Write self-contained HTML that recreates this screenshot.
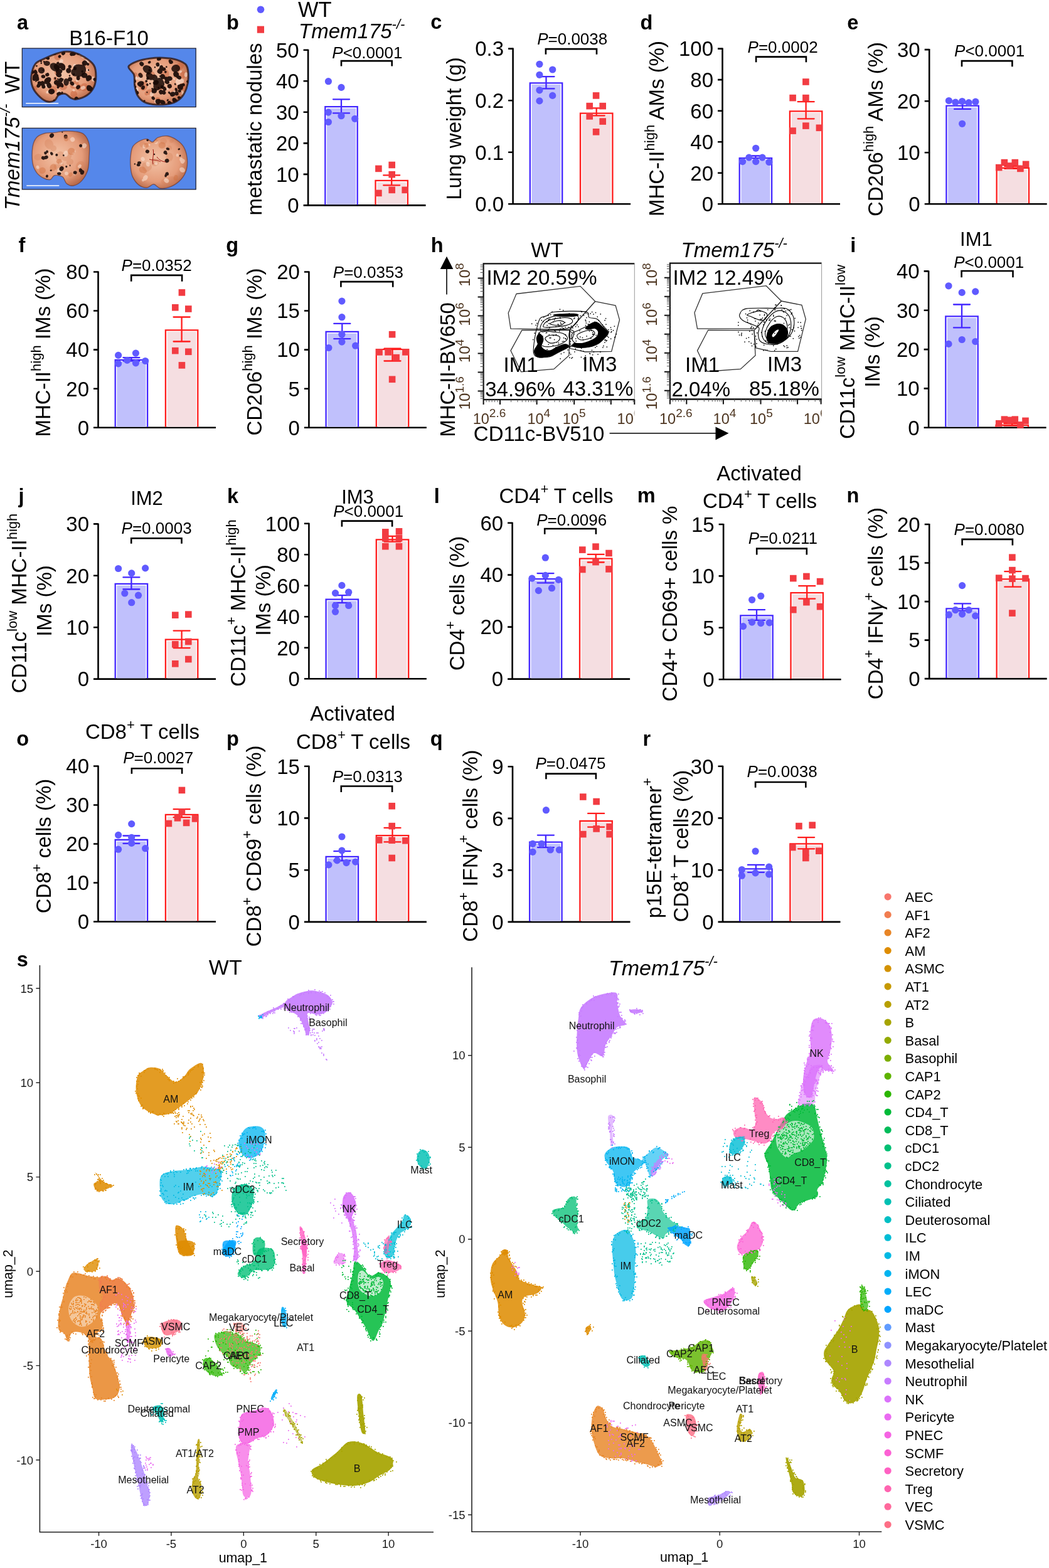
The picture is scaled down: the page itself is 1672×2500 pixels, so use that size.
<!DOCTYPE html><html><head><meta charset="utf-8"><title>Figure</title><style>html,body{margin:0;padding:0;background:#fff;}svg{display:block;}</style></head><body><svg width="1672" height="2500" viewBox="0 0 1672 2500" font-family="'Liberation Sans', Arial, sans-serif">
<rect width="1672" height="2500" fill="#fff"/>
<path d="M483.6 327.4H678.6M491.1 327.4V78.8" stroke="#000" stroke-width="2.6" fill="none"/>
<text x="476.6" y="339.2" font-size="33" text-anchor="end">0</text>
<text x="476.6" y="289.7" font-size="33" text-anchor="end">10</text>
<text x="476.6" y="240.2" font-size="33" text-anchor="end">20</text>
<text x="476.6" y="190.6" font-size="33" text-anchor="end">30</text>
<text x="476.6" y="141.1" font-size="33" text-anchor="end">40</text>
<text x="476.6" y="91.6" font-size="33" text-anchor="end">50</text>
<path d="M483.6 277.9H491.1M483.6 228.4H491.1M483.6 178.8H491.1M483.6 129.3H491.1M483.6 79.8H491.1" stroke="#000" stroke-width="2.6"/>
<rect x="520.9" y="172.8" width="46.2" height="153.4" fill="#c0c0fc"/>
<path d="M518.3 326.4V170.2H569.7V326.4" stroke="#4226ff" stroke-width="2.3" fill="none"/>
<path d="M531 158.3H557M531 180.4H557M544 158.3V180.4" stroke="#4226ff" stroke-width="2.3" stroke-linecap="round"/>
<circle cx="523.4" cy="129.7" r="5.6" fill="#605aff"/>
<circle cx="544" cy="139.4" r="5.6" fill="#605aff"/>
<circle cx="523.4" cy="179.1" r="5.6" fill="#605aff"/>
<circle cx="544" cy="184.7" r="5.6" fill="#605aff"/>
<circle cx="565.7" cy="189.3" r="5.6" fill="#605aff"/>
<circle cx="523.4" cy="194.5" r="5.6" fill="#605aff"/>
<rect x="601.1" y="290.5" width="46.2" height="35.7" fill="#f5dee1"/>
<path d="M598.5 326.4V287.9H649.9V326.4" stroke="#ff1c1c" stroke-width="2.3" fill="none"/>
<path d="M611.2 279.3H637.2M611.2 295.3H637.2M624.2 279.3V295.3" stroke="#ff1c1c" stroke-width="2.3" stroke-linecap="round"/>
<rect x="598.1" y="263.6" width="10.6" height="10.6" fill="#f23c42"/>
<rect x="619.4" y="257.7" width="10.6" height="10.6" fill="#f23c42"/>
<rect x="619.4" y="272.9" width="10.6" height="10.6" fill="#f23c42"/>
<rect x="598.1" y="302.6" width="10.6" height="10.6" fill="#f23c42"/>
<rect x="619.4" y="297.6" width="10.6" height="10.6" fill="#f23c42"/>
<rect x="640.4" y="297.6" width="10.6" height="10.6" fill="#f23c42"/>
<text x="529.3" y="92.8" font-size="26"><tspan font-style="italic">P</tspan>&lt;0.0001</text>
<path d="M544 105.6V97.1H624.7V105.6" stroke="#000" stroke-width="2.6" fill="none"/>
<text transform="translate(417,206) rotate(-90)" font-size="33" text-anchor="middle">metastatic nodules</text>
<text x="360.9" y="46.6" font-size="32.5" font-weight="bold">b</text>
<path d="M810.1 325.2H1005.1M817.6 325.2V76.6" stroke="#000" stroke-width="2.6" fill="none"/>
<text x="803.1" y="337" font-size="33" text-anchor="end">0.0</text>
<text x="803.1" y="254.5" font-size="33" text-anchor="end">0.1</text>
<text x="803.1" y="172" font-size="33" text-anchor="end">0.2</text>
<text x="803.1" y="89.4" font-size="33" text-anchor="end">0.3</text>
<path d="M810.1 242.7H817.6M810.1 160.2H817.6M810.1 77.6H817.6" stroke="#000" stroke-width="2.6"/>
<rect x="847.4" y="134.9" width="46.2" height="189.2" fill="#c0c0fc"/>
<path d="M844.8 324.2V132.3H896.2V324.2" stroke="#4226ff" stroke-width="2.3" fill="none"/>
<path d="M857.5 122.1H883.5M857.5 141.4H883.5M870.5 122.1V141.4" stroke="#4226ff" stroke-width="2.3" stroke-linecap="round"/>
<circle cx="859.9" cy="102.3" r="5.6" fill="#605aff"/>
<circle cx="880.7" cy="111" r="5.6" fill="#605aff"/>
<circle cx="859.9" cy="119.3" r="5.6" fill="#605aff"/>
<circle cx="859.9" cy="143.8" r="5.6" fill="#605aff"/>
<circle cx="880.7" cy="152.4" r="5.6" fill="#605aff"/>
<circle cx="859.9" cy="160.9" r="5.6" fill="#605aff"/>
<rect x="927.6" y="183.2" width="46.2" height="140.8" fill="#f5dee1"/>
<path d="M925 324.2V180.6H976.4V324.2" stroke="#ff1c1c" stroke-width="2.3" fill="none"/>
<path d="M937.7 172.4H963.7M937.7 184.3H963.7M950.7 172.4V184.3" stroke="#ff1c1c" stroke-width="2.3" stroke-linecap="round"/>
<rect x="944.8" y="147.1" width="10.6" height="10.6" fill="#f23c42"/>
<rect x="934.4" y="163.8" width="10.6" height="10.6" fill="#f23c42"/>
<rect x="955.4" y="163.8" width="10.6" height="10.6" fill="#f23c42"/>
<rect x="934.4" y="180.1" width="10.6" height="10.6" fill="#f23c42"/>
<rect x="955.4" y="188.3" width="10.6" height="10.6" fill="#f23c42"/>
<rect x="944.8" y="205" width="10.6" height="10.6" fill="#f23c42"/>
<text x="856.2" y="70.5" font-size="26"><tspan font-style="italic">P</tspan>=0.0038</text>
<path d="M869.9 86.7V78.1H951V86.7" stroke="#000" stroke-width="2.6" fill="none"/>
<text transform="translate(735,205) rotate(-90)" font-size="33" text-anchor="middle">Lung weight (g)</text>
<text x="686.2" y="46" font-size="32.5" font-weight="bold">c</text>
<path d="M1144 325.2H1339M1151.5 325.2V76.6" stroke="#000" stroke-width="2.6" fill="none"/>
<text x="1137" y="337" font-size="33" text-anchor="end">0</text>
<text x="1137" y="287.5" font-size="33" text-anchor="end">20</text>
<text x="1137" y="238" font-size="33" text-anchor="end">40</text>
<text x="1137" y="188.5" font-size="33" text-anchor="end">60</text>
<text x="1137" y="138.9" font-size="33" text-anchor="end">80</text>
<text x="1137" y="89.4" font-size="33" text-anchor="end">100</text>
<path d="M1144 275.7H1151.5M1144 226.2H1151.5M1144 176.7H1151.5M1144 127.1H1151.5M1144 77.6H1151.5" stroke="#000" stroke-width="2.6"/>
<rect x="1181.3" y="254.8" width="46.2" height="69.3" fill="#c0c0fc"/>
<path d="M1178.7 324.2V252.2H1230.1V324.2" stroke="#4226ff" stroke-width="2.3" fill="none"/>
<path d="M1191.4 248.5H1217.4M1191.4 252.2H1217.4M1204.4 248.5V252.2" stroke="#4226ff" stroke-width="2.3" stroke-linecap="round"/>
<circle cx="1204.7" cy="236.3" r="5.6" fill="#605aff"/>
<circle cx="1193.8" cy="251.1" r="5.6" fill="#605aff"/>
<circle cx="1215.1" cy="251.1" r="5.6" fill="#605aff"/>
<circle cx="1183.6" cy="257.6" r="5.6" fill="#605aff"/>
<circle cx="1204.7" cy="257.6" r="5.6" fill="#605aff"/>
<circle cx="1225.9" cy="258.5" r="5.6" fill="#605aff"/>
<rect x="1261.5" y="180" width="46.2" height="144.1" fill="#f5dee1"/>
<path d="M1258.9 324.2V177.4H1310.3V324.2" stroke="#ff1c1c" stroke-width="2.3" fill="none"/>
<path d="M1271.6 162.2H1297.6M1271.6 189.3H1297.6M1284.6 162.2V189.3" stroke="#ff1c1c" stroke-width="2.3" stroke-linecap="round"/>
<rect x="1279.1" y="125.2" width="10.6" height="10.6" fill="#f23c42"/>
<rect x="1258.3" y="150.8" width="10.6" height="10.6" fill="#f23c42"/>
<rect x="1279.1" y="150.8" width="10.6" height="10.6" fill="#f23c42"/>
<rect x="1279.1" y="195.3" width="10.6" height="10.6" fill="#f23c42"/>
<rect x="1258.3" y="203.3" width="10.6" height="10.6" fill="#f23c42"/>
<rect x="1300.6" y="198.5" width="10.6" height="10.6" fill="#f23c42"/>
<text x="1191.6" y="84.1" font-size="26"><tspan font-style="italic">P</tspan>=0.0002</text>
<path d="M1205.1 99.3V90.6H1284.9V99.3" stroke="#000" stroke-width="2.6" fill="none"/>
<text transform="translate(1057.5,205) rotate(-90)" font-size="33" text-anchor="middle">MHC-II<tspan font-size="22" dy="-15">high</tspan><tspan dy="15">​</tspan> AMs (%)</text>
<text x="1020.6" y="46.6" font-size="32.5" font-weight="bold">d</text>
<path d="M1473.7 325.2H1668.7M1481.2 325.2V78.1" stroke="#000" stroke-width="2.6" fill="none"/>
<text x="1466.7" y="337" font-size="33" text-anchor="end">0</text>
<text x="1466.7" y="255" font-size="33" text-anchor="end">10</text>
<text x="1466.7" y="173" font-size="33" text-anchor="end">20</text>
<text x="1466.7" y="90.9" font-size="33" text-anchor="end">30</text>
<path d="M1473.7 243.2H1481.2M1473.7 161.2H1481.2M1473.7 79.1H1481.2" stroke="#000" stroke-width="2.6"/>
<rect x="1511" y="171.3" width="46.2" height="152.7" fill="#c0c0fc"/>
<path d="M1508.4 324.2V168.7H1559.8V324.2" stroke="#4226ff" stroke-width="2.3" fill="none"/>
<path d="M1521.1 164.4H1547.1M1521.1 173.9H1547.1M1534.1 164.4V173.9" stroke="#4226ff" stroke-width="2.3" stroke-linecap="round"/>
<circle cx="1512.4" cy="160.5" r="5.6" fill="#605aff"/>
<circle cx="1522.8" cy="163.1" r="5.6" fill="#605aff"/>
<circle cx="1533.6" cy="161.5" r="5.6" fill="#605aff"/>
<circle cx="1544.1" cy="163.7" r="5.6" fill="#605aff"/>
<circle cx="1554.9" cy="162.2" r="5.6" fill="#605aff"/>
<circle cx="1533.6" cy="197.3" r="5.6" fill="#605aff"/>
<rect x="1591.2" y="270.4" width="46.2" height="53.7" fill="#f5dee1"/>
<path d="M1588.6 324.2V267.8H1640V324.2" stroke="#ff1c1c" stroke-width="2.3" fill="none"/>
<path d="M1601.3 265H1627.3M1601.3 268.9H1627.3M1614.3 265V268.9" stroke="#ff1c1c" stroke-width="2.3" stroke-linecap="round"/>
<rect x="1586.9" y="261.8" width="10.6" height="10.6" fill="#f23c42"/>
<rect x="1595.6" y="253.8" width="10.6" height="10.6" fill="#f23c42"/>
<rect x="1603.8" y="259.2" width="10.6" height="10.6" fill="#f23c42"/>
<rect x="1612.5" y="253.8" width="10.6" height="10.6" fill="#f23c42"/>
<rect x="1621.1" y="263.6" width="10.6" height="10.6" fill="#f23c42"/>
<rect x="1629.8" y="256.6" width="10.6" height="10.6" fill="#f23c42"/>
<text x="1521.1" y="90" font-size="26"><tspan font-style="italic">P</tspan>&lt;0.0001</text>
<path d="M1533 106.2V97.1H1613.4V106.2" stroke="#000" stroke-width="2.6" fill="none"/>
<text transform="translate(1407,206) rotate(-90)" font-size="33" text-anchor="middle">CD206<tspan font-size="22" dy="-15">high</tspan><tspan dy="15">​</tspan> AMs (%)</text>
<text x="1350.2" y="46.6" font-size="32.5" font-weight="bold">e</text>
<path d="M149 681.7H344M156.5 681.7V432.5" stroke="#000" stroke-width="2.6" fill="none"/>
<text x="142" y="693.5" font-size="33" text-anchor="end">0</text>
<text x="142" y="631.5" font-size="33" text-anchor="end">20</text>
<text x="142" y="569.4" font-size="33" text-anchor="end">40</text>
<text x="142" y="507.3" font-size="33" text-anchor="end">60</text>
<text x="142" y="445.3" font-size="33" text-anchor="end">80</text>
<path d="M149 619.7H156.5M149 557.6H156.5M149 495.5H156.5M149 433.5H156.5" stroke="#000" stroke-width="2.6"/>
<rect x="186.3" y="576.4" width="46.2" height="104.2" fill="#c0c0fc"/>
<path d="M183.7 680.7V573.8H235.1V680.7" stroke="#4226ff" stroke-width="2.3" fill="none"/>
<path d="M196.4 570.1H222.4M196.4 575.5H222.4M209.4 570.1V575.5" stroke="#4226ff" stroke-width="2.3" stroke-linecap="round"/>
<circle cx="188.6" cy="566.4" r="5.6" fill="#605aff"/>
<circle cx="216.4" cy="563.1" r="5.6" fill="#605aff"/>
<circle cx="202.7" cy="574.4" r="5.6" fill="#605aff"/>
<circle cx="231.6" cy="575.5" r="5.6" fill="#605aff"/>
<circle cx="188.6" cy="579.8" r="5.6" fill="#605aff"/>
<circle cx="216.4" cy="578.8" r="5.6" fill="#605aff"/>
<rect x="266.5" y="528.9" width="46.2" height="151.7" fill="#f5dee1"/>
<path d="M263.9 680.7V526.3H315.3V680.7" stroke="#ff1c1c" stroke-width="2.3" fill="none"/>
<path d="M276.6 505.5H302.6M276.6 544.5H302.6M289.6 505.5V544.5" stroke="#ff1c1c" stroke-width="2.3" stroke-linecap="round"/>
<rect x="284.6" y="461.1" width="10.6" height="10.6" fill="#f23c42"/>
<rect x="274" y="485" width="10.6" height="10.6" fill="#f23c42"/>
<rect x="295" y="487.2" width="10.6" height="10.6" fill="#f23c42"/>
<rect x="274" y="553.9" width="10.6" height="10.6" fill="#f23c42"/>
<rect x="295" y="555.5" width="10.6" height="10.6" fill="#f23c42"/>
<rect x="284.6" y="577.1" width="10.6" height="10.6" fill="#f23c42"/>
<text x="193.6" y="432.4" font-size="26"><tspan font-style="italic">P</tspan>=0.0352</text>
<path d="M209.2 448.7V438.9H290.1V448.7" stroke="#000" stroke-width="2.6" fill="none"/>
<text transform="translate(80.4,562) rotate(-90)" font-size="33" text-anchor="middle">MHC-II<tspan font-size="22" dy="-15">high</tspan><tspan dy="15">​</tspan> IMs (%)</text>
<text x="29.6" y="402" font-size="32.5" font-weight="bold">f</text>
<path d="M484.9 681.7H679.9M492.4 681.7V432.5" stroke="#000" stroke-width="2.6" fill="none"/>
<text x="477.9" y="693.5" font-size="33" text-anchor="end">0</text>
<text x="477.9" y="631.5" font-size="33" text-anchor="end">5</text>
<text x="477.9" y="569.4" font-size="33" text-anchor="end">10</text>
<text x="477.9" y="507.3" font-size="33" text-anchor="end">15</text>
<text x="477.9" y="445.3" font-size="33" text-anchor="end">20</text>
<path d="M484.9 619.7H492.4M484.9 557.6H492.4M484.9 495.5H492.4M484.9 433.5H492.4" stroke="#000" stroke-width="2.6"/>
<rect x="522.2" y="531.5" width="46.2" height="149.1" fill="#c0c0fc"/>
<path d="M519.6 680.7V528.9H571V680.7" stroke="#4226ff" stroke-width="2.3" fill="none"/>
<path d="M532.3 515.9H558.3M532.3 540.2H558.3M545.3 515.9V540.2" stroke="#4226ff" stroke-width="2.3" stroke-linecap="round"/>
<circle cx="544.9" cy="480.1" r="5.6" fill="#605aff"/>
<circle cx="544.9" cy="505.7" r="5.6" fill="#605aff"/>
<circle cx="544.9" cy="533.2" r="5.6" fill="#605aff"/>
<circle cx="544.9" cy="545.1" r="5.6" fill="#605aff"/>
<circle cx="523.9" cy="554.5" r="5.6" fill="#605aff"/>
<circle cx="566.6" cy="551.2" r="5.6" fill="#605aff"/>
<rect x="602.4" y="559.7" width="46.2" height="120.9" fill="#f5dee1"/>
<path d="M599.8 680.7V557.1H651.2V680.7" stroke="#ff1c1c" stroke-width="2.3" fill="none"/>
<path d="M612.5 555.6H638.5M612.5 575.5H638.5M625.5 555.6V575.5" stroke="#ff1c1c" stroke-width="2.3" stroke-linecap="round"/>
<rect x="619.8" y="527.9" width="10.6" height="10.6" fill="#f23c42"/>
<rect x="599.2" y="556.1" width="10.6" height="10.6" fill="#f23c42"/>
<rect x="613.3" y="556.1" width="10.6" height="10.6" fill="#f23c42"/>
<rect x="641.1" y="556.1" width="10.6" height="10.6" fill="#f23c42"/>
<rect x="626.3" y="564.8" width="10.6" height="10.6" fill="#f23c42"/>
<rect x="619.8" y="599.5" width="10.6" height="10.6" fill="#f23c42"/>
<text x="530.8" y="443.2" font-size="26"><tspan font-style="italic">P</tspan>=0.0353</text>
<path d="M543.4 457.8V449.1H626.2V457.8" stroke="#000" stroke-width="2.6" fill="none"/>
<text transform="translate(417,561) rotate(-90)" font-size="33" text-anchor="middle">CD206<tspan font-size="22" dy="-15">high</tspan><tspan dy="15">​</tspan> IMs (%)</text>
<text x="360.2" y="402" font-size="32.5" font-weight="bold">g</text>
<path d="M1472.6 681.7H1667.6M1480.1 681.7V431.4" stroke="#000" stroke-width="2.6" fill="none"/>
<text x="1465.6" y="693.5" font-size="33" text-anchor="end">0</text>
<text x="1465.6" y="631.2" font-size="33" text-anchor="end">10</text>
<text x="1465.6" y="568.9" font-size="33" text-anchor="end">20</text>
<text x="1465.6" y="506.5" font-size="33" text-anchor="end">30</text>
<text x="1465.6" y="444.2" font-size="33" text-anchor="end">40</text>
<path d="M1472.6 619.4H1480.1M1472.6 557.1H1480.1M1472.6 494.7H1480.1M1472.6 432.4H1480.1" stroke="#000" stroke-width="2.6"/>
<rect x="1509.9" y="507" width="46.2" height="173.6" fill="#c0c0fc"/>
<path d="M1507.3 680.7V504.4H1558.7V680.7" stroke="#4226ff" stroke-width="2.3" fill="none"/>
<path d="M1520 485.5H1546M1520 522.4H1546M1533 485.5V522.4" stroke="#4226ff" stroke-width="2.3" stroke-linecap="round"/>
<circle cx="1512" cy="455.8" r="5.6" fill="#605aff"/>
<circle cx="1533.2" cy="466.4" r="5.6" fill="#605aff"/>
<circle cx="1554.7" cy="464.9" r="5.6" fill="#605aff"/>
<circle cx="1512" cy="548.4" r="5.6" fill="#605aff"/>
<circle cx="1533.2" cy="541.5" r="5.6" fill="#605aff"/>
<circle cx="1554.7" cy="544.5" r="5.6" fill="#605aff"/>
<rect x="1590.1" y="680.4" width="46.2" height="0.1" fill="#f5dee1"/>
<path d="M1587.5 680.7V677.8H1638.9V680.7" stroke="#ff1c1c" stroke-width="2.3" fill="none"/>
<path d="M1600.2 675.2H1626.2M1600.2 678.5H1626.2M1613.2 675.2V678.5" stroke="#ff1c1c" stroke-width="2.3" stroke-linecap="round"/>
<rect x="1586.9" y="669.9" width="10.6" height="10.6" fill="#f23c42"/>
<rect x="1595.6" y="663.4" width="10.6" height="10.6" fill="#f23c42"/>
<rect x="1605.3" y="664.5" width="10.6" height="10.6" fill="#f23c42"/>
<rect x="1612.5" y="663.4" width="10.6" height="10.6" fill="#f23c42"/>
<rect x="1621.1" y="672.1" width="10.6" height="10.6" fill="#f23c42"/>
<rect x="1629.2" y="665.6" width="10.6" height="10.6" fill="#f23c42"/>
<text x="1520.2" y="427" font-size="26"><tspan font-style="italic">P</tspan>&lt;0.0001</text>
<path d="M1532.6 442.2V432H1614.5V442.2" stroke="#000" stroke-width="2.6" fill="none"/>
<text transform="translate(1362,561) rotate(-90)" font-size="33" text-anchor="middle">CD11c<tspan font-size="22" dy="-15">low</tspan><tspan dy="15">​</tspan> MHC-II<tspan font-size="22" dy="-15">low</tspan><tspan dy="15">​</tspan></text>
<text transform="translate(1402.4,561) rotate(-90)" font-size="33" text-anchor="middle">IMs (%)</text>
<text x="1555.9" y="392.3" font-size="31" text-anchor="middle">IM1</text>
<text x="1355.2" y="402" font-size="32.5" font-weight="bold">i</text>
<path d="M149 1082.6H344M156.5 1082.6V834.4" stroke="#000" stroke-width="2.6" fill="none"/>
<text x="142" y="1094.4" font-size="33" text-anchor="end">0</text>
<text x="142" y="1012" font-size="33" text-anchor="end">10</text>
<text x="142" y="929.6" font-size="33" text-anchor="end">20</text>
<text x="142" y="847.2" font-size="33" text-anchor="end">30</text>
<path d="M149 1000.2H156.5M149 917.8H156.5M149 835.4H156.5" stroke="#000" stroke-width="2.6"/>
<rect x="186.3" y="933.4" width="46.2" height="148" fill="#c0c0fc"/>
<path d="M183.7 1081.6V930.8H235.1V1081.6" stroke="#4226ff" stroke-width="2.3" fill="none"/>
<path d="M196.4 920.4H222.4M196.4 939.5H222.4M209.4 920.4V939.5" stroke="#4226ff" stroke-width="2.3" stroke-linecap="round"/>
<circle cx="188.6" cy="906.5" r="5.6" fill="#605aff"/>
<circle cx="231.6" cy="905.9" r="5.6" fill="#605aff"/>
<circle cx="209.7" cy="913.9" r="5.6" fill="#605aff"/>
<circle cx="198.8" cy="946" r="5.6" fill="#605aff"/>
<circle cx="220.5" cy="949.2" r="5.6" fill="#605aff"/>
<circle cx="209.7" cy="960.7" r="5.6" fill="#605aff"/>
<rect x="266.5" y="1022.3" width="46.2" height="59.1" fill="#f5dee1"/>
<path d="M263.9 1081.6V1019.7H315.3V1081.6" stroke="#ff1c1c" stroke-width="2.3" fill="none"/>
<path d="M276.6 1005.6H302.6M276.6 1033.1H302.6M289.6 1005.6V1033.1" stroke="#ff1c1c" stroke-width="2.3" stroke-linecap="round"/>
<rect x="274" y="975.4" width="10.6" height="10.6" fill="#f23c42"/>
<rect x="295" y="974.3" width="10.6" height="10.6" fill="#f23c42"/>
<rect x="274" y="1022" width="10.6" height="10.6" fill="#f23c42"/>
<rect x="295" y="1017.7" width="10.6" height="10.6" fill="#f23c42"/>
<rect x="295" y="1045.8" width="10.6" height="10.6" fill="#f23c42"/>
<rect x="274" y="1053" width="10.6" height="10.6" fill="#f23c42"/>
<text x="193.6" y="850.6" font-size="26"><tspan font-style="italic">P</tspan>=0.0003</text>
<path d="M209.2 866.8V858.2H289.5V866.8" stroke="#000" stroke-width="2.6" fill="none"/>
<text transform="translate(42.1,962) rotate(-90)" font-size="33" text-anchor="middle">CD11c<tspan font-size="22" dy="-15">low</tspan><tspan dy="15">​</tspan> MHC-II<tspan font-size="22" dy="-15">high</tspan><tspan dy="15">​</tspan></text>
<text transform="translate(82.3,958) rotate(-90)" font-size="33" text-anchor="middle">IMs (%)</text>
<text x="234" y="804.6" font-size="31" text-anchor="middle">IM2</text>
<text x="29.6" y="802" font-size="32.5" font-weight="bold">j</text>
<path d="M484.9 1082.2H679.9M492.4 1082.2V833.8" stroke="#000" stroke-width="2.6" fill="none"/>
<text x="477.9" y="1094" font-size="33" text-anchor="end">0</text>
<text x="477.9" y="1044.5" font-size="33" text-anchor="end">20</text>
<text x="477.9" y="995" font-size="33" text-anchor="end">40</text>
<text x="477.9" y="945.5" font-size="33" text-anchor="end">60</text>
<text x="477.9" y="896" font-size="33" text-anchor="end">80</text>
<text x="477.9" y="846.6" font-size="33" text-anchor="end">100</text>
<path d="M484.9 1032.7H492.4M484.9 983.2H492.4M484.9 933.7H492.4M484.9 884.2H492.4M484.9 834.8H492.4" stroke="#000" stroke-width="2.6"/>
<rect x="522.2" y="958.3" width="46.2" height="122.6" fill="#c0c0fc"/>
<path d="M519.6 1081.2V955.7H571V1081.2" stroke="#4226ff" stroke-width="2.3" fill="none"/>
<path d="M532.3 949.2H558.3M532.3 961.2H558.3M545.3 949.2V961.2" stroke="#4226ff" stroke-width="2.3" stroke-linecap="round"/>
<circle cx="544.9" cy="933.4" r="5.6" fill="#605aff"/>
<circle cx="534.5" cy="945.6" r="5.6" fill="#605aff"/>
<circle cx="555.7" cy="944.2" r="5.6" fill="#605aff"/>
<circle cx="534.5" cy="965.5" r="5.6" fill="#605aff"/>
<circle cx="555.7" cy="965.5" r="5.6" fill="#605aff"/>
<circle cx="534.5" cy="975.3" r="5.6" fill="#605aff"/>
<rect x="602.4" y="862.9" width="46.2" height="218" fill="#f5dee1"/>
<path d="M599.8 1081.2V860.3H651.2V1081.2" stroke="#ff1c1c" stroke-width="2.3" fill="none"/>
<path d="M612.5 854.9H638.5M612.5 863.6H638.5M625.5 854.9V863.6" stroke="#ff1c1c" stroke-width="2.3" stroke-linecap="round"/>
<rect x="609" y="843.1" width="10.6" height="10.6" fill="#f23c42"/>
<rect x="630.7" y="842" width="10.6" height="10.6" fill="#f23c42"/>
<rect x="609" y="852.9" width="10.6" height="10.6" fill="#f23c42"/>
<rect x="630.7" y="852.9" width="10.6" height="10.6" fill="#f23c42"/>
<rect x="609" y="865.9" width="10.6" height="10.6" fill="#f23c42"/>
<rect x="630.7" y="865.9" width="10.6" height="10.6" fill="#f23c42"/>
<text x="531.2" y="824.1" font-size="26"><tspan font-style="italic">P</tspan>&lt;0.0001</text>
<path d="M544.9 839.7V830.6H625.1V839.7" stroke="#000" stroke-width="2.6" fill="none"/>
<text transform="translate(391,961.5) rotate(-90)" font-size="33" text-anchor="middle">CD11c<tspan font-size="22" dy="-15">+</tspan><tspan dy="15">​</tspan> MHC-II<tspan font-size="22" dy="-15">high</tspan><tspan dy="15">​</tspan></text>
<text transform="translate(431,957) rotate(-90)" font-size="33" text-anchor="middle">IMs (%)</text>
<text x="570" y="802.9" font-size="31" text-anchor="middle">IM3</text>
<text x="362" y="801.8" font-size="32.5" font-weight="bold">k</text>
<path d="M809.1 1082.6H1004.1M816.6 1082.6V832.7" stroke="#000" stroke-width="2.6" fill="none"/>
<text x="802.1" y="1094.4" font-size="33" text-anchor="end">0</text>
<text x="802.1" y="1011.4" font-size="33" text-anchor="end">20</text>
<text x="802.1" y="928.4" font-size="33" text-anchor="end">40</text>
<text x="802.1" y="845.5" font-size="33" text-anchor="end">60</text>
<path d="M809.1 999.6H816.6M809.1 916.6H816.6M809.1 833.7H816.6" stroke="#000" stroke-width="2.6"/>
<rect x="846.4" y="925.8" width="46.2" height="155.6" fill="#c0c0fc"/>
<path d="M843.8 1081.6V923.2H895.2V1081.6" stroke="#4226ff" stroke-width="2.3" fill="none"/>
<path d="M856.5 914.1H882.5M856.5 929.3H882.5M869.5 914.1V929.3" stroke="#4226ff" stroke-width="2.3" stroke-linecap="round"/>
<circle cx="869.3" cy="889.2" r="5.6" fill="#605aff"/>
<circle cx="869.3" cy="917.4" r="5.6" fill="#605aff"/>
<circle cx="848" cy="922.1" r="5.6" fill="#605aff"/>
<circle cx="890.3" cy="924.3" r="5.6" fill="#605aff"/>
<circle cx="858.4" cy="941.6" r="5.6" fill="#605aff"/>
<circle cx="879.5" cy="937.7" r="5.6" fill="#605aff"/>
<rect x="926.6" y="893.3" width="46.2" height="188.1" fill="#f5dee1"/>
<path d="M924 1081.6V890.7H975.4V1081.6" stroke="#ff1c1c" stroke-width="2.3" fill="none"/>
<path d="M936.7 883.8H962.7M936.7 896.5H962.7M949.7 883.8V896.5" stroke="#ff1c1c" stroke-width="2.3" stroke-linecap="round"/>
<rect x="923" y="871.3" width="10.6" height="10.6" fill="#f23c42"/>
<rect x="944.2" y="866.3" width="10.6" height="10.6" fill="#f23c42"/>
<rect x="965.2" y="876.7" width="10.6" height="10.6" fill="#f23c42"/>
<rect x="944.2" y="890.8" width="10.6" height="10.6" fill="#f23c42"/>
<rect x="923" y="902.7" width="10.6" height="10.6" fill="#f23c42"/>
<rect x="965.2" y="902.1" width="10.6" height="10.6" fill="#f23c42"/>
<text x="855.2" y="838" font-size="26"><tspan font-style="italic">P</tspan>=0.0096</text>
<path d="M868.2 851.7V843H949.9V851.7" stroke="#000" stroke-width="2.6" fill="none"/>
<text transform="translate(739.6,962) rotate(-90)" font-size="33" text-anchor="middle">CD4<tspan font-size="22" dy="-15">+</tspan><tspan dy="15">​</tspan> cells (%)</text>
<text x="886.5" y="802.4" font-size="33" text-anchor="middle">CD4<tspan font-size="22" dy="-15">+</tspan><tspan dy="15">​</tspan> T cells</text>
<text x="691.8" y="801.8" font-size="32.5" font-weight="bold">l</text>
<path d="M1145.6 1083.2H1340.6M1153.1 1083.2V835" stroke="#000" stroke-width="2.6" fill="none"/>
<text x="1138.6" y="1095" font-size="33" text-anchor="end">0</text>
<text x="1138.6" y="1012.6" font-size="33" text-anchor="end">5</text>
<text x="1138.6" y="930.2" font-size="33" text-anchor="end">10</text>
<text x="1138.6" y="847.8" font-size="33" text-anchor="end">15</text>
<path d="M1145.6 1000.8H1153.1M1145.6 918.4H1153.1M1145.6 836H1153.1" stroke="#000" stroke-width="2.6"/>
<rect x="1182.9" y="983.9" width="46.2" height="98.1" fill="#c0c0fc"/>
<path d="M1180.3 1082.2V981.3H1231.7V1082.2" stroke="#4226ff" stroke-width="2.3" fill="none"/>
<path d="M1193 972.2H1219M1193 988.9H1219M1206 972.2V988.9" stroke="#4226ff" stroke-width="2.3" stroke-linecap="round"/>
<circle cx="1212.7" cy="950.3" r="5.6" fill="#605aff"/>
<circle cx="1198.6" cy="956.3" r="5.6" fill="#605aff"/>
<circle cx="1198.6" cy="992.1" r="5.6" fill="#605aff"/>
<circle cx="1212.7" cy="993.6" r="5.6" fill="#605aff"/>
<circle cx="1226.4" cy="992.8" r="5.6" fill="#605aff"/>
<circle cx="1184.5" cy="998.6" r="5.6" fill="#605aff"/>
<rect x="1263.1" y="947.7" width="46.2" height="134.3" fill="#f5dee1"/>
<path d="M1260.5 1082.2V945.1H1311.9V1082.2" stroke="#ff1c1c" stroke-width="2.3" fill="none"/>
<path d="M1273.2 934.2H1299.2M1273.2 954.6H1299.2M1286.2 934.2V954.6" stroke="#ff1c1c" stroke-width="2.3" stroke-linecap="round"/>
<rect x="1259" y="916.8" width="10.6" height="10.6" fill="#f23c42"/>
<rect x="1280.1" y="913.7" width="10.6" height="10.6" fill="#f23c42"/>
<rect x="1301.8" y="921.8" width="10.6" height="10.6" fill="#f23c42"/>
<rect x="1280.1" y="954.9" width="10.6" height="10.6" fill="#f23c42"/>
<rect x="1259" y="966.9" width="10.6" height="10.6" fill="#f23c42"/>
<rect x="1301.8" y="961.9" width="10.6" height="10.6" fill="#f23c42"/>
<text x="1192.8" y="867.4" font-size="26"><tspan font-style="italic">P</tspan>=0.0211</text>
<path d="M1206.2 884.4V874.6H1285.8V884.4" stroke="#000" stroke-width="2.6" fill="none"/>
<text transform="translate(1078.8,962.5) rotate(-90)" font-size="33" text-anchor="middle">CD4+ CD69+ cells %</text>
<text x="1210" y="765.5" font-size="33" text-anchor="middle">Activated</text>
<text x="1211" y="810" font-size="33" text-anchor="middle">CD4<tspan font-size="22" dy="-15">+</tspan><tspan dy="15">​</tspan> T cells</text>
<text x="1015.7" y="801.3" font-size="32.5" font-weight="bold">m</text>
<path d="M1473.7 1082.1H1668.7M1481.2 1082.1V835" stroke="#000" stroke-width="2.6" fill="none"/>
<text x="1466.7" y="1093.9" font-size="33" text-anchor="end">0</text>
<text x="1466.7" y="1032.4" font-size="33" text-anchor="end">5</text>
<text x="1466.7" y="970.9" font-size="33" text-anchor="end">10</text>
<text x="1466.7" y="909.3" font-size="33" text-anchor="end">15</text>
<text x="1466.7" y="847.8" font-size="33" text-anchor="end">20</text>
<path d="M1473.7 1020.6H1481.2M1473.7 959.1H1481.2M1473.7 897.5H1481.2M1473.7 836H1481.2" stroke="#000" stroke-width="2.6"/>
<rect x="1511" y="973" width="46.2" height="107.9" fill="#c0c0fc"/>
<path d="M1508.4 1081.1V970.4H1559.8V1081.1" stroke="#4226ff" stroke-width="2.3" fill="none"/>
<path d="M1521.1 962.4H1547.1M1521.1 973.7H1547.1M1534.1 962.4V973.7" stroke="#4226ff" stroke-width="2.3" stroke-linecap="round"/>
<circle cx="1533.6" cy="933.6" r="5.6" fill="#605aff"/>
<circle cx="1522.8" cy="972.6" r="5.6" fill="#605aff"/>
<circle cx="1544.1" cy="972.6" r="5.6" fill="#605aff"/>
<circle cx="1533.6" cy="979.1" r="5.6" fill="#605aff"/>
<circle cx="1512.4" cy="980.2" r="5.6" fill="#605aff"/>
<circle cx="1554.7" cy="981.9" r="5.6" fill="#605aff"/>
<rect x="1591.2" y="926" width="46.2" height="154.9" fill="#f5dee1"/>
<path d="M1588.6 1081.1V923.4H1640V1081.1" stroke="#ff1c1c" stroke-width="2.3" fill="none"/>
<path d="M1601.3 911.2H1627.3M1601.3 935.7H1627.3M1614.3 911.2V935.7" stroke="#ff1c1c" stroke-width="2.3" stroke-linecap="round"/>
<rect x="1608.1" y="883.4" width="10.6" height="10.6" fill="#f23c42"/>
<rect x="1608.1" y="903.8" width="10.6" height="10.6" fill="#f23c42"/>
<rect x="1586.9" y="916.3" width="10.6" height="10.6" fill="#f23c42"/>
<rect x="1608.1" y="917.4" width="10.6" height="10.6" fill="#f23c42"/>
<rect x="1629.2" y="916.8" width="10.6" height="10.6" fill="#f23c42"/>
<rect x="1608.1" y="972.3" width="10.6" height="10.6" fill="#f23c42"/>
<text x="1520.6" y="853.3" font-size="26"><tspan font-style="italic">P</tspan>=0.0080</text>
<path d="M1533.6 869.6V859.9H1613.9V869.6" stroke="#000" stroke-width="2.6" fill="none"/>
<text transform="translate(1407,962) rotate(-90)" font-size="33" text-anchor="middle">CD4<tspan font-size="22" dy="-15">+</tspan><tspan dy="15">​</tspan> IFN<tspan font-style="italic">γ</tspan><tspan font-size="22" dy="-15">+</tspan><tspan dy="15">​</tspan> cells (%)</text>
<text x="1349.6" y="801.3" font-size="32.5" font-weight="bold">n</text>
<path d="M149 1469.5H344M156.5 1469.5V1220.5" stroke="#000" stroke-width="2.6" fill="none"/>
<text x="142" y="1481.3" font-size="33" text-anchor="end">0</text>
<text x="142" y="1419.3" font-size="33" text-anchor="end">10</text>
<text x="142" y="1357.3" font-size="33" text-anchor="end">20</text>
<text x="142" y="1295.3" font-size="33" text-anchor="end">30</text>
<text x="142" y="1233.3" font-size="33" text-anchor="end">40</text>
<path d="M149 1407.5H156.5M149 1345.5H156.5M149 1283.5H156.5M149 1221.5H156.5" stroke="#000" stroke-width="2.6"/>
<rect x="186.3" y="1341.6" width="46.2" height="126.7" fill="#c0c0fc"/>
<path d="M183.7 1468.5V1339H235.1V1468.5" stroke="#4226ff" stroke-width="2.3" fill="none"/>
<path d="M196.4 1332.5H222.4M196.4 1344.8H222.4M209.4 1332.5V1344.8" stroke="#4226ff" stroke-width="2.3" stroke-linecap="round"/>
<circle cx="209.7" cy="1313.6" r="5.6" fill="#605aff"/>
<circle cx="188.6" cy="1331.4" r="5.6" fill="#605aff"/>
<circle cx="209.7" cy="1335.3" r="5.6" fill="#605aff"/>
<circle cx="209.7" cy="1344.4" r="5.6" fill="#605aff"/>
<circle cx="188.6" cy="1354.2" r="5.6" fill="#605aff"/>
<circle cx="231.6" cy="1352.7" r="5.6" fill="#605aff"/>
<rect x="266.5" y="1301.5" width="46.2" height="166.8" fill="#f5dee1"/>
<path d="M263.9 1468.5V1298.9H315.3V1468.5" stroke="#ff1c1c" stroke-width="2.3" fill="none"/>
<path d="M276.6 1290.2H302.6M276.6 1303.2H302.6M289.6 1290.2V1303.2" stroke="#ff1c1c" stroke-width="2.3" stroke-linecap="round"/>
<rect x="284.6" y="1254.6" width="10.6" height="10.6" fill="#f23c42"/>
<rect x="284.6" y="1289.2" width="10.6" height="10.6" fill="#f23c42"/>
<rect x="277.7" y="1299" width="10.6" height="10.6" fill="#f23c42"/>
<rect x="305.8" y="1300.1" width="10.6" height="10.6" fill="#f23c42"/>
<rect x="263.6" y="1307.7" width="10.6" height="10.6" fill="#f23c42"/>
<rect x="291.8" y="1306.6" width="10.6" height="10.6" fill="#f23c42"/>
<text x="196.2" y="1216.5" font-size="26"><tspan font-style="italic">P</tspan>=0.0027</text>
<path d="M209.9 1233.8V1225.2H290.1V1233.8" stroke="#000" stroke-width="2.6" fill="none"/>
<text transform="translate(81,1349) rotate(-90)" font-size="33" text-anchor="middle">CD8<tspan font-size="22" dy="-15">+</tspan><tspan dy="15">​</tspan> cells (%)</text>
<text x="227" y="1178.1" font-size="33" text-anchor="middle">CD8<tspan font-size="22" dy="-15">+</tspan><tspan dy="15">​</tspan> T cells</text>
<text x="26.3" y="1189" font-size="32.5" font-weight="bold">o</text>
<path d="M484.9 1469.9H679.9M492.4 1469.9V1220.7" stroke="#000" stroke-width="2.6" fill="none"/>
<text x="477.9" y="1481.7" font-size="33" text-anchor="end">0</text>
<text x="477.9" y="1399" font-size="33" text-anchor="end">5</text>
<text x="477.9" y="1316.2" font-size="33" text-anchor="end">10</text>
<text x="477.9" y="1233.5" font-size="33" text-anchor="end">15</text>
<path d="M484.9 1387.2H492.4M484.9 1304.4H492.4M484.9 1221.7H492.4" stroke="#000" stroke-width="2.6"/>
<rect x="522.2" y="1368.5" width="46.2" height="100.3" fill="#c0c0fc"/>
<path d="M519.6 1468.9V1365.9H571V1468.9" stroke="#4226ff" stroke-width="2.3" fill="none"/>
<path d="M532.3 1357.2H558.3M532.3 1372.4H558.3M545.3 1357.2V1372.4" stroke="#4226ff" stroke-width="2.3" stroke-linecap="round"/>
<circle cx="544.9" cy="1334" r="5.6" fill="#605aff"/>
<circle cx="544.9" cy="1356.1" r="5.6" fill="#605aff"/>
<circle cx="537.3" cy="1371.9" r="5.6" fill="#605aff"/>
<circle cx="523.9" cy="1378.9" r="5.6" fill="#605aff"/>
<circle cx="552.1" cy="1375.6" r="5.6" fill="#605aff"/>
<circle cx="566.6" cy="1374.1" r="5.6" fill="#605aff"/>
<rect x="602.4" y="1334.8" width="46.2" height="133.9" fill="#f5dee1"/>
<path d="M599.8 1468.9V1332.2H651.2V1468.9" stroke="#ff1c1c" stroke-width="2.3" fill="none"/>
<path d="M612.5 1319.9H638.5M612.5 1342.4H638.5M625.5 1319.9V1342.4" stroke="#ff1c1c" stroke-width="2.3" stroke-linecap="round"/>
<rect x="619.4" y="1279.9" width="10.6" height="10.6" fill="#f23c42"/>
<rect x="619.4" y="1311.8" width="10.6" height="10.6" fill="#f23c42"/>
<rect x="598.8" y="1334.1" width="10.6" height="10.6" fill="#f23c42"/>
<rect x="619.4" y="1334.5" width="10.6" height="10.6" fill="#f23c42"/>
<rect x="641.1" y="1335" width="10.6" height="10.6" fill="#f23c42"/>
<rect x="619.4" y="1362.7" width="10.6" height="10.6" fill="#f23c42"/>
<text x="529.7" y="1247" font-size="26"><tspan font-style="italic">P</tspan>=0.0313</text>
<path d="M543.8 1262.9V1253.5H625.1V1262.9" stroke="#000" stroke-width="2.6" fill="none"/>
<text transform="translate(416,1349) rotate(-90)" font-size="33" text-anchor="middle">CD8<tspan font-size="22" dy="-15">+</tspan><tspan dy="15">​</tspan> CD69<tspan font-size="22" dy="-15">+</tspan><tspan dy="15">​</tspan> cells (%)</text>
<text x="562" y="1148.6" font-size="33" text-anchor="middle">Activated</text>
<text x="563" y="1193.5" font-size="33" text-anchor="middle">CD8<tspan font-size="22" dy="-15">+</tspan><tspan dy="15">​</tspan> T cells</text>
<text x="360.9" y="1189" font-size="32.5" font-weight="bold">p</text>
<path d="M809.5 1469.9H1004.5M817 1469.9V1221.3" stroke="#000" stroke-width="2.6" fill="none"/>
<text x="802.5" y="1481.7" font-size="33" text-anchor="end">0</text>
<text x="802.5" y="1399.2" font-size="33" text-anchor="end">3</text>
<text x="802.5" y="1316.7" font-size="33" text-anchor="end">6</text>
<text x="802.5" y="1234.1" font-size="33" text-anchor="end">9</text>
<path d="M809.5 1387.4H817M809.5 1304.9H817M809.5 1222.3H817" stroke="#000" stroke-width="2.6"/>
<rect x="846.8" y="1345.3" width="46.2" height="123.5" fill="#c0c0fc"/>
<path d="M844.2 1468.9V1342.7H895.6V1468.9" stroke="#4226ff" stroke-width="2.3" fill="none"/>
<path d="M856.9 1331.6H882.9M856.9 1351.1H882.9M869.9 1331.6V1351.1" stroke="#4226ff" stroke-width="2.3" stroke-linecap="round"/>
<circle cx="870.4" cy="1291.7" r="5.6" fill="#605aff"/>
<circle cx="849.1" cy="1345.3" r="5.6" fill="#605aff"/>
<circle cx="863.2" cy="1345.3" r="5.6" fill="#605aff"/>
<circle cx="849.1" cy="1358.3" r="5.6" fill="#605aff"/>
<circle cx="877.3" cy="1355" r="5.6" fill="#605aff"/>
<circle cx="891.4" cy="1355" r="5.6" fill="#605aff"/>
<rect x="927" y="1311.6" width="46.2" height="157.1" fill="#f5dee1"/>
<path d="M924.4 1468.9V1309H975.8V1468.9" stroke="#ff1c1c" stroke-width="2.3" fill="none"/>
<path d="M937.1 1296.9H963.1M937.1 1318.6H963.1M950.1 1296.9V1318.6" stroke="#ff1c1c" stroke-width="2.3" stroke-linecap="round"/>
<rect x="924" y="1265.2" width="10.6" height="10.6" fill="#f23c42"/>
<rect x="945.3" y="1272.7" width="10.6" height="10.6" fill="#f23c42"/>
<rect x="966.3" y="1312.9" width="10.6" height="10.6" fill="#f23c42"/>
<rect x="924" y="1324.8" width="10.6" height="10.6" fill="#f23c42"/>
<rect x="945.3" y="1316.1" width="10.6" height="10.6" fill="#f23c42"/>
<rect x="966.3" y="1324.8" width="10.6" height="10.6" fill="#f23c42"/>
<text x="853.5" y="1226" font-size="26"><tspan font-style="italic">P</tspan>=0.0475</text>
<path d="M870.4 1242.3V1233.6H949.9V1242.3" stroke="#000" stroke-width="2.6" fill="none"/>
<text transform="translate(760.6,1348.5) rotate(-90)" font-size="33" text-anchor="middle">CD8<tspan font-size="22" dy="-15">+</tspan><tspan dy="15">​</tspan> IFN<tspan font-style="italic">γ</tspan><tspan font-size="22" dy="-15">+</tspan><tspan dy="15">​</tspan> cells (%)</text>
<text x="685.7" y="1189" font-size="32.5" font-weight="bold">q</text>
<path d="M1144.5 1469.9H1339.5M1152 1469.9V1220.7" stroke="#000" stroke-width="2.6" fill="none"/>
<text x="1137.5" y="1481.7" font-size="33" text-anchor="end">0</text>
<text x="1137.5" y="1399" font-size="33" text-anchor="end">10</text>
<text x="1137.5" y="1316.2" font-size="33" text-anchor="end">20</text>
<text x="1137.5" y="1233.5" font-size="33" text-anchor="end">30</text>
<path d="M1144.5 1387.2H1152M1144.5 1304.4H1152M1144.5 1221.7H1152" stroke="#000" stroke-width="2.6"/>
<rect x="1181.8" y="1388" width="46.2" height="80.8" fill="#c0c0fc"/>
<path d="M1179.2 1468.9V1385.4H1230.6V1468.9" stroke="#4226ff" stroke-width="2.3" fill="none"/>
<path d="M1191.9 1378.9H1217.9M1191.9 1390.8H1217.9M1204.9 1378.9V1390.8" stroke="#4226ff" stroke-width="2.3" stroke-linecap="round"/>
<circle cx="1204.1" cy="1357.2" r="5.6" fill="#605aff"/>
<circle cx="1182.4" cy="1386.5" r="5.6" fill="#605aff"/>
<circle cx="1225.7" cy="1382.1" r="5.6" fill="#605aff"/>
<circle cx="1204.1" cy="1391.9" r="5.6" fill="#605aff"/>
<circle cx="1182.4" cy="1396.2" r="5.6" fill="#605aff"/>
<circle cx="1225.7" cy="1394" r="5.6" fill="#605aff"/>
<rect x="1262" y="1347.9" width="46.2" height="120.9" fill="#f5dee1"/>
<path d="M1259.4 1468.9V1345.3H1310.8V1468.9" stroke="#ff1c1c" stroke-width="2.3" fill="none"/>
<path d="M1272.1 1335.1H1298.1M1272.1 1353.3H1298.1M1285.1 1335.1V1353.3" stroke="#ff1c1c" stroke-width="2.3" stroke-linecap="round"/>
<rect x="1268.1" y="1311.8" width="10.6" height="10.6" fill="#f23c42"/>
<rect x="1289.4" y="1310.3" width="10.6" height="10.6" fill="#f23c42"/>
<rect x="1258" y="1345.8" width="10.6" height="10.6" fill="#f23c42"/>
<rect x="1279" y="1354" width="10.6" height="10.6" fill="#f23c42"/>
<rect x="1300" y="1351.4" width="10.6" height="10.6" fill="#f23c42"/>
<rect x="1279" y="1362.7" width="10.6" height="10.6" fill="#f23c42"/>
<text x="1190.6" y="1239" font-size="26"><tspan font-style="italic">P</tspan>=0.0038</text>
<path d="M1204.1 1255.7V1247H1284.3V1255.7" stroke="#000" stroke-width="2.6" fill="none"/>
<text transform="translate(1054.4,1352) rotate(-90)" font-size="33" text-anchor="middle">p15E-tetramer<tspan font-size="22" dy="-15">+</tspan><tspan dy="15">​</tspan></text>
<text transform="translate(1096.7,1349) rotate(-90)" font-size="33" text-anchor="middle">CD8<tspan font-size="22" dy="-15">+</tspan><tspan dy="15">​</tspan> T cells (%)</text>
<text x="1024.4" y="1189" font-size="32.5" font-weight="bold">r</text>
<text x="27" y="46.6" font-size="32.5" font-weight="bold">a</text>
<text x="173.5" y="71.6" font-size="33" text-anchor="middle">B16-F10</text>
<text transform="translate(31.4,123.6) rotate(-90)" font-size="33" text-anchor="middle">WT</text>
<text transform="translate(31.4,250.4) rotate(-90)" font-size="33" text-anchor="middle"><tspan font-style="italic">Tmem175</tspan><tspan font-size="22" dy="-15" font-style="italic">-/-</tspan></text>
<defs><radialGradient id="lg" cx="45%" cy="45%" r="60%"><stop offset="0" stop-color="#f3c4a8"/><stop offset="0.7" stop-color="#e59c7a"/><stop offset="1" stop-color="#b86a4a"/></radialGradient><clipPath id="ca1"><rect x="35.3" y="77" width="276.9" height="93.6"/></clipPath><clipPath id="ca2"><rect x="35.3" y="204.3" width="276.9" height="97.7"/></clipPath></defs>
<rect x="35.3" y="77" width="276.9" height="93.6" fill="#5587ea" stroke="#1a1a2a" stroke-width="1.2"/>
<rect x="35.3" y="204.3" width="276.9" height="97.7" fill="#5587ea" stroke="#1a1a2a" stroke-width="1.2"/>
<clipPath id="lc0"><path d="M49.9 121.4C50.6 115.3 52.8 106.6 56.4 101.9C60 97.2 66.5 95.8 71.6 93.2C76.6 90.7 81.7 88.5 86.7 86.7C91.8 84.9 96.8 82.9 101.9 82.4C107 81.9 111.7 82 117.1 83.5C122.5 84.9 129 87.6 134.4 91.1C139.9 94.5 146.5 99 149.6 104.1C152.7 109.1 152.9 115.6 152.9 121.4C152.9 127.2 152 133.7 149.6 138.8C147.3 143.8 143.5 148.5 138.8 151.8C134.1 155 125.8 157.6 121.4 158.3C117.1 159 115.6 157.6 112.7 156.1C109.9 154.7 107.3 150.3 104.1 149.6C100.8 148.9 96.1 150 93.2 151.8C90.3 153.6 90 158.8 86.7 160.5C83.5 162.1 78.1 163 73.7 161.5C69.4 160.1 64.3 155.6 60.7 151.8C57.1 148 53.8 143.8 52 138.8C50.2 133.7 49.1 127.6 49.9 121.4Z"/></clipPath>
<path d="M49.9 121.4C50.6 115.3 52.8 106.6 56.4 101.9C60 97.2 66.5 95.8 71.6 93.2C76.6 90.7 81.7 88.5 86.7 86.7C91.8 84.9 96.8 82.9 101.9 82.4C107 81.9 111.7 82 117.1 83.5C122.5 84.9 129 87.6 134.4 91.1C139.9 94.5 146.5 99 149.6 104.1C152.7 109.1 152.9 115.6 152.9 121.4C152.9 127.2 152 133.7 149.6 138.8C147.3 143.8 143.5 148.5 138.8 151.8C134.1 155 125.8 157.6 121.4 158.3C117.1 159 115.6 157.6 112.7 156.1C109.9 154.7 107.3 150.3 104.1 149.6C100.8 148.9 96.1 150 93.2 151.8C90.3 153.6 90 158.8 86.7 160.5C83.5 162.1 78.1 163 73.7 161.5C69.4 160.1 64.3 155.6 60.7 151.8C57.1 148 53.8 143.8 52 138.8C50.2 133.7 49.1 127.6 49.9 121.4Z" fill="url(#lg)"/>
<clipPath id="lc1"><path d="M204.9 106.2C205.8 102.6 213.4 99.7 219 97.6C224.6 95.4 231.6 94.1 238.5 93.2C245.4 92.3 253 91.8 260.2 92.2C267.4 92.5 275.7 93.4 281.9 95.4C288 97.4 294 99.4 297.1 104.1C300.1 108.8 300.3 117.4 300.3 123.6C300.3 129.7 299 135.5 297.1 140.9C295.1 146.4 292.4 152.1 288.4 156.1C284.4 160.1 279.7 163 273.2 164.8C266.7 166.6 256.6 167.3 249.3 167C242.1 166.6 234.9 165.1 229.8 162.6C224.8 160.1 221.5 156.1 219 151.8C216.5 147.4 215.6 142 214.7 136.6C213.8 131.2 215.2 124.3 213.6 119.3C211.9 114.2 204 109.9 204.9 106.2Z"/></clipPath>
<path d="M204.9 106.2C205.8 102.6 213.4 99.7 219 97.6C224.6 95.4 231.6 94.1 238.5 93.2C245.4 92.3 253 91.8 260.2 92.2C267.4 92.5 275.7 93.4 281.9 95.4C288 97.4 294 99.4 297.1 104.1C300.1 108.8 300.3 117.4 300.3 123.6C300.3 129.7 299 135.5 297.1 140.9C295.1 146.4 292.4 152.1 288.4 156.1C284.4 160.1 279.7 163 273.2 164.8C266.7 166.6 256.6 167.3 249.3 167C242.1 166.6 234.9 165.1 229.8 162.6C224.8 160.1 221.5 156.1 219 151.8C216.5 147.4 215.6 142 214.7 136.6C213.8 131.2 215.2 124.3 213.6 119.3C211.9 114.2 204 109.9 204.9 106.2Z" fill="url(#lg)"/>
<clipPath id="lc2"><path d="M52 234.2C53.1 227.3 55.3 222.6 58.5 219C61.8 215.4 66.9 213.8 71.6 212.5C76.3 211.2 81.7 211.9 86.7 211.4C91.8 210.9 96.1 209.5 101.9 209.2C107.7 209 116 209 121.4 209.9C126.8 210.8 131 211.3 134.4 214.7C137.9 218 140.8 224.1 142 229.8C143.3 235.6 142.4 242.5 142 249.3C141.7 256.2 141.8 264.5 139.9 271C137.9 277.5 133.9 284.2 130.1 288.4C126.3 292.5 121.1 295.2 117.1 296C113.1 296.7 109.1 295.1 106.2 292.7C103.4 290.4 103 284 99.7 281.9C96.5 279.7 90 279 86.7 279.7C83.5 280.4 83.1 285.5 80.2 286.2C77.3 286.9 73 285.8 69.4 284C65.8 282.2 61.4 279.3 58.5 275.4C55.7 271.4 53.1 267.1 52 260.2C51 253.3 51 241 52 234.2Z"/></clipPath>
<path d="M52 234.2C53.1 227.3 55.3 222.6 58.5 219C61.8 215.4 66.9 213.8 71.6 212.5C76.3 211.2 81.7 211.9 86.7 211.4C91.8 210.9 96.1 209.5 101.9 209.2C107.7 209 116 209 121.4 209.9C126.8 210.8 131 211.3 134.4 214.7C137.9 218 140.8 224.1 142 229.8C143.3 235.6 142.4 242.5 142 249.3C141.7 256.2 141.8 264.5 139.9 271C137.9 277.5 133.9 284.2 130.1 288.4C126.3 292.5 121.1 295.2 117.1 296C113.1 296.7 109.1 295.1 106.2 292.7C103.4 290.4 103 284 99.7 281.9C96.5 279.7 90 279 86.7 279.7C83.5 280.4 83.1 285.5 80.2 286.2C77.3 286.9 73 285.8 69.4 284C65.8 282.2 61.4 279.3 58.5 275.4C55.7 271.4 53.1 267.1 52 260.2C51 253.3 51 241 52 234.2Z" fill="url(#lg)"/>
<clipPath id="lc3"><path d="M208.2 249.3C208.7 243.9 209.2 238.1 211.4 234.2C213.6 230.2 217.4 227.6 221.2 225.5C225 223.4 230.6 221.4 234.2 221.6C237.8 221.8 240 226.9 242.8 226.6C245.7 226.2 247.5 221.1 251.5 219.4C255.5 217.8 261.6 216.2 266.7 216.8C271.8 217.5 277.5 220.4 281.9 223.3C286.2 226.2 290 229.5 292.7 234.2C295.4 238.9 297.4 245.4 298.1 251.5C298.9 257.7 298.7 265.3 297.1 271C295.4 276.8 292.4 281.9 288.4 286.2C284.4 290.5 278.6 294.7 273.2 297.1C267.8 299.4 260.6 300.8 255.9 300.3C251.2 299.8 248.6 294 245 293.8C241.4 293.6 238.1 299 234.2 299.2C230.2 299.4 225 297.8 221.2 294.9C217.4 292 213.6 286.6 211.4 281.9C209.2 277.2 208.7 272.1 208.2 266.7C207.6 261.3 207.6 254.8 208.2 249.3Z"/></clipPath>
<path d="M208.2 249.3C208.7 243.9 209.2 238.1 211.4 234.2C213.6 230.2 217.4 227.6 221.2 225.5C225 223.4 230.6 221.4 234.2 221.6C237.8 221.8 240 226.9 242.8 226.6C245.7 226.2 247.5 221.1 251.5 219.4C255.5 217.8 261.6 216.2 266.7 216.8C271.8 217.5 277.5 220.4 281.9 223.3C286.2 226.2 290 229.5 292.7 234.2C295.4 238.9 297.4 245.4 298.1 251.5C298.9 257.7 298.7 265.3 297.1 271C295.4 276.8 292.4 281.9 288.4 286.2C284.4 290.5 278.6 294.7 273.2 297.1C267.8 299.4 260.6 300.8 255.9 300.3C251.2 299.8 248.6 294 245 293.8C241.4 293.6 238.1 299 234.2 299.2C230.2 299.4 225 297.8 221.2 294.9C217.4 292 213.6 286.6 211.4 281.9C209.2 277.2 208.7 272.1 208.2 266.7C207.6 261.3 207.6 254.8 208.2 249.3Z" fill="url(#lg)"/>
<g clip-path="url(#lc0)"><g fill="#c8603a" opacity="0.5"><ellipse cx="92" cy="135.6" rx="4.2" ry="5.6" transform="rotate(137 92 135.6)"/><ellipse cx="134" cy="138.9" rx="5.6" ry="6.6" transform="rotate(22 134 138.9)"/><ellipse cx="88.4" cy="125.5" rx="3.4" ry="3.4" transform="rotate(144 88.4 125.5)"/><ellipse cx="118.5" cy="134.9" rx="7.5" ry="5.5" transform="rotate(147 118.5 134.9)"/><ellipse cx="91.1" cy="116.2" rx="4.2" ry="3.9" transform="rotate(34 91.1 116.2)"/><ellipse cx="96.1" cy="136.5" rx="3.2" ry="3.5" transform="rotate(174 96.1 136.5)"/><ellipse cx="117.7" cy="150" rx="5.3" ry="5.6" transform="rotate(140 117.7 150)"/><ellipse cx="91.8" cy="90.3" rx="5.7" ry="5.5" transform="rotate(136 91.8 90.3)"/><ellipse cx="74.8" cy="131.3" rx="5.4" ry="5.3" transform="rotate(76 74.8 131.3)"/><ellipse cx="101.2" cy="138.8" rx="4.6" ry="6.1" transform="rotate(76 101.2 138.8)"/><ellipse cx="53" cy="114.8" rx="5.3" ry="5.9" transform="rotate(18 53 114.8)"/><ellipse cx="125.8" cy="139.3" rx="4.9" ry="6" transform="rotate(125 125.8 139.3)"/><ellipse cx="56" cy="140.5" rx="3.6" ry="3.3" transform="rotate(80 56 140.5)"/><ellipse cx="84.5" cy="142" rx="6.3" ry="5" transform="rotate(17 84.5 142)"/></g><g fill="#fbe6d8" opacity="0.6"><ellipse cx="128.1" cy="86.5" rx="3.1" ry="2.7" transform="rotate(15 128.1 86.5)"/><ellipse cx="97.6" cy="97.8" rx="3.5" ry="2.9" transform="rotate(114 97.6 97.8)"/><ellipse cx="94" cy="146.5" rx="2.3" ry="3.2" transform="rotate(118 94 146.5)"/><ellipse cx="76" cy="146.9" rx="2.3" ry="2.7" transform="rotate(73 76 146.9)"/><ellipse cx="118.8" cy="136.2" rx="3.2" ry="2.5" transform="rotate(20 118.8 136.2)"/><ellipse cx="117.5" cy="144" rx="1.7" ry="2.2" transform="rotate(110 117.5 144)"/><ellipse cx="119" cy="104.3" rx="2.4" ry="2.5" transform="rotate(97 119 104.3)"/><ellipse cx="120.5" cy="116.7" rx="1.7" ry="1.9" transform="rotate(59 120.5 116.7)"/><ellipse cx="148.3" cy="123.9" rx="1.8" ry="2" transform="rotate(37 148.3 123.9)"/><ellipse cx="73.4" cy="133.4" rx="4" ry="2.9" transform="rotate(176 73.4 133.4)"/><ellipse cx="133.1" cy="89.3" rx="3.8" ry="3.1" transform="rotate(116 133.1 89.3)"/><ellipse cx="138.1" cy="99.1" rx="4.6" ry="3.7" transform="rotate(100 138.1 99.1)"/><ellipse cx="74.8" cy="136.8" rx="2.7" ry="2.7" transform="rotate(48 74.8 136.8)"/><ellipse cx="122.7" cy="128.9" rx="1.8" ry="1.9" transform="rotate(13 122.7 128.9)"/><ellipse cx="132.3" cy="140" rx="3.9" ry="2.8" transform="rotate(157 132.3 140)"/><ellipse cx="149" cy="127.3" rx="2.4" ry="3" transform="rotate(64 149 127.3)"/><ellipse cx="139.8" cy="112" rx="2.1" ry="2.7" transform="rotate(124 139.8 112)"/><ellipse cx="136.5" cy="119.8" rx="2.1" ry="2.7" transform="rotate(26 136.5 119.8)"/></g><g fill="#180a07" opacity="0.92"><ellipse cx="100.9" cy="84.9" rx="3.3" ry="2.8" transform="rotate(132 100.9 84.9)"/><ellipse cx="151.2" cy="126.9" rx="2.4" ry="3" transform="rotate(139 151.2 126.9)"/><ellipse cx="139.8" cy="102.2" rx="2.5" ry="2.2" transform="rotate(23 139.8 102.2)"/><ellipse cx="92.2" cy="100.8" rx="2" ry="2.4" transform="rotate(57 92.2 100.8)"/><ellipse cx="56.1" cy="113.5" rx="2" ry="2.3" transform="rotate(49 56.1 113.5)"/><ellipse cx="117.2" cy="85.3" rx="3.2" ry="3.7" transform="rotate(132 117.2 85.3)"/><ellipse cx="56.6" cy="122.6" rx="5.7" ry="4.6" transform="rotate(120 56.6 122.6)"/><ellipse cx="98.5" cy="155.9" rx="4.5" ry="4.5" transform="rotate(89 98.5 155.9)"/><ellipse cx="131.2" cy="113.9" rx="1.7" ry="1.9" transform="rotate(50 131.2 113.9)"/><ellipse cx="82.1" cy="145.9" rx="5.1" ry="4.5" transform="rotate(0 82.1 145.9)"/><ellipse cx="59.3" cy="125.4" rx="3" ry="3.9" transform="rotate(169 59.3 125.4)"/><ellipse cx="124.6" cy="138.9" rx="3" ry="3.6" transform="rotate(45 124.6 138.9)"/><ellipse cx="63.1" cy="134.5" rx="2" ry="1.5" transform="rotate(101 63.1 134.5)"/><ellipse cx="57.4" cy="129.3" rx="1.2" ry="1.5" transform="rotate(32 57.4 129.3)"/><ellipse cx="140.4" cy="126.6" rx="3.2" ry="2.8" transform="rotate(156 140.4 126.6)"/><ellipse cx="124.8" cy="84.1" rx="3.2" ry="3.4" transform="rotate(140 124.8 84.1)"/><ellipse cx="93.7" cy="119.2" rx="4.7" ry="3.9" transform="rotate(26 93.7 119.2)"/><ellipse cx="51.5" cy="114.3" rx="3.5" ry="2.7" transform="rotate(54 51.5 114.3)"/><ellipse cx="124.6" cy="124.4" rx="3.6" ry="2.9" transform="rotate(83 124.6 124.4)"/><ellipse cx="99" cy="148.1" rx="2.2" ry="1.6" transform="rotate(90 99 148.1)"/><ellipse cx="134.9" cy="100.5" rx="4.2" ry="4" transform="rotate(128 134.9 100.5)"/><ellipse cx="114.8" cy="133" rx="3.8" ry="2.9" transform="rotate(46 114.8 133)"/><ellipse cx="65.4" cy="97.7" rx="1.4" ry="1.7" transform="rotate(158 65.4 97.7)"/><ellipse cx="95" cy="90" rx="2.5" ry="2.3" transform="rotate(142 95 90)"/><ellipse cx="55.5" cy="125.1" rx="3.1" ry="4.2" transform="rotate(48 55.5 125.1)"/><ellipse cx="93.3" cy="157.4" rx="3.2" ry="2.9" transform="rotate(16 93.3 157.4)"/><ellipse cx="62.9" cy="132.5" rx="3.1" ry="2.9" transform="rotate(177 62.9 132.5)"/><ellipse cx="94.7" cy="150.5" rx="4.2" ry="3.9" transform="rotate(63 94.7 150.5)"/><ellipse cx="85.7" cy="83.7" rx="3.9" ry="4.4" transform="rotate(143 85.7 83.7)"/><ellipse cx="119.3" cy="109.2" rx="2.7" ry="2.7" transform="rotate(100 119.3 109.2)"/><ellipse cx="87.9" cy="125" rx="1.5" ry="2" transform="rotate(171 87.9 125)"/><ellipse cx="95.1" cy="134.9" rx="5.2" ry="3.8" transform="rotate(164 95.1 134.9)"/><ellipse cx="90.5" cy="107.6" rx="5.8" ry="4.2" transform="rotate(56 90.5 107.6)"/><ellipse cx="100.7" cy="108.1" rx="3.4" ry="4.2" transform="rotate(170 100.7 108.1)"/><ellipse cx="111.3" cy="106.3" rx="2.8" ry="2.7" transform="rotate(86 111.3 106.3)"/><ellipse cx="73.7" cy="132.9" rx="1.4" ry="1.5" transform="rotate(86 73.7 132.9)"/><ellipse cx="68.5" cy="111.7" rx="1.2" ry="1.3" transform="rotate(159 68.5 111.7)"/><ellipse cx="86.6" cy="160.5" rx="2.1" ry="1.6" transform="rotate(58 86.6 160.5)"/><ellipse cx="117.6" cy="118.6" rx="1.5" ry="2.1" transform="rotate(46 117.6 118.6)"/><ellipse cx="98.6" cy="136" rx="3.5" ry="2.6" transform="rotate(66 98.6 136)"/><ellipse cx="69.4" cy="138.1" rx="3.1" ry="3" transform="rotate(83 69.4 138.1)"/><ellipse cx="111.6" cy="126.4" rx="3.5" ry="3.5" transform="rotate(18 111.6 126.4)"/><ellipse cx="100.2" cy="126.4" rx="1.3" ry="1.5" transform="rotate(155 100.2 126.4)"/><ellipse cx="109.3" cy="112.5" rx="4.2" ry="4.1" transform="rotate(86 109.3 112.5)"/><ellipse cx="134.6" cy="120" rx="4.9" ry="4.3" transform="rotate(11 134.6 120)"/><ellipse cx="76" cy="117.5" rx="1.3" ry="1.6" transform="rotate(12 76 117.5)"/><ellipse cx="122" cy="157.8" rx="3.6" ry="3.3" transform="rotate(52 122 157.8)"/><ellipse cx="91.9" cy="149.8" rx="1.7" ry="1.8" transform="rotate(4 91.9 149.8)"/><ellipse cx="111" cy="120.7" rx="1.3" ry="1.3" transform="rotate(48 111 120.7)"/><ellipse cx="75.3" cy="119.1" rx="3.2" ry="2.7" transform="rotate(166 75.3 119.1)"/><ellipse cx="67.7" cy="133.2" rx="3.9" ry="4" transform="rotate(129 67.7 133.2)"/><ellipse cx="92.4" cy="139.2" rx="1.7" ry="2" transform="rotate(180 92.4 139.2)"/><ellipse cx="98.4" cy="105.4" rx="6.3" ry="4.6" transform="rotate(33 98.4 105.4)"/><ellipse cx="142" cy="124" rx="4.2" ry="4.2" transform="rotate(14 142 124)"/><ellipse cx="142.1" cy="140.5" rx="4.9" ry="4.2" transform="rotate(72 142.1 140.5)"/><ellipse cx="65.8" cy="100.7" rx="1.1" ry="1.4" transform="rotate(68 65.8 100.7)"/><ellipse cx="75.9" cy="128.2" rx="6.2" ry="4.5" transform="rotate(140 75.9 128.2)"/><ellipse cx="96.7" cy="128" rx="3.6" ry="4.2" transform="rotate(46 96.7 128)"/><ellipse cx="133.1" cy="121.2" rx="3" ry="2.8" transform="rotate(51 133.1 121.2)"/><ellipse cx="101.5" cy="158" rx="1.9" ry="1.5" transform="rotate(36 101.5 158)"/><ellipse cx="92.4" cy="126.1" rx="1.2" ry="1.3" transform="rotate(59 92.4 126.1)"/><ellipse cx="144.9" cy="141.8" rx="3.3" ry="4.1" transform="rotate(152 144.9 141.8)"/><ellipse cx="78.2" cy="136.3" rx="3.7" ry="4.5" transform="rotate(158 78.2 136.3)"/><ellipse cx="94.2" cy="114.1" rx="5.4" ry="4" transform="rotate(160 94.2 114.1)"/><ellipse cx="61.7" cy="136.1" rx="3.9" ry="2.9" transform="rotate(129 61.7 136.1)"/><ellipse cx="58.4" cy="105.2" rx="1.5" ry="1.3" transform="rotate(174 58.4 105.2)"/><ellipse cx="141.1" cy="111.8" rx="1.1" ry="1.5" transform="rotate(163 141.1 111.8)"/><ellipse cx="90.2" cy="131.4" rx="4.4" ry="4" transform="rotate(160 90.2 131.4)"/><ellipse cx="138.6" cy="124.6" rx="1.8" ry="2" transform="rotate(116 138.6 124.6)"/><ellipse cx="114.3" cy="86.3" rx="3.1" ry="2.9" transform="rotate(168 114.3 86.3)"/><ellipse cx="56.7" cy="115.1" rx="3.6" ry="2.8" transform="rotate(67 56.7 115.1)"/><ellipse cx="105.3" cy="157.4" rx="2.3" ry="2" transform="rotate(117 105.3 157.4)"/><ellipse cx="68.9" cy="122" rx="3.3" ry="2.8" transform="rotate(11 68.9 122)"/><ellipse cx="70.1" cy="98.4" rx="1.2" ry="1.5" transform="rotate(65 70.1 98.4)"/><ellipse cx="75.9" cy="92.5" rx="2.6" ry="3.3" transform="rotate(123 75.9 92.5)"/></g><g fill="#180a07" opacity="0.85"><ellipse cx="121" cy="115" rx="7.9" ry="6.7" transform="rotate(172 121 115)"/><ellipse cx="66" cy="112.2" rx="5.3" ry="5.1" transform="rotate(30 66 112.2)"/><ellipse cx="131.8" cy="110.3" rx="4" ry="5.2" transform="rotate(121 131.8 110.3)"/><ellipse cx="129" cy="112.6" rx="10" ry="7.3" transform="rotate(115 129 112.6)"/><ellipse cx="126.9" cy="110.5" rx="10.4" ry="7.7" transform="rotate(19 126.9 110.5)"/><ellipse cx="87.3" cy="107.1" rx="8.3" ry="6.1" transform="rotate(33 87.3 107.1)"/><ellipse cx="74.7" cy="100.9" rx="4" ry="5.1" transform="rotate(93 74.7 100.9)"/><ellipse cx="105.6" cy="130.8" rx="4.3" ry="5.9" transform="rotate(0 105.6 130.8)"/></g></g>
<path d="M49.9 121.4C50.6 115.3 52.8 106.6 56.4 101.9C60 97.2 66.5 95.8 71.6 93.2C76.6 90.7 81.7 88.5 86.7 86.7C91.8 84.9 96.8 82.9 101.9 82.4C107 81.9 111.7 82 117.1 83.5C122.5 84.9 129 87.6 134.4 91.1C139.9 94.5 146.5 99 149.6 104.1C152.7 109.1 152.9 115.6 152.9 121.4C152.9 127.2 152 133.7 149.6 138.8C147.3 143.8 143.5 148.5 138.8 151.8C134.1 155 125.8 157.6 121.4 158.3C117.1 159 115.6 157.6 112.7 156.1C109.9 154.7 107.3 150.3 104.1 149.6C100.8 148.9 96.1 150 93.2 151.8C90.3 153.6 90 158.8 86.7 160.5C83.5 162.1 78.1 163 73.7 161.5C69.4 160.1 64.3 155.6 60.7 151.8C57.1 148 53.8 143.8 52 138.8C50.2 133.7 49.1 127.6 49.9 121.4Z" fill="none" stroke="#2a120c" stroke-width="3" opacity="0.75"/>
<g clip-path="url(#lc1)"><g fill="#c8603a" opacity="0.5"><ellipse cx="291.7" cy="119.3" rx="5.6" ry="4.6" transform="rotate(106 291.7 119.3)"/><ellipse cx="239" cy="146.7" rx="4.5" ry="6.4" transform="rotate(86 239 146.7)"/><ellipse cx="262.8" cy="117.8" rx="8" ry="6.7" transform="rotate(74 262.8 117.8)"/><ellipse cx="253.8" cy="138.7" rx="6" ry="4.6" transform="rotate(19 253.8 138.7)"/><ellipse cx="233.9" cy="148.1" rx="3" ry="4.1" transform="rotate(26 233.9 148.1)"/><ellipse cx="291" cy="138.9" rx="4.5" ry="5.5" transform="rotate(68 291 138.9)"/><ellipse cx="229.2" cy="137.3" rx="7.6" ry="6.1" transform="rotate(109 229.2 137.3)"/><ellipse cx="286.3" cy="106.2" rx="7.4" ry="5.5" transform="rotate(141 286.3 106.2)"/><ellipse cx="215.2" cy="119.2" rx="3.9" ry="3.2" transform="rotate(115 215.2 119.2)"/><ellipse cx="240.6" cy="119.7" rx="6.7" ry="6.5" transform="rotate(140 240.6 119.7)"/><ellipse cx="277" cy="147.7" rx="4" ry="4.4" transform="rotate(167 277 147.7)"/><ellipse cx="251.5" cy="159.7" rx="4.6" ry="4.2" transform="rotate(100 251.5 159.7)"/><ellipse cx="282.1" cy="149.8" rx="3.5" ry="3.3" transform="rotate(127 282.1 149.8)"/><ellipse cx="223.3" cy="121" rx="5.3" ry="4.3" transform="rotate(109 223.3 121)"/></g><g fill="#fbe6d8" opacity="0.6"><ellipse cx="267.5" cy="141.8" rx="1.6" ry="1.7" transform="rotate(23 267.5 141.8)"/><ellipse cx="241.7" cy="149.9" rx="3" ry="3.5" transform="rotate(5 241.7 149.9)"/><ellipse cx="253.9" cy="104.6" rx="2.7" ry="2.5" transform="rotate(96 253.9 104.6)"/><ellipse cx="248.7" cy="161.7" rx="3" ry="2.7" transform="rotate(92 248.7 161.7)"/><ellipse cx="277.9" cy="148.2" rx="4" ry="3.1" transform="rotate(55 277.9 148.2)"/><ellipse cx="292" cy="148.8" rx="2.8" ry="2.5" transform="rotate(110 292 148.8)"/><ellipse cx="296.4" cy="119" rx="2.6" ry="3.7" transform="rotate(8 296.4 119)"/><ellipse cx="216.6" cy="144" rx="4.8" ry="3.5" transform="rotate(125 216.6 144)"/><ellipse cx="284" cy="129" rx="4.9" ry="3.8" transform="rotate(119 284 129)"/><ellipse cx="277.6" cy="125.7" rx="1.4" ry="1.8" transform="rotate(133 277.6 125.7)"/><ellipse cx="269.6" cy="126.8" rx="4.2" ry="3.6" transform="rotate(117 269.6 126.8)"/><ellipse cx="290.4" cy="146" rx="1.2" ry="1.5" transform="rotate(145 290.4 146)"/><ellipse cx="287.8" cy="114.3" rx="1.8" ry="2.3" transform="rotate(64 287.8 114.3)"/><ellipse cx="222.8" cy="124.6" rx="2.6" ry="3.4" transform="rotate(76 222.8 124.6)"/><ellipse cx="217.8" cy="124.6" rx="2.1" ry="2.5" transform="rotate(153 217.8 124.6)"/><ellipse cx="289.2" cy="129.2" rx="3.6" ry="4" transform="rotate(80 289.2 129.2)"/><ellipse cx="226.2" cy="100.8" rx="2.3" ry="2.7" transform="rotate(63 226.2 100.8)"/><ellipse cx="284.3" cy="133.5" rx="2.3" ry="3.1" transform="rotate(49 284.3 133.5)"/></g><g fill="#180a07" opacity="0.92"><ellipse cx="214.6" cy="129.3" rx="2.3" ry="2.6" transform="rotate(170 214.6 129.3)"/><ellipse cx="228" cy="139.6" rx="3.4" ry="2.9" transform="rotate(107 228 139.6)"/><ellipse cx="234.4" cy="147.2" rx="1.1" ry="1.2" transform="rotate(129 234.4 147.2)"/><ellipse cx="284.8" cy="140" rx="2.3" ry="1.9" transform="rotate(49 284.8 140)"/><ellipse cx="256.7" cy="146.8" rx="3.4" ry="3.8" transform="rotate(159 256.7 146.8)"/><ellipse cx="233.2" cy="129.4" rx="1.9" ry="2" transform="rotate(170 233.2 129.4)"/><ellipse cx="288.7" cy="139.2" rx="3.2" ry="4.3" transform="rotate(6 288.7 139.2)"/><ellipse cx="271.8" cy="126.7" rx="1" ry="1.4" transform="rotate(100 271.8 126.7)"/><ellipse cx="215.5" cy="139" rx="1.8" ry="2.3" transform="rotate(20 215.5 139)"/><ellipse cx="279" cy="119.9" rx="2.5" ry="1.8" transform="rotate(119 279 119.9)"/><ellipse cx="292.3" cy="135.2" rx="2.4" ry="2.5" transform="rotate(84 292.3 135.2)"/><ellipse cx="239.2" cy="133.4" rx="1.1" ry="1.5" transform="rotate(107 239.2 133.4)"/><ellipse cx="270.2" cy="125.3" rx="3.8" ry="4.5" transform="rotate(91 270.2 125.3)"/><ellipse cx="257.1" cy="108" rx="3" ry="3.9" transform="rotate(180 257.1 108)"/><ellipse cx="225.1" cy="132.9" rx="3.6" ry="4.3" transform="rotate(93 225.1 132.9)"/><ellipse cx="251.4" cy="102.9" rx="2.9" ry="3.3" transform="rotate(160 251.4 102.9)"/><ellipse cx="255" cy="121.4" rx="1" ry="1.3" transform="rotate(15 255 121.4)"/><ellipse cx="252.2" cy="161.8" rx="4" ry="4.3" transform="rotate(69 252.2 161.8)"/><ellipse cx="230.1" cy="160.9" rx="1.6" ry="1.3" transform="rotate(176 230.1 160.9)"/><ellipse cx="243.8" cy="147.2" rx="1.5" ry="1.2" transform="rotate(162 243.8 147.2)"/><ellipse cx="265.6" cy="125.8" rx="3.1" ry="4" transform="rotate(119 265.6 125.8)"/><ellipse cx="282.6" cy="122.3" rx="2.1" ry="2.1" transform="rotate(126 282.6 122.3)"/><ellipse cx="276.7" cy="148.8" rx="1.7" ry="1.2" transform="rotate(77 276.7 148.8)"/><ellipse cx="272.6" cy="99" rx="3" ry="3.3" transform="rotate(81 272.6 99)"/><ellipse cx="212.8" cy="137.2" rx="3.4" ry="3.2" transform="rotate(100 212.8 137.2)"/><ellipse cx="254.4" cy="110.1" rx="1" ry="1.4" transform="rotate(141 254.4 110.1)"/><ellipse cx="235.5" cy="124.8" rx="2.1" ry="2.7" transform="rotate(18 235.5 124.8)"/><ellipse cx="252.7" cy="140" rx="1.6" ry="1.5" transform="rotate(114 252.7 140)"/><ellipse cx="262.1" cy="141.3" rx="3.7" ry="2.8" transform="rotate(60 262.1 141.3)"/><ellipse cx="253.4" cy="94" rx="2.7" ry="3.5" transform="rotate(75 253.4 94)"/><ellipse cx="244.2" cy="156.5" rx="3" ry="2.5" transform="rotate(50 244.2 156.5)"/><ellipse cx="234.8" cy="135.1" rx="1.8" ry="2" transform="rotate(148 234.8 135.1)"/><ellipse cx="258.6" cy="138" rx="1.8" ry="2.1" transform="rotate(134 258.6 138)"/><ellipse cx="259" cy="162.9" rx="4.8" ry="3.4" transform="rotate(26 259 162.9)"/><ellipse cx="299.1" cy="130" rx="2" ry="2" transform="rotate(95 299.1 130)"/><ellipse cx="279.2" cy="134.2" rx="1.3" ry="1.6" transform="rotate(149 279.2 134.2)"/><ellipse cx="258.5" cy="138.8" rx="2.4" ry="2.9" transform="rotate(154 258.5 138.8)"/><ellipse cx="251.4" cy="162.4" rx="3.4" ry="4.4" transform="rotate(152 251.4 162.4)"/><ellipse cx="246.9" cy="107.2" rx="1.2" ry="1.3" transform="rotate(11 246.9 107.2)"/><ellipse cx="260.9" cy="147.4" rx="3.7" ry="3.2" transform="rotate(52 260.9 147.4)"/><ellipse cx="271.2" cy="97.4" rx="2.5" ry="2.6" transform="rotate(158 271.2 97.4)"/><ellipse cx="245.8" cy="144.8" rx="4.2" ry="3.9" transform="rotate(16 245.8 144.8)"/><ellipse cx="218.1" cy="147.5" rx="2.8" ry="3.5" transform="rotate(136 218.1 147.5)"/><ellipse cx="270.3" cy="137.3" rx="3.5" ry="3.6" transform="rotate(72 270.3 137.3)"/><ellipse cx="238.7" cy="107.6" rx="1.7" ry="1.4" transform="rotate(91 238.7 107.6)"/><ellipse cx="248.4" cy="131.6" rx="4.8" ry="3.8" transform="rotate(164 248.4 131.6)"/><ellipse cx="267.3" cy="159.7" rx="1.3" ry="1.9" transform="rotate(40 267.3 159.7)"/><ellipse cx="215.4" cy="144.9" rx="3.4" ry="2.6" transform="rotate(117 215.4 144.9)"/><ellipse cx="256.5" cy="115.4" rx="1.1" ry="1.4" transform="rotate(101 256.5 115.4)"/><ellipse cx="286.1" cy="144.9" rx="2.6" ry="2.5" transform="rotate(37 286.1 144.9)"/><ellipse cx="242.9" cy="141.5" rx="1.3" ry="1.8" transform="rotate(98 242.9 141.5)"/><ellipse cx="211" cy="131" rx="3.8" ry="4.5" transform="rotate(32 211 131)"/><ellipse cx="259.2" cy="122.2" rx="4" ry="4.3" transform="rotate(155 259.2 122.2)"/><ellipse cx="280.7" cy="118.4" rx="4.8" ry="4.3" transform="rotate(41 280.7 118.4)"/><ellipse cx="225.8" cy="101.9" rx="3.7" ry="3.3" transform="rotate(50 225.8 101.9)"/><ellipse cx="263.8" cy="114.7" rx="1.9" ry="1.9" transform="rotate(132 263.8 114.7)"/><ellipse cx="269.9" cy="148" rx="2.4" ry="1.7" transform="rotate(49 269.9 148)"/><ellipse cx="288.8" cy="136.3" rx="2.7" ry="3.8" transform="rotate(82 288.8 136.3)"/><ellipse cx="281.5" cy="148.8" rx="3.5" ry="3.1" transform="rotate(78 281.5 148.8)"/><ellipse cx="238.2" cy="112" rx="2" ry="2" transform="rotate(94 238.2 112)"/><ellipse cx="224" cy="137.3" rx="1.4" ry="1.3" transform="rotate(125 224 137.3)"/><ellipse cx="222.7" cy="134.5" rx="4.2" ry="3.3" transform="rotate(45 222.7 134.5)"/><ellipse cx="265.3" cy="106.7" rx="1.4" ry="1.4" transform="rotate(93 265.3 106.7)"/><ellipse cx="280.8" cy="142.8" rx="2.1" ry="2.9" transform="rotate(162 280.8 142.8)"/><ellipse cx="285.5" cy="155.6" rx="2.7" ry="2.3" transform="rotate(20 285.5 155.6)"/><ellipse cx="286.1" cy="138" rx="3.4" ry="2.5" transform="rotate(34 286.1 138)"/><ellipse cx="266.2" cy="130.6" rx="3.9" ry="3.3" transform="rotate(28 266.2 130.6)"/><ellipse cx="270.5" cy="164.3" rx="3.9" ry="2.9" transform="rotate(42 270.5 164.3)"/><ellipse cx="238.1" cy="99.3" rx="2.5" ry="2" transform="rotate(156 238.1 99.3)"/><ellipse cx="254.7" cy="113.9" rx="3.8" ry="4.2" transform="rotate(116 254.7 113.9)"/><ellipse cx="275.1" cy="150.1" rx="3.7" ry="4.3" transform="rotate(67 275.1 150.1)"/><ellipse cx="236.5" cy="116.7" rx="2.1" ry="2.5" transform="rotate(103 236.5 116.7)"/><ellipse cx="278.6" cy="160.2" rx="4.7" ry="3.5" transform="rotate(43 278.6 160.2)"/><ellipse cx="260.5" cy="110.1" rx="2.8" ry="3.8" transform="rotate(92 260.5 110.1)"/><ellipse cx="285.6" cy="123.6" rx="3.5" ry="3" transform="rotate(26 285.6 123.6)"/></g><g fill="#180a07" opacity="0.85"><ellipse cx="253.6" cy="132.9" rx="9" ry="7.4" transform="rotate(95 253.6 132.9)"/><ellipse cx="250.5" cy="137.8" rx="6" ry="6.3" transform="rotate(20 250.5 137.8)"/><ellipse cx="238.9" cy="121.8" rx="5.1" ry="7" transform="rotate(132 238.9 121.8)"/><ellipse cx="253.3" cy="134.2" rx="8.8" ry="7.9" transform="rotate(169 253.3 134.2)"/><ellipse cx="280.1" cy="109.1" rx="6" ry="7" transform="rotate(74 280.1 109.1)"/><ellipse cx="235.2" cy="110.7" rx="8" ry="6.1" transform="rotate(33 235.2 110.7)"/><ellipse cx="224" cy="120.1" rx="3.1" ry="4.2" transform="rotate(145 224 120.1)"/><ellipse cx="246.3" cy="123.9" rx="4.7" ry="5.4" transform="rotate(149 246.3 123.9)"/></g></g>
<path d="M204.9 106.2C205.8 102.6 213.4 99.7 219 97.6C224.6 95.4 231.6 94.1 238.5 93.2C245.4 92.3 253 91.8 260.2 92.2C267.4 92.5 275.7 93.4 281.9 95.4C288 97.4 294 99.4 297.1 104.1C300.1 108.8 300.3 117.4 300.3 123.6C300.3 129.7 299 135.5 297.1 140.9C295.1 146.4 292.4 152.1 288.4 156.1C284.4 160.1 279.7 163 273.2 164.8C266.7 166.6 256.6 167.3 249.3 167C242.1 166.6 234.9 165.1 229.8 162.6C224.8 160.1 221.5 156.1 219 151.8C216.5 147.4 215.6 142 214.7 136.6C213.8 131.2 215.2 124.3 213.6 119.3C211.9 114.2 204 109.9 204.9 106.2Z" fill="none" stroke="#2a120c" stroke-width="3" opacity="0.75"/>
<g clip-path="url(#lc2)"><g fill="#d4805a" opacity="0.35"><ellipse cx="90.9" cy="266.6" rx="5.7" ry="4.5" transform="rotate(40 90.9 266.6)"/><ellipse cx="124.2" cy="282.4" rx="3.2" ry="4" transform="rotate(24 124.2 282.4)"/><ellipse cx="111.4" cy="258.2" rx="5" ry="5.7" transform="rotate(67 111.4 258.2)"/><ellipse cx="106.2" cy="250" rx="8.3" ry="6.3" transform="rotate(152 106.2 250)"/><ellipse cx="78.1" cy="229.8" rx="8.2" ry="6.7" transform="rotate(63 78.1 229.8)"/><ellipse cx="96.4" cy="252.7" rx="2.3" ry="3.2" transform="rotate(47 96.4 252.7)"/><ellipse cx="96.8" cy="262.1" rx="4.3" ry="6.1" transform="rotate(141 96.8 262.1)"/><ellipse cx="85.2" cy="236.5" rx="4.9" ry="4.7" transform="rotate(164 85.2 236.5)"/><ellipse cx="60.8" cy="250.5" rx="5.1" ry="6.3" transform="rotate(79 60.8 250.5)"/><ellipse cx="128.1" cy="265" rx="8.4" ry="7" transform="rotate(122 128.1 265)"/><ellipse cx="95.2" cy="248.7" rx="7.8" ry="6.4" transform="rotate(119 95.2 248.7)"/><ellipse cx="127.2" cy="268.5" rx="5.2" ry="3.7" transform="rotate(66 127.2 268.5)"/></g><g fill="#fbe6d8" opacity="0.55"><ellipse cx="97" cy="260.2" rx="2.9" ry="2.3" transform="rotate(177 97 260.2)"/><ellipse cx="117.1" cy="244.4" rx="1.9" ry="1.6" transform="rotate(173 117.1 244.4)"/><ellipse cx="60" cy="266.6" rx="2.5" ry="2.8" transform="rotate(164 60 266.6)"/><ellipse cx="133.5" cy="234.8" rx="1.8" ry="1.7" transform="rotate(43 133.5 234.8)"/><ellipse cx="94.6" cy="272.4" rx="4.6" ry="3.4" transform="rotate(83 94.6 272.4)"/><ellipse cx="105.8" cy="276.5" rx="2.9" ry="3" transform="rotate(161 105.8 276.5)"/><ellipse cx="134.4" cy="232.3" rx="3.9" ry="3.6" transform="rotate(120 134.4 232.3)"/><ellipse cx="115.6" cy="222.3" rx="3.7" ry="3.6" transform="rotate(59 115.6 222.3)"/><ellipse cx="73.9" cy="242" rx="2.3" ry="2" transform="rotate(19 73.9 242)"/><ellipse cx="79.3" cy="245.1" rx="1.2" ry="1.6" transform="rotate(159 79.3 245.1)"/><ellipse cx="119.3" cy="241.4" rx="1.3" ry="1.9" transform="rotate(10 119.3 241.4)"/><ellipse cx="118.8" cy="277.7" rx="1.2" ry="1.6" transform="rotate(11 118.8 277.7)"/><ellipse cx="127" cy="265" rx="3.1" ry="2.4" transform="rotate(136 127 265)"/><ellipse cx="104.8" cy="245.2" rx="4.9" ry="3.7" transform="rotate(98 104.8 245.2)"/></g><g fill="#1a0d0a" opacity="0.9"><ellipse cx="111.6" cy="263.9" rx="0.9" ry="1.3" transform="rotate(162 111.6 263.9)"/><ellipse cx="128.5" cy="271" rx="2.6" ry="2.5" transform="rotate(33 128.5 271)"/><ellipse cx="127.3" cy="273.1" rx="1.4" ry="1.5" transform="rotate(108 127.3 273.1)"/><ellipse cx="94.2" cy="276.8" rx="2.4" ry="3.2" transform="rotate(94 94.2 276.8)"/><ellipse cx="128.6" cy="232.3" rx="2.5" ry="2.4" transform="rotate(73 128.6 232.3)"/><ellipse cx="90.3" cy="247" rx="2" ry="2" transform="rotate(25 90.3 247)"/><ellipse cx="74.9" cy="280.9" rx="2" ry="2.3" transform="rotate(23 74.9 280.9)"/><ellipse cx="75" cy="241.8" rx="2.2" ry="2" transform="rotate(73 75 241.8)"/><ellipse cx="99.3" cy="210.6" rx="1.1" ry="1" transform="rotate(125 99.3 210.6)"/><ellipse cx="82.5" cy="216.1" rx="3.7" ry="3.3" transform="rotate(131 82.5 216.1)"/><ellipse cx="93.2" cy="292.7" rx="1.4" ry="1.7" transform="rotate(179 93.2 292.7)"/><ellipse cx="98.1" cy="269" rx="4" ry="3.3" transform="rotate(125 98.1 269)"/><ellipse cx="104.7" cy="217.9" rx="3.3" ry="2.9" transform="rotate(91 104.7 217.9)"/><ellipse cx="131" cy="274.8" rx="3.8" ry="3.1" transform="rotate(108 131 274.8)"/><ellipse cx="101.3" cy="247.7" rx="1.3" ry="1.5" transform="rotate(139 101.3 247.7)"/><ellipse cx="68.9" cy="251.8" rx="2.7" ry="3.1" transform="rotate(117 68.9 251.8)"/><ellipse cx="119.7" cy="275.2" rx="3" ry="2.7" transform="rotate(8 119.7 275.2)"/><ellipse cx="81.4" cy="271.6" rx="1.8" ry="1.4" transform="rotate(169 81.4 271.6)"/><ellipse cx="72.4" cy="244.1" rx="2.5" ry="2.1" transform="rotate(65 72.4 244.1)"/><ellipse cx="82.3" cy="244.9" rx="2.8" ry="2.1" transform="rotate(60 82.3 244.9)"/><ellipse cx="73.3" cy="250.9" rx="3.6" ry="2.8" transform="rotate(158 73.3 250.9)"/><ellipse cx="105.8" cy="265.7" rx="1.5" ry="1.6" transform="rotate(133 105.8 265.7)"/></g><g fill="#d0703f" opacity="0.45"><ellipse cx="84.8" cy="267" rx="5.2" ry="5.9" transform="rotate(26 84.8 267)"/><ellipse cx="112.4" cy="278.4" rx="2.9" ry="3.6" transform="rotate(37 112.4 278.4)"/><ellipse cx="105.4" cy="220.9" rx="3.6" ry="4.3" transform="rotate(163 105.4 220.9)"/><ellipse cx="113.8" cy="241.4" rx="5.8" ry="5.7" transform="rotate(3 113.8 241.4)"/><ellipse cx="67.6" cy="271.9" rx="5.3" ry="5.1" transform="rotate(161 67.6 271.9)"/><ellipse cx="94.3" cy="257.4" rx="4.6" ry="3.8" transform="rotate(1 94.3 257.4)"/></g></g>
<path d="M52 234.2C53.1 227.3 55.3 222.6 58.5 219C61.8 215.4 66.9 213.8 71.6 212.5C76.3 211.2 81.7 211.9 86.7 211.4C91.8 210.9 96.1 209.5 101.9 209.2C107.7 209 116 209 121.4 209.9C126.8 210.8 131 211.3 134.4 214.7C137.9 218 140.8 224.1 142 229.8C143.3 235.6 142.4 242.5 142 249.3C141.7 256.2 141.8 264.5 139.9 271C137.9 277.5 133.9 284.2 130.1 288.4C126.3 292.5 121.1 295.2 117.1 296C113.1 296.7 109.1 295.1 106.2 292.7C103.4 290.4 103 284 99.7 281.9C96.5 279.7 90 279 86.7 279.7C83.5 280.4 83.1 285.5 80.2 286.2C77.3 286.9 73 285.8 69.4 284C65.8 282.2 61.4 279.3 58.5 275.4C55.7 271.4 53.1 267.1 52 260.2C51 253.3 51 241 52 234.2Z" fill="none" stroke="#6a3020" stroke-width="1.4" opacity="0.6"/>
<g clip-path="url(#lc3)"><g fill="#d4805a" opacity="0.35"><ellipse cx="250.6" cy="219.9" rx="5.2" ry="4.7" transform="rotate(165 250.6 219.9)"/><ellipse cx="234.5" cy="267.1" rx="7.8" ry="5.9" transform="rotate(164 234.5 267.1)"/><ellipse cx="240.5" cy="222.9" rx="6.6" ry="5.7" transform="rotate(116 240.5 222.9)"/><ellipse cx="232.6" cy="266.4" rx="7.7" ry="5.8" transform="rotate(62 232.6 266.4)"/><ellipse cx="260.5" cy="224.9" rx="4.8" ry="5.5" transform="rotate(108 260.5 224.9)"/><ellipse cx="246.9" cy="258.6" rx="6.8" ry="6.4" transform="rotate(169 246.9 258.6)"/><ellipse cx="270" cy="250.7" rx="7" ry="5.6" transform="rotate(99 270 250.7)"/><ellipse cx="273.6" cy="224.8" rx="3" ry="3.4" transform="rotate(55 273.6 224.8)"/><ellipse cx="273.7" cy="288" rx="7.2" ry="6.8" transform="rotate(25 273.7 288)"/><ellipse cx="270" cy="235.8" rx="3.9" ry="3.8" transform="rotate(4 270 235.8)"/><ellipse cx="227.3" cy="230" rx="5" ry="5.1" transform="rotate(116 227.3 230)"/><ellipse cx="262" cy="290.1" rx="5.6" ry="4.6" transform="rotate(31 262 290.1)"/></g><g fill="#fbe6d8" opacity="0.55"><ellipse cx="248.5" cy="226.9" rx="2.7" ry="3.1" transform="rotate(97 248.5 226.9)"/><ellipse cx="248.9" cy="260.7" rx="2.5" ry="2.5" transform="rotate(178 248.9 260.7)"/><ellipse cx="237.8" cy="230.9" rx="1.6" ry="1.8" transform="rotate(102 237.8 230.9)"/><ellipse cx="282.7" cy="247.3" rx="2.6" ry="2" transform="rotate(100 282.7 247.3)"/><ellipse cx="235.7" cy="261.8" rx="2.9" ry="3.8" transform="rotate(162 235.7 261.8)"/><ellipse cx="265.3" cy="288" rx="4.2" ry="3.3" transform="rotate(37 265.3 288)"/><ellipse cx="231.8" cy="283.5" rx="4.5" ry="3.5" transform="rotate(119 231.8 283.5)"/><ellipse cx="291.3" cy="257.2" rx="3.9" ry="3.1" transform="rotate(120 291.3 257.2)"/><ellipse cx="228.2" cy="287.2" rx="2.1" ry="2.2" transform="rotate(64 228.2 287.2)"/><ellipse cx="289" cy="254.5" rx="3.4" ry="2.7" transform="rotate(71 289 254.5)"/><ellipse cx="230.7" cy="283.2" rx="2.4" ry="2.3" transform="rotate(159 230.7 283.2)"/><ellipse cx="229.8" cy="233.3" rx="3.2" ry="2.4" transform="rotate(98 229.8 233.3)"/><ellipse cx="290.5" cy="270.8" rx="4.7" ry="3.8" transform="rotate(35 290.5 270.8)"/><ellipse cx="227.6" cy="253.5" rx="3.4" ry="3" transform="rotate(53 227.6 253.5)"/></g><g fill="#1a0d0a" opacity="0.9"><ellipse cx="287" cy="248.3" rx="1.2" ry="1.6" transform="rotate(36 287 248.3)"/><ellipse cx="264.5" cy="244.3" rx="2.6" ry="2.1" transform="rotate(53 264.5 244.3)"/><ellipse cx="285.3" cy="237.8" rx="1.9" ry="1.4" transform="rotate(155 285.3 237.8)"/><ellipse cx="266.1" cy="256.3" rx="3.4" ry="3.2" transform="rotate(162 266.1 256.3)"/><ellipse cx="263.3" cy="242.9" rx="2.9" ry="2.7" transform="rotate(112 263.3 242.9)"/><ellipse cx="245.9" cy="246" rx="1.3" ry="1.3" transform="rotate(35 245.9 246)"/><ellipse cx="220.6" cy="263" rx="2.9" ry="2.2" transform="rotate(179 220.6 263)"/><ellipse cx="222" cy="259.5" rx="3" ry="2.3" transform="rotate(1 222 259.5)"/><ellipse cx="266.3" cy="277.2" rx="2.8" ry="2.7" transform="rotate(75 266.3 277.2)"/><ellipse cx="267.5" cy="237.4" rx="2.8" ry="2" transform="rotate(19 267.5 237.4)"/><ellipse cx="264.2" cy="279.8" rx="1.8" ry="2.6" transform="rotate(11 264.2 279.8)"/><ellipse cx="235.5" cy="222.8" rx="2.5" ry="1.8" transform="rotate(130 235.5 222.8)"/><ellipse cx="214.9" cy="261.5" rx="1.1" ry="1.3" transform="rotate(106 214.9 261.5)"/><ellipse cx="234.9" cy="241.5" rx="2.9" ry="3.1" transform="rotate(121 234.9 241.5)"/></g><g fill="#d0703f" opacity="0.45"><ellipse cx="258.3" cy="231.6" rx="5.2" ry="5.7" transform="rotate(87 258.3 231.6)"/><ellipse cx="227" cy="270.6" rx="5" ry="5.5" transform="rotate(126 227 270.6)"/><ellipse cx="229.9" cy="272.5" rx="4" ry="3.8" transform="rotate(52 229.9 272.5)"/><ellipse cx="233.1" cy="231.6" rx="3.7" ry="4" transform="rotate(76 233.1 231.6)"/><ellipse cx="280.2" cy="283.5" rx="4.6" ry="3.3" transform="rotate(102 280.2 283.5)"/><ellipse cx="246.6" cy="224.6" rx="3.4" ry="4.6" transform="rotate(76 246.6 224.6)"/></g></g>
<path d="M208.2 249.3C208.7 243.9 209.2 238.1 211.4 234.2C213.6 230.2 217.4 227.6 221.2 225.5C225 223.4 230.6 221.4 234.2 221.6C237.8 221.8 240 226.9 242.8 226.6C245.7 226.2 247.5 221.1 251.5 219.4C255.5 217.8 261.6 216.2 266.7 216.8C271.8 217.5 277.5 220.4 281.9 223.3C286.2 226.2 290 229.5 292.7 234.2C295.4 238.9 297.4 245.4 298.1 251.5C298.9 257.7 298.7 265.3 297.1 271C295.4 276.8 292.4 281.9 288.4 286.2C284.4 290.5 278.6 294.7 273.2 297.1C267.8 299.4 260.6 300.8 255.9 300.3C251.2 299.8 248.6 294 245 293.8C241.4 293.6 238.1 299 234.2 299.2C230.2 299.4 225 297.8 221.2 294.9C217.4 292 213.6 286.6 211.4 281.9C209.2 277.2 208.7 272.1 208.2 266.7C207.6 261.3 207.6 254.8 208.2 249.3Z" fill="none" stroke="#6a3020" stroke-width="1.4" opacity="0.6"/>
<path d="M244 238c2 8-2 16 0 24M238 254c6 2 12 0 18 4M250 250c4 6 10 8 14 8" stroke="#a01810" stroke-width="1" fill="none"/>
<path d="M41.2 164.8H93.2M42.3 296H94.3" stroke="#fff" stroke-width="1.4"/>
<circle cx="415.5" cy="15.2" r="5.8" fill="#605aff"/>
<rect x="409.8" y="41.6" width="11.2" height="11.1" fill="#f23c42"/>
<text x="475" y="26.5" font-size="34.5">WT</text>
<text x="476" y="60.7" font-size="33" font-style="italic">Tmem175<tspan font-size="22" dy="-15">-/-</tspan></text>
<text x="686.8" y="402.3" font-size="32.5" font-weight="bold">h</text>
<path d="M770.6 637.1V420.3H1011.3" stroke="#111" stroke-width="2.2" fill="none"/>
<path d="M1011.3 420.3V637.1" stroke="#999" stroke-width="1"/>
<path d="M770.6 637.1H1011.3" stroke="#111" stroke-width="2.4"/>
<path d="M761.6 443.5H770.6M761.6 473.5H770.6M761.6 503.5H770.6M761.6 533.5H770.6M761.6 563.5H770.6M761.6 593.5H770.6M761.6 623.5H770.6" stroke="#111" stroke-width="2"/>
<path d="M765.6 434.5H770.6M765.6 429.2H770.6M765.6 425.4H770.6M765.6 422.5H770.6M765.6 464.5H770.6M765.6 459.2H770.6M765.6 455.4H770.6M765.6 452.5H770.6M765.6 450.2H770.6M765.6 448.1H770.6M765.6 446.4H770.6M765.6 444.9H770.6M765.6 494.5H770.6M765.6 489.2H770.6M765.6 485.4H770.6M765.6 482.5H770.6M765.6 480.2H770.6M765.6 478.1H770.6M765.6 476.4H770.6M765.6 474.9H770.6M765.6 524.5H770.6M765.6 519.2H770.6M765.6 515.4H770.6M765.6 512.5H770.6M765.6 510.2H770.6M765.6 508.1H770.6M765.6 506.4H770.6M765.6 504.9H770.6M765.6 554.5H770.6M765.6 549.2H770.6M765.6 545.4H770.6M765.6 542.5H770.6M765.6 540.2H770.6M765.6 538.1H770.6M765.6 536.4H770.6M765.6 534.9H770.6M765.6 584.5H770.6M765.6 579.2H770.6M765.6 575.4H770.6M765.6 572.5H770.6M765.6 570.2H770.6M765.6 568.1H770.6M765.6 566.4H770.6M765.6 564.9H770.6M765.6 614.5H770.6M765.6 609.2H770.6M765.6 605.4H770.6M765.6 602.5H770.6M765.6 600.2H770.6M765.6 598.1H770.6M765.6 596.4H770.6M765.6 594.9H770.6M765.6 635.4H770.6M765.6 632.5H770.6M765.6 630.2H770.6M765.6 628.1H770.6M765.6 626.4H770.6M765.6 624.9H770.6" stroke="#555" stroke-width="1"/>
<path d="M770.6 637.1V645.1M797 637.1V645.1M855.6 637.1V645.1M915.2 637.1V645.1M973.8 637.1V645.1M1011.3 637.1V645.1" stroke="#111" stroke-width="2"/>
<path d="M814.6 637.1V641.1M825 637.1V641.1M832.3 637.1V641.1M838 637.1V641.1M842.6 637.1V641.1M846.5 637.1V641.1M849.9 637.1V641.1M852.9 637.1V641.1M873.5 637.1V641.1M884 637.1V641.1M891.5 637.1V641.1M897.3 637.1V641.1M902 637.1V641.1M906 637.1V641.1M909.4 637.1V641.1M912.5 637.1V641.1M932.8 637.1V641.1M943.2 637.1V641.1M950.5 637.1V641.1M956.2 637.1V641.1M960.8 637.1V641.1M964.7 637.1V641.1M968.1 637.1V641.1M971.1 637.1V641.1M991.5 637.1V641.1M1001.9 637.1V641.1M1009.2 637.1V641.1M775.1 637.1V641.1M779.6 637.1V641.1M784.1 637.1V641.1M788.6 637.1V641.1M793.1 637.1V641.1" stroke="#555" stroke-width="1"/>
<polygon points="823,468.5 925,456.4 948.6,480.6 908.4,525.5 814,524.2 810.2,499.1" fill="none" stroke="#333" stroke-width="1.3"/>
<polygon points="831.9,526.5 907.8,526.3 906.9,566.7 882.9,588.4 830.6,592.9 814,559.1" fill="none" stroke="#333" stroke-width="1.3"/>
<polygon points="948.6,480.6 981.1,487 987.5,509.9 974.7,560.3 932.7,561 908.4,555.6 908.4,525.5" fill="none" stroke="#333" stroke-width="1.3"/>
<path d="M851 561C850.6 558 853.4 554.4 854.8 552C856.3 549.7 858 546.3 859.9 546.9C861.9 547.6 863.6 554 866.3 555.9C869.1 557.8 872.7 559.1 876.5 558.4C880.4 557.8 885.2 553.7 889.3 552C893.3 550.3 897.8 548.2 900.8 548.2C903.7 548.2 907.8 550.3 907.1 552C906.5 553.7 900.3 556.5 896.9 558.4C893.5 560.3 890.3 561.8 886.7 563.5C883.1 565.2 880.1 567.6 875.3 568.6C870.4 569.7 861.4 571.2 857.4 569.9C853.4 568.6 851.4 563.9 851 561Z" fill="#000"/>
<path d="M932.7 524C932.9 522.4 937.3 518.1 940.3 516.3C943.3 514.5 947.1 512.4 950.5 513.1C953.9 513.9 957.5 517.9 960.7 520.8C963.9 523.7 969.2 527.3 969.6 530.4C970.1 533.4 966 536.3 963.3 539.3C960.5 542.3 957.3 545.8 953.1 548.2C948.8 550.6 942.9 552.5 937.8 553.6C932.7 554.7 926.7 555.1 922.4 554.8C918.2 554.6 913.5 553.4 912.2 552C911 550.7 912.2 547.8 914.8 546.9C917.3 546.1 923.3 547.6 927.6 546.9C931.8 546.3 936.5 544.8 940.3 543.1C944.1 541.4 948.4 539.1 950.5 536.7C952.6 534.4 953.5 531.2 953.1 529.1C952.6 527 950.3 524.6 948 524C945.6 523.4 941.6 525.5 939 525.5C936.5 525.5 932.4 525.5 932.7 524Z" fill="#000"/>
<path d="M854.8 539.3C855.1 535.9 858 531.6 859.9 531.6C861.9 531.6 865.7 536.3 866.3 539.3C867 542.3 865.1 547.4 863.8 549.5C862.5 551.6 860.2 553.7 858.7 552C857.2 550.3 854.6 542.7 854.8 539.3Z" fill="#000"/>
<path d="M884.2 501C888.4 500.2 908.4 499.5 914.8 499.7C921.2 500 922.4 501.4 922.4 502.3C922.4 503.1 920.3 504.4 914.8 504.8C909.3 505.3 894.4 505.5 889.3 504.8C884.2 504.2 879.9 501.9 884.2 501Z" fill="#000"/>
<path d="M856.1 521.4C857.6 516.1 858.7 510.4 861.2 507.4C863.8 504.4 867.6 505.3 871.4 503.6C875.3 501.9 874 498.3 884.2 497.2C894.4 496.1 923.5 495.5 932.7 496.9C941.8 498.4 935.8 504.2 939 506.1C942.2 508.1 948.2 506.5 951.8 508.7C955.4 510.8 957.7 515.5 960.7 518.9C963.7 522.3 968.8 526.1 969.6 529.1C970.5 532.1 968.6 533.5 965.8 536.7C963.1 539.9 958.4 545.3 953.1 548.2C947.7 551.1 940.9 553.3 933.9 554C926.9 554.6 916.3 552 911 552.3C905.7 552.6 905.7 554.2 902 555.9C898.4 557.5 893.5 560.1 889.3 562.2C885 564.4 881.8 567.5 876.5 568.6C871.2 569.8 861.8 570.3 857.4 569.3C853 568.2 851.2 567.2 850.4 562.2C849.5 557.2 851.3 546.1 852.3 539.3C853.3 532.5 854.6 526.7 856.1 521.4Z" fill="none" stroke="#000" stroke-width="1.1"/>
<path d="M861.2 521.4C862.1 518.2 864.6 512.9 868.9 509.9C873.1 507 879.1 504.8 886.7 503.6C894.4 502.3 908.8 501.7 914.8 502.3C920.7 502.9 922.4 504.6 922.4 507.4C922.4 510.2 918.2 516.1 914.8 518.9C911.4 521.6 908.4 522.7 902 524C895.7 525.3 882.9 525.7 876.5 526.5C870.2 527.4 866.3 529.9 863.8 529.1C861.2 528.2 860.4 524.6 861.2 521.4Z" fill="none" stroke="#000" stroke-width="1.1"/>
<path d="M866.3 521.4C864.6 519.9 867.6 514.8 871.4 512.5C875.3 510.2 883.1 508.2 889.3 507.4C895.5 506.5 904.6 506.3 908.4 507.4C912.2 508.5 913.3 511.9 912.2 513.8C911.2 515.7 907.1 517.6 902 518.9C896.9 520.2 887.6 521 881.6 521.4C875.7 521.9 868 522.9 866.3 521.4Z" fill="none" stroke="#000" stroke-width="1.1"/>
<path d="M876.5 516.3C876.1 515.1 885.5 511.6 889.3 511.2C893.1 510.8 899.1 512.5 899.5 513.8C899.9 515.1 895.7 518.5 891.8 518.9C888 519.3 877 517.6 876.5 516.3Z" fill="none" stroke="#000" stroke-width="1.1"/>
<path d="M858.7 531.6C859.9 528.9 862.5 528.2 866.3 527.8C870.2 527.4 876.5 528.4 881.6 529.1C886.7 529.7 893.1 529.9 896.9 531.6C900.8 533.3 904.6 536.7 904.6 539.3C904.6 541.8 900.8 544.8 896.9 546.9C893.1 549.1 886.7 551.2 881.6 552C876.5 552.9 870.2 553.3 866.3 552C862.5 550.8 859.9 547.8 858.7 544.4C857.4 541 857.4 534.4 858.7 531.6Z" fill="none" stroke="#000" stroke-width="1.1"/>
<path d="M868.9 539.3C869.3 537.2 875.3 534.6 879.1 534.2C882.9 533.8 890.1 535 891.8 536.7C893.5 538.4 891.8 542.7 889.3 544.4C886.7 546.1 879.9 547.8 876.5 546.9C873.1 546.1 868.5 541.4 868.9 539.3Z" fill="none" stroke="#000" stroke-width="1.1"/>
<path d="M912.2 531.6C913.9 529.1 919 528.2 922.4 526.5C925.9 524.8 929.3 522.7 932.7 521.4C936.1 520.2 939.5 518.9 942.9 518.9C946.3 518.9 950.5 519.7 953.1 521.4C955.6 523.1 958.6 526.1 958.2 529.1C957.7 532.1 954.3 536.3 950.5 539.3C946.7 542.3 940.3 545.5 935.2 546.9C930.1 548.4 923.7 549.1 919.9 548.2C916.1 547.4 913.5 544.6 912.2 541.8C911 539.1 910.5 534.2 912.2 531.6Z" fill="none" stroke="#000" stroke-width="1.1"/>
<path d="M919.9 534.2C921.2 531.8 928.8 529.1 932.7 527.8C936.5 526.5 940.3 525.9 942.9 526.5C945.4 527.2 948.4 529.5 948 531.6C947.5 533.8 944.1 537.6 940.3 539.3C936.5 541 928.4 542.7 925 541.8C921.6 541 918.6 536.5 919.9 534.2Z" fill="none" stroke="#000" stroke-width="1.1"/>
<path d="M908.4 526.5C909.7 525 914.2 527 914.8 529.1C915.4 531.2 913.5 537.8 912.2 539.3C911 540.8 907.8 540.1 907.1 538C906.5 535.9 907.1 528 908.4 526.5Z" fill="none" stroke="#000" stroke-width="1.1"/>
<path d="M881.1 534.3h1.5v1.5h-1.5zM900.7 539.6h1.5v1.5h-1.5zM884.3 506.6h1.5v1.5h-1.5zM969.7 528.2h1.5v1.5h-1.5zM940.5 499.2h1.5v1.5h-1.5zM939.9 563.2h1.5v1.5h-1.5zM923.3 551.9h1.5v1.5h-1.5zM958.1 538.5h1.5v1.5h-1.5zM974 527.9h1.5v1.5h-1.5zM952.3 564.2h1.5v1.5h-1.5zM904.4 557.2h1.5v1.5h-1.5zM911.7 569.2h1.5v1.5h-1.5zM866 505.1h1.5v1.5h-1.5zM938.6 512.6h1.5v1.5h-1.5zM921 520.2h1.5v1.5h-1.5zM897.8 538h1.5v1.5h-1.5zM932.4 566.4h1.5v1.5h-1.5zM945.2 500.3h1.5v1.5h-1.5zM979.8 536.5h1.5v1.5h-1.5zM951.5 504.6h1.5v1.5h-1.5zM969 536.9h1.5v1.5h-1.5zM859 557.2h1.5v1.5h-1.5zM906.6 499.2h1.5v1.5h-1.5zM889.4 554.4h1.5v1.5h-1.5zM952.2 515.3h1.5v1.5h-1.5zM891.7 492.6h1.5v1.5h-1.5zM875.1 522.1h1.5v1.5h-1.5zM936.2 499.7h1.5v1.5h-1.5zM892.4 571.3h1.5v1.5h-1.5zM978.6 519.4h1.5v1.5h-1.5zM914 532.1h1.5v1.5h-1.5zM941.2 538.9h1.5v1.5h-1.5zM928.7 541.1h1.5v1.5h-1.5zM909.7 550h1.5v1.5h-1.5zM881.1 512.6h1.5v1.5h-1.5zM907.4 537.5h1.5v1.5h-1.5zM848.9 540.7h1.5v1.5h-1.5zM938.7 527.3h1.5v1.5h-1.5zM946.4 517.2h1.5v1.5h-1.5zM950.5 551.6h1.5v1.5h-1.5zM883.1 526.5h1.5v1.5h-1.5zM933.6 514.3h1.5v1.5h-1.5zM899.8 513.6h1.5v1.5h-1.5zM900.5 538.9h1.5v1.5h-1.5zM890.4 519.4h1.5v1.5h-1.5zM930.1 551.4h1.5v1.5h-1.5zM891.8 505.6h1.5v1.5h-1.5zM964.8 507h1.5v1.5h-1.5zM873.6 524.6h1.5v1.5h-1.5zM893.6 515.5h1.5v1.5h-1.5zM969.2 524.9h1.5v1.5h-1.5zM895.7 543.8h1.5v1.5h-1.5zM976.8 526h1.5v1.5h-1.5zM879.2 496.5h1.5v1.5h-1.5zM924.3 502.8h1.5v1.5h-1.5zM873.1 510.6h1.5v1.5h-1.5zM965.4 543h1.5v1.5h-1.5zM965.2 516.5h1.5v1.5h-1.5zM865.1 511.8h1.5v1.5h-1.5zM963.4 509.9h1.5v1.5h-1.5zM897.2 522.9h1.5v1.5h-1.5zM908 522.3h1.5v1.5h-1.5zM910.2 570.6h1.5v1.5h-1.5zM956.2 560.4h1.5v1.5h-1.5zM944 532.1h1.5v1.5h-1.5zM888.7 516.2h1.5v1.5h-1.5zM933 511.3h1.5v1.5h-1.5zM979 537.2h1.5v1.5h-1.5zM871.3 512.5h1.5v1.5h-1.5zM944 532.6h1.5v1.5h-1.5zM907.1 569.6h1.5v1.5h-1.5zM936.5 516.2h1.5v1.5h-1.5zM883.3 562.6h1.5v1.5h-1.5zM916.5 555.6h1.5v1.5h-1.5zM898 503.3h1.5v1.5h-1.5zM925 558.6h1.5v1.5h-1.5zM871.3 556.4h1.5v1.5h-1.5zM938.9 562.7h1.5v1.5h-1.5zM853.3 509.9h1.5v1.5h-1.5zM885.7 532.8h1.5v1.5h-1.5zM908.5 527.9h1.5v1.5h-1.5zM858.7 530.5h1.5v1.5h-1.5zM892.7 513.8h1.5v1.5h-1.5zM897.9 543.5h1.5v1.5h-1.5zM932.7 517.9h1.5v1.5h-1.5zM874.2 515.1h1.5v1.5h-1.5zM864.2 535.3h1.5v1.5h-1.5zM951.9 519.7h1.5v1.5h-1.5zM901.1 539.7h1.5v1.5h-1.5zM961.7 519.7h1.5v1.5h-1.5zM964.5 541.3h1.5v1.5h-1.5zM909.8 519h1.5v1.5h-1.5zM919.3 548.5h1.5v1.5h-1.5zM908.1 547.7h1.5v1.5h-1.5zM914.1 507.6h1.5v1.5h-1.5zM925.2 547.8h1.5v1.5h-1.5zM856.5 523.7h1.5v1.5h-1.5zM908.9 564.3h1.5v1.5h-1.5zM884.7 527.2h1.5v1.5h-1.5zM864.1 558.3h1.5v1.5h-1.5zM943.9 564.9h1.5v1.5h-1.5zM963.2 545.3h1.5v1.5h-1.5zM954.5 536.1h1.5v1.5h-1.5zM861.2 538.2h1.5v1.5h-1.5zM863.9 561.1h1.5v1.5h-1.5zM945.6 560.4h1.5v1.5h-1.5zM959.5 531.4h1.5v1.5h-1.5zM855 514.7h1.5v1.5h-1.5zM929.4 559.6h1.5v1.5h-1.5zM881.7 501.8h1.5v1.5h-1.5zM882.9 540.7h1.5v1.5h-1.5zM957.4 520.9h1.5v1.5h-1.5zM900.3 521.1h1.5v1.5h-1.5zM897.7 523.1h1.5v1.5h-1.5zM858.2 530.4h1.5v1.5h-1.5zM956.5 500.1h1.5v1.5h-1.5zM948.1 553.2h1.5v1.5h-1.5zM945.6 531.9h1.5v1.5h-1.5zM917.5 543.1h1.5v1.5h-1.5zM860.1 552.5h1.5v1.5h-1.5zM981.5 531.9h1.5v1.5h-1.5zM911.5 549.9h1.5v1.5h-1.5zM873.5 509.6h1.5v1.5h-1.5zM875.4 538h1.5v1.5h-1.5zM892.5 506.5h1.5v1.5h-1.5zM889.7 548.7h1.5v1.5h-1.5zM907.1 561.9h1.5v1.5h-1.5zM932.4 509.6h1.5v1.5h-1.5zM916.9 519.9h1.5v1.5h-1.5zM871.4 517.9h1.5v1.5h-1.5zM893.6 554.8h1.5v1.5h-1.5zM916.9 539.2h1.5v1.5h-1.5zM915.2 560.2h1.5v1.5h-1.5zM967.5 535.5h1.5v1.5h-1.5zM917.1 550.1h1.5v1.5h-1.5zM972.7 521.5h1.5v1.5h-1.5zM915.1 506.2h1.5v1.5h-1.5zM880.7 549.8h1.5v1.5h-1.5zM874 508.8h1.5v1.5h-1.5zM873.6 548.6h1.5v1.5h-1.5zM883.6 563h1.5v1.5h-1.5zM892.3 523.5h1.5v1.5h-1.5zM889.1 517.6h1.5v1.5h-1.5zM931.8 546h1.5v1.5h-1.5zM846.9 515.6h1.5v1.5h-1.5zM910.5 529.1h1.5v1.5h-1.5zM877 538h1.5v1.5h-1.5zM926.5 496.4h1.5v1.5h-1.5zM886.6 545.1h1.5v1.5h-1.5zM960.2 553.3h1.5v1.5h-1.5zM889.6 546.1h1.5v1.5h-1.5zM942.7 557.7h1.5v1.5h-1.5zM885.2 553.1h1.5v1.5h-1.5zM925.2 495.8h1.5v1.5h-1.5zM919 517.2h1.5v1.5h-1.5zM952.2 546.3h1.5v1.5h-1.5zM929.7 502h1.5v1.5h-1.5zM941.5 542h1.5v1.5h-1.5zM872.4 565.2h1.5v1.5h-1.5zM942.9 496.7h1.5v1.5h-1.5zM895 550h1.5v1.5h-1.5zM934.3 535.3h1.5v1.5h-1.5zM941.7 526.6h1.5v1.5h-1.5zM892.1 501.5h1.5v1.5h-1.5zM856.1 549.6h1.5v1.5h-1.5zM957.6 534.2h1.5v1.5h-1.5zM955.4 517.8h1.5v1.5h-1.5zM885.3 519.9h1.5v1.5h-1.5zM920.6 507.8h1.5v1.5h-1.5zM959.7 517.3h1.5v1.5h-1.5zM895.2 521.7h1.5v1.5h-1.5zM926 554.6h1.5v1.5h-1.5zM898.1 561.3h1.5v1.5h-1.5zM862.5 509.9h1.5v1.5h-1.5zM961.2 550.7h1.5v1.5h-1.5zM873.3 502.6h1.5v1.5h-1.5zM907.6 552.1h1.5v1.5h-1.5zM966.6 552.6h1.5v1.5h-1.5zM933.5 498.8h1.5v1.5h-1.5zM904.9 503h1.5v1.5h-1.5zM924 536.5h1.5v1.5h-1.5zM875.8 508h1.5v1.5h-1.5zM927.7 537.8h1.5v1.5h-1.5zM947.5 512.4h1.5v1.5h-1.5zM973.2 528.9h1.5v1.5h-1.5zM934.9 550.6h1.5v1.5h-1.5zM943.9 529.6h1.5v1.5h-1.5zM923.4 526.8h1.5v1.5h-1.5zM874.5 533h1.5v1.5h-1.5zM851.4 530.4h1.5v1.5h-1.5zM941.5 525.4h1.5v1.5h-1.5zM929.7 571.3h1.5v1.5h-1.5zM963.2 541.4h1.5v1.5h-1.5zM853.4 517.8h1.5v1.5h-1.5zM925.7 568.7h1.5v1.5h-1.5zM893.7 563.4h1.5v1.5h-1.5zM948.7 497.7h1.5v1.5h-1.5zM972.9 539.4h1.5v1.5h-1.5zM955.4 516.4h1.5v1.5h-1.5zM973.4 524.7h1.5v1.5h-1.5zM957.9 529h1.5v1.5h-1.5zM869.7 530.1h1.5v1.5h-1.5zM949.4 533.7h1.5v1.5h-1.5zM908.4 543.7h1.5v1.5h-1.5zM891 527.2h1.5v1.5h-1.5zM957.9 521.6h1.5v1.5h-1.5zM872.6 566h1.5v1.5h-1.5zM952.4 518.5h1.5v1.5h-1.5zM900.8 533h1.5v1.5h-1.5zM934.2 505.7h1.5v1.5h-1.5zM914 503.2h1.5v1.5h-1.5zM876.9 501h1.5v1.5h-1.5zM905.7 500.7h1.5v1.5h-1.5zM870.8 529.5h1.5v1.5h-1.5zM912.2 522.1h1.5v1.5h-1.5zM905.6 521.1h1.5v1.5h-1.5zM916.1 500.4h1.5v1.5h-1.5zM938 516.6h1.5v1.5h-1.5zM953.6 510.3h1.5v1.5h-1.5zM962.5 527.3h1.5v1.5h-1.5zM882.9 509.4h1.5v1.5h-1.5zM966.5 541.9h1.5v1.5h-1.5zM896.9 494.1h1.5v1.5h-1.5z" fill="#000"/>
<text x="775.4" y="453.7" font-size="33">IM2 20.59%</text>
<text x="802.5" y="593" font-size="33">IM1</text>
<text x="928.3" y="592" font-size="33">IM3</text>
<text x="773.2" y="632" font-size="33">34.96%</text>
<text x="897.5" y="631" font-size="33">43.31%</text>
<text transform="translate(749.4,438) rotate(-90)" font-size="24" fill="#4d3520" text-anchor="middle">10<tspan font-size="19" dy="-10">8</tspan></text>
<text transform="translate(749.4,501) rotate(-90)" font-size="24" fill="#4d3520" text-anchor="middle">10<tspan font-size="19" dy="-10">6</tspan></text>
<text transform="translate(749.4,559.5) rotate(-90)" font-size="24" fill="#4d3520" text-anchor="middle">10<tspan font-size="19" dy="-10">4</tspan></text>
<text transform="translate(749.4,626.7) rotate(-90)" font-size="24" fill="#4d3520" text-anchor="middle">10<tspan font-size="19" dy="-10">1.6</tspan></text>
<clipPath id="cx770"><rect x="730.6" y="640" width="280.7" height="45"/></clipPath>
<g clip-path="url(#cx770)"><text x="753.7" y="675.5" font-size="23.5" fill="#4d3520">10<tspan font-size="19" dy="-11">2.6</tspan></text><text x="840.4" y="675.5" font-size="23.5" fill="#4d3520">10<tspan font-size="19" dy="-11">4</tspan></text><text x="896.8" y="675.5" font-size="23.5" fill="#4d3520">10<tspan font-size="19" dy="-11">5</tspan></text><text x="983.6" y="675.5" font-size="23.5" fill="#4d3520">10<tspan font-size="19" dy="-11">6</tspan></text></g>
<path d="M1067.9 636.5V419.6H1309.6" stroke="#111" stroke-width="2.2" fill="none"/>
<path d="M1309.6 419.6V636.5" stroke="#999" stroke-width="1"/>
<path d="M1067.9 636.5H1309.6" stroke="#111" stroke-width="2.4"/>
<path d="M1058.9 442.8H1067.9M1058.9 472.8H1067.9M1058.9 502.8H1067.9M1058.9 532.8H1067.9M1058.9 562.8H1067.9M1058.9 592.8H1067.9M1058.9 622.8H1067.9" stroke="#111" stroke-width="2"/>
<path d="M1062.9 433.8H1067.9M1062.9 428.5H1067.9M1062.9 424.7H1067.9M1062.9 421.8H1067.9M1062.9 463.8H1067.9M1062.9 458.5H1067.9M1062.9 454.7H1067.9M1062.9 451.8H1067.9M1062.9 449.5H1067.9M1062.9 447.4H1067.9M1062.9 445.7H1067.9M1062.9 444.2H1067.9M1062.9 493.8H1067.9M1062.9 488.5H1067.9M1062.9 484.7H1067.9M1062.9 481.8H1067.9M1062.9 479.5H1067.9M1062.9 477.4H1067.9M1062.9 475.7H1067.9M1062.9 474.2H1067.9M1062.9 523.8H1067.9M1062.9 518.5H1067.9M1062.9 514.7H1067.9M1062.9 511.8H1067.9M1062.9 509.5H1067.9M1062.9 507.4H1067.9M1062.9 505.7H1067.9M1062.9 504.2H1067.9M1062.9 553.8H1067.9M1062.9 548.5H1067.9M1062.9 544.7H1067.9M1062.9 541.8H1067.9M1062.9 539.5H1067.9M1062.9 537.4H1067.9M1062.9 535.7H1067.9M1062.9 534.2H1067.9M1062.9 583.8H1067.9M1062.9 578.5H1067.9M1062.9 574.7H1067.9M1062.9 571.8H1067.9M1062.9 569.5H1067.9M1062.9 567.4H1067.9M1062.9 565.7H1067.9M1062.9 564.2H1067.9M1062.9 613.8H1067.9M1062.9 608.5H1067.9M1062.9 604.7H1067.9M1062.9 601.8H1067.9M1062.9 599.5H1067.9M1062.9 597.4H1067.9M1062.9 595.7H1067.9M1062.9 594.2H1067.9M1062.9 634.7H1067.9M1062.9 631.8H1067.9M1062.9 629.5H1067.9M1062.9 627.4H1067.9M1062.9 625.7H1067.9M1062.9 624.2H1067.9" stroke="#555" stroke-width="1"/>
<path d="M1067.9 636.5V644.5M1094.3 636.5V644.5M1152.9 636.5V644.5M1212.5 636.5V644.5M1271.1 636.5V644.5M1308.6 636.5V644.5" stroke="#111" stroke-width="2"/>
<path d="M1111.9 636.5V640.5M1122.3 636.5V640.5M1129.6 636.5V640.5M1135.3 636.5V640.5M1139.9 636.5V640.5M1143.8 636.5V640.5M1147.2 636.5V640.5M1150.2 636.5V640.5M1170.8 636.5V640.5M1181.3 636.5V640.5M1188.8 636.5V640.5M1194.6 636.5V640.5M1199.3 636.5V640.5M1203.3 636.5V640.5M1206.7 636.5V640.5M1209.8 636.5V640.5M1230.1 636.5V640.5M1240.5 636.5V640.5M1247.8 636.5V640.5M1253.5 636.5V640.5M1258.1 636.5V640.5M1262 636.5V640.5M1265.4 636.5V640.5M1268.4 636.5V640.5M1288.8 636.5V640.5M1299.2 636.5V640.5M1306.5 636.5V640.5M1072.4 636.5V640.5M1076.9 636.5V640.5M1081.4 636.5V640.5M1085.9 636.5V640.5M1090.4 636.5V640.5" stroke="#555" stroke-width="1"/>
<polygon points="1119.8,467.9 1221.2,455.7 1245.4,480 1204,524.2 1111.5,524 1107,498.5" fill="none" stroke="#333" stroke-width="1.3"/>
<polygon points="1128.7,526.3 1202,526.9 1204,566.7 1180.4,588.4 1127.4,592.2 1111.5,559.1" fill="none" stroke="#333" stroke-width="1.3"/>
<polygon points="1245.4,480 1277.9,486.4 1284.3,508.7 1271.6,560.3 1228.8,560.3 1204.6,554.6 1202,526.9" fill="none" stroke="#333" stroke-width="1.3"/>
<path d="M1222.4 531.6C1223.3 528 1225 524 1227.6 521.4C1230.1 518.9 1234.4 517 1237.8 516.3C1241.2 515.7 1245 515.9 1248 517.6C1250.9 519.3 1254.5 523.1 1255.6 526.5C1256.7 529.9 1256.2 534.8 1254.3 538C1252.4 541.2 1248.2 544 1244.1 545.7C1240.1 547.4 1233.7 548.6 1230.1 548.2C1226.5 547.8 1223.7 545.9 1222.4 543.1C1221.2 540.3 1221.6 535.2 1222.4 531.6Z" fill="#000"/>
<path d="M1230.1 534.2C1230.7 532.3 1234.6 528 1236.5 526.5C1238.4 525 1241.2 524.4 1241.6 525.3C1242 526.1 1240.5 529.5 1239 531.6C1237.5 533.8 1234.1 537.6 1232.7 538C1231.2 538.4 1229.5 536.1 1230.1 534.2Z" fill="#fff" stroke="#000" stroke-width="1.1"/>
<path d="M1179.1 501C1180.6 498.5 1180.4 493.7 1189.3 492.1C1198.2 490.5 1222 491.5 1232.7 491.5C1243.3 491.5 1248 490.3 1253.1 492.1C1258.2 493.9 1261.1 498.3 1263.3 502.3C1265.4 506.3 1266 511.6 1265.8 516.3C1265.6 521 1264.3 526.1 1262 530.4C1259.7 534.6 1255.8 538.8 1251.8 541.8C1247.7 544.9 1242.9 547.8 1237.8 548.9C1232.7 549.9 1225.6 549.2 1221.2 548.2C1216.7 547.3 1213.1 545.9 1211 543.1C1208.8 540.3 1208.6 535 1208.4 531.6C1208.2 528.2 1211.2 525 1209.7 522.7C1208.2 520.4 1203.3 519.3 1199.5 517.6C1195.7 515.9 1189.9 514.2 1186.7 512.5C1183.5 510.8 1181.6 509.3 1180.4 507.4C1179.1 505.5 1177.6 503.6 1179.1 501Z" fill="none" stroke="#000" stroke-width="1.1"/>
<path d="M1191.2 501.7C1193.3 500.2 1204.5 496.1 1209.7 495.9C1214.9 495.7 1221 498 1222.4 500.4C1223.9 502.7 1220.7 508.4 1218.6 509.9C1216.5 511.5 1213.3 510.8 1209.7 509.9C1206.1 509.1 1200 506.2 1196.9 504.8C1193.9 503.5 1189.1 503.1 1191.2 501.7Z" fill="none" stroke="#000" stroke-width="1.1"/>
<path d="M1214.8 526.5C1215.9 521.6 1219 514.8 1222.4 509.9C1225.9 505.1 1231 499.5 1235.2 497.2C1239.5 494.9 1244.1 494.6 1248 495.9C1251.8 497.2 1256 500.6 1258.2 504.8C1260.3 509.1 1261.1 516.1 1260.7 521.4C1260.3 526.7 1258.6 532.5 1255.6 536.7C1252.6 541 1248 545.2 1242.9 546.9C1237.8 548.6 1229.5 548.2 1225 546.9C1220.5 545.7 1217.8 542.7 1216.1 539.3C1214.4 535.9 1213.7 531.4 1214.8 526.5Z" fill="none" stroke="#000" stroke-width="1.1"/>
<path d="M1219.9 529.1C1221 525 1224.6 517.8 1227.6 513.8C1230.5 509.7 1234.4 506.1 1237.8 504.8C1241.2 503.6 1245.2 504.2 1248 506.1C1250.7 508 1253.5 512.1 1254.3 516.3C1255.2 520.6 1255 527.2 1253.1 531.6C1251.1 536.1 1247.1 541 1242.9 543.1C1238.6 545.2 1231.2 545.2 1227.6 544.4C1223.9 543.5 1222.4 540.6 1221.2 538C1219.9 535.5 1218.8 533.1 1219.9 529.1Z" fill="none" stroke="#000" stroke-width="1.1"/>
<path d="M1235.3 543.4h1.5v1.5h-1.5zM1272.1 535.7h1.5v1.5h-1.5zM1217.6 502.3h1.5v1.5h-1.5zM1226.2 529.5h1.5v1.5h-1.5zM1251.7 495.1h1.5v1.5h-1.5zM1255.3 493.4h1.5v1.5h-1.5zM1234.7 492.4h1.5v1.5h-1.5zM1187.8 499.8h1.5v1.5h-1.5zM1225.7 538.1h1.5v1.5h-1.5zM1266.4 506.7h1.5v1.5h-1.5zM1205.2 495.6h1.5v1.5h-1.5zM1198.4 531.9h1.5v1.5h-1.5zM1202.6 507.6h1.5v1.5h-1.5zM1257.7 521.7h1.5v1.5h-1.5zM1200 521.8h1.5v1.5h-1.5zM1244.7 486.6h1.5v1.5h-1.5zM1249.8 551.9h1.5v1.5h-1.5zM1205.8 529.9h1.5v1.5h-1.5zM1186.3 544.5h1.5v1.5h-1.5zM1203.3 511.3h1.5v1.5h-1.5zM1224 546.2h1.5v1.5h-1.5zM1255.3 553.2h1.5v1.5h-1.5zM1233.9 558h1.5v1.5h-1.5zM1226.4 507.8h1.5v1.5h-1.5zM1200.1 496.6h1.5v1.5h-1.5zM1277 526.1h1.5v1.5h-1.5zM1210.4 501.6h1.5v1.5h-1.5zM1232 550.4h1.5v1.5h-1.5zM1216.1 516.9h1.5v1.5h-1.5zM1260 492.7h1.5v1.5h-1.5zM1236.1 547.2h1.5v1.5h-1.5zM1176 517.9h1.5v1.5h-1.5zM1197.6 519.5h1.5v1.5h-1.5zM1275.8 519.5h1.5v1.5h-1.5zM1219.8 542.4h1.5v1.5h-1.5zM1218.8 506h1.5v1.5h-1.5zM1210.1 494h1.5v1.5h-1.5zM1274 533.9h1.5v1.5h-1.5zM1221.1 510h1.5v1.5h-1.5zM1253.5 553.8h1.5v1.5h-1.5zM1205.3 547.1h1.5v1.5h-1.5zM1252.7 539.5h1.5v1.5h-1.5zM1240 544.9h1.5v1.5h-1.5zM1205.5 540.3h1.5v1.5h-1.5zM1196 522.2h1.5v1.5h-1.5zM1252.1 539.2h1.5v1.5h-1.5zM1238.4 530h1.5v1.5h-1.5zM1192.6 537.6h1.5v1.5h-1.5zM1216.9 549.6h1.5v1.5h-1.5zM1238.1 548h1.5v1.5h-1.5zM1203.7 535.3h1.5v1.5h-1.5zM1248.5 550.6h1.5v1.5h-1.5zM1204 551.8h1.5v1.5h-1.5zM1263.6 539h1.5v1.5h-1.5zM1223.3 525.8h1.5v1.5h-1.5zM1271.4 521.5h1.5v1.5h-1.5zM1243.1 541.6h1.5v1.5h-1.5zM1247.6 496.1h1.5v1.5h-1.5zM1253.4 530h1.5v1.5h-1.5zM1240.2 516.8h1.5v1.5h-1.5zM1235.4 546.1h1.5v1.5h-1.5zM1236.9 541.6h1.5v1.5h-1.5zM1214.4 535.8h1.5v1.5h-1.5zM1188.9 538.8h1.5v1.5h-1.5zM1236.2 485.4h1.5v1.5h-1.5zM1217.9 500.6h1.5v1.5h-1.5zM1200.2 496.9h1.5v1.5h-1.5zM1217.2 513.4h1.5v1.5h-1.5zM1234 530.8h1.5v1.5h-1.5zM1195.7 515.9h1.5v1.5h-1.5zM1234.2 489.7h1.5v1.5h-1.5zM1226.4 510h1.5v1.5h-1.5zM1257.7 516.6h1.5v1.5h-1.5zM1257.1 535.1h1.5v1.5h-1.5zM1206.2 493.7h1.5v1.5h-1.5zM1232.2 528.6h1.5v1.5h-1.5zM1233.6 511h1.5v1.5h-1.5zM1176.2 528.8h1.5v1.5h-1.5zM1234.4 493.6h1.5v1.5h-1.5zM1236 555.8h1.5v1.5h-1.5zM1206.9 517.7h1.5v1.5h-1.5zM1189.8 506.1h1.5v1.5h-1.5zM1275.4 513.4h1.5v1.5h-1.5zM1232.2 503.4h1.5v1.5h-1.5zM1276.4 523h1.5v1.5h-1.5zM1211.5 508.3h1.5v1.5h-1.5zM1276.8 522.7h1.5v1.5h-1.5zM1196.7 521.4h1.5v1.5h-1.5zM1177.8 533.4h1.5v1.5h-1.5zM1214.7 506.2h1.5v1.5h-1.5zM1253.5 550.4h1.5v1.5h-1.5zM1253.5 502.3h1.5v1.5h-1.5zM1194.5 494.7h1.5v1.5h-1.5zM1233.6 521.2h1.5v1.5h-1.5zM1237.8 532h1.5v1.5h-1.5zM1249.1 491.7h1.5v1.5h-1.5zM1251.1 506.8h1.5v1.5h-1.5zM1225 509.8h1.5v1.5h-1.5zM1197.8 525.8h1.5v1.5h-1.5zM1217.1 511.8h1.5v1.5h-1.5zM1249.3 530.9h1.5v1.5h-1.5zM1216.1 557.9h1.5v1.5h-1.5zM1265.7 527.1h1.5v1.5h-1.5zM1212.9 529.6h1.5v1.5h-1.5zM1245.1 534.3h1.5v1.5h-1.5zM1219.1 557.5h1.5v1.5h-1.5zM1208 514.4h1.5v1.5h-1.5zM1261.6 498.2h1.5v1.5h-1.5zM1197.8 550.7h1.5v1.5h-1.5zM1243.5 517.8h1.5v1.5h-1.5zM1196.6 546.6h1.5v1.5h-1.5zM1218.7 527.4h1.5v1.5h-1.5zM1220.9 509.3h1.5v1.5h-1.5zM1181.4 530.5h1.5v1.5h-1.5zM1254.7 536.9h1.5v1.5h-1.5zM1244.3 485.9h1.5v1.5h-1.5zM1260.4 500.1h1.5v1.5h-1.5zM1245.6 493h1.5v1.5h-1.5zM1181 532.5h1.5v1.5h-1.5zM1211.3 495.3h1.5v1.5h-1.5zM1235.2 485.5h1.5v1.5h-1.5zM1176.2 513.3h1.5v1.5h-1.5zM1229.8 543.4h1.5v1.5h-1.5zM1213.3 508h1.5v1.5h-1.5zM1232.7 522.5h1.5v1.5h-1.5zM1271.5 512.9h1.5v1.5h-1.5zM1181.1 534.2h1.5v1.5h-1.5zM1221.8 557.4h1.5v1.5h-1.5zM1227.5 533.4h1.5v1.5h-1.5zM1194 527.6h1.5v1.5h-1.5zM1193 544.1h1.5v1.5h-1.5zM1223.1 493h1.5v1.5h-1.5zM1190.7 512.7h1.5v1.5h-1.5zM1248.4 496.8h1.5v1.5h-1.5zM1245.7 536.2h1.5v1.5h-1.5zM1232 501.7h1.5v1.5h-1.5zM1264.4 521.7h1.5v1.5h-1.5zM1200.9 547.9h1.5v1.5h-1.5zM1273.1 538.4h1.5v1.5h-1.5zM1275.4 537h1.5v1.5h-1.5zM1258 493.5h1.5v1.5h-1.5zM1235.5 511.3h1.5v1.5h-1.5zM1190.8 509.5h1.5v1.5h-1.5zM1234.2 510.8h1.5v1.5h-1.5zM1208.1 493.2h1.5v1.5h-1.5zM1259.2 535.6h1.5v1.5h-1.5zM1256.1 517.8h1.5v1.5h-1.5zM1261.5 524.8h1.5v1.5h-1.5zM1231.8 529.4h1.5v1.5h-1.5zM1248.7 514.7h1.5v1.5h-1.5z" fill="#000"/>
<text x="1072.6" y="453.7" font-size="33">IM2 12.49%</text>
<text x="1092" y="593" font-size="33">IM1</text>
<text x="1223" y="592" font-size="33">IM3</text>
<text x="1070.5" y="632" font-size="33">2.04%</text>
<text x="1194" y="631" font-size="33">85.18%</text>
<text transform="translate(1046.6,438) rotate(-90)" font-size="24" fill="#4d3520" text-anchor="middle">10<tspan font-size="19" dy="-10">8</tspan></text>
<text transform="translate(1046.6,501) rotate(-90)" font-size="24" fill="#4d3520" text-anchor="middle">10<tspan font-size="19" dy="-10">6</tspan></text>
<text transform="translate(1046.6,559.5) rotate(-90)" font-size="24" fill="#4d3520" text-anchor="middle">10<tspan font-size="19" dy="-10">4</tspan></text>
<text transform="translate(1046.6,626.7) rotate(-90)" font-size="24" fill="#4d3520" text-anchor="middle">10<tspan font-size="19" dy="-10">1.6</tspan></text>
<clipPath id="cx1067"><rect x="1027.9" y="640" width="281.7" height="45"/></clipPath>
<g clip-path="url(#cx1067)"><text x="1051" y="675.5" font-size="23.5" fill="#4d3520">10<tspan font-size="19" dy="-11">2.6</tspan></text><text x="1136.6" y="675.5" font-size="23.5" fill="#4d3520">10<tspan font-size="19" dy="-11">4</tspan></text><text x="1195" y="675.5" font-size="23.5" fill="#4d3520">10<tspan font-size="19" dy="-11">5</tspan></text><text x="1280.8" y="675.5" font-size="23.5" fill="#4d3520">10<tspan font-size="19" dy="-11">6</tspan></text></g>
<text x="871.9" y="409.9" font-size="33" text-anchor="middle">WT</text>
<text x="1085.6" y="409.9" font-size="33" font-style="italic">Tmem175<tspan font-size="22" dy="-15">-/-</tspan></text>
<text transform="translate(724.5,589.5) rotate(-90)" font-size="33" text-anchor="middle">MHC-II-BV650</text>
<path d="M712 469.5V425" stroke="#000" stroke-width="1.6"/>
<path d="M701.7 429L712 408.8L722.3 429Z" fill="#000"/>
<text x="754.8" y="703" font-size="33">CD11c-BV510</text>
<path d="M971.6 690.7H1142" stroke="#000" stroke-width="1.6"/>
<path d="M1140.5 680.5L1161.5 690.7L1140.5 701.5Z" fill="#000"/>
<text x="26.7" y="1541.3" font-size="32.5" font-weight="bold">s</text>
<path d="M63.4 1539V2442.8H691" stroke="#222" stroke-width="1.6" fill="none"/>
<text x="53" y="1582.5" font-size="18.5" text-anchor="end" fill="#1a1a1a">15</text>
<text x="53" y="1732.9" font-size="18.5" text-anchor="end" fill="#1a1a1a">10</text>
<text x="53" y="1883.3" font-size="18.5" text-anchor="end" fill="#1a1a1a">5</text>
<text x="53" y="2033.7" font-size="18.5" text-anchor="end" fill="#1a1a1a">0</text>
<text x="53" y="2184.1" font-size="18.5" text-anchor="end" fill="#1a1a1a">-5</text>
<text x="53" y="2334.5" font-size="18.5" text-anchor="end" fill="#1a1a1a">-10</text>
<text x="157.5" y="2467.6" font-size="18.5" text-anchor="middle" fill="#1a1a1a">-10</text>
<text x="272.9" y="2467.6" font-size="18.5" text-anchor="middle" fill="#1a1a1a">-5</text>
<text x="388.3" y="2467.6" font-size="18.5" text-anchor="middle" fill="#1a1a1a">0</text>
<text x="503.7" y="2467.6" font-size="18.5" text-anchor="middle" fill="#1a1a1a">5</text>
<text x="619.1" y="2467.6" font-size="18.5" text-anchor="middle" fill="#1a1a1a">10</text>
<path d="M57.4 1575.8H63.4M57.4 1726.2H63.4M57.4 1876.6H63.4M57.4 2027H63.4M57.4 2177.4H63.4M57.4 2327.8H63.4M157.5 2442.8V2448.8M272.9 2442.8V2448.8M388.3 2442.8V2448.8M503.7 2442.8V2448.8M619.1 2442.8V2448.8" stroke="#222" stroke-width="1.4"/>
<text x="387.3" y="2490.6" font-size="21.4" text-anchor="middle">umap_1</text>
<text transform="translate(20,2031) rotate(-90)" font-size="21.4" text-anchor="middle">umap_2</text>
<text x="359.3" y="1553.7" font-size="34" text-anchor="middle">WT</text>
<path d="M752 1542.2V2442.3H1405.3" stroke="#222" stroke-width="1.6" fill="none"/>
<text x="741.5" y="1689.4" font-size="18.5" text-anchor="end" fill="#1a1a1a">10</text>
<text x="741.5" y="1835.9" font-size="18.5" text-anchor="end" fill="#1a1a1a">5</text>
<text x="741.5" y="1982.4" font-size="18.5" text-anchor="end" fill="#1a1a1a">0</text>
<text x="741.5" y="2128.9" font-size="18.5" text-anchor="end" fill="#1a1a1a">-5</text>
<text x="741.5" y="2275.4" font-size="18.5" text-anchor="end" fill="#1a1a1a">-10</text>
<text x="741.5" y="2421.9" font-size="18.5" text-anchor="end" fill="#1a1a1a">-15</text>
<text x="925" y="2467.6" font-size="18.5" text-anchor="middle" fill="#1a1a1a">-10</text>
<text x="1147.2" y="2467.6" font-size="18.5" text-anchor="middle" fill="#1a1a1a">0</text>
<text x="1369.5" y="2467.6" font-size="18.5" text-anchor="middle" fill="#1a1a1a">10</text>
<path d="M746 1682.7H752M746 1829.2H752M746 1975.7H752M746 2122.2H752M746 2268.7H752M746 2415.2H752M925 2442.3V2448.3M1147.2 2442.3V2448.3M1369.5 2442.3V2448.3" stroke="#222" stroke-width="1.4"/>
<text x="1090.6" y="2490" font-size="21.4" text-anchor="middle">umap_1</text>
<text transform="translate(709,2031) rotate(-90)" font-size="21.4" text-anchor="middle">umap_2</text>
<text x="970" y="1555" font-size="34" font-style="italic">Tmem175<tspan font-size="22" dy="-15">-/-</tspan></text>
<path d="M219.5 1715.8C221.6 1710.4 226.4 1708.9 229.6 1706.6C232.8 1704.3 234.5 1702.4 238.8 1702C243 1701.6 250.2 1702 254.8 1704.3C259.4 1706.6 262.1 1712.4 266.3 1715.8C270.5 1719.2 275.5 1725 280.1 1725C284.7 1725 290 1719.2 293.8 1715.8C297.7 1712.4 298.4 1707.8 303 1704.3C307.6 1700.9 317.8 1693.2 321.4 1695.1C325 1697 325.4 1708.5 324.6 1715.8C323.8 1723.1 320.4 1732.6 316.8 1738.8C313.2 1744.9 308.4 1747.9 303 1752.5C297.7 1757.1 290 1762.5 284.7 1766.3C279.3 1770.1 276.2 1773.6 270.9 1775.5C265.5 1777.4 258.6 1778.5 252.5 1777.8C246.4 1777 239.1 1774 234.2 1770.9C229.2 1767.8 225.6 1764.8 222.7 1759.4C219.8 1754.1 217.2 1746 216.7 1738.8C216.2 1731.5 217.3 1721.2 219.5 1715.8Z" fill="#DE8C00" fill-opacity="0.86"/>
<path d="M151.5 1869.6C152.1 1871 158.8 1878 158.4 1881.1C158 1884.1 149.6 1884.9 149.2 1888C148.8 1891 152.3 1898.3 156.1 1899.4C159.9 1900.6 168.4 1896.4 172.2 1894.9C176 1893.3 180.2 1891.9 179.1 1890.3C177.9 1888.6 169.3 1887.7 165.3 1884.8C161.3 1881.8 157.5 1875.3 155.2 1872.8C152.9 1870.3 151 1868.2 151.5 1869.6Z" fill="#DE8C00" fill-opacity="0.86"/>
<path d="M383.4 1812.2C385.4 1808 387.6 1801.1 392.6 1798.4C397.5 1795.8 408.2 1795 413.2 1796.1C418.2 1797.3 421.3 1800.4 422.4 1805.3C423.6 1810.3 421.6 1820.2 420.1 1826C418.6 1831.7 416.7 1836.3 413.2 1839.8C409.8 1843.2 404 1846.6 399.4 1846.6C394.9 1846.6 388.9 1843.6 385.7 1839.8C382.5 1835.9 380.5 1828.3 380.2 1823.7C379.8 1819.1 381.3 1816.4 383.4 1812.2Z" fill="#00B4F0" fill-opacity="0.75"/>
<path d="M257.1 1874.2C260.6 1869.6 268.6 1868.8 275.5 1867.3C282.4 1865.8 290.8 1866.2 298.4 1865C306.1 1863.9 314.5 1860.8 321.4 1860.4C328.3 1860 334.4 1861.6 339.8 1862.7C345.1 1863.9 352 1862.7 353.5 1867.3C355.1 1871.9 350.9 1883.8 348.9 1890.3C347 1896.8 346.6 1904 342.1 1906.3C337.5 1908.6 328.7 1903.3 321.4 1904C314.1 1904.8 306.1 1908.2 298.4 1910.9C290.8 1913.6 282 1919.7 275.5 1920.1C269 1920.5 262.9 1917.4 259.4 1913.2C256 1909 255.2 1901.4 254.8 1894.9C254.4 1888.4 253.7 1878.8 257.1 1874.2Z" fill="#00B9E3" fill-opacity="0.68"/>
<path d="M372.8 1894.9C376.3 1890.3 385.1 1887.6 390.3 1888C395.5 1888.4 402.1 1891.8 404 1897.2C406 1902.5 403.7 1913.6 401.7 1920.1C399.8 1926.6 396.4 1933.9 392.6 1936.2C388.7 1938.5 382.6 1937.3 378.8 1933.9C375 1930.4 370.6 1922 369.6 1915.5C368.6 1909 369.4 1899.4 372.8 1894.9Z" fill="#00C08B" fill-opacity="0.82"/>
<path d="M665.7 1839.8C667 1836.7 670 1833.3 672.6 1832.9C675.3 1832.5 679.8 1834.8 681.8 1837.5C683.9 1840.1 685.4 1844.7 685 1848.9C684.6 1853.2 682 1860.8 679.5 1862.7C677.1 1864.6 672.8 1862.3 670.3 1860.4C667.9 1858.5 665.6 1854.7 664.8 1851.2C664.1 1847.8 664.4 1842.8 665.7 1839.8Z" fill="#00C0B3" fill-opacity="0.82"/>
<path d="M477.5 1956.8C477.9 1953.8 480.4 1955.7 482.1 1959.1C483.8 1962.6 486.5 1970.7 487.6 1977.5C488.8 1984.3 489.9 1996.3 489 2000C488.1 2003.7 483.6 2003.7 482.1 2000C480.6 1996.3 480.6 1984.7 479.8 1977.5C479 1970.3 477.1 1959.9 477.5 1956.8Z" fill="#FF61C3" fill-opacity="0.82"/>
<path d="M280.1 1954.5C281.8 1951.5 288.5 1955.3 291.6 1959.1C294.6 1963 295.8 1970.7 298.4 1977.5C301.1 1984.3 309.5 1996.3 307.6 2000C305.7 2003.7 291.4 2003.7 287 2000C282.5 1996.3 282.1 1985.1 281 1977.5C279.8 1969.9 278.3 1957.6 280.1 1954.5Z" fill="#DE8C00" fill-opacity="0.86"/>
<path d="M358.1 1986.7C360.4 1983.2 364.2 1978.7 367.3 1977.5C370.4 1976.4 375.7 1977.1 376.5 1979.8C377.3 1982.5 374.2 1990.2 371.9 1993.6C369.6 1996.9 365.8 1999.2 362.7 2000C359.7 2000.8 354.3 2000.4 353.5 1998.2C352.8 1995.9 355.8 1990.1 358.1 1986.7Z" fill="#00A5FF" fill-opacity="0.82"/>
<path d="M404 1977.5C405.6 1973 410.2 1972.1 413.2 1972.9C416.3 1973.7 421.6 1977.6 422.4 1982.1C423.2 1986.6 420.9 1997 417.8 2000C414.8 2003 406.3 2003.7 404 2000C401.7 1996.3 402.5 1982 404 1977.5Z" fill="#00BF74" fill-opacity="0.78"/>
<path d="M355.8 1980C358.4 1976.6 369.8 1977.7 372.8 1980C375.9 1982.3 375.1 1989.9 374.2 1993.8C373.3 1997.6 370.1 2001.8 367.3 2003C364.5 2004.1 359.1 2004.5 357.2 2000.7C355.3 1996.8 353.2 1983.4 355.8 1980Z" fill="#00A5FF" fill-opacity="0.82"/>
<path d="M413.2 1991.5C418.2 1988 429.7 1988.8 433.9 1991.5C438.1 1994.2 438.5 2002.4 438.5 2007.5C438.5 2012.7 437.7 2019.3 433.9 2022.2C430.1 2025.1 420.5 2024.4 415.5 2025C410.5 2025.6 408.2 2023.8 404 2025.9C399.8 2028 394.5 2036.5 390.3 2037.4C386.1 2038.3 379.2 2034.5 378.8 2031.4C378.4 2028.4 383.8 2022.2 388 2019C392.2 2015.8 399.8 2016.7 404 2012.1C408.2 2007.5 408.2 1994.9 413.2 1991.5Z" fill="#00BF74" fill-opacity="0.78"/>
<path d="M283.7 1980C286.8 1976.8 303.6 1976.9 307.6 1980C311.6 1983.1 310.7 1995.2 307.6 1998.4C304.6 2001.6 293.2 2002.3 289.3 1999.3C285.3 1996.2 280.7 1983.2 283.7 1980Z" fill="#DE8C00" fill-opacity="0.86"/>
<path d="M481.2 1980C482.1 1976.2 486.5 1975.4 487.6 1980C488.8 1984.6 488.4 1999.5 488.1 2007.5C487.8 2015.6 486.8 2024.8 485.8 2028.2C484.8 2031.7 482.7 2032.4 482.1 2028.2C481.5 2024 482.2 2011 482.1 2003C481.9 1994.9 480.3 1983.8 481.2 1980Z" fill="#FF61C3" fill-opacity="0.82"/>
<path d="M257.1 2110.9C259.4 2106.9 270.5 2104.7 275.5 2104C280.5 2103.2 284.7 2104 287 2106.3C289.3 2108.6 291.2 2114.3 289.3 2117.7C287.3 2121.2 280.1 2125.2 275.5 2126.9C270.9 2128.6 264.8 2130.5 261.7 2127.8C258.6 2125.2 254.8 2114.8 257.1 2110.9Z" fill="#FD6F86" fill-opacity="0.82"/>
<path d="M229.6 2133.8C231.7 2131.5 238.8 2131.1 243.3 2131.5C247.9 2131.9 255.2 2133.4 257.1 2136.1C259 2138.8 257.9 2145.3 254.8 2147.6C251.8 2149.9 242.8 2150.3 238.8 2149.9C234.7 2149.5 232 2148 230.5 2145.3C229 2142.6 227.4 2136.1 229.6 2133.8Z" fill="#D39200" fill-opacity="0.82"/>
<path d="M264 2150.8C264.4 2148.7 269 2148.4 270.9 2149.9C272.8 2151.4 275.9 2157.8 275.5 2160C275.1 2162.1 270.5 2164.3 268.6 2162.7C266.7 2161.2 263.6 2152.9 264 2150.8Z" fill="#EA6AF1" fill-opacity="0.82"/>
<path d="M449 2084.7C450 2082.5 452.3 2083.7 453.6 2086.5C454.9 2089.4 456.7 2096.9 456.8 2101.7C457 2106.5 455.7 2113.5 454.5 2115.4C453.4 2117.4 451 2115.8 450 2113.1C448.9 2110.5 448.3 2104.1 448.1 2099.4C448 2094.6 448.1 2086.8 449 2084.7Z" fill="#00ADFA" fill-opacity="0.82"/>
<path d="M569.3 2225.6C570.1 2220.7 574.5 2220.7 576.2 2225.6C577.9 2230.6 578.4 2245.9 579.4 2255.5C580.4 2265 582.7 2278.4 582.2 2283C581.6 2287.6 578 2287.6 576.2 2283C574.5 2278.4 572.8 2265 571.6 2255.5C570.5 2245.9 568.6 2230.6 569.3 2225.6Z" fill="#A6A400" fill-opacity="0.92"/>
<path d="M498.2 2342.7C500.8 2339.7 507.7 2338.1 514.2 2333.5C520.7 2328.9 530.3 2320.9 537.2 2315.2C544.1 2309.4 548.7 2301.4 555.6 2299.1C562.4 2296.8 570.9 2298.7 578.5 2301.4C586.2 2304.1 594.6 2311.7 601.5 2315.2C608.4 2318.6 615.6 2319.8 619.8 2322.1C624 2324.4 626.3 2325.5 626.7 2328.9C627.1 2332.4 625.6 2338.9 622.1 2342.7C618.7 2346.5 611.8 2348.5 606.1 2351.9C600.3 2355.3 594.6 2360.5 587.7 2363.4C580.8 2366.2 573.2 2368.4 564.7 2368.9C556.3 2369.4 546.4 2368.1 537.2 2366.6C528 2365.1 516.1 2362.2 509.6 2359.7C503.1 2357.3 500.1 2354.7 498.2 2351.9C496.3 2349.1 495.5 2345.8 498.2 2342.7Z" fill="#A6A400" fill-opacity="0.92"/>
<path d="M210.3 2301.4C211.8 2302.2 215.6 2309.8 218.1 2315.2C220.5 2320.5 223.1 2328.2 225 2333.5C226.9 2338.9 228 2342 229.6 2347.3C231.1 2352.7 232.6 2360.3 234.2 2365.7C235.7 2371 238.4 2374.5 238.8 2379.4C239.1 2384.4 238 2391.9 236.5 2395.5C234.9 2399.1 231.6 2402.9 229.6 2401C227.5 2399.1 225.6 2389.9 224.1 2384C222.5 2378.1 221.8 2371.8 220.4 2365.7C219 2359.6 217.2 2353.4 215.8 2347.3C214.4 2341.2 213.3 2335.1 212.1 2328.9C211 2322.8 209.2 2315.2 208.9 2310.6C208.6 2306 208.8 2300.6 210.3 2301.4Z" fill="#AE87FF" fill-opacity="0.8"/>
<path d="M315 2296.8C315.9 2293.4 318.3 2292.2 318.6 2299.1C318.9 2306 317.3 2328.6 316.8 2338.1C316.3 2347.7 315.3 2351.9 315.9 2356.5C316.5 2361.1 319.8 2361.1 320.5 2365.7C321.2 2370.3 321.2 2380 320 2384C318.9 2388.1 315.8 2390.8 313.6 2390C311.4 2389.2 307.9 2384.3 306.7 2379.4C305.6 2374.6 305.8 2366.4 306.7 2361.1C307.6 2355.7 311.1 2354.2 312.2 2347.3C313.3 2340.4 312.7 2328.2 313.1 2319.8C313.6 2311.3 314 2300.2 315 2296.8Z" fill="#B79F00" fill-opacity="0.82"/>
<path d="M243.3 2244C244.5 2241.7 254.2 2239 257.1 2241.7C260 2244.4 260.8 2255.6 260.8 2260.1C260.8 2264.5 258.9 2269.1 257.1 2268.3C255.4 2267.6 252.5 2259.5 250.2 2255.5C247.9 2251.4 242.2 2246.3 243.3 2244Z" fill="#00C0B3" fill-opacity="0.82"/>
<path d="M926.5 1605.6C930.7 1599.9 939.1 1593.4 947.1 1589.5C955.2 1585.7 968.5 1583.4 974.7 1582.6C980.8 1581.9 982.3 1582.3 983.8 1584.9C985.4 1587.6 983.1 1593 983.8 1598.7C984.6 1604.5 986.1 1613.6 988.4 1619.4C990.7 1625.1 998.4 1630.1 997.6 1633.1C996.9 1636.2 987.7 1634.7 983.8 1637.7C980 1640.8 977.7 1646.9 974.7 1651.5C971.6 1656.1 967.8 1659.9 965.5 1665.3C963.2 1670.6 964 1681.4 960.9 1683.7C957.8 1686 950.9 1677.5 947.1 1679.1C943.3 1680.6 940.6 1688.6 937.9 1692.8C935.3 1697 933.3 1704.3 931 1704.3C928.8 1704.3 926.1 1697.8 924.2 1692.8C922.2 1687.9 920.3 1682.1 919.6 1674.5C918.8 1666.8 919.2 1655.3 919.6 1646.9C920 1638.5 920.7 1630.9 921.9 1624C923 1617.1 922.2 1611.3 926.5 1605.6Z" fill="#C77CFF" fill-opacity="0.9"/>
<path d="M1004.5 1610.2C1006.2 1609.3 1012.5 1608.9 1016 1609.3C1019.4 1609.7 1025.2 1611.4 1025.2 1612.5C1025.2 1613.6 1019.2 1615.3 1016 1615.7C1012.8 1616.1 1007.8 1615.7 1005.9 1614.8C1004 1613.9 1002.8 1611.1 1004.5 1610.2Z" fill="#C77CFF" fill-opacity="0.9"/>
<path d="M1296.1 1626.3C1299.1 1622.4 1305.6 1622.8 1309.8 1624C1314 1625.1 1318.6 1628.6 1321.3 1633.1C1324 1637.7 1325.5 1644.6 1325.9 1651.5C1326.3 1658.4 1324.8 1667.6 1323.6 1674.5C1322.5 1681.4 1318.3 1687.5 1319 1692.8C1319.8 1698.2 1329 1704.3 1328.2 1706.6C1327.4 1708.9 1317.9 1707.4 1314.4 1706.6C1311 1705.8 1309.8 1700.5 1307.5 1702C1305.2 1703.6 1302.6 1709.7 1300.7 1715.8C1298.7 1721.9 1297.6 1733 1296.1 1738.8C1294.5 1744.5 1293.8 1749.5 1291.5 1750.2C1289.2 1751 1284.2 1748.3 1282.3 1743.3C1280.4 1738.4 1279.6 1728 1280 1720.4C1280.4 1712.7 1282.7 1705.1 1284.6 1697.4C1286.5 1689.8 1290.3 1682.9 1291.5 1674.5C1292.6 1666.1 1290.7 1655 1291.5 1646.9C1292.2 1638.9 1293 1630.1 1296.1 1626.3Z" fill="#DB72FB" fill-opacity="0.82"/>
<path d="M800.2 1993.6C801.3 1992.3 805.4 1991.4 807.1 1992.2C808.8 1993 811.4 1996.9 810.3 1998.2C809.1 1999.5 801.9 2000.8 800.2 2000C798.5 1999.2 799 1994.9 800.2 1993.6Z" fill="#DE8C00" fill-opacity="0.86"/>
<path d="M807.1 1993.8C809.8 1994.5 809 2002.2 811.7 2007.5C814.3 2012.9 820.5 2020.6 823.1 2025.9C825.8 2031.3 825.4 2036.6 827.7 2039.7C830 2042.7 833.1 2042.7 836.9 2044.3C840.7 2045.8 846.3 2047.5 850.7 2048.9C855.1 2050.2 862.8 2050.2 863.6 2052.5C864.3 2054.8 859.7 2060.2 855.3 2062.6C850.9 2065.1 840.7 2064.9 836.9 2067.2C833.1 2069.5 832.3 2071.8 832.3 2076.4C832.3 2081 836.9 2089.4 836.9 2094.8C836.9 2100.1 835.4 2105 832.3 2108.6C829.3 2112.2 823.1 2115.6 818.6 2116.4C814 2117.1 808.6 2116 804.8 2113.1C801 2110.3 797.5 2105.5 795.6 2099.4C793.7 2093.3 794.8 2083.3 793.3 2076.4C791.8 2069.5 788.3 2064.2 786.4 2058.1C784.5 2051.9 782.2 2046.6 781.8 2039.7C781.4 2032.8 781.8 2022.9 784.1 2016.7C786.4 2010.6 791.8 2006.8 795.6 2003C799.4 1999.1 804.4 1993 807.1 1993.8Z" fill="#DE8C00" fill-opacity="0.86"/>
<path d="M933.3 2117.7C934.1 2115.4 938.9 2112.8 940.2 2113.1C941.6 2113.5 942.4 2117.7 941.6 2120C940.8 2122.3 937 2127.3 935.6 2126.9C934.3 2126.5 932.6 2120 933.3 2117.7Z" fill="#DE8C00" fill-opacity="0.86"/>
<path d="M1121.6 2074.1C1123.1 2071.1 1134.6 2069.1 1140 2067.2C1145.3 2065.3 1149.1 2064.9 1153.7 2062.6C1158.3 2060.3 1164.6 2053.5 1167.5 2053.5C1170.4 2053.5 1171.9 2058.1 1171.2 2062.6C1170.4 2067.2 1166.6 2076.4 1162.9 2081C1159.2 2085.6 1154.5 2089.4 1149.1 2090.2C1143.8 2091 1135.4 2088.3 1130.8 2085.6C1126.2 2082.9 1120.1 2077.2 1121.6 2074.1Z" fill="#F564E3" fill-opacity="0.82"/>
<path d="M1066.5 2154.5C1068 2152.6 1078.7 2153.3 1084.9 2152.2C1091 2151 1097.9 2149.9 1103.2 2147.6C1108.6 2145.3 1112.4 2139.9 1117 2138.4C1121.6 2136.9 1127.7 2135.7 1130.8 2138.4C1133.8 2141.1 1136.1 2148.7 1135.4 2154.5C1134.6 2160.2 1128.5 2167.3 1126.2 2172.8C1123.9 2178.3 1125.4 2185.5 1121.6 2187.5C1117.8 2189.6 1107.8 2188.4 1103.2 2185.2C1098.6 2182 1098.6 2171.8 1094 2168.2C1089.4 2164.6 1080.3 2166 1075.7 2163.7C1071.1 2161.4 1065 2156.4 1066.5 2154.5Z" fill="#5EB300" fill-opacity="0.82"/>
<path d="M1018.3 2163.7C1019 2161.4 1024.6 2159.8 1027.5 2161.4C1030.3 2162.9 1034.5 2169.8 1035.3 2172.8C1036 2175.9 1034.1 2179.3 1032.1 2179.7C1030 2180.1 1025.2 2177.8 1022.9 2175.1C1020.6 2172.5 1017.5 2166 1018.3 2163.7Z" fill="#00C0B3" fill-opacity="0.82"/>
<path d="M1208.8 2191.2C1210.2 2187.8 1215.4 2185.8 1217.1 2188.9C1218.8 2192 1219.5 2203.8 1218.9 2209.6C1218.3 2215.3 1215.1 2223.3 1213.4 2223.3C1211.7 2223.3 1209.6 2214.9 1208.8 2209.6C1208.1 2204.2 1207.4 2194.6 1208.8 2191.2Z" fill="#FF61C3" fill-opacity="0.82"/>
<path d="M951.7 2241.7C954.4 2240.2 958.6 2243.2 960.9 2246.3C963.2 2249.4 963.2 2255.5 965.5 2260.1C967.8 2264.7 970.1 2270.8 974.7 2273.8C979.3 2276.9 986.9 2276.9 993 2278.4C999.2 2280 1005.3 2281.3 1011.4 2283C1017.5 2284.7 1025.2 2286.1 1029.8 2288.5C1034.4 2291 1035.9 2293.3 1038.9 2297.7C1042 2302.2 1045.4 2309.2 1048.1 2315.2C1050.8 2321.1 1055.8 2329.7 1055 2333.5C1054.2 2337.4 1047.7 2338 1043.5 2338.1C1039.3 2338.3 1035.1 2335.8 1029.8 2334.5C1024.4 2333.1 1017.5 2331.4 1011.4 2329.9C1005.3 2328.3 999.2 2326 993 2325.3C986.9 2324.5 980.8 2326 974.7 2325.3C968.5 2324.5 960.9 2324.7 956.3 2320.7C951.7 2316.7 949.4 2308.4 947.1 2301.4C944.8 2294.4 942.9 2286.1 942.5 2278.4C942.1 2270.8 943.3 2261.6 944.8 2255.5C946.4 2249.4 949 2243.2 951.7 2241.7Z" fill="#E88526" fill-opacity="0.82"/>
<path d="M1094 2255.5C1096 2253.6 1102.8 2254.7 1105.5 2257.8C1108.2 2260.8 1110.1 2268.7 1110.1 2273.8C1110.1 2279 1107.4 2286.5 1105.5 2288.5C1103.6 2290.6 1100.5 2289.5 1098.6 2286.2C1096.7 2283 1094.8 2274.4 1094 2269.3C1093.3 2264.1 1092.1 2257.4 1094 2255.5Z" fill="#FD6F86" fill-opacity="0.82"/>
<path d="M1179 2255.5C1180.5 2252 1183.6 2254.7 1183.6 2257.8C1183.6 2260.8 1179 2269.6 1179 2273.8C1179 2278.1 1180.9 2282.3 1183.6 2283C1186.3 2283.8 1192.5 2278.1 1195.1 2278.4C1197.6 2278.8 1199.5 2282.3 1198.7 2285.3C1198 2288.4 1193.7 2295 1190.5 2296.8C1187.2 2298.6 1181.7 2298.9 1179 2295.9C1176.3 2292.8 1174.4 2285.2 1174.4 2278.4C1174.4 2271.7 1177.5 2258.9 1179 2255.5Z" fill="#B79F00" fill-opacity="0.82"/>
<path d="M1252.4 2324.4C1252.4 2321.3 1255.1 2325.1 1257 2328.9C1258.9 2332.8 1262 2342.7 1263.9 2347.3C1265.8 2351.9 1265.8 2354.2 1268.5 2356.5C1271.2 2358.8 1277.7 2357.3 1280 2361.1C1282.3 2364.9 1283.1 2375.2 1282.3 2379.4C1281.5 2383.7 1278.5 2386.3 1275.4 2386.3C1272.3 2386.3 1266.2 2382.9 1263.9 2379.4C1261.6 2376 1262.8 2371 1261.6 2365.7C1260.5 2360.3 1258.6 2354.2 1257 2347.3C1255.5 2340.4 1252.4 2327.4 1252.4 2324.4Z" fill="#A6A400" fill-opacity="0.92"/>
<path d="M1128.5 2388.6C1130.8 2385.8 1139.6 2386 1144.5 2384C1149.5 2382.1 1155.1 2377.9 1158.3 2377.2C1161.5 2376.4 1164.4 2377.4 1163.8 2379.4C1163.2 2381.5 1158.6 2386.9 1154.6 2389.6C1150.7 2392.2 1143.9 2393.6 1140 2395.5C1136 2397.4 1132.7 2402.2 1130.8 2401C1128.9 2399.9 1126.2 2391.5 1128.5 2388.6Z" fill="#AE87FF" fill-opacity="0.8"/>
<path d="M342.1 2127.7C343.5 2125.8 347.2 2125.8 350.5 2124.9C353.8 2124 358.5 2121.9 361.7 2122.1C365 2122.3 367.3 2125.6 370.2 2126.3C373 2127 375.8 2125.1 378.6 2126.3C381.4 2127.5 384.2 2131.2 387 2133.3C389.8 2135.4 392.1 2137.5 395.4 2138.9C398.7 2140.3 403.4 2140.3 406.6 2141.7C409.9 2143.1 413.9 2144.5 415.1 2147.3C416.2 2150.2 415.1 2155.3 413.7 2158.6C412.2 2161.8 409.2 2164.2 406.6 2167C404.1 2169.8 400.1 2172.6 398.2 2175.4C396.3 2178.2 396.8 2181.5 395.4 2183.8C394 2186.2 391.7 2189.4 389.8 2189.4C387.9 2189.4 386.5 2185.2 384.2 2183.8C381.8 2182.4 378.6 2182.4 375.8 2181C373 2179.6 369.2 2178.2 367.3 2175.4C365.5 2172.6 366.4 2167 364.5 2164.2C362.7 2161.4 359.2 2161.4 356.1 2158.6C353.1 2155.8 348.6 2151.1 346.3 2147.3C344 2143.6 342.8 2139.4 342.1 2136.1C341.4 2132.9 340.7 2129.6 342.1 2127.7Z" fill="#2BB600" fill-opacity="0.7"/>
<path d="M325.3 2167C326.9 2164.9 330.9 2164.7 333.7 2165.6C336.5 2166.5 339.3 2169.6 342.1 2172.6C344.9 2175.6 348.6 2180.6 350.5 2183.8C352.4 2187.1 354.7 2190.6 353.3 2192.2C351.9 2193.9 345.8 2194.4 342.1 2193.7C338.4 2193 333.9 2190.6 330.9 2188C327.8 2185.5 324.8 2181.7 323.9 2178.2C322.9 2174.7 323.6 2169.1 325.3 2167Z" fill="#2BB600" fill-opacity="0.75"/>
<path d="M373 2110.9C374.4 2108.5 381.4 2107.1 384.2 2108.1C387 2109 389.8 2113.7 389.8 2116.5C389.8 2119.3 386.5 2124 384.2 2124.9C381.8 2125.8 377.6 2124.4 375.8 2122.1C373.9 2119.8 371.6 2113.2 373 2110.9Z" fill="#F8766D" fill-opacity="0.45"/>
<path d="M384.2 2256.8C386.1 2253.1 388.9 2252.6 392.6 2251.2C396.3 2249.8 402 2249.5 406.6 2248.4C411.3 2247.2 416.7 2244.2 420.7 2244.2C424.6 2244.2 427.9 2245.3 430.5 2248.4C433.1 2251.4 435.2 2258.2 436.1 2262.4C437 2266.6 437.3 2269.9 436.1 2273.6C434.9 2277.4 431.7 2282 429.1 2284.9C426.5 2287.7 423.9 2289.1 420.7 2290.5C417.4 2291.9 412.7 2291.9 409.4 2293.3C406.2 2294.7 403.8 2297.5 401 2298.9C398.2 2300.3 395.4 2301.7 392.6 2301.7C389.8 2301.7 386.3 2301.2 384.2 2298.9C382.1 2296.5 380.4 2291.9 380 2287.7C379.5 2283.5 380.7 2278.8 381.4 2273.6C382.1 2268.5 382.3 2260.5 384.2 2256.8Z" fill="#F564E3" fill-opacity="0.85"/>
<path d="M377.2 2304.5C379.4 2301.9 386.3 2300.3 389.8 2300.3C393.3 2300.3 397 2301.5 398.2 2304.5C399.4 2307.5 397.3 2313.9 396.8 2318.5C396.3 2323.2 395.2 2327.9 395.4 2332.6C395.6 2337.2 397.5 2341.9 398.2 2346.6C398.9 2351.3 399.2 2355.9 399.6 2360.6C400.1 2365.3 401.3 2370.4 401 2374.7C400.8 2378.9 399.9 2383.8 398.2 2385.9C396.6 2388 393.1 2388 391.2 2387.3C389.3 2386.6 387.9 2384.9 387 2381.7C386.1 2378.4 386.1 2372.3 385.6 2367.6C385.1 2363 384.9 2358.3 384.2 2353.6C383.5 2348.9 382.3 2344.3 381.4 2339.6C380.4 2334.9 379.4 2329.5 378.6 2325.5C377.8 2321.6 376.7 2319.2 376.5 2315.7C376.2 2312.2 374.9 2307.1 377.2 2304.5Z" fill="#F564E3" fill-opacity="0.72"/>
<path d="M431.9 2228.7C432.6 2226.2 437.3 2218 438.9 2216.1C440.5 2214.2 442.4 2214.9 441.7 2217.5C441 2220.1 436.3 2229.7 434.7 2231.5C433.1 2233.4 431.2 2231.3 431.9 2228.7Z" fill="#00ADFA" fill-opacity="0.85"/>
<path d="M451.5 2247C451.8 2245.8 452.9 2244.9 455.7 2248.4C458.6 2251.9 464.6 2261.5 468.4 2268C472.1 2274.6 475.9 2282.5 478.2 2287.7C480.5 2292.8 481.9 2296.5 482.4 2298.9C482.9 2301.2 482.4 2303.6 481 2301.7C479.6 2299.8 476.8 2292.8 474 2287.7C471.2 2282.5 467.4 2276.2 464.2 2270.8C460.9 2265.4 456.4 2259.4 454.3 2255.4C452.2 2251.4 451.3 2248.1 451.5 2247Z" fill="#A6A400" fill-opacity="0.55"/>
<path d="M456.1 1595.7C458.2 1593.5 462.4 1591.5 465.3 1589.6C468.2 1587.7 469.7 1586 473.5 1584.5C477.2 1583 483.3 1581.3 487.8 1580.4C492.2 1579.6 495.9 1579 500 1579.4C504.1 1579.7 508.5 1581.3 512.2 1582.4C516 1583.6 519.7 1584.7 522.4 1586.5C525.2 1588.4 527.4 1591.3 528.6 1593.7C529.8 1596.1 530.3 1598.4 529.6 1600.8C528.9 1603.2 526 1605.9 524.5 1608C523 1610 522.4 1611.5 520.4 1613.1C518.4 1614.6 515.3 1616.5 512.2 1617.1C509.2 1617.8 505.1 1617.5 502 1617.1C499 1616.8 495.9 1615.1 493.9 1615.1C491.8 1615.1 490.1 1614.8 489.8 1617.1C489.5 1619.5 491.2 1625.3 491.8 1629.4C492.5 1633.5 493.9 1638.2 493.9 1641.6C493.9 1645 492.9 1648.4 491.8 1649.8C490.8 1651.2 488.8 1651.2 487.8 1649.8C486.7 1648.4 486.7 1644.7 485.7 1641.6C484.7 1638.6 483 1634.5 481.6 1631.4C480.3 1628.4 479.3 1625.6 477.6 1623.3C475.9 1620.9 473.8 1618.8 471.4 1617.1C469 1615.4 465.6 1614.4 463.3 1613.1C460.9 1611.7 458.8 1610.7 457.1 1609C455.4 1607.3 453.2 1605.1 453.1 1602.9C452.9 1600.6 454.1 1597.9 456.1 1595.7Z" fill="#C77CFF" fill-opacity="0.9"/>
<path d="M413.3 1621.2C412.9 1620.3 414.1 1618.7 416.3 1617.1C418.5 1615.6 422.4 1613.9 426.5 1612C430.6 1610.2 437.1 1607.6 440.8 1605.9C444.6 1604.2 446.8 1603 449 1601.8C451.2 1600.6 453 1598.5 454.1 1598.8C455.2 1599 456.5 1602 455.6 1603.4C454.8 1604.7 451.4 1605.8 449 1606.9C446.5 1608.1 444.2 1608.6 440.8 1610.2C437.4 1611.8 432.3 1614.3 428.6 1616.3C424.8 1618.4 420.9 1621.6 418.4 1622.4C415.8 1623.3 413.6 1622.1 413.3 1621.2Z" fill="#C77CFF" fill-opacity="0.85"/>
<path d="M412.2 1619.2C412.8 1618.3 415.4 1617.7 416.3 1618.2C417.3 1618.7 418.4 1621.4 417.9 1622.2C417.3 1623.1 414.2 1623.8 413.3 1623.3C412.3 1622.8 411.7 1620 412.2 1619.2Z" fill="#00B4F0" fill-opacity="0.9"/>
<path d="M547.3 1908.1C548.8 1904.6 552 1901.7 554.4 1901C556.7 1900.3 559.5 1902 561.4 1903.9C563.3 1905.7 564.5 1909.2 565.6 1912.3C566.6 1915.3 567.9 1918.8 567.7 1922.1C567.5 1925.4 565.2 1929.1 564.2 1931.9C563.1 1934.7 562.3 1936.8 561.4 1938.9C560.4 1941 559.5 1943.4 558.6 1944.5C557.6 1945.7 556.9 1946.9 555.8 1945.9C554.6 1945 552.7 1941 551.6 1938.9C550.4 1936.8 549.7 1936.1 548.8 1933.3C547.8 1930.5 546.2 1926.3 545.9 1922.1C545.7 1917.9 545.9 1911.6 547.3 1908.1Z" fill="#DB72FB" fill-opacity="0.88"/>
<path d="M555.8 1941.7C556.6 1940.3 559.7 1939.4 561.4 1941.7C563 1944.1 564.4 1951.6 565.6 1955.8C566.8 1960 567.7 1961.8 568.4 1967C569.1 1972.1 569.3 1980.6 569.8 1986.6C570.3 1992.7 571.7 1999.5 571.2 2003.5C570.7 2007.4 568.3 2010 567 2010.5C565.7 2011 564 2009.3 563.5 2006.3C563 2003.2 564.3 1996.9 564.2 1992.2C564.1 1987.6 563.4 1982.9 562.8 1978.2C562.2 1973.5 561.7 1968.9 560.7 1964.2C559.6 1959.5 557.3 1953.9 556.5 1950.2C555.7 1946.4 554.9 1943.1 555.8 1941.7Z" fill="#DB72FB" fill-opacity="0.8"/>
<path d="M558.6 2045.6C559.7 2040.4 561.8 2032.5 562.8 2027.3C563.7 2022.2 563 2017.3 564.2 2014.7C565.4 2012.1 567.5 2011 569.8 2011.9C572.1 2012.8 575.4 2017 578.2 2020.3C581 2023.6 584.3 2029.2 586.6 2031.5C589 2033.9 589.4 2034.8 592.2 2034.3C595.1 2033.9 600.2 2029.2 603.5 2028.7C606.7 2028.3 609.1 2029.9 611.9 2031.5C614.7 2033.2 618.4 2035.7 620.3 2038.6C622.2 2041.4 623.1 2044.4 623.1 2048.4C623.1 2052.3 621.2 2057.7 620.3 2062.4C619.4 2067.1 618.4 2071.8 617.5 2076.4C616.6 2081.1 616.1 2084.6 614.7 2090.5C613.3 2096.3 611 2106.4 609.1 2111.5C607.2 2116.7 605.6 2117.1 603.5 2121.3C601.4 2125.5 598.6 2134.7 596.5 2136.8C594.4 2138.9 593 2137 590.8 2134C588.7 2130.9 586.4 2123.4 583.8 2118.5C581.3 2113.6 578.7 2109.6 575.4 2104.5C572.1 2099.4 567.7 2091.9 564.2 2087.7C560.7 2083.5 556.5 2082 554.4 2079.2C552.3 2076.4 551.3 2074.3 551.6 2070.8C551.8 2067.3 554.6 2062.4 555.8 2058.2C556.9 2054 557.4 2050.7 558.6 2045.6Z" fill="#00BA38" fill-opacity="0.85"/>
<path d="M571.2 2031.5C572.4 2027.3 574.7 2024.8 578.2 2025.9C581.7 2027.1 588 2036.9 592.2 2038.6C596.5 2040.2 600.4 2035 603.5 2035.7C606.5 2036.4 609.6 2039.7 610.5 2042.8C611.4 2045.8 610.3 2050.7 609.1 2054C607.9 2057.3 606.3 2060.3 603.5 2062.4C600.7 2064.5 596.5 2066.8 592.2 2066.6C588 2066.4 581.7 2063.6 578.2 2061C574.7 2058.4 572.4 2056.1 571.2 2051.2C570 2046.3 570 2035.7 571.2 2031.5Z" fill="#fff" fill-opacity="0.7"/>
<path d="M606.3 2014.7C607.9 2012.4 613.3 2009.3 617.5 2009.1C621.7 2008.9 627.8 2011.7 631.5 2013.3C635.3 2014.9 639.5 2016.8 640 2018.9C640.4 2021 637.1 2024.3 634.3 2025.9C631.5 2027.6 626.6 2028.3 623.1 2028.7C619.6 2029.2 615.9 2029.7 613.3 2028.7C610.7 2027.8 608.9 2025.5 607.7 2023.1C606.5 2020.8 604.6 2017 606.3 2014.7Z" fill="#FF64B0" fill-opacity="0.75"/>
<path d="M611.9 1995.1C612.4 1991.3 615.6 1985.5 617.5 1981C619.4 1976.6 620.8 1972.1 623.1 1968.4C625.5 1964.7 628.5 1962.3 631.5 1958.6C634.6 1954.8 639.3 1949.5 641.4 1945.9C643.5 1942.4 642.5 1938.7 644.2 1937.5C645.8 1936.4 649.3 1937.3 651.2 1938.9C653.1 1940.6 655.2 1944.5 655.4 1947.3C655.6 1950.2 654.2 1953.4 652.6 1955.8C650.9 1958.1 648.1 1959.5 645.6 1961.4C643 1963.3 639.5 1964.2 637.1 1967C634.8 1969.8 632.9 1974.5 631.5 1978.2C630.1 1982 629.4 1985.7 628.7 1989.4C628 1993.2 628.7 1997.9 627.3 2000.7C625.9 2003.5 622.4 2005.8 620.3 2006.3C618.2 2006.7 616.1 2005.3 614.7 2003.5C613.3 2001.6 611.4 1998.8 611.9 1995.1Z" fill="#00BDD5" fill-opacity="0.75"/>
<path d="M613.3 1978.2C614.5 1974.7 617.5 1971.2 618.9 1971.2C620.3 1971.2 621.7 1974.7 621.7 1978.2C621.7 1981.7 620.1 1988.7 618.9 1992.2C617.7 1995.8 615.9 1999.3 614.7 1999.3C613.5 1999.3 612.1 1995.8 611.9 1992.2C611.7 1988.7 612.1 1981.7 613.3 1978.2Z" fill="#FF64B0" fill-opacity="0.7"/>
<path d="M531.9 2010.5C532.5 2008.4 534.5 2004.2 536.1 2002.1C537.8 2000 539.9 1998.3 541.7 1997.9C543.6 1997.4 546.2 1997.9 547.3 1999.3C548.5 2000.7 548.8 2003.5 548.8 2006.3C548.8 2009.1 549 2014.7 547.3 2016.1C545.7 2017.5 541.4 2014.9 538.9 2014.7C536.5 2014.5 533.8 2015.4 532.6 2014.7C531.4 2014 531.3 2012.6 531.9 2010.5Z" fill="#EA6AF1" fill-opacity="0.6"/>
<path d="M92.6 2109.4C92.9 2103.8 94 2094.2 95.4 2087C96.8 2079.7 99.6 2071.6 101 2065.9C102.4 2060.3 102.7 2057.3 103.9 2053.3C105 2049.3 106.4 2045.8 108.1 2042.1C109.7 2038.4 111.3 2033 113.7 2030.9C116 2028.8 118.8 2029.2 122.1 2029.5C125.4 2029.7 129.6 2031.3 133.3 2032.3C137.1 2033.2 140.3 2034.4 144.5 2035.1C148.8 2035.8 154.4 2036.5 158.6 2036.5C162.8 2036.5 166.5 2034.4 169.8 2035.1C173.1 2035.8 175.4 2040.2 178.2 2040.7C181 2041.2 183.6 2037.7 186.6 2037.9C189.7 2038.1 193.2 2039.5 196.5 2042.1C199.7 2044.7 203.7 2049.3 206.3 2053.3C208.9 2057.3 210.7 2061.7 211.9 2065.9C213.1 2070.2 213.5 2074.4 213.3 2078.6C213.1 2082.8 211.7 2087 210.5 2091.2C209.3 2095.4 207.7 2100.6 206.3 2103.8C204.9 2107.1 203.7 2111.3 202.1 2110.8C200.4 2110.4 198.1 2104.5 196.5 2101C194.8 2097.5 193.7 2093.5 192.2 2089.8C190.8 2086.1 189.9 2080.4 188 2078.6C186.2 2076.7 183.8 2077.6 181 2078.6C178.2 2079.5 174.5 2081.8 171.2 2084.2C167.9 2086.5 163.3 2089.8 161.4 2092.6C159.5 2095.4 159.5 2098.2 160 2101C160.4 2103.8 164 2106.4 164.2 2109.4C164.4 2112.5 163 2116.5 161.4 2119.3C159.7 2122.1 156.2 2123.7 154.4 2126.3C152.5 2128.9 151.6 2132.4 150.2 2134.7C148.8 2137 147.3 2140.3 145.9 2140.3C144.5 2140.3 143.8 2137 141.7 2134.7C139.6 2132.4 136.6 2128.2 133.3 2126.3C130 2124.4 125.4 2123.5 122.1 2123.5C118.8 2123.5 116 2123.7 113.7 2126.3C111.3 2128.9 109.9 2138.9 108.1 2138.9C106.2 2138.9 104.8 2129.3 102.4 2126.3C100.1 2123.2 95.7 2123.5 94 2120.7C92.4 2117.9 92.4 2115.1 92.6 2109.4Z" fill="#E88526" fill-opacity="0.85"/>
<path d="M158.6 2036.5C160.4 2033 166.5 2034.4 169.8 2035.1C173.1 2035.8 175.4 2040.2 178.2 2040.7C181 2041.2 183.6 2037.7 186.6 2037.9C189.7 2038.1 193.2 2039.5 196.5 2042.1C199.7 2044.7 203.7 2049.3 206.3 2053.3C208.9 2057.3 210.7 2061.7 211.9 2065.9C213.1 2070.2 213.5 2074.4 213.3 2078.6C213.1 2082.8 211.7 2087 210.5 2091.2C209.3 2095.4 207.7 2100.6 206.3 2103.8C204.9 2107.1 203.7 2111.3 202.1 2110.8C200.4 2110.4 198.1 2104.5 196.5 2101C194.8 2097.5 193.7 2093.5 192.2 2089.8C190.8 2086.1 189.9 2080.4 188 2078.6C186.2 2076.7 183.8 2077.6 181 2078.6C178.2 2079.5 174.5 2081.8 171.2 2084.2C167.9 2086.5 163.5 2093.5 161.4 2092.6C159.3 2091.7 158.1 2082.8 158.6 2078.6C159 2074.4 164.2 2071.1 164.2 2067.3C164.2 2063.6 159.5 2061.3 158.6 2056.1C157.6 2051 156.7 2040 158.6 2036.5Z" fill="#F17D50" fill-opacity="0.6"/>
<path d="M110.9 2078.6C112.5 2074.4 115.5 2069.5 119.3 2067.3C123 2065.2 128.6 2065 133.3 2065.9C138 2066.9 143.6 2069.9 147.3 2073C151.1 2076 154.8 2079.5 155.8 2084.2C156.7 2088.9 155.3 2096.3 153 2101C150.6 2105.7 145.9 2109.9 141.7 2112.2C137.5 2114.6 132.1 2116 127.7 2115.1C123.3 2114.1 118.1 2110.4 115.1 2106.6C112 2102.9 110.2 2097.3 109.5 2092.6C108.8 2087.9 109.2 2082.8 110.9 2078.6Z" fill="#fff" fill-opacity="0.45"/>
<path d="M141.7 2140.3C143.1 2136.6 147.3 2136.1 150.2 2134.7C153 2133.3 156.2 2131 158.6 2131.9C160.9 2132.8 162.8 2137 164.2 2140.3C165.6 2143.6 165.6 2147.8 167 2151.5C168.4 2155.3 170.7 2160 172.6 2162.8C174.5 2165.6 176.3 2165.1 178.2 2168.4C180.1 2171.6 182 2176.8 183.8 2182.4C185.7 2188 188.3 2196.9 189.4 2202C190.6 2207.2 191.3 2209.5 190.8 2213.3C190.4 2217 188.7 2221.7 186.6 2224.5C184.5 2227.3 181.5 2228.9 178.2 2230.1C174.9 2231.3 170.7 2231.3 167 2231.5C163.3 2231.7 158.6 2232.2 155.8 2231.5C153 2230.8 151.6 2230.3 150.2 2227.3C148.8 2224.3 148.5 2218.4 147.3 2213.3C146.2 2208.1 144.1 2202.5 143.1 2196.4C142.2 2190.4 142 2183.3 141.7 2176.8C141.5 2170.2 141.7 2163.2 141.7 2157.1C141.7 2151.1 140.3 2144.1 141.7 2140.3Z" fill="#E88526" fill-opacity="0.85"/>
<path d="M133.3 2022.4C133.8 2020.6 136.8 2017.3 138.9 2015.4C141 2013.6 143.4 2012.6 145.9 2011.2C148.5 2009.8 152.5 2006.3 154.4 2007C156.2 2007.7 157.4 2012.4 157.2 2015.4C156.9 2018.5 155.1 2023.2 153 2025.3C150.9 2027.4 147.3 2027.8 144.5 2028.1C141.7 2028.3 138 2027.6 136.1 2026.7C134.3 2025.7 132.9 2024.3 133.3 2022.4Z" fill="#DE8C00" fill-opacity="0.8"/>
<path d="M200.7 2108C201.5 2105.5 205.1 2105 206.3 2108C207.4 2111.1 207.9 2120.9 207.7 2126.3C207.4 2131.7 205.8 2138.2 204.9 2140.3C203.9 2142.4 202.7 2141.7 202.1 2138.9C201.5 2136.1 201.6 2128.6 201.4 2123.5C201.1 2118.3 199.8 2110.6 200.7 2108Z" fill="#EA6AF1" fill-opacity="0.7"/>
<path d="M1218.6 1840.3C1219.5 1834.2 1226.1 1827.7 1229.8 1820.7C1233.5 1813.7 1237.3 1805.2 1241 1798.2C1244.8 1791.2 1248.5 1783.3 1252.2 1778.6C1256 1773.9 1259.7 1772.7 1263.5 1770.2C1267.2 1767.6 1270.5 1765 1274.7 1763.1C1278.9 1761.3 1284.8 1758.7 1288.7 1758.9C1292.7 1759.2 1296.2 1760.3 1298.6 1764.5C1300.9 1768.8 1301.1 1777.2 1302.8 1784.2C1304.4 1791.2 1306.5 1799.6 1308.4 1806.6C1310.2 1813.7 1312.3 1819.5 1314 1826.3C1315.6 1833.1 1318 1840.3 1318.2 1847.3C1318.4 1854.3 1316.6 1862.1 1315.4 1868.4C1314.2 1874.7 1313.3 1880.5 1311.2 1885.2C1309.1 1889.9 1304.2 1892.7 1302.8 1896.4C1301.4 1900.2 1305.1 1904.9 1302.8 1907.7C1300.4 1910.5 1293.4 1911.4 1288.7 1913.3C1284.1 1915.1 1278.9 1916.1 1274.7 1918.9C1270.5 1921.7 1267.7 1930.1 1263.5 1930.1C1259.3 1930.1 1253.7 1922.6 1249.4 1918.9C1245.2 1915.1 1241.5 1911.4 1238.2 1907.7C1234.9 1903.9 1231.7 1901.8 1229.8 1896.4C1227.9 1891.1 1227.9 1881.9 1227 1875.4C1226.1 1868.8 1225.6 1863 1224.2 1857.1C1222.8 1851.3 1217.6 1846.4 1218.6 1840.3Z" fill="#00BA38" fill-opacity="0.85"/>
<path d="M1238.2 1806.6C1240.6 1801 1247.6 1795.9 1252.2 1792.6C1256.9 1789.3 1261.6 1787.5 1266.3 1787C1271 1786.5 1275.6 1787.9 1280.3 1789.8C1285 1791.7 1291.5 1794 1294.3 1798.2C1297.1 1802.4 1298.1 1810.4 1297.1 1815.1C1296.2 1819.7 1292 1823 1288.7 1826.3C1285.5 1829.6 1281.7 1832.4 1277.5 1834.7C1273.3 1837 1267.2 1838.4 1263.5 1840.3C1259.7 1842.2 1257.9 1845.9 1255.1 1845.9C1252.2 1845.9 1249.4 1843.6 1246.6 1840.3C1243.8 1837 1239.6 1831.9 1238.2 1826.3C1236.8 1820.7 1235.9 1812.2 1238.2 1806.6Z" fill="#fff" fill-opacity="0.6"/>
<path d="M1201.7 1750.5C1202.9 1748.4 1206.4 1750.5 1208.8 1751.9C1211.1 1753.3 1214.1 1755.9 1215.8 1758.9C1217.4 1762 1216.7 1766.4 1218.6 1770.2C1220.4 1773.9 1223.7 1779 1227 1781.4C1230.3 1783.7 1234.9 1784.2 1238.2 1784.2C1241.5 1784.2 1244.3 1781.4 1246.6 1781.4C1249 1781.4 1251.5 1781.8 1252.2 1784.2C1253 1786.5 1252.7 1792.6 1250.8 1795.4C1249 1798.2 1244.1 1799.2 1241 1801C1238 1802.9 1234.9 1803.8 1232.6 1806.6C1230.3 1809.4 1229.3 1815.1 1227 1817.9C1224.7 1820.7 1221.8 1823 1218.6 1823.5C1215.3 1823.9 1211.1 1821.6 1207.3 1820.7C1203.6 1819.7 1200.3 1818.8 1196.1 1817.9C1191.9 1816.9 1186.3 1816 1182.1 1815.1C1177.9 1814.1 1173 1814.1 1170.9 1812.2C1168.8 1810.4 1168.3 1806.2 1169.5 1803.8C1170.6 1801.5 1174.8 1799.2 1177.9 1798.2C1180.9 1797.3 1184.2 1797.8 1187.7 1798.2C1191.2 1798.7 1196.1 1802.4 1198.9 1801C1201.7 1799.6 1203.8 1793.5 1204.5 1789.8C1205.2 1786.1 1203.6 1782.8 1203.1 1778.6C1202.7 1774.4 1202 1769.2 1201.7 1764.5C1201.5 1759.9 1200.6 1752.6 1201.7 1750.5Z" fill="#FF64B0" fill-opacity="0.75"/>
<path d="M1163.9 1823.5C1165.3 1820.2 1167.8 1816.9 1170.9 1815.1C1173.9 1813.2 1179.3 1811.3 1182.1 1812.2C1184.9 1813.2 1187.7 1817.4 1187.7 1820.7C1187.7 1823.9 1184.2 1828.9 1182.1 1831.9C1180 1834.9 1177.7 1837.5 1175.1 1838.9C1172.5 1840.3 1168.8 1841 1166.7 1840.3C1164.6 1839.6 1162.9 1837.5 1162.4 1834.7C1162 1831.9 1162.4 1826.7 1163.9 1823.5Z" fill="#00BDD5" fill-opacity="0.8"/>
<path d="M1151.2 1879.6C1151.9 1877 1154.5 1875.9 1156.8 1875.4C1159.2 1874.9 1163.4 1875.2 1165.3 1876.8C1167.1 1878.4 1168.8 1883.1 1168.1 1885.2C1167.4 1887.3 1163.6 1888.5 1161 1889.4C1158.5 1890.4 1154.3 1892.5 1152.6 1890.8C1151 1889.2 1150.5 1882.2 1151.2 1879.6Z" fill="#00BDD5" fill-opacity="0.8"/>
<path d="M1277.5 1730.9C1279.6 1725.5 1284.5 1719.2 1287.3 1714C1290.1 1708.9 1290.4 1702.3 1294.3 1700C1298.3 1697.7 1309.3 1696.5 1311.2 1700C1313.1 1703.5 1307.4 1714 1305.6 1721C1303.7 1728.1 1301.4 1735.8 1300 1742.1C1298.6 1748.4 1300.4 1755.7 1297.1 1758.9C1293.9 1762.2 1284.5 1761.7 1280.3 1761.7C1276.1 1761.7 1272.8 1761.5 1271.9 1758.9C1271 1756.4 1273.8 1751 1274.7 1746.3C1275.6 1741.6 1275.4 1736.2 1277.5 1730.9Z" fill="#DB72FB" fill-opacity="0.55"/>
<path d="M964.1 1839.7C965.8 1836 971.2 1831.5 976 1829.5C980.8 1827.5 988.5 1827.5 993 1827.8C997.6 1828 1000.7 1828.3 1003.3 1831.2C1005.8 1834 1005.8 1842 1008.4 1844.8C1011 1847.7 1015.5 1846.8 1018.6 1848.2C1021.8 1849.7 1026.9 1851.4 1027.2 1853.3C1027.4 1855.3 1023.2 1857.6 1020.3 1860.2C1017.5 1862.7 1012.4 1865.6 1010.1 1868.7C1007.8 1871.8 1007.8 1875.5 1006.7 1878.9C1005.6 1882.3 1005.6 1886.9 1003.3 1889.2C1001 1891.4 996.2 1892.6 993 1892.6C989.9 1892.6 986.8 1890.9 984.5 1889.2C982.2 1887.5 980.5 1885.8 979.4 1882.3C978.3 1878.9 979.1 1872.7 977.7 1868.7C976.3 1864.7 972.9 1861.3 970.9 1858.5C968.9 1855.6 966.9 1854.8 965.8 1851.6C964.6 1848.5 962.3 1843.4 964.1 1839.7Z" fill="#00B4F0" fill-opacity="0.75"/>
<path d="M1023.8 1848.2C1024.6 1845.4 1030.3 1841.1 1034 1838C1037.7 1834.9 1041.9 1830 1045.9 1829.5C1049.9 1828.9 1054.7 1832.6 1057.9 1834.6C1061 1836.6 1065 1839.1 1064.7 1841.4C1064.4 1843.7 1059 1844.8 1056.2 1848.2C1053.3 1851.6 1050.5 1857.9 1047.6 1861.9C1044.8 1865.9 1041.1 1869.8 1039.1 1872.1C1037.1 1874.4 1036.8 1876.7 1035.7 1875.5C1034.6 1874.4 1033.4 1868.7 1032.3 1865.3C1031.1 1861.9 1030.3 1857.9 1028.9 1855.1C1027.4 1852.2 1022.9 1851.1 1023.8 1848.2Z" fill="#00B4F0" fill-opacity="0.6"/>
<path d="M1040.8 1860.2C1042.8 1856.5 1047.1 1849.7 1049.3 1848.2C1051.6 1846.8 1054.7 1848.8 1054.5 1851.6C1054.2 1854.5 1050.2 1861.3 1047.6 1865.3C1045.1 1869.3 1040.8 1874.7 1039.1 1875.5C1037.4 1876.4 1037.1 1873 1037.4 1870.4C1037.7 1867.8 1038.8 1863.9 1040.8 1860.2Z" fill="#C77CFF" fill-opacity="0.7"/>
<path d="M1032.3 1913C1034.3 1910.5 1040.8 1910.2 1044.2 1911.3C1047.6 1912.5 1050.5 1916.2 1052.8 1919.9C1055 1923.6 1054.7 1929 1057.9 1933.5C1061 1938.1 1067.5 1943.8 1071.5 1947.2C1075.5 1950.6 1081.5 1951.7 1081.7 1954C1082 1956.3 1076.6 1958.5 1073.2 1960.8C1069.8 1963.1 1063.8 1965.4 1061.3 1967.6C1058.7 1969.9 1060.1 1973.9 1057.9 1974.5C1055.6 1975 1051.3 1972.8 1047.6 1971C1043.9 1969.3 1039.7 1965.9 1035.7 1964.2C1031.7 1962.5 1027.2 1961.9 1023.8 1960.8C1020.3 1959.7 1016.4 1959.4 1015.2 1957.4C1014.1 1955.4 1014.7 1951.4 1016.9 1948.9C1019.2 1946.3 1026.3 1945.7 1028.9 1942C1031.4 1938.4 1031.7 1931.5 1032.3 1926.7C1032.9 1921.9 1030.3 1915.6 1032.3 1913Z" fill="#00C08B" fill-opacity="0.65"/>
<path d="M1064.7 1957.4C1066.1 1955.4 1076.9 1955.7 1081.7 1955.7C1086.6 1955.7 1090.6 1956.5 1093.7 1957.4C1096.7 1958.3 1098.9 1956.3 1100 1960.8C1101.1 1965.4 1101.3 1980.7 1100 1984.7C1098.7 1988.7 1094.5 1986.1 1092 1984.7C1089.5 1983.3 1088.3 1979 1085.2 1976.2C1082 1973.3 1076.6 1970.8 1073.2 1967.6C1069.8 1964.5 1063.3 1959.4 1064.7 1957.4Z" fill="#00A5FF" fill-opacity="0.85"/>
<path d="M986.2 1964.2C989.1 1962.5 993.6 1960.8 996.5 1960.8C999.3 1960.8 1001 1961.4 1003.3 1964.2C1005.6 1967.1 1008.4 1972.8 1010.1 1977.9C1011.8 1983 1013.2 1988.1 1013.5 1994.9C1013.8 2001.7 1012.1 2011.4 1011.8 2018.8C1011.5 2026.2 1012.1 2033 1011.8 2039.3C1011.5 2045.5 1011 2051.2 1010.1 2056.3C1009.3 2061.4 1009 2067.1 1006.7 2070C1004.4 2072.8 999.3 2073.7 996.5 2073.4C993.6 2073.1 991.6 2071.7 989.6 2068.3C987.6 2064.9 986.2 2058.9 984.5 2052.9C982.8 2047 980.5 2038.7 979.4 2032.5C978.3 2026.2 978.3 2021.1 977.7 2015.4C977.1 2009.7 976.3 2004 976 1998.3C975.7 1992.7 975.4 1985.8 976 1981.3C976.6 1976.7 977.7 1973.9 979.4 1971C981.1 1968.2 983.4 1965.9 986.2 1964.2Z" fill="#00B9E3" fill-opacity="0.72"/>
<path d="M880.5 1930.1C881.6 1928.4 885.9 1927.5 889 1926.7C892.1 1925.8 896.7 1927.3 899.2 1925C901.8 1922.7 902.4 1915.9 904.3 1913C906.3 1910.2 908.9 1908.5 911.2 1907.9C913.4 1907.4 916.7 1906.8 918 1909.6C919.3 1912.5 918.3 1921 918.8 1925C919.4 1929 921.3 1929.3 921.4 1933.5C921.5 1937.8 919.7 1946 919.7 1950.6C919.7 1955.1 922 1958.3 921.4 1960.8C920.8 1963.4 918.3 1965.9 916.3 1965.9C914.3 1965.9 911.7 1962.5 909.5 1960.8C907.2 1959.1 904.9 1957.7 902.6 1955.7C900.4 1953.7 898.4 1951.1 895.8 1948.9C893.3 1946.6 889.6 1944 887.3 1942C885 1940.1 883.3 1938.9 882.2 1936.9C881 1934.9 879.3 1931.8 880.5 1930.1Z" fill="#00BF74" fill-opacity="0.75"/>
<path d="M969.2 1780C970.2 1776.3 976.6 1776.3 977.7 1780C978.8 1783.7 976 1794.8 976 1802.2C976 1809.6 978.1 1820.7 977.7 1824.3C977.3 1828 974.4 1828 973.4 1824.3C972.4 1820.7 972.4 1809.6 971.7 1802.2C971 1794.8 968.2 1783.7 969.2 1780Z" fill="#C77CFF" fill-opacity="0.5"/>
<path d="M1174.7 1988.1C1174.9 1984.1 1178 1977.8 1180.3 1974C1182.7 1970.3 1186.4 1968.4 1188.7 1965.6C1191.1 1962.8 1192.7 1960 1194.3 1957.2C1196 1954.4 1196.7 1949.9 1198.6 1948.8C1200.4 1947.6 1202.8 1946.9 1205.6 1950.2C1208.4 1953.5 1213.8 1963 1215.4 1968.4C1217 1973.8 1216.6 1978.5 1215.4 1982.4C1214.2 1986.4 1211.4 1989.9 1208.4 1992.3C1205.3 1994.6 1200.7 1995.3 1197.1 1996.5C1193.6 1997.7 1190.4 1999.1 1187.3 1999.3C1184.3 1999.5 1181 1999.8 1178.9 1997.9C1176.8 1996 1174.5 1992 1174.7 1988.1Z" fill="#FC61D4" fill-opacity="0.75"/>
<path d="M1184.5 2002.1C1186.2 1999.2 1190.6 1997.3 1194.3 1995.8C1198.1 1994.3 1204.6 1991.9 1207 1993C1209.3 1994 1209.1 1999.2 1208.4 2002.1C1207.7 2005 1204.6 2007.7 1202.8 2010.5C1200.9 2013.3 1199 2016.5 1197.1 2018.9C1195.3 2021.3 1193.4 2024.4 1191.5 2024.8C1189.7 2025.3 1187.1 2023.7 1185.9 2021.7C1184.8 2019.8 1184.8 2016.6 1184.5 2013.3C1184.3 2010 1182.9 2005 1184.5 2002.1Z" fill="#2BB600" fill-opacity="0.8"/>
<path d="M1197.1 2035.8C1197.4 2033.9 1199.7 2034.4 1201.4 2035.8C1203 2037.2 1206.3 2041.8 1207 2044.2C1207.7 2046.5 1206.7 2049.3 1205.6 2049.8C1204.4 2050.3 1201.4 2049.3 1200 2047C1198.6 2044.7 1196.9 2037.6 1197.1 2035.8Z" fill="#A6A400" fill-opacity="0.8"/>
<path d="M1118.6 2160.6C1119.3 2158.3 1122.5 2157.6 1124.2 2159.2C1125.8 2160.9 1127.8 2166.7 1128.4 2170.5C1129 2174.2 1128.6 2179.4 1127.7 2181.7C1126.8 2184 1124.1 2185.9 1122.8 2184.5C1121.5 2183.1 1120.7 2177.2 1120 2173.3C1119.3 2169.3 1117.9 2163 1118.6 2160.6Z" fill="#F8766D" fill-opacity="0.75"/>
<path d="M1313.4 2155C1314.2 2151.2 1317 2148 1319.4 2144.2C1321.8 2140.5 1324.8 2136.7 1327.8 2132.3C1330.8 2127.9 1334.6 2122.7 1337.3 2118C1340.1 2113.2 1342.3 2108.4 1344.5 2103.6C1346.7 2098.8 1347.7 2092.9 1350.5 2089.3C1353.3 2085.7 1357.8 2083.7 1361.2 2082.1C1364.6 2080.5 1368.4 2078.9 1370.8 2079.7C1373.2 2080.5 1372.8 2085.3 1375.6 2086.9C1378.4 2088.5 1384.3 2087.3 1387.5 2089.3C1390.7 2091.3 1392.5 2094.5 1394.7 2098.8C1396.9 2103.2 1399.7 2109.8 1400.7 2115.6C1401.7 2121.3 1401.3 2127.5 1400.7 2133.5C1400.1 2139.5 1398.3 2145.4 1397.1 2151.4C1395.9 2157.4 1395.1 2163.8 1393.5 2169.3C1391.9 2174.9 1389.7 2179.5 1387.5 2184.9C1385.3 2190.2 1382.3 2196.2 1380.3 2201.6C1378.4 2207 1377.6 2212.3 1375.6 2217.1C1373.6 2221.9 1371.6 2226.9 1368.4 2230.2C1365.2 2233.6 1360 2236.8 1356.5 2237.4C1352.9 2238 1349.3 2235.8 1346.9 2233.8C1344.5 2231.8 1343.7 2228.3 1342.1 2225.5C1340.5 2222.7 1339.7 2219.9 1337.3 2217.1C1335 2214.3 1329.8 2211.7 1327.8 2208.7C1325.8 2205.8 1325.2 2202.8 1325.4 2199.2C1325.6 2195.6 1329.4 2190.8 1329 2187.2C1328.6 2183.7 1325.4 2181.1 1323 2177.7C1320.6 2174.3 1316.2 2170.7 1314.6 2166.9C1313.1 2163.2 1312.7 2158.8 1313.4 2155Z" fill="#A6A400" fill-opacity="0.92"/>
<path d="M1373.2 2047.5C1374.2 2046.9 1376.6 2052.1 1378 2055.8C1379.4 2059.6 1380.5 2065.8 1381.5 2070.2C1382.5 2074.6 1384.3 2078.9 1383.9 2082.1C1383.5 2085.3 1380.9 2088.5 1379.2 2089.3C1377.4 2090.1 1374.6 2089.5 1373.2 2086.9C1371.8 2084.3 1371 2078.3 1370.8 2073.8C1370.6 2069.2 1371.6 2063.8 1372 2059.4C1372.4 2055 1372.2 2048.1 1373.2 2047.5Z" fill="#2BB600" fill-opacity="0.7"/>
<path d="M221 1710h1.7v1.7h-1.7zM222 1711h1.7v1.7h-1.7zM219 1714h1.7v1.7h-1.7zM229 1709h1.7v1.7h-1.7zM221 1713h1.7v1.7h-1.7zM224 1715h1.7v1.7h-1.7zM235 1703h1.7v1.7h-1.7zM229 1706h1.7v1.7h-1.7zM231 1706h1.7v1.7h-1.7zM231 1706h1.7v1.7h-1.7zM246 1702h1.7v1.7h-1.7zM248 1704h1.7v1.7h-1.7zM258 1704h1.7v1.7h-1.7zM250 1705h1.7v1.7h-1.7zM246 1704h1.7v1.7h-1.7zM246 1702h1.7v1.7h-1.7zM254 1704h1.7v1.7h-1.7zM259 1706h1.7v1.7h-1.7zM266 1716h1.7v1.7h-1.7zM262 1710h1.7v1.7h-1.7zM254 1709h1.7v1.7h-1.7zM264 1714h1.7v1.7h-1.7zM259 1707h1.7v1.7h-1.7zM255 1706h1.7v1.7h-1.7zM269 1717h1.7v1.7h-1.7zM276 1723h1.7v1.7h-1.7zM269 1722h1.7v1.7h-1.7zM276 1726h1.7v1.7h-1.7zM267 1720h1.7v1.7h-1.7zM279 1725h1.7v1.7h-1.7zM269 1721h1.7v1.7h-1.7zM284 1723h1.7v1.7h-1.7zM280 1724h1.7v1.7h-1.7zM287 1721h1.7v1.7h-1.7zM291 1716h1.7v1.7h-1.7zM292 1718h1.7v1.7h-1.7zM293 1716h1.7v1.7h-1.7zM282 1719h1.7v1.7h-1.7zM299 1713h1.7v1.7h-1.7zM299 1709h1.7v1.7h-1.7zM295 1715h1.7v1.7h-1.7zM300 1711h1.7v1.7h-1.7zM299 1710h1.7v1.7h-1.7zM302 1708h1.7v1.7h-1.7zM315 1697h1.7v1.7h-1.7zM309 1701h1.7v1.7h-1.7zM303 1706h1.7v1.7h-1.7zM305 1705h1.7v1.7h-1.7zM315 1700h1.7v1.7h-1.7zM322 1696h1.7v1.7h-1.7zM315 1698h1.7v1.7h-1.7zM307 1704h1.7v1.7h-1.7zM324 1710h1.7v1.7h-1.7zM321 1709h1.7v1.7h-1.7zM323 1702h1.7v1.7h-1.7zM323 1703h1.7v1.7h-1.7zM323 1708h1.7v1.7h-1.7zM323 1716h1.7v1.7h-1.7zM325 1713h1.7v1.7h-1.7zM325 1710h1.7v1.7h-1.7zM322 1709h1.7v1.7h-1.7zM322 1731h1.7v1.7h-1.7zM319 1737h1.7v1.7h-1.7zM321 1723h1.7v1.7h-1.7zM322 1725h1.7v1.7h-1.7zM321 1733h1.7v1.7h-1.7zM321 1729h1.7v1.7h-1.7zM318 1725h1.7v1.7h-1.7zM324 1722h1.7v1.7h-1.7zM320 1732h1.7v1.7h-1.7zM317 1735h1.7v1.7h-1.7zM303 1753h1.7v1.7h-1.7zM311 1743h1.7v1.7h-1.7zM305 1750h1.7v1.7h-1.7zM308 1748h1.7v1.7h-1.7zM312 1743h1.7v1.7h-1.7zM308 1748h1.7v1.7h-1.7zM313 1741h1.7v1.7h-1.7zM312 1743h1.7v1.7h-1.7zM293 1762h1.7v1.7h-1.7zM284 1766h1.7v1.7h-1.7zM303 1753h1.7v1.7h-1.7zM289 1762h1.7v1.7h-1.7zM289 1764h1.7v1.7h-1.7zM298 1759h1.7v1.7h-1.7zM299 1756h1.7v1.7h-1.7zM289 1762h1.7v1.7h-1.7zM292 1758h1.7v1.7h-1.7zM276 1774h1.7v1.7h-1.7zM284 1768h1.7v1.7h-1.7zM275 1774h1.7v1.7h-1.7zM279 1768h1.7v1.7h-1.7zM276 1770h1.7v1.7h-1.7zM274 1773h1.7v1.7h-1.7zM272 1774h1.7v1.7h-1.7zM260 1774h1.7v1.7h-1.7zM261 1775h1.7v1.7h-1.7zM258 1777h1.7v1.7h-1.7zM260 1779h1.7v1.7h-1.7zM254 1775h1.7v1.7h-1.7zM271 1773h1.7v1.7h-1.7zM250 1777h1.7v1.7h-1.7zM268 1775h1.7v1.7h-1.7zM248 1776h1.7v1.7h-1.7zM243 1772h1.7v1.7h-1.7zM252 1777h1.7v1.7h-1.7zM239 1774h1.7v1.7h-1.7zM239 1773h1.7v1.7h-1.7zM243 1771h1.7v1.7h-1.7zM242 1772h1.7v1.7h-1.7zM236 1772h1.7v1.7h-1.7zM227 1767h1.7v1.7h-1.7zM224 1763h1.7v1.7h-1.7zM227 1766h1.7v1.7h-1.7zM225 1761h1.7v1.7h-1.7zM226 1761h1.7v1.7h-1.7zM228 1766h1.7v1.7h-1.7zM228 1765h1.7v1.7h-1.7zM215 1739h1.7v1.7h-1.7zM216 1742h1.7v1.7h-1.7zM220 1746h1.7v1.7h-1.7zM224 1750h1.7v1.7h-1.7zM220 1754h1.7v1.7h-1.7zM221 1747h1.7v1.7h-1.7zM219 1751h1.7v1.7h-1.7zM220 1746h1.7v1.7h-1.7zM219 1743h1.7v1.7h-1.7zM217 1732h1.7v1.7h-1.7zM217 1730h1.7v1.7h-1.7zM220 1723h1.7v1.7h-1.7zM218 1735h1.7v1.7h-1.7zM217 1730h1.7v1.7h-1.7zM219 1728h1.7v1.7h-1.7zM217 1723h1.7v1.7h-1.7zM217 1717h1.7v1.7h-1.7zM217 1730h1.7v1.7h-1.7zM157 1881h1.7v1.7h-1.7zM159 1886h1.7v1.7h-1.7zM158 1881h1.7v1.7h-1.7zM156 1879h1.7v1.7h-1.7zM155 1880h1.7v1.7h-1.7zM150 1872h1.7v1.7h-1.7zM159 1884h1.7v1.7h-1.7zM151 1887h1.7v1.7h-1.7zM154 1883h1.7v1.7h-1.7zM152 1886h1.7v1.7h-1.7zM159 1882h1.7v1.7h-1.7zM152 1894h1.7v1.7h-1.7zM151 1893h1.7v1.7h-1.7zM157 1899h1.7v1.7h-1.7zM151 1888h1.7v1.7h-1.7zM154 1898h1.7v1.7h-1.7zM151 1895h1.7v1.7h-1.7zM155 1896h1.7v1.7h-1.7zM157 1899h1.7v1.7h-1.7zM163 1898h1.7v1.7h-1.7zM168 1897h1.7v1.7h-1.7zM168 1893h1.7v1.7h-1.7zM164 1898h1.7v1.7h-1.7zM167 1897h1.7v1.7h-1.7zM176 1892h1.7v1.7h-1.7zM178 1890h1.7v1.7h-1.7zM180 1889h1.7v1.7h-1.7zM178 1890h1.7v1.7h-1.7zM170 1887h1.7v1.7h-1.7zM174 1888h1.7v1.7h-1.7zM169 1886h1.7v1.7h-1.7zM165 1884h1.7v1.7h-1.7zM168 1886h1.7v1.7h-1.7zM176 1888h1.7v1.7h-1.7zM159 1872h1.7v1.7h-1.7zM163 1883h1.7v1.7h-1.7zM162 1882h1.7v1.7h-1.7zM163 1883h1.7v1.7h-1.7zM164 1881h1.7v1.7h-1.7zM162 1878h1.7v1.7h-1.7zM153 1871h1.7v1.7h-1.7zM153 1871h1.7v1.7h-1.7zM156 1872h1.7v1.7h-1.7zM285 1955h1.7v1.7h-1.7zM287 1956h1.7v1.7h-1.7zM292 1958h1.7v1.7h-1.7zM285 1958h1.7v1.7h-1.7zM284 1959h1.7v1.7h-1.7zM295 1970h1.7v1.7h-1.7zM295 1967h1.7v1.7h-1.7zM293 1962h1.7v1.7h-1.7zM292 1960h1.7v1.7h-1.7zM295 1966h1.7v1.7h-1.7zM295 1960h1.7v1.7h-1.7zM292 1962h1.7v1.7h-1.7zM295 1975h1.7v1.7h-1.7zM300 1982h1.7v1.7h-1.7zM302 1982h1.7v1.7h-1.7zM305 1995h1.7v1.7h-1.7zM303 1991h1.7v1.7h-1.7zM307 1997h1.7v1.7h-1.7zM305 1994h1.7v1.7h-1.7zM295 1976h1.7v1.7h-1.7zM309 2001h1.7v1.7h-1.7zM301 1986h1.7v1.7h-1.7zM308 1998h1.7v1.7h-1.7zM283 1984h1.7v1.7h-1.7zM285 1989h1.7v1.7h-1.7zM286 1998h1.7v1.7h-1.7zM282 1988h1.7v1.7h-1.7zM286 1990h1.7v1.7h-1.7zM284 1995h1.7v1.7h-1.7zM284 1983h1.7v1.7h-1.7zM280 1984h1.7v1.7h-1.7zM286 1997h1.7v1.7h-1.7zM280 1958h1.7v1.7h-1.7zM281 1975h1.7v1.7h-1.7zM282 1966h1.7v1.7h-1.7zM281 1973h1.7v1.7h-1.7zM281 1970h1.7v1.7h-1.7zM282 1975h1.7v1.7h-1.7zM282 1977h1.7v1.7h-1.7zM281 1958h1.7v1.7h-1.7zM278 1968h1.7v1.7h-1.7zM306 1987h1.7v1.7h-1.7zM307 1985h1.7v1.7h-1.7zM310 1983h1.7v1.7h-1.7zM307 1992h1.7v1.7h-1.7zM306 1986h1.7v1.7h-1.7zM309 1990h1.7v1.7h-1.7zM305 1987h1.7v1.7h-1.7zM309 1981h1.7v1.7h-1.7zM306 1999h1.7v1.7h-1.7zM297 1998h1.7v1.7h-1.7zM293 2001h1.7v1.7h-1.7zM306 1997h1.7v1.7h-1.7zM297 2000h1.7v1.7h-1.7zM303 2000h1.7v1.7h-1.7zM296 2000h1.7v1.7h-1.7zM291 2001h1.7v1.7h-1.7zM288 1990h1.7v1.7h-1.7zM286 1987h1.7v1.7h-1.7zM284 1985h1.7v1.7h-1.7zM290 1997h1.7v1.7h-1.7zM283 1986h1.7v1.7h-1.7zM290 1988h1.7v1.7h-1.7zM286 1991h1.7v1.7h-1.7zM286 1986h1.7v1.7h-1.7zM804 1992h1.7v1.7h-1.7zM803 1992h1.7v1.7h-1.7zM798 1995h1.7v1.7h-1.7zM809 1997h1.7v1.7h-1.7zM811 1995h1.7v1.7h-1.7zM808 1993h1.7v1.7h-1.7zM807 2002h1.7v1.7h-1.7zM811 2000h1.7v1.7h-1.7zM803 2000h1.7v1.7h-1.7zM805 1999h1.7v1.7h-1.7zM802 1998h1.7v1.7h-1.7zM802 1993h1.7v1.7h-1.7zM802 1997h1.7v1.7h-1.7zM807 1998h1.7v1.7h-1.7zM811 2001h1.7v1.7h-1.7zM812 2005h1.7v1.7h-1.7zM805 1993h1.7v1.7h-1.7zM809 2006h1.7v1.7h-1.7zM812 2006h1.7v1.7h-1.7zM817 2017h1.7v1.7h-1.7zM816 2012h1.7v1.7h-1.7zM818 2014h1.7v1.7h-1.7zM822 2019h1.7v1.7h-1.7zM812 2010h1.7v1.7h-1.7zM816 2012h1.7v1.7h-1.7zM811 2008h1.7v1.7h-1.7zM810 2007h1.7v1.7h-1.7zM820 2018h1.7v1.7h-1.7zM825 2034h1.7v1.7h-1.7zM822 2028h1.7v1.7h-1.7zM825 2033h1.7v1.7h-1.7zM826 2037h1.7v1.7h-1.7zM822 2027h1.7v1.7h-1.7zM823 2036h1.7v1.7h-1.7zM837 2043h1.7v1.7h-1.7zM830 2040h1.7v1.7h-1.7zM831 2042h1.7v1.7h-1.7zM834 2040h1.7v1.7h-1.7zM843 2048h1.7v1.7h-1.7zM840 2047h1.7v1.7h-1.7zM846 2046h1.7v1.7h-1.7zM842 2044h1.7v1.7h-1.7zM852 2050h1.7v1.7h-1.7zM849 2048h1.7v1.7h-1.7zM855 2050h1.7v1.7h-1.7zM854 2051h1.7v1.7h-1.7zM865 2051h1.7v1.7h-1.7zM852 2047h1.7v1.7h-1.7zM859 2050h1.7v1.7h-1.7zM853 2050h1.7v1.7h-1.7zM859 2061h1.7v1.7h-1.7zM863 2052h1.7v1.7h-1.7zM864 2053h1.7v1.7h-1.7zM857 2058h1.7v1.7h-1.7zM862 2058h1.7v1.7h-1.7zM858 2055h1.7v1.7h-1.7zM853 2064h1.7v1.7h-1.7zM837 2066h1.7v1.7h-1.7zM849 2065h1.7v1.7h-1.7zM855 2064h1.7v1.7h-1.7zM846 2067h1.7v1.7h-1.7zM849 2064h1.7v1.7h-1.7zM839 2067h1.7v1.7h-1.7zM849 2063h1.7v1.7h-1.7zM833 2077h1.7v1.7h-1.7zM833 2069h1.7v1.7h-1.7zM837 2071h1.7v1.7h-1.7zM835 2074h1.7v1.7h-1.7zM835 2088h1.7v1.7h-1.7zM837 2087h1.7v1.7h-1.7zM837 2093h1.7v1.7h-1.7zM833 2086h1.7v1.7h-1.7zM835 2088h1.7v1.7h-1.7zM835 2079h1.7v1.7h-1.7zM836 2075h1.7v1.7h-1.7zM835 2079h1.7v1.7h-1.7zM836 2096h1.7v1.7h-1.7zM837 2100h1.7v1.7h-1.7zM835 2096h1.7v1.7h-1.7zM839 2096h1.7v1.7h-1.7zM835 2100h1.7v1.7h-1.7zM834 2104h1.7v1.7h-1.7zM822 2115h1.7v1.7h-1.7zM828 2113h1.7v1.7h-1.7zM826 2111h1.7v1.7h-1.7zM826 2112h1.7v1.7h-1.7zM823 2112h1.7v1.7h-1.7zM818 2114h1.7v1.7h-1.7zM821 2112h1.7v1.7h-1.7zM815 2117h1.7v1.7h-1.7zM814 2113h1.7v1.7h-1.7zM819 2119h1.7v1.7h-1.7zM812 2113h1.7v1.7h-1.7zM815 2112h1.7v1.7h-1.7zM816 2115h1.7v1.7h-1.7zM797 2105h1.7v1.7h-1.7zM797 2098h1.7v1.7h-1.7zM796 2099h1.7v1.7h-1.7zM797 2100h1.7v1.7h-1.7zM804 2107h1.7v1.7h-1.7zM799 2110h1.7v1.7h-1.7zM795 2101h1.7v1.7h-1.7zM797 2080h1.7v1.7h-1.7zM793 2091h1.7v1.7h-1.7zM794 2096h1.7v1.7h-1.7zM794 2081h1.7v1.7h-1.7zM794 2081h1.7v1.7h-1.7zM794 2083h1.7v1.7h-1.7zM795 2097h1.7v1.7h-1.7zM795 2093h1.7v1.7h-1.7zM794 2083h1.7v1.7h-1.7zM791 2067h1.7v1.7h-1.7zM790 2066h1.7v1.7h-1.7zM788 2058h1.7v1.7h-1.7zM787 2070h1.7v1.7h-1.7zM795 2076h1.7v1.7h-1.7zM787 2060h1.7v1.7h-1.7zM791 2066h1.7v1.7h-1.7zM790 2065h1.7v1.7h-1.7zM784 2047h1.7v1.7h-1.7zM785 2058h1.7v1.7h-1.7zM785 2052h1.7v1.7h-1.7zM786 2046h1.7v1.7h-1.7zM784 2043h1.7v1.7h-1.7zM786 2050h1.7v1.7h-1.7zM787 2045h1.7v1.7h-1.7zM785 2056h1.7v1.7h-1.7zM784 2029h1.7v1.7h-1.7zM786 2032h1.7v1.7h-1.7zM782 2039h1.7v1.7h-1.7zM782 2036h1.7v1.7h-1.7zM781 2036h1.7v1.7h-1.7zM784 2028h1.7v1.7h-1.7zM781 2029h1.7v1.7h-1.7zM783 2020h1.7v1.7h-1.7zM782 2033h1.7v1.7h-1.7zM787 2015h1.7v1.7h-1.7zM791 2006h1.7v1.7h-1.7zM788 2010h1.7v1.7h-1.7zM789 2010h1.7v1.7h-1.7zM789 2012h1.7v1.7h-1.7zM789 2014h1.7v1.7h-1.7zM785 2017h1.7v1.7h-1.7zM799 1999h1.7v1.7h-1.7zM806 1996h1.7v1.7h-1.7zM796 2000h1.7v1.7h-1.7zM805 1995h1.7v1.7h-1.7zM795 2004h1.7v1.7h-1.7zM795 2004h1.7v1.7h-1.7zM940 2115h1.7v1.7h-1.7zM935 2116h1.7v1.7h-1.7zM937 2117h1.7v1.7h-1.7zM940 2111h1.7v1.7h-1.7zM945 2115h1.7v1.7h-1.7zM941 2118h1.7v1.7h-1.7zM938 2117h1.7v1.7h-1.7zM936 2126h1.7v1.7h-1.7zM935 2127h1.7v1.7h-1.7zM943 2121h1.7v1.7h-1.7zM937 2125h1.7v1.7h-1.7zM933 2121h1.7v1.7h-1.7zM932 2122h1.7v1.7h-1.7zM934 2117h1.7v1.7h-1.7zM934 2120h1.7v1.7h-1.7zM134 2020h1.7v1.7h-1.7zM139 2019h1.7v1.7h-1.7zM138 2016h1.7v1.7h-1.7zM141 2013h1.7v1.7h-1.7zM147 2013h1.7v1.7h-1.7zM143 2012h1.7v1.7h-1.7zM150 2008h1.7v1.7h-1.7zM155 2006h1.7v1.7h-1.7zM152 2009h1.7v1.7h-1.7zM154 2006h1.7v1.7h-1.7zM157 2009h1.7v1.7h-1.7zM155 2010h1.7v1.7h-1.7zM157 2011h1.7v1.7h-1.7zM154 2016h1.7v1.7h-1.7zM153 2021h1.7v1.7h-1.7zM154 2023h1.7v1.7h-1.7zM158 2021h1.7v1.7h-1.7zM151 2025h1.7v1.7h-1.7zM151 2026h1.7v1.7h-1.7zM146 2027h1.7v1.7h-1.7zM139 2025h1.7v1.7h-1.7zM138 2027h1.7v1.7h-1.7zM141 2025h1.7v1.7h-1.7zM136 2026h1.7v1.7h-1.7zM132 2019h1.7v1.7h-1.7zM318 1871h1.7v1.7h-1.7zM329 1889h1.7v1.7h-1.7zM330 1890h1.7v1.7h-1.7zM322 1898h1.7v1.7h-1.7zM326 1872h1.7v1.7h-1.7zM345 1891h1.7v1.7h-1.7zM342 1884h1.7v1.7h-1.7zM324 1870h1.7v1.7h-1.7zM324 1863h1.7v1.7h-1.7zM326 1875h1.7v1.7h-1.7zM349 1886h1.7v1.7h-1.7zM325 1870h1.7v1.7h-1.7zM321 1895h1.7v1.7h-1.7zM339 1901h1.7v1.7h-1.7zM343 1883h1.7v1.7h-1.7zM333 1866h1.7v1.7h-1.7zM317 1887h1.7v1.7h-1.7zM331 1886h1.7v1.7h-1.7zM328 1866h1.7v1.7h-1.7zM329 1864h1.7v1.7h-1.7zM340 1884h1.7v1.7h-1.7zM334 1880h1.7v1.7h-1.7zM336 1903h1.7v1.7h-1.7zM343 1870h1.7v1.7h-1.7zM333 1886h1.7v1.7h-1.7zM331 1904h1.7v1.7h-1.7zM332 1900h1.7v1.7h-1.7zM343 1863h1.7v1.7h-1.7zM324 1885h1.7v1.7h-1.7zM343 1876h1.7v1.7h-1.7zM327 1881h1.7v1.7h-1.7zM322 1875h1.7v1.7h-1.7zM333 1878h1.7v1.7h-1.7zM320 1882h1.7v1.7h-1.7zM344 1885h1.7v1.7h-1.7zM348 1864h1.7v1.7h-1.7zM324 1883h1.7v1.7h-1.7zM350 1867h1.7v1.7h-1.7zM345 1874h1.7v1.7h-1.7zM319 1890h1.7v1.7h-1.7zM333 1874h1.7v1.7h-1.7zM332 1864h1.7v1.7h-1.7zM334 1905h1.7v1.7h-1.7zM353 1897h1.7v1.7h-1.7zM323 1873h1.7v1.7h-1.7zM325 1902h1.7v1.7h-1.7zM335 1878h1.7v1.7h-1.7zM323 1894h1.7v1.7h-1.7zM332 1892h1.7v1.7h-1.7zM348 1860h1.7v1.7h-1.7zM341 1865h1.7v1.7h-1.7zM320 1896h1.7v1.7h-1.7zM326 1875h1.7v1.7h-1.7zM323 1886h1.7v1.7h-1.7zM324 1894h1.7v1.7h-1.7zM323 1903h1.7v1.7h-1.7zM340 1888h1.7v1.7h-1.7zM318 1866h1.7v1.7h-1.7zM319 1867h1.7v1.7h-1.7zM347 1891h1.7v1.7h-1.7zM373 1845h1.7v1.7h-1.7zM366 1839h1.7v1.7h-1.7zM344 1848h1.7v1.7h-1.7zM345 1851h1.7v1.7h-1.7zM383 1827h1.7v1.7h-1.7zM384 1836h1.7v1.7h-1.7zM354 1843h1.7v1.7h-1.7zM368 1840h1.7v1.7h-1.7zM344 1856h1.7v1.7h-1.7zM367 1852h1.7v1.7h-1.7zM357 1851h1.7v1.7h-1.7zM377 1830h1.7v1.7h-1.7zM359 1846h1.7v1.7h-1.7zM353 1851h1.7v1.7h-1.7zM376 1829h1.7v1.7h-1.7zM340 1849h1.7v1.7h-1.7zM349 1861h1.7v1.7h-1.7zM353 1861h1.7v1.7h-1.7zM366 1852h1.7v1.7h-1.7zM363 1848h1.7v1.7h-1.7zM349 1859h1.7v1.7h-1.7zM369 1846h1.7v1.7h-1.7zM376 1843h1.7v1.7h-1.7zM370 1836h1.7v1.7h-1.7zM384 1830h1.7v1.7h-1.7zM349 1858h1.7v1.7h-1.7zM348 1864h1.7v1.7h-1.7zM384 1834h1.7v1.7h-1.7zM375 1831h1.7v1.7h-1.7zM366 1843h1.7v1.7h-1.7zM347 1847h1.7v1.7h-1.7zM353 1860h1.7v1.7h-1.7zM350 1845h1.7v1.7h-1.7zM351 1854h1.7v1.7h-1.7zM349 1864h1.7v1.7h-1.7zM363 1844h1.7v1.7h-1.7zM361 1840h1.7v1.7h-1.7zM370 1835h1.7v1.7h-1.7zM380 1836h1.7v1.7h-1.7zM362 1852h1.7v1.7h-1.7zM284 1778h1.7v1.7h-1.7zM283 1791h1.7v1.7h-1.7zM289 1789h1.7v1.7h-1.7zM280 1778h1.7v1.7h-1.7zM284 1791h1.7v1.7h-1.7zM284 1773h1.7v1.7h-1.7zM278 1772h1.7v1.7h-1.7zM282 1778h1.7v1.7h-1.7zM280 1787h1.7v1.7h-1.7zM291 1791h1.7v1.7h-1.7zM285 1776h1.7v1.7h-1.7zM292 1793h1.7v1.7h-1.7zM278 1779h1.7v1.7h-1.7zM283 1786h1.7v1.7h-1.7zM292 1790h1.7v1.7h-1.7zM292 1788h1.7v1.7h-1.7zM284 1777h1.7v1.7h-1.7zM281 1788h1.7v1.7h-1.7zM290 1790h1.7v1.7h-1.7zM289 1784h1.7v1.7h-1.7zM282 1775h1.7v1.7h-1.7zM285 1776h1.7v1.7h-1.7zM280 1781h1.7v1.7h-1.7zM288 1788h1.7v1.7h-1.7zM283 1780h1.7v1.7h-1.7zM303 1763h1.7v1.7h-1.7zM313 1782h1.7v1.7h-1.7zM317 1785h1.7v1.7h-1.7zM318 1783h1.7v1.7h-1.7zM306 1763h1.7v1.7h-1.7zM300 1773h1.7v1.7h-1.7zM309 1768h1.7v1.7h-1.7zM321 1780h1.7v1.7h-1.7zM316 1776h1.7v1.7h-1.7zM324 1786h1.7v1.7h-1.7zM320 1780h1.7v1.7h-1.7zM307 1770h1.7v1.7h-1.7zM303 1764h1.7v1.7h-1.7zM316 1787h1.7v1.7h-1.7zM299 1770h1.7v1.7h-1.7zM320 1777h1.7v1.7h-1.7zM305 1776h1.7v1.7h-1.7zM314 1780h1.7v1.7h-1.7zM308 1778h1.7v1.7h-1.7zM301 1770h1.7v1.7h-1.7zM323 1784h1.7v1.7h-1.7zM307 1777h1.7v1.7h-1.7zM308 1766h1.7v1.7h-1.7zM303 1775h1.7v1.7h-1.7zM305 1774h1.7v1.7h-1.7zM319 1832h1.7v1.7h-1.7zM328 1796h1.7v1.7h-1.7zM345 1848h1.7v1.7h-1.7zM303 1788h1.7v1.7h-1.7zM335 1850h1.7v1.7h-1.7zM305 1791h1.7v1.7h-1.7zM326 1792h1.7v1.7h-1.7zM322 1809h1.7v1.7h-1.7zM303 1811h1.7v1.7h-1.7zM301 1808h1.7v1.7h-1.7zM333 1819h1.7v1.7h-1.7zM296 1800h1.7v1.7h-1.7zM304 1799h1.7v1.7h-1.7zM319 1814h1.7v1.7h-1.7zM279 1774h1.7v1.7h-1.7zM300 1785h1.7v1.7h-1.7zM309 1796h1.7v1.7h-1.7zM320 1816h1.7v1.7h-1.7zM328 1846h1.7v1.7h-1.7zM328 1796h1.7v1.7h-1.7zM302 1819h1.7v1.7h-1.7zM340 1833h1.7v1.7h-1.7zM323 1836h1.7v1.7h-1.7zM324 1825h1.7v1.7h-1.7zM297 1798h1.7v1.7h-1.7zM337 1854h1.7v1.7h-1.7zM319 1838h1.7v1.7h-1.7zM335 1813h1.7v1.7h-1.7zM325 1807h1.7v1.7h-1.7zM290 1805h1.7v1.7h-1.7zM332 1841h1.7v1.7h-1.7zM289 1797h1.7v1.7h-1.7zM277 1791h1.7v1.7h-1.7zM319 1820h1.7v1.7h-1.7zM332 1819h1.7v1.7h-1.7zM303 1782h1.7v1.7h-1.7zM291 1779h1.7v1.7h-1.7zM289 1799h1.7v1.7h-1.7zM341 1835h1.7v1.7h-1.7zM334 1806h1.7v1.7h-1.7zM294 1794h1.7v1.7h-1.7zM299 1790h1.7v1.7h-1.7zM318 1792h1.7v1.7h-1.7zM332 1837h1.7v1.7h-1.7zM331 1812h1.7v1.7h-1.7zM355 1853h1.7v1.7h-1.7zM349 1856h1.7v1.7h-1.7zM349 1866h1.7v1.7h-1.7zM351 1862h1.7v1.7h-1.7zM367 1861h1.7v1.7h-1.7zM360 1863h1.7v1.7h-1.7zM356 1843h1.7v1.7h-1.7zM353 1846h1.7v1.7h-1.7zM356 1851h1.7v1.7h-1.7zM347 1862h1.7v1.7h-1.7zM364 1859h1.7v1.7h-1.7zM368 1864h1.7v1.7h-1.7zM362 1844h1.7v1.7h-1.7zM349 1863h1.7v1.7h-1.7zM353 1855h1.7v1.7h-1.7zM351 1852h1.7v1.7h-1.7zM348 1853h1.7v1.7h-1.7zM367 1855h1.7v1.7h-1.7zM343 1850h1.7v1.7h-1.7zM347 1857h1.7v1.7h-1.7zM348 1846h1.7v1.7h-1.7zM348 1852h1.7v1.7h-1.7zM356 1865h1.7v1.7h-1.7zM370 1863h1.7v1.7h-1.7zM368 1850h1.7v1.7h-1.7zM194 2223h1.7v1.7h-1.7zM185 2214h1.7v1.7h-1.7zM195 2217h1.7v1.7h-1.7zM186 2216h1.7v1.7h-1.7zM188 2227h1.7v1.7h-1.7zM995 1917h1.7v1.7h-1.7zM997 1922h1.7v1.7h-1.7zM1000 1944h1.7v1.7h-1.7zM999 1933h1.7v1.7h-1.7zM998 1925h1.7v1.7h-1.7zM1000 1946h1.7v1.7h-1.7zM1001 1939h1.7v1.7h-1.7zM996 1939h1.7v1.7h-1.7zM1002 1925h1.7v1.7h-1.7zM995 1943h1.7v1.7h-1.7zM1000 1920h1.7v1.7h-1.7zM996 1929h1.7v1.7h-1.7zM997 1939h1.7v1.7h-1.7zM995 1928h1.7v1.7h-1.7zM1001 1939h1.7v1.7h-1.7zM1000 1935h1.7v1.7h-1.7zM1002 1917h1.7v1.7h-1.7zM1002 1945h1.7v1.7h-1.7zM1001 1919h1.7v1.7h-1.7zM1000 1948h1.7v1.7h-1.7zM995 1939h1.7v1.7h-1.7zM994 1919h1.7v1.7h-1.7zM1003 1917h1.7v1.7h-1.7zM995 1931h1.7v1.7h-1.7zM996 1924h1.7v1.7h-1.7z" fill="#DE8C00"/>
<path d="M389 1807h1.7v1.7h-1.7zM393 1805h1.7v1.7h-1.7zM385 1806h1.7v1.7h-1.7zM386 1809h1.7v1.7h-1.7zM388 1807h1.7v1.7h-1.7zM387 1808h1.7v1.7h-1.7zM385 1814h1.7v1.7h-1.7zM403 1796h1.7v1.7h-1.7zM397 1798h1.7v1.7h-1.7zM395 1797h1.7v1.7h-1.7zM404 1797h1.7v1.7h-1.7zM406 1796h1.7v1.7h-1.7zM405 1797h1.7v1.7h-1.7zM407 1799h1.7v1.7h-1.7zM402 1798h1.7v1.7h-1.7zM419 1802h1.7v1.7h-1.7zM418 1803h1.7v1.7h-1.7zM416 1803h1.7v1.7h-1.7zM422 1801h1.7v1.7h-1.7zM420 1804h1.7v1.7h-1.7zM421 1822h1.7v1.7h-1.7zM421 1815h1.7v1.7h-1.7zM419 1816h1.7v1.7h-1.7zM421 1822h1.7v1.7h-1.7zM423 1824h1.7v1.7h-1.7zM423 1807h1.7v1.7h-1.7zM421 1814h1.7v1.7h-1.7zM422 1817h1.7v1.7h-1.7zM413 1835h1.7v1.7h-1.7zM416 1831h1.7v1.7h-1.7zM418 1828h1.7v1.7h-1.7zM422 1829h1.7v1.7h-1.7zM416 1833h1.7v1.7h-1.7zM417 1835h1.7v1.7h-1.7zM405 1838h1.7v1.7h-1.7zM406 1841h1.7v1.7h-1.7zM399 1847h1.7v1.7h-1.7zM412 1840h1.7v1.7h-1.7zM410 1840h1.7v1.7h-1.7zM403 1847h1.7v1.7h-1.7zM399 1848h1.7v1.7h-1.7zM397 1849h1.7v1.7h-1.7zM390 1843h1.7v1.7h-1.7zM394 1843h1.7v1.7h-1.7zM397 1844h1.7v1.7h-1.7zM390 1839h1.7v1.7h-1.7zM384 1831h1.7v1.7h-1.7zM381 1837h1.7v1.7h-1.7zM381 1827h1.7v1.7h-1.7zM383 1835h1.7v1.7h-1.7zM384 1835h1.7v1.7h-1.7zM378 1826h1.7v1.7h-1.7zM384 1833h1.7v1.7h-1.7zM383 1814h1.7v1.7h-1.7zM380 1817h1.7v1.7h-1.7zM382 1810h1.7v1.7h-1.7zM378 1822h1.7v1.7h-1.7zM383 1824h1.7v1.7h-1.7zM418 1617h1.7v1.7h-1.7zM411 1619h1.7v1.7h-1.7zM415 1620h1.7v1.7h-1.7zM415 1619h1.7v1.7h-1.7zM416 1621h1.7v1.7h-1.7zM416 1622h1.7v1.7h-1.7zM412 1623h1.7v1.7h-1.7zM414 1621h1.7v1.7h-1.7zM969 1834h1.7v1.7h-1.7zM966 1838h1.7v1.7h-1.7zM977 1832h1.7v1.7h-1.7zM969 1837h1.7v1.7h-1.7zM975 1825h1.7v1.7h-1.7zM967 1839h1.7v1.7h-1.7zM994 1828h1.7v1.7h-1.7zM988 1830h1.7v1.7h-1.7zM982 1829h1.7v1.7h-1.7zM985 1830h1.7v1.7h-1.7zM986 1828h1.7v1.7h-1.7zM990 1828h1.7v1.7h-1.7zM1001 1831h1.7v1.7h-1.7zM997 1829h1.7v1.7h-1.7zM1002 1831h1.7v1.7h-1.7zM999 1831h1.7v1.7h-1.7zM1005 1841h1.7v1.7h-1.7zM1007 1838h1.7v1.7h-1.7zM1007 1837h1.7v1.7h-1.7zM1005 1840h1.7v1.7h-1.7zM1006 1834h1.7v1.7h-1.7zM1007 1847h1.7v1.7h-1.7zM1016 1847h1.7v1.7h-1.7zM1018 1848h1.7v1.7h-1.7zM1009 1845h1.7v1.7h-1.7zM1023 1854h1.7v1.7h-1.7zM1023 1850h1.7v1.7h-1.7zM1025 1852h1.7v1.7h-1.7zM1029 1853h1.7v1.7h-1.7zM1027 1853h1.7v1.7h-1.7zM1029 1856h1.7v1.7h-1.7zM1022 1857h1.7v1.7h-1.7zM1022 1860h1.7v1.7h-1.7zM1010 1869h1.7v1.7h-1.7zM1015 1864h1.7v1.7h-1.7zM1017 1862h1.7v1.7h-1.7zM1020 1861h1.7v1.7h-1.7zM1017 1862h1.7v1.7h-1.7zM1005 1877h1.7v1.7h-1.7zM1012 1870h1.7v1.7h-1.7zM1008 1873h1.7v1.7h-1.7zM1010 1871h1.7v1.7h-1.7zM1004 1885h1.7v1.7h-1.7zM1007 1877h1.7v1.7h-1.7zM1006 1885h1.7v1.7h-1.7zM1007 1879h1.7v1.7h-1.7zM1002 1888h1.7v1.7h-1.7zM999 1889h1.7v1.7h-1.7zM1002 1890h1.7v1.7h-1.7zM1002 1889h1.7v1.7h-1.7zM989 1893h1.7v1.7h-1.7zM992 1896h1.7v1.7h-1.7zM984 1890h1.7v1.7h-1.7zM989 1893h1.7v1.7h-1.7zM983 1888h1.7v1.7h-1.7zM979 1883h1.7v1.7h-1.7zM980 1882h1.7v1.7h-1.7zM978 1874h1.7v1.7h-1.7zM979 1879h1.7v1.7h-1.7zM978 1871h1.7v1.7h-1.7zM976 1871h1.7v1.7h-1.7zM978 1872h1.7v1.7h-1.7zM971 1861h1.7v1.7h-1.7zM972 1860h1.7v1.7h-1.7zM970 1860h1.7v1.7h-1.7zM973 1863h1.7v1.7h-1.7zM974 1862h1.7v1.7h-1.7zM971 1859h1.7v1.7h-1.7zM972 1861h1.7v1.7h-1.7zM965 1856h1.7v1.7h-1.7zM964 1846h1.7v1.7h-1.7zM966 1848h1.7v1.7h-1.7zM967 1849h1.7v1.7h-1.7zM970 1845h1.7v1.7h-1.7zM964 1849h1.7v1.7h-1.7zM1026 1844h1.7v1.7h-1.7zM1024 1844h1.7v1.7h-1.7zM1027 1846h1.7v1.7h-1.7zM1027 1843h1.7v1.7h-1.7zM1030 1841h1.7v1.7h-1.7zM1040 1837h1.7v1.7h-1.7zM1034 1835h1.7v1.7h-1.7zM1041 1836h1.7v1.7h-1.7zM1038 1834h1.7v1.7h-1.7zM1034 1834h1.7v1.7h-1.7zM1049 1830h1.7v1.7h-1.7zM1051 1829h1.7v1.7h-1.7zM1046 1827h1.7v1.7h-1.7zM1050 1829h1.7v1.7h-1.7zM1048 1831h1.7v1.7h-1.7zM1059 1838h1.7v1.7h-1.7zM1060 1836h1.7v1.7h-1.7zM1063 1839h1.7v1.7h-1.7zM1057 1836h1.7v1.7h-1.7zM1063 1842h1.7v1.7h-1.7zM1061 1844h1.7v1.7h-1.7zM1060 1846h1.7v1.7h-1.7zM1062 1846h1.7v1.7h-1.7zM1047 1861h1.7v1.7h-1.7zM1051 1858h1.7v1.7h-1.7zM1052 1855h1.7v1.7h-1.7zM1055 1852h1.7v1.7h-1.7zM1045 1864h1.7v1.7h-1.7zM1054 1853h1.7v1.7h-1.7zM1046 1863h1.7v1.7h-1.7zM1049 1861h1.7v1.7h-1.7zM1041 1867h1.7v1.7h-1.7zM1044 1865h1.7v1.7h-1.7zM1043 1862h1.7v1.7h-1.7zM1039 1874h1.7v1.7h-1.7zM1037 1873h1.7v1.7h-1.7zM1035 1875h1.7v1.7h-1.7zM1033 1875h1.7v1.7h-1.7zM1032 1866h1.7v1.7h-1.7zM1035 1876h1.7v1.7h-1.7zM1030 1859h1.7v1.7h-1.7zM1032 1861h1.7v1.7h-1.7zM1030 1862h1.7v1.7h-1.7zM1032 1855h1.7v1.7h-1.7zM1027 1849h1.7v1.7h-1.7zM1027 1852h1.7v1.7h-1.7zM1028 1850h1.7v1.7h-1.7zM378 1855h1.7v1.7h-1.7zM380 1853h1.7v1.7h-1.7zM373 1850h1.7v1.7h-1.7zM370 1873h1.7v1.7h-1.7zM375 1866h1.7v1.7h-1.7zM381 1838h1.7v1.7h-1.7zM376 1859h1.7v1.7h-1.7zM376 1857h1.7v1.7h-1.7zM372 1845h1.7v1.7h-1.7zM386 1841h1.7v1.7h-1.7zM360 1867h1.7v1.7h-1.7zM378 1857h1.7v1.7h-1.7zM366 1873h1.7v1.7h-1.7zM376 1839h1.7v1.7h-1.7zM362 1857h1.7v1.7h-1.7zM378 1840h1.7v1.7h-1.7zM373 1859h1.7v1.7h-1.7zM377 1839h1.7v1.7h-1.7zM370 1869h1.7v1.7h-1.7zM371 1846h1.7v1.7h-1.7zM367 1874h1.7v1.7h-1.7zM376 1864h1.7v1.7h-1.7zM358 1859h1.7v1.7h-1.7zM380 1858h1.7v1.7h-1.7zM369 1867h1.7v1.7h-1.7zM383 1843h1.7v1.7h-1.7zM381 1860h1.7v1.7h-1.7zM368 1848h1.7v1.7h-1.7zM371 1856h1.7v1.7h-1.7zM382 1856h1.7v1.7h-1.7zM985 1876h1.7v1.7h-1.7zM997 1896h1.7v1.7h-1.7zM980 1896h1.7v1.7h-1.7zM994 1881h1.7v1.7h-1.7zM981 1889h1.7v1.7h-1.7zM991 1881h1.7v1.7h-1.7zM984 1889h1.7v1.7h-1.7zM980 1893h1.7v1.7h-1.7zM980 1895h1.7v1.7h-1.7zM1005 1872h1.7v1.7h-1.7zM999 1881h1.7v1.7h-1.7zM992 1886h1.7v1.7h-1.7zM980 1898h1.7v1.7h-1.7zM985 1899h1.7v1.7h-1.7zM982 1885h1.7v1.7h-1.7zM980 1898h1.7v1.7h-1.7zM1000 1876h1.7v1.7h-1.7zM999 1885h1.7v1.7h-1.7zM1003 1893h1.7v1.7h-1.7zM1003 1879h1.7v1.7h-1.7zM987 1880h1.7v1.7h-1.7zM991 1876h1.7v1.7h-1.7zM988 1878h1.7v1.7h-1.7zM988 1893h1.7v1.7h-1.7zM1007 1885h1.7v1.7h-1.7zM982 1895h1.7v1.7h-1.7zM995 1880h1.7v1.7h-1.7zM991 1883h1.7v1.7h-1.7zM981 1885h1.7v1.7h-1.7zM983 1884h1.7v1.7h-1.7zM982 1895h1.7v1.7h-1.7zM1000 1885h1.7v1.7h-1.7zM1002 1884h1.7v1.7h-1.7zM996 1898h1.7v1.7h-1.7zM999 1882h1.7v1.7h-1.7zM997 1893h1.7v1.7h-1.7zM1004 1874h1.7v1.7h-1.7zM991 1895h1.7v1.7h-1.7zM982 1899h1.7v1.7h-1.7zM998 1899h1.7v1.7h-1.7zM1003 1886h1.7v1.7h-1.7zM990 1898h1.7v1.7h-1.7zM991 1879h1.7v1.7h-1.7zM983 1889h1.7v1.7h-1.7zM1003 1897h1.7v1.7h-1.7zM997 1890h1.7v1.7h-1.7zM998 1895h1.7v1.7h-1.7zM998 1887h1.7v1.7h-1.7zM992 1884h1.7v1.7h-1.7zM984 1879h1.7v1.7h-1.7zM1003 1897h1.7v1.7h-1.7zM1000 1875h1.7v1.7h-1.7zM982 1897h1.7v1.7h-1.7zM1000 1874h1.7v1.7h-1.7zM1002 1898h1.7v1.7h-1.7zM994 1887h1.7v1.7h-1.7zM988 1888h1.7v1.7h-1.7zM993 1897h1.7v1.7h-1.7zM992 1896h1.7v1.7h-1.7zM998 1888h1.7v1.7h-1.7z" fill="#00B4F0"/>
<path d="M276 1869h1.7v1.7h-1.7zM260 1871h1.7v1.7h-1.7zM262 1875h1.7v1.7h-1.7zM267 1869h1.7v1.7h-1.7zM266 1871h1.7v1.7h-1.7zM264 1870h1.7v1.7h-1.7zM272 1868h1.7v1.7h-1.7zM271 1866h1.7v1.7h-1.7zM296 1863h1.7v1.7h-1.7zM296 1864h1.7v1.7h-1.7zM292 1864h1.7v1.7h-1.7zM287 1868h1.7v1.7h-1.7zM298 1866h1.7v1.7h-1.7zM279 1867h1.7v1.7h-1.7zM299 1866h1.7v1.7h-1.7zM276 1865h1.7v1.7h-1.7zM281 1868h1.7v1.7h-1.7zM312 1862h1.7v1.7h-1.7zM301 1866h1.7v1.7h-1.7zM303 1862h1.7v1.7h-1.7zM304 1865h1.7v1.7h-1.7zM302 1863h1.7v1.7h-1.7zM312 1861h1.7v1.7h-1.7zM307 1862h1.7v1.7h-1.7zM302 1862h1.7v1.7h-1.7zM310 1863h1.7v1.7h-1.7zM321 1859h1.7v1.7h-1.7zM330 1862h1.7v1.7h-1.7zM339 1862h1.7v1.7h-1.7zM320 1861h1.7v1.7h-1.7zM336 1860h1.7v1.7h-1.7zM325 1862h1.7v1.7h-1.7zM327 1860h1.7v1.7h-1.7zM334 1862h1.7v1.7h-1.7zM333 1864h1.7v1.7h-1.7zM341 1860h1.7v1.7h-1.7zM352 1867h1.7v1.7h-1.7zM351 1867h1.7v1.7h-1.7zM348 1864h1.7v1.7h-1.7zM351 1869h1.7v1.7h-1.7zM346 1864h1.7v1.7h-1.7zM350 1888h1.7v1.7h-1.7zM353 1882h1.7v1.7h-1.7zM352 1875h1.7v1.7h-1.7zM350 1875h1.7v1.7h-1.7zM352 1875h1.7v1.7h-1.7zM348 1877h1.7v1.7h-1.7zM350 1886h1.7v1.7h-1.7zM352 1875h1.7v1.7h-1.7zM351 1880h1.7v1.7h-1.7zM349 1889h1.7v1.7h-1.7zM344 1902h1.7v1.7h-1.7zM345 1900h1.7v1.7h-1.7zM346 1896h1.7v1.7h-1.7zM347 1892h1.7v1.7h-1.7zM340 1904h1.7v1.7h-1.7zM347 1895h1.7v1.7h-1.7zM350 1894h1.7v1.7h-1.7zM328 1906h1.7v1.7h-1.7zM324 1904h1.7v1.7h-1.7zM338 1907h1.7v1.7h-1.7zM337 1907h1.7v1.7h-1.7zM331 1905h1.7v1.7h-1.7zM327 1903h1.7v1.7h-1.7zM335 1906h1.7v1.7h-1.7zM332 1901h1.7v1.7h-1.7zM302 1908h1.7v1.7h-1.7zM320 1905h1.7v1.7h-1.7zM308 1909h1.7v1.7h-1.7zM310 1905h1.7v1.7h-1.7zM309 1911h1.7v1.7h-1.7zM299 1910h1.7v1.7h-1.7zM311 1909h1.7v1.7h-1.7zM296 1911h1.7v1.7h-1.7zM303 1913h1.7v1.7h-1.7zM307 1909h1.7v1.7h-1.7zM291 1912h1.7v1.7h-1.7zM292 1913h1.7v1.7h-1.7zM291 1918h1.7v1.7h-1.7zM297 1911h1.7v1.7h-1.7zM284 1916h1.7v1.7h-1.7zM281 1919h1.7v1.7h-1.7zM287 1919h1.7v1.7h-1.7zM293 1913h1.7v1.7h-1.7zM286 1915h1.7v1.7h-1.7zM286 1916h1.7v1.7h-1.7zM276 1919h1.7v1.7h-1.7zM264 1918h1.7v1.7h-1.7zM262 1916h1.7v1.7h-1.7zM264 1915h1.7v1.7h-1.7zM269 1918h1.7v1.7h-1.7zM267 1918h1.7v1.7h-1.7zM270 1918h1.7v1.7h-1.7zM259 1902h1.7v1.7h-1.7zM261 1910h1.7v1.7h-1.7zM255 1906h1.7v1.7h-1.7zM256 1898h1.7v1.7h-1.7zM260 1904h1.7v1.7h-1.7zM254 1898h1.7v1.7h-1.7zM258 1902h1.7v1.7h-1.7zM254 1905h1.7v1.7h-1.7zM258 1889h1.7v1.7h-1.7zM257 1874h1.7v1.7h-1.7zM256 1881h1.7v1.7h-1.7zM256 1895h1.7v1.7h-1.7zM256 1885h1.7v1.7h-1.7zM255 1880h1.7v1.7h-1.7zM255 1889h1.7v1.7h-1.7zM259 1891h1.7v1.7h-1.7zM999 1965h1.7v1.7h-1.7zM987 1965h1.7v1.7h-1.7zM994 1961h1.7v1.7h-1.7zM995 1962h1.7v1.7h-1.7zM999 1961h1.7v1.7h-1.7zM1002 1962h1.7v1.7h-1.7zM997 1962h1.7v1.7h-1.7zM1000 1966h1.7v1.7h-1.7zM1010 1977h1.7v1.7h-1.7zM1011 1977h1.7v1.7h-1.7zM1005 1970h1.7v1.7h-1.7zM1006 1969h1.7v1.7h-1.7zM1008 1967h1.7v1.7h-1.7zM1011 1988h1.7v1.7h-1.7zM1016 1981h1.7v1.7h-1.7zM1011 1982h1.7v1.7h-1.7zM1013 1988h1.7v1.7h-1.7zM1016 1983h1.7v1.7h-1.7zM1016 1987h1.7v1.7h-1.7zM1011 2004h1.7v1.7h-1.7zM1012 2013h1.7v1.7h-1.7zM1013 1999h1.7v1.7h-1.7zM1015 2017h1.7v1.7h-1.7zM1011 2001h1.7v1.7h-1.7zM1015 2000h1.7v1.7h-1.7zM1013 2018h1.7v1.7h-1.7zM1013 1998h1.7v1.7h-1.7zM1010 2031h1.7v1.7h-1.7zM1012 2031h1.7v1.7h-1.7zM1011 2035h1.7v1.7h-1.7zM1009 2027h1.7v1.7h-1.7zM1014 2035h1.7v1.7h-1.7zM1010 2030h1.7v1.7h-1.7zM1012 2029h1.7v1.7h-1.7zM1009 2052h1.7v1.7h-1.7zM1012 2043h1.7v1.7h-1.7zM1011 2044h1.7v1.7h-1.7zM1009 2054h1.7v1.7h-1.7zM1011 2055h1.7v1.7h-1.7zM1012 2051h1.7v1.7h-1.7zM1009 2064h1.7v1.7h-1.7zM1009 2058h1.7v1.7h-1.7zM1006 2061h1.7v1.7h-1.7zM1007 2058h1.7v1.7h-1.7zM1010 2064h1.7v1.7h-1.7zM1007 2071h1.7v1.7h-1.7zM1003 2073h1.7v1.7h-1.7zM996 2068h1.7v1.7h-1.7zM998 2072h1.7v1.7h-1.7zM994 2073h1.7v1.7h-1.7zM992 2073h1.7v1.7h-1.7zM994 2071h1.7v1.7h-1.7zM987 2062h1.7v1.7h-1.7zM987 2062h1.7v1.7h-1.7zM984 2053h1.7v1.7h-1.7zM989 2064h1.7v1.7h-1.7zM985 2055h1.7v1.7h-1.7zM985 2059h1.7v1.7h-1.7zM982 2049h1.7v1.7h-1.7zM982 2052h1.7v1.7h-1.7zM983 2034h1.7v1.7h-1.7zM981 2046h1.7v1.7h-1.7zM982 2035h1.7v1.7h-1.7zM979 2034h1.7v1.7h-1.7zM979 2034h1.7v1.7h-1.7zM987 2049h1.7v1.7h-1.7zM978 2016h1.7v1.7h-1.7zM975 2014h1.7v1.7h-1.7zM975 2024h1.7v1.7h-1.7zM979 2018h1.7v1.7h-1.7zM981 2018h1.7v1.7h-1.7zM980 2032h1.7v1.7h-1.7zM979 2009h1.7v1.7h-1.7zM979 2013h1.7v1.7h-1.7zM978 2009h1.7v1.7h-1.7zM977 2005h1.7v1.7h-1.7zM977 2009h1.7v1.7h-1.7zM979 2008h1.7v1.7h-1.7zM978 1990h1.7v1.7h-1.7zM976 1992h1.7v1.7h-1.7zM975 1995h1.7v1.7h-1.7zM976 1992h1.7v1.7h-1.7zM974 1983h1.7v1.7h-1.7zM977 1993h1.7v1.7h-1.7zM977 1975h1.7v1.7h-1.7zM974 1984h1.7v1.7h-1.7zM980 1976h1.7v1.7h-1.7zM974 1979h1.7v1.7h-1.7zM983 1966h1.7v1.7h-1.7zM978 1969h1.7v1.7h-1.7zM985 1968h1.7v1.7h-1.7zM980 1968h1.7v1.7h-1.7zM265 1898h1.7v1.7h-1.7zM337 1865h1.7v1.7h-1.7zM294 1912h1.7v1.7h-1.7zM296 1893h1.7v1.7h-1.7zM327 1888h1.7v1.7h-1.7zM262 1898h1.7v1.7h-1.7zM316 1891h1.7v1.7h-1.7zM299 1869h1.7v1.7h-1.7zM297 1870h1.7v1.7h-1.7zM341 1904h1.7v1.7h-1.7zM283 1901h1.7v1.7h-1.7zM287 1898h1.7v1.7h-1.7zM291 1903h1.7v1.7h-1.7zM318 1879h1.7v1.7h-1.7zM345 1885h1.7v1.7h-1.7zM263 1897h1.7v1.7h-1.7zM268 1913h1.7v1.7h-1.7zM284 1891h1.7v1.7h-1.7zM277 1891h1.7v1.7h-1.7zM271 1868h1.7v1.7h-1.7zM276 1905h1.7v1.7h-1.7zM325 1873h1.7v1.7h-1.7zM311 1884h1.7v1.7h-1.7zM277 1872h1.7v1.7h-1.7zM311 1866h1.7v1.7h-1.7zM284 1910h1.7v1.7h-1.7zM284 1900h1.7v1.7h-1.7zM334 1889h1.7v1.7h-1.7zM304 1892h1.7v1.7h-1.7zM337 1891h1.7v1.7h-1.7zM279 1889h1.7v1.7h-1.7zM307 1889h1.7v1.7h-1.7zM289 1909h1.7v1.7h-1.7zM314 1866h1.7v1.7h-1.7zM266 1907h1.7v1.7h-1.7zM279 1908h1.7v1.7h-1.7zM267 1875h1.7v1.7h-1.7zM346 1889h1.7v1.7h-1.7zM277 1875h1.7v1.7h-1.7zM334 1879h1.7v1.7h-1.7zM327 1931h1.7v1.7h-1.7zM332 1940h1.7v1.7h-1.7zM317 1936h1.7v1.7h-1.7zM319 1946h1.7v1.7h-1.7zM328 1943h1.7v1.7h-1.7zM319 1931h1.7v1.7h-1.7zM318 1940h1.7v1.7h-1.7zM329 1942h1.7v1.7h-1.7zM327 1937h1.7v1.7h-1.7zM318 1947h1.7v1.7h-1.7zM328 1943h1.7v1.7h-1.7zM322 1941h1.7v1.7h-1.7z" fill="#00B9E3"/>
<path d="M386 1889h1.7v1.7h-1.7zM387 1892h1.7v1.7h-1.7zM383 1891h1.7v1.7h-1.7zM388 1891h1.7v1.7h-1.7zM391 1888h1.7v1.7h-1.7zM378 1893h1.7v1.7h-1.7zM389 1887h1.7v1.7h-1.7zM379 1892h1.7v1.7h-1.7zM392 1887h1.7v1.7h-1.7zM401 1891h1.7v1.7h-1.7zM397 1894h1.7v1.7h-1.7zM404 1896h1.7v1.7h-1.7zM401 1897h1.7v1.7h-1.7zM396 1886h1.7v1.7h-1.7zM392 1889h1.7v1.7h-1.7zM403 1918h1.7v1.7h-1.7zM401 1917h1.7v1.7h-1.7zM402 1916h1.7v1.7h-1.7zM404 1912h1.7v1.7h-1.7zM404 1900h1.7v1.7h-1.7zM403 1914h1.7v1.7h-1.7zM402 1900h1.7v1.7h-1.7zM401 1903h1.7v1.7h-1.7zM403 1912h1.7v1.7h-1.7zM393 1934h1.7v1.7h-1.7zM400 1933h1.7v1.7h-1.7zM396 1927h1.7v1.7h-1.7zM400 1920h1.7v1.7h-1.7zM400 1923h1.7v1.7h-1.7zM399 1923h1.7v1.7h-1.7zM398 1924h1.7v1.7h-1.7zM394 1934h1.7v1.7h-1.7zM386 1934h1.7v1.7h-1.7zM379 1934h1.7v1.7h-1.7zM384 1934h1.7v1.7h-1.7zM384 1933h1.7v1.7h-1.7zM387 1933h1.7v1.7h-1.7zM386 1935h1.7v1.7h-1.7zM373 1921h1.7v1.7h-1.7zM374 1931h1.7v1.7h-1.7zM372 1918h1.7v1.7h-1.7zM375 1927h1.7v1.7h-1.7zM376 1925h1.7v1.7h-1.7zM369 1919h1.7v1.7h-1.7zM377 1931h1.7v1.7h-1.7zM373 1925h1.7v1.7h-1.7zM371 1909h1.7v1.7h-1.7zM371 1896h1.7v1.7h-1.7zM372 1900h1.7v1.7h-1.7zM372 1909h1.7v1.7h-1.7zM370 1902h1.7v1.7h-1.7zM374 1905h1.7v1.7h-1.7zM370 1913h1.7v1.7h-1.7zM373 1899h1.7v1.7h-1.7zM369 1915h1.7v1.7h-1.7zM1039 1913h1.7v1.7h-1.7zM1038 1917h1.7v1.7h-1.7zM1038 1913h1.7v1.7h-1.7zM1039 1913h1.7v1.7h-1.7zM1036 1914h1.7v1.7h-1.7zM1048 1918h1.7v1.7h-1.7zM1043 1912h1.7v1.7h-1.7zM1049 1917h1.7v1.7h-1.7zM1054 1919h1.7v1.7h-1.7zM1045 1914h1.7v1.7h-1.7zM1054 1926h1.7v1.7h-1.7zM1060 1934h1.7v1.7h-1.7zM1054 1918h1.7v1.7h-1.7zM1054 1923h1.7v1.7h-1.7zM1057 1929h1.7v1.7h-1.7zM1061 1934h1.7v1.7h-1.7zM1069 1940h1.7v1.7h-1.7zM1061 1937h1.7v1.7h-1.7zM1061 1940h1.7v1.7h-1.7zM1069 1940h1.7v1.7h-1.7zM1066 1941h1.7v1.7h-1.7zM1061 1938h1.7v1.7h-1.7zM1074 1948h1.7v1.7h-1.7zM1079 1950h1.7v1.7h-1.7zM1077 1950h1.7v1.7h-1.7zM1079 1951h1.7v1.7h-1.7zM1083 1955h1.7v1.7h-1.7zM1076 1957h1.7v1.7h-1.7zM1073 1962h1.7v1.7h-1.7zM1073 1959h1.7v1.7h-1.7zM1076 1958h1.7v1.7h-1.7zM1075 1962h1.7v1.7h-1.7zM1072 1961h1.7v1.7h-1.7zM1065 1967h1.7v1.7h-1.7zM1065 1965h1.7v1.7h-1.7zM1068 1964h1.7v1.7h-1.7zM1062 1970h1.7v1.7h-1.7zM1056 1973h1.7v1.7h-1.7zM1061 1970h1.7v1.7h-1.7zM1050 1972h1.7v1.7h-1.7zM1055 1973h1.7v1.7h-1.7zM1051 1974h1.7v1.7h-1.7zM1050 1974h1.7v1.7h-1.7zM1037 1965h1.7v1.7h-1.7zM1044 1972h1.7v1.7h-1.7zM1046 1969h1.7v1.7h-1.7zM1045 1971h1.7v1.7h-1.7zM1036 1966h1.7v1.7h-1.7zM1030 1963h1.7v1.7h-1.7zM1031 1960h1.7v1.7h-1.7zM1033 1967h1.7v1.7h-1.7zM1022 1960h1.7v1.7h-1.7zM1033 1964h1.7v1.7h-1.7zM1018 1960h1.7v1.7h-1.7zM1022 1959h1.7v1.7h-1.7zM1016 1956h1.7v1.7h-1.7zM1019 1961h1.7v1.7h-1.7zM1015 1955h1.7v1.7h-1.7zM1015 1953h1.7v1.7h-1.7zM1018 1953h1.7v1.7h-1.7zM1015 1945h1.7v1.7h-1.7zM1021 1946h1.7v1.7h-1.7zM1025 1946h1.7v1.7h-1.7zM1027 1945h1.7v1.7h-1.7zM1018 1945h1.7v1.7h-1.7zM1031 1935h1.7v1.7h-1.7zM1028 1934h1.7v1.7h-1.7zM1032 1941h1.7v1.7h-1.7zM1028 1940h1.7v1.7h-1.7zM1033 1934h1.7v1.7h-1.7zM1031 1937h1.7v1.7h-1.7zM1034 1926h1.7v1.7h-1.7zM1031 1925h1.7v1.7h-1.7zM1032 1925h1.7v1.7h-1.7zM1031 1910h1.7v1.7h-1.7zM1032 1923h1.7v1.7h-1.7zM301 1823h1.7v1.7h-1.7zM306 1817h1.7v1.7h-1.7zM320 1837h1.7v1.7h-1.7zM322 1845h1.7v1.7h-1.7zM313 1818h1.7v1.7h-1.7zM302 1812h1.7v1.7h-1.7zM301 1814h1.7v1.7h-1.7zM309 1834h1.7v1.7h-1.7zM319 1803h1.7v1.7h-1.7zM321 1834h1.7v1.7h-1.7zM321 1845h1.7v1.7h-1.7zM321 1830h1.7v1.7h-1.7zM302 1826h1.7v1.7h-1.7zM328 1829h1.7v1.7h-1.7zM320 1829h1.7v1.7h-1.7zM404 1829h1.7v1.7h-1.7zM352 1945h1.7v1.7h-1.7zM354 1868h1.7v1.7h-1.7zM381 1942h1.7v1.7h-1.7zM392 1821h1.7v1.7h-1.7zM366 1951h1.7v1.7h-1.7zM392 1909h1.7v1.7h-1.7zM418 1857h1.7v1.7h-1.7zM382 1934h1.7v1.7h-1.7zM402 1883h1.7v1.7h-1.7zM385 1856h1.7v1.7h-1.7zM399 1940h1.7v1.7h-1.7zM365 1825h1.7v1.7h-1.7zM367 1842h1.7v1.7h-1.7zM397 1837h1.7v1.7h-1.7zM401 1823h1.7v1.7h-1.7zM382 1848h1.7v1.7h-1.7zM354 1841h1.7v1.7h-1.7zM380 1892h1.7v1.7h-1.7zM391 1941h1.7v1.7h-1.7zM369 1923h1.7v1.7h-1.7zM433 1868h1.7v1.7h-1.7zM392 1845h1.7v1.7h-1.7zM405 1876h1.7v1.7h-1.7zM355 1865h1.7v1.7h-1.7zM413 1889h1.7v1.7h-1.7zM354 1938h1.7v1.7h-1.7zM370 1856h1.7v1.7h-1.7zM361 1851h1.7v1.7h-1.7zM405 1908h1.7v1.7h-1.7zM390 1938h1.7v1.7h-1.7zM399 1932h1.7v1.7h-1.7zM404 1861h1.7v1.7h-1.7zM426 1856h1.7v1.7h-1.7zM408 1885h1.7v1.7h-1.7zM358 1849h1.7v1.7h-1.7zM357 1856h1.7v1.7h-1.7zM384 1890h1.7v1.7h-1.7zM380 1895h1.7v1.7h-1.7zM388 1897h1.7v1.7h-1.7zM420 1865h1.7v1.7h-1.7zM391 1900h1.7v1.7h-1.7zM361 1951h1.7v1.7h-1.7zM402 1925h1.7v1.7h-1.7zM410 1897h1.7v1.7h-1.7zM406 1893h1.7v1.7h-1.7zM338 1940h1.7v1.7h-1.7zM390 1875h1.7v1.7h-1.7zM403 1878h1.7v1.7h-1.7zM420 1876h1.7v1.7h-1.7zM341 1948h1.7v1.7h-1.7zM410 1899h1.7v1.7h-1.7zM401 1932h1.7v1.7h-1.7zM372 1848h1.7v1.7h-1.7zM343 1940h1.7v1.7h-1.7zM385 1895h1.7v1.7h-1.7zM412 1894h1.7v1.7h-1.7zM419 1896h1.7v1.7h-1.7zM448 1885h1.7v1.7h-1.7zM394 1899h1.7v1.7h-1.7zM370 1948h1.7v1.7h-1.7zM352 1954h1.7v1.7h-1.7zM407 1884h1.7v1.7h-1.7zM379 1825h1.7v1.7h-1.7zM423 1859h1.7v1.7h-1.7zM379 1879h1.7v1.7h-1.7zM357 1826h1.7v1.7h-1.7zM404 1854h1.7v1.7h-1.7zM383 1827h1.7v1.7h-1.7zM451 1886h1.7v1.7h-1.7zM407 1854h1.7v1.7h-1.7zM363 1828h1.7v1.7h-1.7zM369 1892h1.7v1.7h-1.7zM414 1858h1.7v1.7h-1.7zM396 1832h1.7v1.7h-1.7zM378 1858h1.7v1.7h-1.7zM395 1936h1.7v1.7h-1.7zM380 1852h1.7v1.7h-1.7zM405 1849h1.7v1.7h-1.7zM433 1873h1.7v1.7h-1.7zM426 1886h1.7v1.7h-1.7zM352 1950h1.7v1.7h-1.7zM375 1924h1.7v1.7h-1.7zM428 1874h1.7v1.7h-1.7zM421 1898h1.7v1.7h-1.7zM366 1893h1.7v1.7h-1.7zM402 1848h1.7v1.7h-1.7zM370 1895h1.7v1.7h-1.7zM393 1906h1.7v1.7h-1.7zM350 1951h1.7v1.7h-1.7zM366 1848h1.7v1.7h-1.7zM378 1937h1.7v1.7h-1.7zM362 1844h1.7v1.7h-1.7zM377 1878h1.7v1.7h-1.7zM386 1853h1.7v1.7h-1.7zM406 1893h1.7v1.7h-1.7zM404 1829h1.7v1.7h-1.7zM377 1937h1.7v1.7h-1.7zM369 1828h1.7v1.7h-1.7zM395 1835h1.7v1.7h-1.7zM408 1894h1.7v1.7h-1.7zM373 1919h1.7v1.7h-1.7zM375 1871h1.7v1.7h-1.7zM406 1903h1.7v1.7h-1.7zM413 1841h1.7v1.7h-1.7zM347 1936h1.7v1.7h-1.7zM455 1897h1.7v1.7h-1.7zM402 1937h1.7v1.7h-1.7zM409 1897h1.7v1.7h-1.7zM370 1825h1.7v1.7h-1.7zM416 1864h1.7v1.7h-1.7zM362 1835h1.7v1.7h-1.7zM434 1875h1.7v1.7h-1.7zM407 1859h1.7v1.7h-1.7zM387 1902h1.7v1.7h-1.7zM437 1873h1.7v1.7h-1.7zM360 1870h1.7v1.7h-1.7zM420 1853h1.7v1.7h-1.7zM382 1933h1.7v1.7h-1.7zM404 1916h1.7v1.7h-1.7zM398 1918h1.7v1.7h-1.7zM411 1885h1.7v1.7h-1.7zM399 1837h1.7v1.7h-1.7zM392 1949h1.7v1.7h-1.7zM394 1917h1.7v1.7h-1.7zM375 1943h1.7v1.7h-1.7zM407 1850h1.7v1.7h-1.7zM413 1885h1.7v1.7h-1.7zM366 1882h1.7v1.7h-1.7zM380 1859h1.7v1.7h-1.7zM416 1850h1.7v1.7h-1.7zM367 1833h1.7v1.7h-1.7zM396 1905h1.7v1.7h-1.7zM449 1878h1.7v1.7h-1.7zM390 1838h1.7v1.7h-1.7zM392 1904h1.7v1.7h-1.7zM428 1884h1.7v1.7h-1.7zM443 1892h1.7v1.7h-1.7zM371 1911h1.7v1.7h-1.7zM397 1917h1.7v1.7h-1.7zM406 1847h1.7v1.7h-1.7zM439 1865h1.7v1.7h-1.7zM425 1860h1.7v1.7h-1.7zM398 1882h1.7v1.7h-1.7zM399 1936h1.7v1.7h-1.7zM382 1916h1.7v1.7h-1.7zM354 1853h1.7v1.7h-1.7zM386 1939h1.7v1.7h-1.7zM384 1869h1.7v1.7h-1.7zM432 1865h1.7v1.7h-1.7zM406 1930h1.7v1.7h-1.7zM390 1867h1.7v1.7h-1.7zM430 1901h1.7v1.7h-1.7zM421 1855h1.7v1.7h-1.7zM415 1880h1.7v1.7h-1.7zM388 1951h1.7v1.7h-1.7zM434 1898h1.7v1.7h-1.7zM377 1825h1.7v1.7h-1.7zM429 1901h1.7v1.7h-1.7zM383 1836h1.7v1.7h-1.7zM451 1878h1.7v1.7h-1.7zM421 1861h1.7v1.7h-1.7zM355 1948h1.7v1.7h-1.7zM432 1901h1.7v1.7h-1.7zM377 1903h1.7v1.7h-1.7zM338 1932h1.7v1.7h-1.7zM375 1884h1.7v1.7h-1.7zM384 1888h1.7v1.7h-1.7zM406 1825h1.7v1.7h-1.7zM374 1886h1.7v1.7h-1.7zM390 1949h1.7v1.7h-1.7zM443 1885h1.7v1.7h-1.7zM368 1931h1.7v1.7h-1.7zM374 1824h1.7v1.7h-1.7zM327 1939h1.7v1.7h-1.7zM381 1908h1.7v1.7h-1.7zM356 1846h1.7v1.7h-1.7zM393 1867h1.7v1.7h-1.7zM389 1933h1.7v1.7h-1.7zM378 1938h1.7v1.7h-1.7zM425 1882h1.7v1.7h-1.7zM364 1955h1.7v1.7h-1.7zM385 1843h1.7v1.7h-1.7zM389 1854h1.7v1.7h-1.7zM362 1878h1.7v1.7h-1.7zM389 1900h1.7v1.7h-1.7zM368 1920h1.7v1.7h-1.7zM339 1934h1.7v1.7h-1.7zM436 1886h1.7v1.7h-1.7zM382 1858h1.7v1.7h-1.7zM351 1860h1.7v1.7h-1.7zM412 1874h1.7v1.7h-1.7zM400 1918h1.7v1.7h-1.7zM379 1835h1.7v1.7h-1.7zM421 1851h1.7v1.7h-1.7zM397 1898h1.7v1.7h-1.7zM392 1947h1.7v1.7h-1.7zM425 1901h1.7v1.7h-1.7zM386 1841h1.7v1.7h-1.7zM325 1936h1.7v1.7h-1.7zM379 1902h1.7v1.7h-1.7zM390 1940h1.7v1.7h-1.7zM410 1915h1.7v1.7h-1.7zM354 1862h1.7v1.7h-1.7zM360 1853h1.7v1.7h-1.7zM404 1915h1.7v1.7h-1.7zM430 1902h1.7v1.7h-1.7zM394 1862h1.7v1.7h-1.7zM379 1920h1.7v1.7h-1.7zM379 1871h1.7v1.7h-1.7zM450 1885h1.7v1.7h-1.7zM429 1885h1.7v1.7h-1.7zM381 1901h1.7v1.7h-1.7zM405 1871h1.7v1.7h-1.7zM362 1894h1.7v1.7h-1.7zM453 1891h1.7v1.7h-1.7zM394 1923h1.7v1.7h-1.7zM374 1834h1.7v1.7h-1.7zM439 1893h1.7v1.7h-1.7zM382 1879h1.7v1.7h-1.7zM998 1904h1.7v1.7h-1.7zM999 1897h1.7v1.7h-1.7zM1009 1896h1.7v1.7h-1.7zM1006 1911h1.7v1.7h-1.7zM1013 1911h1.7v1.7h-1.7zM1016 1892h1.7v1.7h-1.7zM1028 1907h1.7v1.7h-1.7zM1000 1897h1.7v1.7h-1.7zM1000 1902h1.7v1.7h-1.7zM1008 1905h1.7v1.7h-1.7zM1030 1898h1.7v1.7h-1.7zM1013 1900h1.7v1.7h-1.7zM999 1904h1.7v1.7h-1.7zM1010 1902h1.7v1.7h-1.7zM1021 1889h1.7v1.7h-1.7zM1023 1909h1.7v1.7h-1.7zM1029 1905h1.7v1.7h-1.7zM1007 1904h1.7v1.7h-1.7zM1012 1903h1.7v1.7h-1.7zM995 1898h1.7v1.7h-1.7zM1005 1896h1.7v1.7h-1.7zM1024 1884h1.7v1.7h-1.7zM1005 1904h1.7v1.7h-1.7zM1009 1899h1.7v1.7h-1.7zM1006 1902h1.7v1.7h-1.7zM1019 1895h1.7v1.7h-1.7zM1024 1905h1.7v1.7h-1.7zM1007 1902h1.7v1.7h-1.7zM1025 1883h1.7v1.7h-1.7zM1025 1900h1.7v1.7h-1.7zM1012 1909h1.7v1.7h-1.7zM1003 1895h1.7v1.7h-1.7zM1011 1900h1.7v1.7h-1.7zM1019 1903h1.7v1.7h-1.7zM1020 1904h1.7v1.7h-1.7zM1013 1895h1.7v1.7h-1.7zM1006 1911h1.7v1.7h-1.7zM1017 1894h1.7v1.7h-1.7zM1004 1907h1.7v1.7h-1.7zM1014 1908h1.7v1.7h-1.7zM1029 1896h1.7v1.7h-1.7zM1009 1911h1.7v1.7h-1.7zM1010 1889h1.7v1.7h-1.7zM1004 1894h1.7v1.7h-1.7zM1017 1901h1.7v1.7h-1.7zM1026 1895h1.7v1.7h-1.7zM1024 1894h1.7v1.7h-1.7zM1031 1895h1.7v1.7h-1.7zM1014 1912h1.7v1.7h-1.7zM1022 1896h1.7v1.7h-1.7zM1000 1894h1.7v1.7h-1.7zM1028 1879h1.7v1.7h-1.7zM998 1892h1.7v1.7h-1.7zM1026 1883h1.7v1.7h-1.7zM1001 1905h1.7v1.7h-1.7zM996 1896h1.7v1.7h-1.7zM1001 1893h1.7v1.7h-1.7zM1006 1908h1.7v1.7h-1.7zM1005 1894h1.7v1.7h-1.7zM1027 1902h1.7v1.7h-1.7zM1023 1892h1.7v1.7h-1.7zM1008 1900h1.7v1.7h-1.7zM1022 1885h1.7v1.7h-1.7zM1013 1899h1.7v1.7h-1.7zM1027 1901h1.7v1.7h-1.7zM998 1892h1.7v1.7h-1.7zM1023 1906h1.7v1.7h-1.7zM1026 1904h1.7v1.7h-1.7zM1013 1905h1.7v1.7h-1.7zM1004 1908h1.7v1.7h-1.7zM1020 1896h1.7v1.7h-1.7zM1004 1904h1.7v1.7h-1.7zM997 1895h1.7v1.7h-1.7zM1023 1910h1.7v1.7h-1.7zM1014 1904h1.7v1.7h-1.7zM1001 1899h1.7v1.7h-1.7zM1024 1887h1.7v1.7h-1.7zM1014 1910h1.7v1.7h-1.7zM1030 1894h1.7v1.7h-1.7zM1032 1905h1.7v1.7h-1.7zM1026 1907h1.7v1.7h-1.7zM1032 1906h1.7v1.7h-1.7zM1014 1887h1.7v1.7h-1.7zM1021 1899h1.7v1.7h-1.7zM1029 1890h1.7v1.7h-1.7zM1023 1905h1.7v1.7h-1.7zM1026 1895h1.7v1.7h-1.7zM1000 1902h1.7v1.7h-1.7zM1009 1898h1.7v1.7h-1.7zM1031 1889h1.7v1.7h-1.7zM996 1917h1.7v1.7h-1.7zM997 1930h1.7v1.7h-1.7zM990 1933h1.7v1.7h-1.7zM1000 1945h1.7v1.7h-1.7zM1007 1928h1.7v1.7h-1.7zM998 1964h1.7v1.7h-1.7zM1007 1900h1.7v1.7h-1.7zM1010 1913h1.7v1.7h-1.7zM1002 1921h1.7v1.7h-1.7zM1010 1943h1.7v1.7h-1.7zM1010 1905h1.7v1.7h-1.7zM998 1963h1.7v1.7h-1.7zM1010 1918h1.7v1.7h-1.7zM1004 1902h1.7v1.7h-1.7zM1000 1903h1.7v1.7h-1.7zM1006 1937h1.7v1.7h-1.7zM1003 1957h1.7v1.7h-1.7zM1001 1918h1.7v1.7h-1.7zM1007 1915h1.7v1.7h-1.7zM995 1938h1.7v1.7h-1.7zM1001 1928h1.7v1.7h-1.7zM1007 1906h1.7v1.7h-1.7zM1005 1905h1.7v1.7h-1.7zM1002 1906h1.7v1.7h-1.7zM1010 1927h1.7v1.7h-1.7zM998 1941h1.7v1.7h-1.7zM1010 1939h1.7v1.7h-1.7zM1000 1951h1.7v1.7h-1.7zM1011 1948h1.7v1.7h-1.7zM998 1940h1.7v1.7h-1.7zM1007 1900h1.7v1.7h-1.7zM1010 1945h1.7v1.7h-1.7zM1006 1958h1.7v1.7h-1.7zM999 1904h1.7v1.7h-1.7zM1006 1932h1.7v1.7h-1.7zM1006 1912h1.7v1.7h-1.7zM1006 1928h1.7v1.7h-1.7zM991 1927h1.7v1.7h-1.7zM1004 1943h1.7v1.7h-1.7zM992 1934h1.7v1.7h-1.7zM996 1949h1.7v1.7h-1.7zM1005 1945h1.7v1.7h-1.7zM1011 1935h1.7v1.7h-1.7zM995 1932h1.7v1.7h-1.7zM1006 1945h1.7v1.7h-1.7zM996 1920h1.7v1.7h-1.7zM994 1921h1.7v1.7h-1.7zM1002 1964h1.7v1.7h-1.7zM1013 1940h1.7v1.7h-1.7zM1010 1942h1.7v1.7h-1.7zM1002 1920h1.7v1.7h-1.7zM1005 1962h1.7v1.7h-1.7zM1008 1910h1.7v1.7h-1.7zM1010 1955h1.7v1.7h-1.7zM997 1937h1.7v1.7h-1.7zM993 1925h1.7v1.7h-1.7zM998 1903h1.7v1.7h-1.7zM1005 1941h1.7v1.7h-1.7zM1002 1947h1.7v1.7h-1.7zM1002 1928h1.7v1.7h-1.7zM1010 1925h1.7v1.7h-1.7zM1008 1942h1.7v1.7h-1.7zM995 1921h1.7v1.7h-1.7zM1001 1937h1.7v1.7h-1.7zM1000 1932h1.7v1.7h-1.7zM1000 1932h1.7v1.7h-1.7zM1011 1907h1.7v1.7h-1.7zM1006 1928h1.7v1.7h-1.7zM1000 1960h1.7v1.7h-1.7zM1000 1921h1.7v1.7h-1.7zM1000 1957h1.7v1.7h-1.7zM993 1911h1.7v1.7h-1.7zM1000 1923h1.7v1.7h-1.7zM1011 1925h1.7v1.7h-1.7zM1006 1936h1.7v1.7h-1.7zM996 1928h1.7v1.7h-1.7zM1007 1951h1.7v1.7h-1.7zM1002 1923h1.7v1.7h-1.7zM992 1942h1.7v1.7h-1.7zM1008 1903h1.7v1.7h-1.7zM1008 1931h1.7v1.7h-1.7zM1001 1924h1.7v1.7h-1.7zM1006 1958h1.7v1.7h-1.7zM991 1924h1.7v1.7h-1.7zM1006 1950h1.7v1.7h-1.7zM1003 1923h1.7v1.7h-1.7zM1004 1930h1.7v1.7h-1.7zM1004 1902h1.7v1.7h-1.7zM1005 1946h1.7v1.7h-1.7zM1000 1909h1.7v1.7h-1.7zM1021 1991h1.7v1.7h-1.7zM1050 1997h1.7v1.7h-1.7zM1025 1998h1.7v1.7h-1.7zM1055 1992h1.7v1.7h-1.7zM1063 2010h1.7v1.7h-1.7zM1029 1996h1.7v1.7h-1.7zM1023 2003h1.7v1.7h-1.7zM1037 1999h1.7v1.7h-1.7zM1026 1986h1.7v1.7h-1.7zM1036 2006h1.7v1.7h-1.7zM1058 1984h1.7v1.7h-1.7zM1062 1983h1.7v1.7h-1.7zM1027 1999h1.7v1.7h-1.7zM1026 1987h1.7v1.7h-1.7zM1035 1996h1.7v1.7h-1.7zM1051 1987h1.7v1.7h-1.7zM1028 2005h1.7v1.7h-1.7zM1069 2002h1.7v1.7h-1.7zM1069 1990h1.7v1.7h-1.7zM1037 1983h1.7v1.7h-1.7zM1029 2004h1.7v1.7h-1.7zM1065 2011h1.7v1.7h-1.7zM1063 2000h1.7v1.7h-1.7zM1021 1982h1.7v1.7h-1.7zM1028 1981h1.7v1.7h-1.7zM1053 1991h1.7v1.7h-1.7zM1063 1987h1.7v1.7h-1.7zM1060 1985h1.7v1.7h-1.7zM1024 1999h1.7v1.7h-1.7zM1032 2003h1.7v1.7h-1.7zM1050 1981h1.7v1.7h-1.7zM1067 2011h1.7v1.7h-1.7zM1036 2001h1.7v1.7h-1.7zM1030 1989h1.7v1.7h-1.7zM1067 1992h1.7v1.7h-1.7zM1033 2005h1.7v1.7h-1.7zM1070 1987h1.7v1.7h-1.7zM1035 1983h1.7v1.7h-1.7zM1065 1989h1.7v1.7h-1.7zM1070 2005h1.7v1.7h-1.7zM1058 1991h1.7v1.7h-1.7zM1029 2011h1.7v1.7h-1.7zM1044 1980h1.7v1.7h-1.7zM1048 1988h1.7v1.7h-1.7zM1053 2006h1.7v1.7h-1.7zM1064 1981h1.7v1.7h-1.7zM1069 2005h1.7v1.7h-1.7zM1029 1997h1.7v1.7h-1.7zM1022 2006h1.7v1.7h-1.7zM1065 1991h1.7v1.7h-1.7zM1029 2005h1.7v1.7h-1.7zM1050 2007h1.7v1.7h-1.7zM1044 1980h1.7v1.7h-1.7zM1034 1991h1.7v1.7h-1.7zM1039 1980h1.7v1.7h-1.7zM1041 2006h1.7v1.7h-1.7zM1023 2007h1.7v1.7h-1.7zM1041 1992h1.7v1.7h-1.7zM1048 2009h1.7v1.7h-1.7zM1023 2011h1.7v1.7h-1.7zM1053 1989h1.7v1.7h-1.7zM1023 2012h1.7v1.7h-1.7zM1045 2000h1.7v1.7h-1.7zM1052 2012h1.7v1.7h-1.7zM1026 1993h1.7v1.7h-1.7zM1061 1996h1.7v1.7h-1.7zM1067 2011h1.7v1.7h-1.7zM1037 2014h1.7v1.7h-1.7zM1072 1998h1.7v1.7h-1.7zM1020 1998h1.7v1.7h-1.7zM1053 1996h1.7v1.7h-1.7zM1044 2010h1.7v1.7h-1.7zM1025 1997h1.7v1.7h-1.7zM1036 1992h1.7v1.7h-1.7zM1037 1990h1.7v1.7h-1.7zM1065 1997h1.7v1.7h-1.7zM1067 1994h1.7v1.7h-1.7zM1061 1998h1.7v1.7h-1.7zM1029 1990h1.7v1.7h-1.7zM1055 1996h1.7v1.7h-1.7zM1049 2002h1.7v1.7h-1.7zM1022 2006h1.7v1.7h-1.7zM1020 1999h1.7v1.7h-1.7zM1063 2001h1.7v1.7h-1.7zM1060 2007h1.7v1.7h-1.7zM1030 2005h1.7v1.7h-1.7zM1067 2010h1.7v1.7h-1.7zM1065 2011h1.7v1.7h-1.7zM1060 1993h1.7v1.7h-1.7zM1030 1992h1.7v1.7h-1.7zM1065 2000h1.7v1.7h-1.7zM1047 2009h1.7v1.7h-1.7zM1054 2016h1.7v1.7h-1.7zM1043 1994h1.7v1.7h-1.7zM1025 1999h1.7v1.7h-1.7zM1050 2013h1.7v1.7h-1.7zM1043 2007h1.7v1.7h-1.7zM1044 2011h1.7v1.7h-1.7zM1043 1991h1.7v1.7h-1.7zM1073 1997h1.7v1.7h-1.7z" fill="#00C08B"/>
<path d="M668 1838h1.7v1.7h-1.7zM669 1832h1.7v1.7h-1.7zM664 1839h1.7v1.7h-1.7zM666 1843h1.7v1.7h-1.7zM673 1834h1.7v1.7h-1.7zM677 1835h1.7v1.7h-1.7zM682 1835h1.7v1.7h-1.7zM675 1836h1.7v1.7h-1.7zM679 1841h1.7v1.7h-1.7zM681 1845h1.7v1.7h-1.7zM685 1845h1.7v1.7h-1.7zM685 1845h1.7v1.7h-1.7zM685 1844h1.7v1.7h-1.7zM679 1862h1.7v1.7h-1.7zM678 1862h1.7v1.7h-1.7zM683 1853h1.7v1.7h-1.7zM683 1857h1.7v1.7h-1.7zM683 1852h1.7v1.7h-1.7zM685 1855h1.7v1.7h-1.7zM672 1862h1.7v1.7h-1.7zM678 1861h1.7v1.7h-1.7zM678 1862h1.7v1.7h-1.7zM674 1864h1.7v1.7h-1.7zM666 1855h1.7v1.7h-1.7zM671 1858h1.7v1.7h-1.7zM666 1850h1.7v1.7h-1.7zM670 1862h1.7v1.7h-1.7zM671 1859h1.7v1.7h-1.7zM665 1842h1.7v1.7h-1.7zM665 1847h1.7v1.7h-1.7zM665 1849h1.7v1.7h-1.7zM663 1849h1.7v1.7h-1.7zM665 1848h1.7v1.7h-1.7zM258 2237h1.7v1.7h-1.7zM252 2243h1.7v1.7h-1.7zM254 2241h1.7v1.7h-1.7zM251 2243h1.7v1.7h-1.7zM254 2242h1.7v1.7h-1.7zM256 2237h1.7v1.7h-1.7zM260 2249h1.7v1.7h-1.7zM256 2243h1.7v1.7h-1.7zM260 2261h1.7v1.7h-1.7zM261 2255h1.7v1.7h-1.7zM260 2250h1.7v1.7h-1.7zM259 2248h1.7v1.7h-1.7zM261 2262h1.7v1.7h-1.7zM259 2246h1.7v1.7h-1.7zM257 2269h1.7v1.7h-1.7zM259 2266h1.7v1.7h-1.7zM260 2262h1.7v1.7h-1.7zM258 2264h1.7v1.7h-1.7zM255 2259h1.7v1.7h-1.7zM259 2270h1.7v1.7h-1.7zM254 2257h1.7v1.7h-1.7zM254 2265h1.7v1.7h-1.7zM256 2264h1.7v1.7h-1.7zM253 2266h1.7v1.7h-1.7zM250 2252h1.7v1.7h-1.7zM249 2254h1.7v1.7h-1.7zM245 2251h1.7v1.7h-1.7zM247 2245h1.7v1.7h-1.7zM244 2248h1.7v1.7h-1.7zM249 2254h1.7v1.7h-1.7zM1017 2164h1.7v1.7h-1.7zM1026 2162h1.7v1.7h-1.7zM1022 2162h1.7v1.7h-1.7zM1027 2161h1.7v1.7h-1.7zM1034 2170h1.7v1.7h-1.7zM1031 2171h1.7v1.7h-1.7zM1029 2165h1.7v1.7h-1.7zM1033 2172h1.7v1.7h-1.7zM1033 2169h1.7v1.7h-1.7zM1031 2169h1.7v1.7h-1.7zM1034 2175h1.7v1.7h-1.7zM1031 2173h1.7v1.7h-1.7zM1032 2175h1.7v1.7h-1.7zM1026 2179h1.7v1.7h-1.7zM1030 2175h1.7v1.7h-1.7zM1027 2177h1.7v1.7h-1.7zM1032 2180h1.7v1.7h-1.7zM1022 2173h1.7v1.7h-1.7zM1019 2169h1.7v1.7h-1.7zM1020 2166h1.7v1.7h-1.7zM1020 2165h1.7v1.7h-1.7zM1020 2168h1.7v1.7h-1.7z" fill="#00C0B3"/>
<path d="M480 1958h1.7v1.7h-1.7zM478 1960h1.7v1.7h-1.7zM482 1969h1.7v1.7h-1.7zM483 1965h1.7v1.7h-1.7zM484 1963h1.7v1.7h-1.7zM483 1970h1.7v1.7h-1.7zM487 1979h1.7v1.7h-1.7zM488 1978h1.7v1.7h-1.7zM489 1970h1.7v1.7h-1.7zM483 1963h1.7v1.7h-1.7zM488 1987h1.7v1.7h-1.7zM487 1988h1.7v1.7h-1.7zM489 1985h1.7v1.7h-1.7zM489 1990h1.7v1.7h-1.7zM489 1984h1.7v1.7h-1.7zM489 1989h1.7v1.7h-1.7zM486 1992h1.7v1.7h-1.7zM486 1979h1.7v1.7h-1.7zM487 1979h1.7v1.7h-1.7zM479 1988h1.7v1.7h-1.7zM481 1993h1.7v1.7h-1.7zM483 1991h1.7v1.7h-1.7zM481 1993h1.7v1.7h-1.7zM478 1987h1.7v1.7h-1.7zM478 1990h1.7v1.7h-1.7zM479 1981h1.7v1.7h-1.7zM480 1991h1.7v1.7h-1.7zM481 1980h1.7v1.7h-1.7zM479 1959h1.7v1.7h-1.7zM478 1968h1.7v1.7h-1.7zM478 1958h1.7v1.7h-1.7zM479 1972h1.7v1.7h-1.7zM478 1977h1.7v1.7h-1.7zM477 1973h1.7v1.7h-1.7zM477 1965h1.7v1.7h-1.7zM479 1960h1.7v1.7h-1.7zM490 2004h1.7v1.7h-1.7zM486 1995h1.7v1.7h-1.7zM490 1983h1.7v1.7h-1.7zM490 2004h1.7v1.7h-1.7zM488 1988h1.7v1.7h-1.7zM490 1999h1.7v1.7h-1.7zM491 1994h1.7v1.7h-1.7zM485 2002h1.7v1.7h-1.7zM487 2003h1.7v1.7h-1.7zM488 2001h1.7v1.7h-1.7zM486 1980h1.7v1.7h-1.7zM487 2014h1.7v1.7h-1.7zM487 2019h1.7v1.7h-1.7zM484 2013h1.7v1.7h-1.7zM490 2008h1.7v1.7h-1.7zM484 2019h1.7v1.7h-1.7zM485 2016h1.7v1.7h-1.7zM486 2024h1.7v1.7h-1.7zM484 2029h1.7v1.7h-1.7zM483 2029h1.7v1.7h-1.7zM485 2028h1.7v1.7h-1.7zM481 2015h1.7v1.7h-1.7zM485 2007h1.7v1.7h-1.7zM485 2013h1.7v1.7h-1.7zM481 2025h1.7v1.7h-1.7zM481 2006h1.7v1.7h-1.7zM482 2026h1.7v1.7h-1.7zM478 2025h1.7v1.7h-1.7zM484 2009h1.7v1.7h-1.7zM484 2016h1.7v1.7h-1.7zM481 2023h1.7v1.7h-1.7zM482 1994h1.7v1.7h-1.7zM481 1993h1.7v1.7h-1.7zM478 1990h1.7v1.7h-1.7zM482 1991h1.7v1.7h-1.7zM481 1992h1.7v1.7h-1.7zM485 1979h1.7v1.7h-1.7zM482 1983h1.7v1.7h-1.7zM480 1990h1.7v1.7h-1.7zM479 1986h1.7v1.7h-1.7zM1212 2189h1.7v1.7h-1.7zM1216 2191h1.7v1.7h-1.7zM1214 2190h1.7v1.7h-1.7zM1210 2189h1.7v1.7h-1.7zM1220 2199h1.7v1.7h-1.7zM1217 2197h1.7v1.7h-1.7zM1221 2210h1.7v1.7h-1.7zM1216 2190h1.7v1.7h-1.7zM1216 2210h1.7v1.7h-1.7zM1218 2194h1.7v1.7h-1.7zM1219 2197h1.7v1.7h-1.7zM1216 2196h1.7v1.7h-1.7zM1215 2214h1.7v1.7h-1.7zM1216 2212h1.7v1.7h-1.7zM1216 2216h1.7v1.7h-1.7zM1219 2212h1.7v1.7h-1.7zM1216 2215h1.7v1.7h-1.7zM1219 2211h1.7v1.7h-1.7zM1210 2215h1.7v1.7h-1.7zM1213 2219h1.7v1.7h-1.7zM1212 2210h1.7v1.7h-1.7zM1211 2222h1.7v1.7h-1.7zM1213 2218h1.7v1.7h-1.7zM1211 2212h1.7v1.7h-1.7zM1210 2195h1.7v1.7h-1.7zM1209 2192h1.7v1.7h-1.7zM1208 2196h1.7v1.7h-1.7zM1211 2190h1.7v1.7h-1.7zM1209 2205h1.7v1.7h-1.7zM1208 2202h1.7v1.7h-1.7zM1207 2202h1.7v1.7h-1.7zM1208 2195h1.7v1.7h-1.7z" fill="#FF61C3"/>
<path d="M364 1984h1.7v1.7h-1.7zM363 1980h1.7v1.7h-1.7zM370 1974h1.7v1.7h-1.7zM363 1980h1.7v1.7h-1.7zM361 1985h1.7v1.7h-1.7zM370 1978h1.7v1.7h-1.7zM374 1981h1.7v1.7h-1.7zM368 1981h1.7v1.7h-1.7zM365 1977h1.7v1.7h-1.7zM373 1989h1.7v1.7h-1.7zM374 1988h1.7v1.7h-1.7zM375 1996h1.7v1.7h-1.7zM374 1984h1.7v1.7h-1.7zM374 1993h1.7v1.7h-1.7zM374 1984h1.7v1.7h-1.7zM366 1996h1.7v1.7h-1.7zM365 1999h1.7v1.7h-1.7zM363 2000h1.7v1.7h-1.7zM369 1995h1.7v1.7h-1.7zM363 1998h1.7v1.7h-1.7zM362 2000h1.7v1.7h-1.7zM359 1999h1.7v1.7h-1.7zM357 2000h1.7v1.7h-1.7zM359 1999h1.7v1.7h-1.7zM356 1990h1.7v1.7h-1.7zM356 1997h1.7v1.7h-1.7zM358 1989h1.7v1.7h-1.7zM357 1991h1.7v1.7h-1.7zM358 1990h1.7v1.7h-1.7zM374 1991h1.7v1.7h-1.7zM371 1985h1.7v1.7h-1.7zM374 1988h1.7v1.7h-1.7zM375 1996h1.7v1.7h-1.7zM374 1991h1.7v1.7h-1.7zM373 1989h1.7v1.7h-1.7zM371 1999h1.7v1.7h-1.7zM370 1995h1.7v1.7h-1.7zM375 1997h1.7v1.7h-1.7zM372 1999h1.7v1.7h-1.7zM367 2001h1.7v1.7h-1.7zM368 2002h1.7v1.7h-1.7zM359 2002h1.7v1.7h-1.7zM365 2004h1.7v1.7h-1.7zM364 2000h1.7v1.7h-1.7zM353 1991h1.7v1.7h-1.7zM356 1992h1.7v1.7h-1.7zM356 1992h1.7v1.7h-1.7zM358 1993h1.7v1.7h-1.7zM358 1991h1.7v1.7h-1.7zM355 1984h1.7v1.7h-1.7zM356 2000h1.7v1.7h-1.7zM358 1991h1.7v1.7h-1.7zM1077 1955h1.7v1.7h-1.7zM1075 1954h1.7v1.7h-1.7zM1072 1955h1.7v1.7h-1.7zM1076 1953h1.7v1.7h-1.7zM1074 1954h1.7v1.7h-1.7zM1080 1954h1.7v1.7h-1.7zM1086 1955h1.7v1.7h-1.7zM1085 1959h1.7v1.7h-1.7zM1086 1956h1.7v1.7h-1.7zM1089 1957h1.7v1.7h-1.7zM1094 1958h1.7v1.7h-1.7zM1094 1958h1.7v1.7h-1.7zM1096 1955h1.7v1.7h-1.7zM1094 1958h1.7v1.7h-1.7zM1101 1967h1.7v1.7h-1.7zM1100 1981h1.7v1.7h-1.7zM1102 1969h1.7v1.7h-1.7zM1100 1974h1.7v1.7h-1.7zM1097 1981h1.7v1.7h-1.7zM1098 1980h1.7v1.7h-1.7zM1100 1979h1.7v1.7h-1.7zM1103 1966h1.7v1.7h-1.7zM1094 1981h1.7v1.7h-1.7zM1096 1986h1.7v1.7h-1.7zM1097 1984h1.7v1.7h-1.7zM1088 1981h1.7v1.7h-1.7zM1092 1980h1.7v1.7h-1.7zM1087 1977h1.7v1.7h-1.7zM1089 1976h1.7v1.7h-1.7zM1078 1976h1.7v1.7h-1.7zM1079 1975h1.7v1.7h-1.7zM1074 1970h1.7v1.7h-1.7zM1083 1973h1.7v1.7h-1.7zM1079 1970h1.7v1.7h-1.7zM1064 1957h1.7v1.7h-1.7zM1072 1965h1.7v1.7h-1.7zM1074 1969h1.7v1.7h-1.7zM1064 1962h1.7v1.7h-1.7zM1069 1965h1.7v1.7h-1.7zM376 1963h1.7v1.7h-1.7zM386 1965h1.7v1.7h-1.7zM378 1953h1.7v1.7h-1.7zM384 1970h1.7v1.7h-1.7zM385 1969h1.7v1.7h-1.7zM383 1966h1.7v1.7h-1.7zM379 1947h1.7v1.7h-1.7zM380 1978h1.7v1.7h-1.7zM377 1955h1.7v1.7h-1.7zM378 1963h1.7v1.7h-1.7zM383 1980h1.7v1.7h-1.7zM383 1958h1.7v1.7h-1.7zM387 1938h1.7v1.7h-1.7zM376 1971h1.7v1.7h-1.7zM386 1967h1.7v1.7h-1.7zM378 1972h1.7v1.7h-1.7zM378 1979h1.7v1.7h-1.7zM384 1955h1.7v1.7h-1.7zM385 1943h1.7v1.7h-1.7zM377 1936h1.7v1.7h-1.7zM380 1938h1.7v1.7h-1.7zM376 1949h1.7v1.7h-1.7zM381 1972h1.7v1.7h-1.7zM380 1982h1.7v1.7h-1.7zM376 1967h1.7v1.7h-1.7z" fill="#00A5FF"/>
<path d="M403 1980h1.7v1.7h-1.7zM404 1976h1.7v1.7h-1.7zM410 1977h1.7v1.7h-1.7zM414 1972h1.7v1.7h-1.7zM417 1977h1.7v1.7h-1.7zM420 1979h1.7v1.7h-1.7zM418 1980h1.7v1.7h-1.7zM414 1974h1.7v1.7h-1.7zM420 1978h1.7v1.7h-1.7zM419 1989h1.7v1.7h-1.7zM419 2000h1.7v1.7h-1.7zM418 1998h1.7v1.7h-1.7zM421 1995h1.7v1.7h-1.7zM422 2001h1.7v1.7h-1.7zM420 1994h1.7v1.7h-1.7zM422 1993h1.7v1.7h-1.7zM414 1996h1.7v1.7h-1.7zM406 1997h1.7v1.7h-1.7zM405 1993h1.7v1.7h-1.7zM405 1987h1.7v1.7h-1.7zM404 1993h1.7v1.7h-1.7zM404 1986h1.7v1.7h-1.7zM405 1992h1.7v1.7h-1.7zM401 1982h1.7v1.7h-1.7zM405 1983h1.7v1.7h-1.7zM405 1998h1.7v1.7h-1.7zM427 1990h1.7v1.7h-1.7zM424 1994h1.7v1.7h-1.7zM417 1992h1.7v1.7h-1.7zM431 1990h1.7v1.7h-1.7zM427 1993h1.7v1.7h-1.7zM414 1993h1.7v1.7h-1.7zM427 1990h1.7v1.7h-1.7zM432 1991h1.7v1.7h-1.7zM435 2002h1.7v1.7h-1.7zM435 2001h1.7v1.7h-1.7zM441 2000h1.7v1.7h-1.7zM436 2009h1.7v1.7h-1.7zM435 1997h1.7v1.7h-1.7zM433 1993h1.7v1.7h-1.7zM438 2007h1.7v1.7h-1.7zM437 2011h1.7v1.7h-1.7zM437 2013h1.7v1.7h-1.7zM436 2008h1.7v1.7h-1.7zM435 2021h1.7v1.7h-1.7zM435 2017h1.7v1.7h-1.7zM439 2015h1.7v1.7h-1.7zM417 2025h1.7v1.7h-1.7zM426 2023h1.7v1.7h-1.7zM432 2021h1.7v1.7h-1.7zM426 2025h1.7v1.7h-1.7zM433 2024h1.7v1.7h-1.7zM429 2022h1.7v1.7h-1.7zM427 2024h1.7v1.7h-1.7zM424 2023h1.7v1.7h-1.7zM408 2028h1.7v1.7h-1.7zM416 2025h1.7v1.7h-1.7zM408 2023h1.7v1.7h-1.7zM404 2026h1.7v1.7h-1.7zM415 2023h1.7v1.7h-1.7zM395 2036h1.7v1.7h-1.7zM405 2027h1.7v1.7h-1.7zM389 2035h1.7v1.7h-1.7zM403 2027h1.7v1.7h-1.7zM403 2031h1.7v1.7h-1.7zM397 2030h1.7v1.7h-1.7zM394 2035h1.7v1.7h-1.7zM386 2033h1.7v1.7h-1.7zM387 2034h1.7v1.7h-1.7zM384 2036h1.7v1.7h-1.7zM385 2036h1.7v1.7h-1.7zM390 2037h1.7v1.7h-1.7zM382 2024h1.7v1.7h-1.7zM382 2030h1.7v1.7h-1.7zM381 2028h1.7v1.7h-1.7zM385 2022h1.7v1.7h-1.7zM383 2026h1.7v1.7h-1.7zM386 2024h1.7v1.7h-1.7zM397 2016h1.7v1.7h-1.7zM397 2014h1.7v1.7h-1.7zM393 2015h1.7v1.7h-1.7zM390 2019h1.7v1.7h-1.7zM393 2016h1.7v1.7h-1.7zM401 2014h1.7v1.7h-1.7zM403 2017h1.7v1.7h-1.7zM411 1996h1.7v1.7h-1.7zM412 1993h1.7v1.7h-1.7zM405 2010h1.7v1.7h-1.7zM406 1998h1.7v1.7h-1.7zM414 1999h1.7v1.7h-1.7zM411 1997h1.7v1.7h-1.7zM409 1998h1.7v1.7h-1.7zM414 1991h1.7v1.7h-1.7zM409 1997h1.7v1.7h-1.7zM883 1930h1.7v1.7h-1.7zM883 1929h1.7v1.7h-1.7zM885 1928h1.7v1.7h-1.7zM889 1929h1.7v1.7h-1.7zM894 1926h1.7v1.7h-1.7zM897 1926h1.7v1.7h-1.7zM896 1925h1.7v1.7h-1.7zM890 1928h1.7v1.7h-1.7zM904 1916h1.7v1.7h-1.7zM902 1915h1.7v1.7h-1.7zM899 1922h1.7v1.7h-1.7zM899 1923h1.7v1.7h-1.7zM901 1919h1.7v1.7h-1.7zM910 1908h1.7v1.7h-1.7zM906 1914h1.7v1.7h-1.7zM911 1910h1.7v1.7h-1.7zM919 1907h1.7v1.7h-1.7zM918 1909h1.7v1.7h-1.7zM908 1909h1.7v1.7h-1.7zM920 1911h1.7v1.7h-1.7zM919 1920h1.7v1.7h-1.7zM919 1918h1.7v1.7h-1.7zM920 1911h1.7v1.7h-1.7zM919 1911h1.7v1.7h-1.7zM918 1921h1.7v1.7h-1.7zM919 1926h1.7v1.7h-1.7zM920 1930h1.7v1.7h-1.7zM921 1930h1.7v1.7h-1.7zM919 1950h1.7v1.7h-1.7zM920 1935h1.7v1.7h-1.7zM920 1934h1.7v1.7h-1.7zM919 1944h1.7v1.7h-1.7zM920 1948h1.7v1.7h-1.7zM919 1945h1.7v1.7h-1.7zM921 1959h1.7v1.7h-1.7zM921 1959h1.7v1.7h-1.7zM916 1956h1.7v1.7h-1.7zM917 1955h1.7v1.7h-1.7zM919 1965h1.7v1.7h-1.7zM919 1965h1.7v1.7h-1.7zM922 1961h1.7v1.7h-1.7zM913 1965h1.7v1.7h-1.7zM913 1963h1.7v1.7h-1.7zM915 1966h1.7v1.7h-1.7zM903 1958h1.7v1.7h-1.7zM908 1960h1.7v1.7h-1.7zM905 1960h1.7v1.7h-1.7zM898 1956h1.7v1.7h-1.7zM900 1949h1.7v1.7h-1.7zM899 1955h1.7v1.7h-1.7zM894 1949h1.7v1.7h-1.7zM895 1945h1.7v1.7h-1.7zM893 1944h1.7v1.7h-1.7zM891 1946h1.7v1.7h-1.7zM893 1944h1.7v1.7h-1.7zM886 1940h1.7v1.7h-1.7zM889 1943h1.7v1.7h-1.7zM886 1937h1.7v1.7h-1.7zM882 1931h1.7v1.7h-1.7zM879 1934h1.7v1.7h-1.7zM882 1937h1.7v1.7h-1.7zM407 2023h1.7v1.7h-1.7zM411 2017h1.7v1.7h-1.7zM396 2032h1.7v1.7h-1.7zM391 2038h1.7v1.7h-1.7zM379 2014h1.7v1.7h-1.7zM381 2027h1.7v1.7h-1.7zM379 2010h1.7v1.7h-1.7zM379 2034h1.7v1.7h-1.7zM411 2037h1.7v1.7h-1.7zM398 2017h1.7v1.7h-1.7zM408 2032h1.7v1.7h-1.7zM387 2018h1.7v1.7h-1.7zM381 2026h1.7v1.7h-1.7zM405 2017h1.7v1.7h-1.7zM387 2018h1.7v1.7h-1.7zM394 2040h1.7v1.7h-1.7zM404 2011h1.7v1.7h-1.7zM380 2024h1.7v1.7h-1.7zM387 2011h1.7v1.7h-1.7zM384 2020h1.7v1.7h-1.7zM400 2026h1.7v1.7h-1.7zM399 2024h1.7v1.7h-1.7zM402 2011h1.7v1.7h-1.7zM378 2008h1.7v1.7h-1.7zM377 2011h1.7v1.7h-1.7zM388 2039h1.7v1.7h-1.7zM389 2033h1.7v1.7h-1.7zM386 2012h1.7v1.7h-1.7zM413 2036h1.7v1.7h-1.7zM398 2023h1.7v1.7h-1.7zM408 2021h1.7v1.7h-1.7zM411 2014h1.7v1.7h-1.7zM402 2009h1.7v1.7h-1.7zM411 2022h1.7v1.7h-1.7zM409 2013h1.7v1.7h-1.7zM395 2021h1.7v1.7h-1.7zM397 2025h1.7v1.7h-1.7zM402 2033h1.7v1.7h-1.7zM403 2017h1.7v1.7h-1.7zM383 2022h1.7v1.7h-1.7z" fill="#00BF74"/>
<path d="M255 2110h1.7v1.7h-1.7zM260 2113h1.7v1.7h-1.7zM275 2104h1.7v1.7h-1.7zM272 2103h1.7v1.7h-1.7zM268 2104h1.7v1.7h-1.7zM260 2112h1.7v1.7h-1.7zM276 2103h1.7v1.7h-1.7zM263 2109h1.7v1.7h-1.7zM284 2108h1.7v1.7h-1.7zM280 2107h1.7v1.7h-1.7zM281 2108h1.7v1.7h-1.7zM278 2105h1.7v1.7h-1.7zM281 2104h1.7v1.7h-1.7zM287 2108h1.7v1.7h-1.7zM288 2116h1.7v1.7h-1.7zM288 2110h1.7v1.7h-1.7zM287 2108h1.7v1.7h-1.7zM288 2115h1.7v1.7h-1.7zM279 2126h1.7v1.7h-1.7zM285 2121h1.7v1.7h-1.7zM288 2118h1.7v1.7h-1.7zM286 2123h1.7v1.7h-1.7zM277 2127h1.7v1.7h-1.7zM284 2123h1.7v1.7h-1.7zM276 2125h1.7v1.7h-1.7zM274 2127h1.7v1.7h-1.7zM275 2127h1.7v1.7h-1.7zM276 2124h1.7v1.7h-1.7zM261 2131h1.7v1.7h-1.7zM273 2123h1.7v1.7h-1.7zM274 2129h1.7v1.7h-1.7zM257 2109h1.7v1.7h-1.7zM259 2121h1.7v1.7h-1.7zM261 2123h1.7v1.7h-1.7zM261 2125h1.7v1.7h-1.7zM261 2123h1.7v1.7h-1.7zM257 2118h1.7v1.7h-1.7zM254 2114h1.7v1.7h-1.7zM1095 2256h1.7v1.7h-1.7zM1096 2257h1.7v1.7h-1.7zM1103 2259h1.7v1.7h-1.7zM1104 2259h1.7v1.7h-1.7zM1091 2256h1.7v1.7h-1.7zM1107 2269h1.7v1.7h-1.7zM1106 2266h1.7v1.7h-1.7zM1112 2266h1.7v1.7h-1.7zM1111 2271h1.7v1.7h-1.7zM1110 2272h1.7v1.7h-1.7zM1109 2271h1.7v1.7h-1.7zM1110 2271h1.7v1.7h-1.7zM1107 2290h1.7v1.7h-1.7zM1109 2276h1.7v1.7h-1.7zM1106 2280h1.7v1.7h-1.7zM1109 2276h1.7v1.7h-1.7zM1109 2277h1.7v1.7h-1.7zM1110 2281h1.7v1.7h-1.7zM1101 2292h1.7v1.7h-1.7zM1102 2288h1.7v1.7h-1.7zM1105 2289h1.7v1.7h-1.7zM1098 2284h1.7v1.7h-1.7zM1094 2273h1.7v1.7h-1.7zM1097 2283h1.7v1.7h-1.7zM1097 2277h1.7v1.7h-1.7zM1095 2278h1.7v1.7h-1.7zM1098 2284h1.7v1.7h-1.7zM1094 2272h1.7v1.7h-1.7zM1093 2264h1.7v1.7h-1.7zM1096 2258h1.7v1.7h-1.7zM1096 2266h1.7v1.7h-1.7zM1096 2264h1.7v1.7h-1.7zM1093 2266h1.7v1.7h-1.7zM1095 2261h1.7v1.7h-1.7z" fill="#FD6F86"/>
<path d="M231 2134h1.7v1.7h-1.7zM234 2129h1.7v1.7h-1.7zM237 2134h1.7v1.7h-1.7zM237 2135h1.7v1.7h-1.7zM241 2132h1.7v1.7h-1.7zM240 2132h1.7v1.7h-1.7zM257 2136h1.7v1.7h-1.7zM253 2135h1.7v1.7h-1.7zM247 2135h1.7v1.7h-1.7zM247 2133h1.7v1.7h-1.7zM252 2135h1.7v1.7h-1.7zM250 2134h1.7v1.7h-1.7zM258 2140h1.7v1.7h-1.7zM254 2145h1.7v1.7h-1.7zM255 2145h1.7v1.7h-1.7zM254 2145h1.7v1.7h-1.7zM254 2143h1.7v1.7h-1.7zM241 2153h1.7v1.7h-1.7zM242 2149h1.7v1.7h-1.7zM248 2149h1.7v1.7h-1.7zM252 2147h1.7v1.7h-1.7zM248 2152h1.7v1.7h-1.7zM252 2150h1.7v1.7h-1.7zM247 2148h1.7v1.7h-1.7zM230 2146h1.7v1.7h-1.7zM237 2150h1.7v1.7h-1.7zM233 2146h1.7v1.7h-1.7zM236 2149h1.7v1.7h-1.7zM231 2138h1.7v1.7h-1.7zM233 2142h1.7v1.7h-1.7zM232 2140h1.7v1.7h-1.7zM232 2141h1.7v1.7h-1.7zM226 2139h1.7v1.7h-1.7z" fill="#D39200"/>
<path d="M266 2150h1.7v1.7h-1.7zM268 2150h1.7v1.7h-1.7zM266 2154h1.7v1.7h-1.7zM278 2158h1.7v1.7h-1.7zM275 2154h1.7v1.7h-1.7zM275 2157h1.7v1.7h-1.7zM274 2159h1.7v1.7h-1.7zM277 2159h1.7v1.7h-1.7zM274 2159h1.7v1.7h-1.7zM271 2162h1.7v1.7h-1.7zM275 2159h1.7v1.7h-1.7zM265 2150h1.7v1.7h-1.7zM267 2158h1.7v1.7h-1.7zM263 2150h1.7v1.7h-1.7zM268 2155h1.7v1.7h-1.7zM266 2150h1.7v1.7h-1.7zM538 2003h1.7v1.7h-1.7zM535 2003h1.7v1.7h-1.7zM534 2005h1.7v1.7h-1.7zM535 2008h1.7v1.7h-1.7zM537 2004h1.7v1.7h-1.7zM539 1997h1.7v1.7h-1.7zM537 2000h1.7v1.7h-1.7zM548 1999h1.7v1.7h-1.7zM548 2000h1.7v1.7h-1.7zM547 2001h1.7v1.7h-1.7zM547 2006h1.7v1.7h-1.7zM549 2002h1.7v1.7h-1.7zM550 2008h1.7v1.7h-1.7zM549 2012h1.7v1.7h-1.7zM549 2008h1.7v1.7h-1.7zM547 2013h1.7v1.7h-1.7zM540 2016h1.7v1.7h-1.7zM547 2013h1.7v1.7h-1.7zM545 2014h1.7v1.7h-1.7zM540 2016h1.7v1.7h-1.7zM535 2016h1.7v1.7h-1.7zM539 2014h1.7v1.7h-1.7zM532 2010h1.7v1.7h-1.7zM532 2010h1.7v1.7h-1.7zM204 2110h1.7v1.7h-1.7zM201 2107h1.7v1.7h-1.7zM204 2115h1.7v1.7h-1.7zM204 2116h1.7v1.7h-1.7zM207 2111h1.7v1.7h-1.7zM207 2123h1.7v1.7h-1.7zM207 2125h1.7v1.7h-1.7zM207 2114h1.7v1.7h-1.7zM204 2108h1.7v1.7h-1.7zM208 2137h1.7v1.7h-1.7zM203 2143h1.7v1.7h-1.7zM206 2130h1.7v1.7h-1.7zM205 2137h1.7v1.7h-1.7zM208 2139h1.7v1.7h-1.7zM204 2138h1.7v1.7h-1.7zM203 2139h1.7v1.7h-1.7zM201 2126h1.7v1.7h-1.7zM202 2135h1.7v1.7h-1.7zM203 2136h1.7v1.7h-1.7zM200 2133h1.7v1.7h-1.7zM202 2130h1.7v1.7h-1.7zM203 2132h1.7v1.7h-1.7zM199 2122h1.7v1.7h-1.7zM202 2119h1.7v1.7h-1.7zM200 2113h1.7v1.7h-1.7zM200 2108h1.7v1.7h-1.7zM203 2120h1.7v1.7h-1.7zM201 2115h1.7v1.7h-1.7zM351 1860h1.7v1.7h-1.7zM338 1866h1.7v1.7h-1.7zM339 1861h1.7v1.7h-1.7zM341 1855h1.7v1.7h-1.7zM348 1853h1.7v1.7h-1.7zM337 1869h1.7v1.7h-1.7zM344 1862h1.7v1.7h-1.7zM329 1858h1.7v1.7h-1.7zM328 1859h1.7v1.7h-1.7zM328 1871h1.7v1.7h-1.7zM344 1868h1.7v1.7h-1.7zM347 1860h1.7v1.7h-1.7zM410 1840h1.7v1.7h-1.7zM413 1823h1.7v1.7h-1.7zM396 1845h1.7v1.7h-1.7zM394 1830h1.7v1.7h-1.7zM404 1824h1.7v1.7h-1.7zM401 1830h1.7v1.7h-1.7zM400 1823h1.7v1.7h-1.7zM400 1843h1.7v1.7h-1.7zM414 1832h1.7v1.7h-1.7zM409 1830h1.7v1.7h-1.7zM392 1827h1.7v1.7h-1.7zM393 1841h1.7v1.7h-1.7zM414 1839h1.7v1.7h-1.7zM399 1820h1.7v1.7h-1.7zM389 1822h1.7v1.7h-1.7zM389 1822h1.7v1.7h-1.7zM414 1832h1.7v1.7h-1.7zM408 1836h1.7v1.7h-1.7zM405 1833h1.7v1.7h-1.7zM408 1823h1.7v1.7h-1.7zM215 2124h1.7v1.7h-1.7zM208 2116h1.7v1.7h-1.7zM184 2064h1.7v1.7h-1.7zM197 2146h1.7v1.7h-1.7zM207 2075h1.7v1.7h-1.7zM209 2071h1.7v1.7h-1.7zM209 2130h1.7v1.7h-1.7zM196 2077h1.7v1.7h-1.7zM192 2155h1.7v1.7h-1.7zM203 2145h1.7v1.7h-1.7zM198 2134h1.7v1.7h-1.7zM187 2122h1.7v1.7h-1.7zM188 2061h1.7v1.7h-1.7zM215 2129h1.7v1.7h-1.7zM202 2073h1.7v1.7h-1.7zM196 2162h1.7v1.7h-1.7zM208 2130h1.7v1.7h-1.7zM206 2139h1.7v1.7h-1.7zM207 2111h1.7v1.7h-1.7zM195 2087h1.7v1.7h-1.7zM189 2100h1.7v1.7h-1.7zM192 2111h1.7v1.7h-1.7zM196 2081h1.7v1.7h-1.7zM207 2154h1.7v1.7h-1.7zM197 2079h1.7v1.7h-1.7zM202 2138h1.7v1.7h-1.7zM190 2088h1.7v1.7h-1.7zM203 2079h1.7v1.7h-1.7zM193 2150h1.7v1.7h-1.7zM216 2086h1.7v1.7h-1.7zM205 2111h1.7v1.7h-1.7zM202 2107h1.7v1.7h-1.7zM215 2150h1.7v1.7h-1.7zM193 2161h1.7v1.7h-1.7zM203 2136h1.7v1.7h-1.7zM193 2151h1.7v1.7h-1.7zM193 2063h1.7v1.7h-1.7zM198 2148h1.7v1.7h-1.7zM209 2083h1.7v1.7h-1.7zM200 2127h1.7v1.7h-1.7zM185 2080h1.7v1.7h-1.7zM208 2115h1.7v1.7h-1.7zM188 2113h1.7v1.7h-1.7zM210 2139h1.7v1.7h-1.7zM216 2107h1.7v1.7h-1.7zM201 2105h1.7v1.7h-1.7zM203 2110h1.7v1.7h-1.7zM207 2171h1.7v1.7h-1.7zM185 2110h1.7v1.7h-1.7zM215 2124h1.7v1.7h-1.7zM207 2166h1.7v1.7h-1.7zM201 2127h1.7v1.7h-1.7zM196 2115h1.7v1.7h-1.7zM194 2122h1.7v1.7h-1.7zM199 2119h1.7v1.7h-1.7zM196 2083h1.7v1.7h-1.7zM203 2122h1.7v1.7h-1.7zM186 2114h1.7v1.7h-1.7zM205 2161h1.7v1.7h-1.7zM212 2140h1.7v1.7h-1.7zM208 2116h1.7v1.7h-1.7zM204 2139h1.7v1.7h-1.7zM209 2160h1.7v1.7h-1.7zM188 2126h1.7v1.7h-1.7zM189 2111h1.7v1.7h-1.7zM214 2118h1.7v1.7h-1.7zM199 2080h1.7v1.7h-1.7zM209 2141h1.7v1.7h-1.7zM212 2084h1.7v1.7h-1.7zM213 2091h1.7v1.7h-1.7zM201 2154h1.7v1.7h-1.7zM204 2165h1.7v1.7h-1.7zM214 2148h1.7v1.7h-1.7zM189 2105h1.7v1.7h-1.7zM189 2127h1.7v1.7h-1.7zM191 2124h1.7v1.7h-1.7zM192 2109h1.7v1.7h-1.7zM208 2087h1.7v1.7h-1.7zM214 2149h1.7v1.7h-1.7zM189 2144h1.7v1.7h-1.7zM210 2090h1.7v1.7h-1.7zM196 2087h1.7v1.7h-1.7zM193 2160h1.7v1.7h-1.7zM214 2137h1.7v1.7h-1.7zM200 2066h1.7v1.7h-1.7zM186 2078h1.7v1.7h-1.7zM203 2129h1.7v1.7h-1.7zM194 2071h1.7v1.7h-1.7zM205 2113h1.7v1.7h-1.7zM196 2111h1.7v1.7h-1.7zM200 2083h1.7v1.7h-1.7zM193 2132h1.7v1.7h-1.7zM190 2100h1.7v1.7h-1.7zM215 2160h1.7v1.7h-1.7zM207 2134h1.7v1.7h-1.7zM191 2109h1.7v1.7h-1.7zM203 2151h1.7v1.7h-1.7zM203 2068h1.7v1.7h-1.7zM213 2109h1.7v1.7h-1.7zM187 2127h1.7v1.7h-1.7zM205 2166h1.7v1.7h-1.7zM193 2101h1.7v1.7h-1.7zM206 2123h1.7v1.7h-1.7zM192 2163h1.7v1.7h-1.7zM203 2170h1.7v1.7h-1.7zM187 2096h1.7v1.7h-1.7zM215 2104h1.7v1.7h-1.7zM215 2144h1.7v1.7h-1.7zM213 2152h1.7v1.7h-1.7zM184 2083h1.7v1.7h-1.7zM200 2110h1.7v1.7h-1.7zM214 2168h1.7v1.7h-1.7zM197 2125h1.7v1.7h-1.7zM194 2158h1.7v1.7h-1.7zM192 2104h1.7v1.7h-1.7zM215 2090h1.7v1.7h-1.7zM188 2121h1.7v1.7h-1.7zM207 2154h1.7v1.7h-1.7zM193 2094h1.7v1.7h-1.7zM194 2168h1.7v1.7h-1.7zM233 2338h1.7v1.7h-1.7zM232 2322h1.7v1.7h-1.7zM239 2332h1.7v1.7h-1.7zM233 2324h1.7v1.7h-1.7zM240 2339h1.7v1.7h-1.7zM236 2327h1.7v1.7h-1.7zM237 2324h1.7v1.7h-1.7zM237 2334h1.7v1.7h-1.7zM235 2325h1.7v1.7h-1.7zM230 2340h1.7v1.7h-1.7zM234 2343h1.7v1.7h-1.7zM240 2332h1.7v1.7h-1.7zM238 2326h1.7v1.7h-1.7zM243 2335h1.7v1.7h-1.7zM239 2323h1.7v1.7h-1.7zM232 2335h1.7v1.7h-1.7zM232 2327h1.7v1.7h-1.7zM234 2341h1.7v1.7h-1.7zM231 2332h1.7v1.7h-1.7zM243 2334h1.7v1.7h-1.7zM462 2265h1.7v1.7h-1.7zM462 2268h1.7v1.7h-1.7zM459 2294h1.7v1.7h-1.7zM471 2266h1.7v1.7h-1.7zM476 2294h1.7v1.7h-1.7zM451 2244h1.7v1.7h-1.7zM466 2285h1.7v1.7h-1.7zM485 2290h1.7v1.7h-1.7zM466 2251h1.7v1.7h-1.7zM459 2250h1.7v1.7h-1.7zM451 2255h1.7v1.7h-1.7zM472 2306h1.7v1.7h-1.7zM485 2258h1.7v1.7h-1.7zM474 2286h1.7v1.7h-1.7zM470 2253h1.7v1.7h-1.7zM472 2253h1.7v1.7h-1.7zM466 2272h1.7v1.7h-1.7zM472 2263h1.7v1.7h-1.7zM478 2256h1.7v1.7h-1.7zM467 2258h1.7v1.7h-1.7zM456 2300h1.7v1.7h-1.7zM451 2299h1.7v1.7h-1.7zM442 2251h1.7v1.7h-1.7zM436 2253h1.7v1.7h-1.7zM460 2237h1.7v1.7h-1.7zM449 2263h1.7v1.7h-1.7zM473 2270h1.7v1.7h-1.7zM471 2291h1.7v1.7h-1.7zM459 2280h1.7v1.7h-1.7zM463 2241h1.7v1.7h-1.7zM1231 1911h1.7v1.7h-1.7zM1252 1924h1.7v1.7h-1.7zM1239 1884h1.7v1.7h-1.7zM1236 1884h1.7v1.7h-1.7zM1239 1917h1.7v1.7h-1.7zM1234 1906h1.7v1.7h-1.7zM1252 1921h1.7v1.7h-1.7zM1241 1911h1.7v1.7h-1.7zM1233 1897h1.7v1.7h-1.7zM1248 1921h1.7v1.7h-1.7zM1234 1894h1.7v1.7h-1.7zM1239 1878h1.7v1.7h-1.7zM1230 1911h1.7v1.7h-1.7zM1237 1901h1.7v1.7h-1.7zM1237 1904h1.7v1.7h-1.7zM1234 1883h1.7v1.7h-1.7zM1233 1886h1.7v1.7h-1.7zM1245 1903h1.7v1.7h-1.7zM1238 1901h1.7v1.7h-1.7zM1247 1915h1.7v1.7h-1.7zM1252 1918h1.7v1.7h-1.7zM1241 1913h1.7v1.7h-1.7zM1225 1887h1.7v1.7h-1.7zM1250 1908h1.7v1.7h-1.7zM1243 1922h1.7v1.7h-1.7zM1246 1920h1.7v1.7h-1.7zM1235 1900h1.7v1.7h-1.7zM1250 1904h1.7v1.7h-1.7zM1225 1889h1.7v1.7h-1.7zM1233 1879h1.7v1.7h-1.7zM1239 1890h1.7v1.7h-1.7zM1233 1887h1.7v1.7h-1.7zM1231 1896h1.7v1.7h-1.7zM1243 1880h1.7v1.7h-1.7zM1246 1899h1.7v1.7h-1.7zM1251 1917h1.7v1.7h-1.7zM1237 1892h1.7v1.7h-1.7zM1238 1912h1.7v1.7h-1.7zM1242 1890h1.7v1.7h-1.7zM1237 1877h1.7v1.7h-1.7zM1067 1854h1.7v1.7h-1.7zM1055 1844h1.7v1.7h-1.7zM1051 1845h1.7v1.7h-1.7zM1059 1850h1.7v1.7h-1.7zM1053 1847h1.7v1.7h-1.7zM1058 1837h1.7v1.7h-1.7zM1063 1851h1.7v1.7h-1.7zM1070 1847h1.7v1.7h-1.7zM1066 1846h1.7v1.7h-1.7zM1059 1841h1.7v1.7h-1.7zM1063 1851h1.7v1.7h-1.7zM1057 1844h1.7v1.7h-1.7zM1059 1850h1.7v1.7h-1.7zM1061 1839h1.7v1.7h-1.7zM1071 1854h1.7v1.7h-1.7zM1052 1847h1.7v1.7h-1.7zM1072 1853h1.7v1.7h-1.7zM1054 1841h1.7v1.7h-1.7zM1064 1846h1.7v1.7h-1.7zM1064 1840h1.7v1.7h-1.7zM1054 1851h1.7v1.7h-1.7zM1062 1842h1.7v1.7h-1.7zM1051 1843h1.7v1.7h-1.7zM1063 1852h1.7v1.7h-1.7zM1056 1844h1.7v1.7h-1.7zM816 2017h1.7v1.7h-1.7zM816 2024h1.7v1.7h-1.7zM823 2028h1.7v1.7h-1.7zM815 2020h1.7v1.7h-1.7zM818 2020h1.7v1.7h-1.7zM827 2020h1.7v1.7h-1.7zM826 2029h1.7v1.7h-1.7zM824 2021h1.7v1.7h-1.7zM824 2031h1.7v1.7h-1.7zM826 2020h1.7v1.7h-1.7zM821 2028h1.7v1.7h-1.7zM820 2012h1.7v1.7h-1.7zM822 2026h1.7v1.7h-1.7zM826 2031h1.7v1.7h-1.7zM820 2033h1.7v1.7h-1.7zM974 2294h1.7v1.7h-1.7zM985 2290h1.7v1.7h-1.7zM1000 2325h1.7v1.7h-1.7zM996 2277h1.7v1.7h-1.7zM1007 2327h1.7v1.7h-1.7zM980 2321h1.7v1.7h-1.7zM996 2326h1.7v1.7h-1.7zM1012 2271h1.7v1.7h-1.7zM985 2303h1.7v1.7h-1.7zM1006 2329h1.7v1.7h-1.7zM983 2315h1.7v1.7h-1.7zM990 2286h1.7v1.7h-1.7zM988 2289h1.7v1.7h-1.7zM1010 2306h1.7v1.7h-1.7zM970 2302h1.7v1.7h-1.7zM970 2268h1.7v1.7h-1.7zM970 2282h1.7v1.7h-1.7zM996 2309h1.7v1.7h-1.7zM1017 2310h1.7v1.7h-1.7zM1001 2321h1.7v1.7h-1.7zM966 2271h1.7v1.7h-1.7zM989 2309h1.7v1.7h-1.7zM1002 2312h1.7v1.7h-1.7zM981 2295h1.7v1.7h-1.7zM975 2286h1.7v1.7h-1.7zM1003 2308h1.7v1.7h-1.7zM998 2276h1.7v1.7h-1.7zM982 2274h1.7v1.7h-1.7zM1015 2283h1.7v1.7h-1.7zM973 2266h1.7v1.7h-1.7zM988 2268h1.7v1.7h-1.7zM969 2296h1.7v1.7h-1.7zM977 2312h1.7v1.7h-1.7zM1011 2301h1.7v1.7h-1.7zM975 2286h1.7v1.7h-1.7zM989 2318h1.7v1.7h-1.7zM984 2273h1.7v1.7h-1.7zM1007 2303h1.7v1.7h-1.7zM1007 2321h1.7v1.7h-1.7zM986 2309h1.7v1.7h-1.7zM971 2286h1.7v1.7h-1.7zM967 2274h1.7v1.7h-1.7zM989 2316h1.7v1.7h-1.7zM987 2320h1.7v1.7h-1.7zM972 2279h1.7v1.7h-1.7zM1004 2288h1.7v1.7h-1.7zM987 2303h1.7v1.7h-1.7zM1013 2328h1.7v1.7h-1.7zM971 2288h1.7v1.7h-1.7zM977 2287h1.7v1.7h-1.7zM1018 2290h1.7v1.7h-1.7zM976 2265h1.7v1.7h-1.7zM1019 2310h1.7v1.7h-1.7zM1006 2304h1.7v1.7h-1.7zM978 2265h1.7v1.7h-1.7zM1000 2276h1.7v1.7h-1.7zM983 2280h1.7v1.7h-1.7zM969 2309h1.7v1.7h-1.7zM988 2286h1.7v1.7h-1.7zM974 2271h1.7v1.7h-1.7zM989 2308h1.7v1.7h-1.7zM989 2294h1.7v1.7h-1.7zM1006 2318h1.7v1.7h-1.7zM987 2289h1.7v1.7h-1.7zM1011 2318h1.7v1.7h-1.7zM1007 2272h1.7v1.7h-1.7zM995 2308h1.7v1.7h-1.7zM994 2301h1.7v1.7h-1.7zM977 2300h1.7v1.7h-1.7zM973 2264h1.7v1.7h-1.7zM1346 2147h1.7v1.7h-1.7zM1324 2120h1.7v1.7h-1.7zM1347 2199h1.7v1.7h-1.7zM1354 2121h1.7v1.7h-1.7zM1341 2197h1.7v1.7h-1.7zM1344 2104h1.7v1.7h-1.7zM1346 2100h1.7v1.7h-1.7zM1349 2173h1.7v1.7h-1.7zM1344 2127h1.7v1.7h-1.7zM1345 2139h1.7v1.7h-1.7zM1356 2114h1.7v1.7h-1.7zM1340 2133h1.7v1.7h-1.7zM1348 2131h1.7v1.7h-1.7zM1341 2176h1.7v1.7h-1.7zM1334 2196h1.7v1.7h-1.7zM1349 2181h1.7v1.7h-1.7zM1348 2215h1.7v1.7h-1.7zM1346 2197h1.7v1.7h-1.7zM1330 2105h1.7v1.7h-1.7zM1335 2170h1.7v1.7h-1.7zM1322 2161h1.7v1.7h-1.7zM1337 2202h1.7v1.7h-1.7zM1341 2162h1.7v1.7h-1.7zM1347 2222h1.7v1.7h-1.7zM1343 2114h1.7v1.7h-1.7zM1353 2147h1.7v1.7h-1.7zM1353 2232h1.7v1.7h-1.7zM1337 2146h1.7v1.7h-1.7zM1340 2123h1.7v1.7h-1.7zM1332 2199h1.7v1.7h-1.7z" fill="#EA6AF1"/>
<path d="M454 2085h1.7v1.7h-1.7zM450 2087h1.7v1.7h-1.7zM455 2089h1.7v1.7h-1.7zM453 2088h1.7v1.7h-1.7zM454 2097h1.7v1.7h-1.7zM455 2093h1.7v1.7h-1.7zM457 2096h1.7v1.7h-1.7zM458 2100h1.7v1.7h-1.7zM452 2112h1.7v1.7h-1.7zM454 2113h1.7v1.7h-1.7zM455 2109h1.7v1.7h-1.7zM453 2113h1.7v1.7h-1.7zM455 2113h1.7v1.7h-1.7zM456 2111h1.7v1.7h-1.7zM456 2116h1.7v1.7h-1.7zM454 2114h1.7v1.7h-1.7zM448 2108h1.7v1.7h-1.7zM450 2106h1.7v1.7h-1.7zM448 2105h1.7v1.7h-1.7zM447 2103h1.7v1.7h-1.7zM448 2103h1.7v1.7h-1.7zM447 2099h1.7v1.7h-1.7zM450 2088h1.7v1.7h-1.7zM448 2094h1.7v1.7h-1.7zM448 2091h1.7v1.7h-1.7zM448 2088h1.7v1.7h-1.7zM450 2094h1.7v1.7h-1.7zM449 2085h1.7v1.7h-1.7zM435 2220h1.7v1.7h-1.7zM438 2219h1.7v1.7h-1.7zM437 2221h1.7v1.7h-1.7zM435 2222h1.7v1.7h-1.7zM434 2223h1.7v1.7h-1.7zM440 2219h1.7v1.7h-1.7zM440 2219h1.7v1.7h-1.7zM437 2226h1.7v1.7h-1.7zM438 2221h1.7v1.7h-1.7zM436 2223h1.7v1.7h-1.7zM441 2220h1.7v1.7h-1.7zM439 2228h1.7v1.7h-1.7zM438 2221h1.7v1.7h-1.7zM435 2231h1.7v1.7h-1.7zM430 2233h1.7v1.7h-1.7zM1060 1912h1.7v1.7h-1.7zM1064 1912h1.7v1.7h-1.7zM1063 1915h1.7v1.7h-1.7zM1083 1903h1.7v1.7h-1.7zM1060 1917h1.7v1.7h-1.7zM1083 1903h1.7v1.7h-1.7zM1074 1908h1.7v1.7h-1.7zM1063 1912h1.7v1.7h-1.7zM1070 1910h1.7v1.7h-1.7zM1073 1905h1.7v1.7h-1.7zM1090 1899h1.7v1.7h-1.7zM1060 1916h1.7v1.7h-1.7zM1080 1903h1.7v1.7h-1.7zM1080 1902h1.7v1.7h-1.7zM1063 1915h1.7v1.7h-1.7zM1080 1904h1.7v1.7h-1.7zM1060 1917h1.7v1.7h-1.7zM1061 1912h1.7v1.7h-1.7zM1062 1914h1.7v1.7h-1.7zM1073 1907h1.7v1.7h-1.7zM1087 1900h1.7v1.7h-1.7zM1076 1906h1.7v1.7h-1.7zM1063 1914h1.7v1.7h-1.7zM1061 1916h1.7v1.7h-1.7zM1070 1907h1.7v1.7h-1.7z" fill="#00ADFA"/>
<path d="M570 2228h1.7v1.7h-1.7zM574 2227h1.7v1.7h-1.7zM573 2224h1.7v1.7h-1.7zM577 2243h1.7v1.7h-1.7zM576 2226h1.7v1.7h-1.7zM576 2227h1.7v1.7h-1.7zM575 2229h1.7v1.7h-1.7zM580 2228h1.7v1.7h-1.7zM577 2239h1.7v1.7h-1.7zM580 2256h1.7v1.7h-1.7zM578 2231h1.7v1.7h-1.7zM575 2240h1.7v1.7h-1.7zM578 2231h1.7v1.7h-1.7zM577 2240h1.7v1.7h-1.7zM577 2241h1.7v1.7h-1.7zM580 2269h1.7v1.7h-1.7zM577 2269h1.7v1.7h-1.7zM578 2270h1.7v1.7h-1.7zM582 2281h1.7v1.7h-1.7zM581 2273h1.7v1.7h-1.7zM584 2275h1.7v1.7h-1.7zM579 2275h1.7v1.7h-1.7zM580 2260h1.7v1.7h-1.7zM581 2285h1.7v1.7h-1.7zM577 2257h1.7v1.7h-1.7zM579 2262h1.7v1.7h-1.7zM581 2283h1.7v1.7h-1.7zM579 2284h1.7v1.7h-1.7zM578 2282h1.7v1.7h-1.7zM573 2264h1.7v1.7h-1.7zM572 2262h1.7v1.7h-1.7zM571 2263h1.7v1.7h-1.7zM574 2258h1.7v1.7h-1.7zM574 2270h1.7v1.7h-1.7zM573 2275h1.7v1.7h-1.7zM575 2271h1.7v1.7h-1.7zM571 2257h1.7v1.7h-1.7zM572 2261h1.7v1.7h-1.7zM572 2267h1.7v1.7h-1.7zM568 2254h1.7v1.7h-1.7zM571 2244h1.7v1.7h-1.7zM570 2244h1.7v1.7h-1.7zM569 2232h1.7v1.7h-1.7zM570 2245h1.7v1.7h-1.7zM570 2244h1.7v1.7h-1.7zM574 2244h1.7v1.7h-1.7zM571 2249h1.7v1.7h-1.7zM572 2250h1.7v1.7h-1.7zM569 2248h1.7v1.7h-1.7zM573 2252h1.7v1.7h-1.7zM570 2247h1.7v1.7h-1.7zM572 2245h1.7v1.7h-1.7zM505 2340h1.7v1.7h-1.7zM509 2334h1.7v1.7h-1.7zM514 2335h1.7v1.7h-1.7zM511 2340h1.7v1.7h-1.7zM502 2340h1.7v1.7h-1.7zM514 2334h1.7v1.7h-1.7zM499 2343h1.7v1.7h-1.7zM504 2339h1.7v1.7h-1.7zM519 2330h1.7v1.7h-1.7zM533 2321h1.7v1.7h-1.7zM517 2331h1.7v1.7h-1.7zM528 2323h1.7v1.7h-1.7zM524 2327h1.7v1.7h-1.7zM535 2318h1.7v1.7h-1.7zM514 2332h1.7v1.7h-1.7zM519 2326h1.7v1.7h-1.7zM520 2328h1.7v1.7h-1.7zM526 2324h1.7v1.7h-1.7zM520 2330h1.7v1.7h-1.7zM514 2335h1.7v1.7h-1.7zM544 2313h1.7v1.7h-1.7zM544 2308h1.7v1.7h-1.7zM554 2299h1.7v1.7h-1.7zM549 2303h1.7v1.7h-1.7zM543 2310h1.7v1.7h-1.7zM544 2307h1.7v1.7h-1.7zM553 2302h1.7v1.7h-1.7zM537 2315h1.7v1.7h-1.7zM551 2301h1.7v1.7h-1.7zM543 2310h1.7v1.7h-1.7zM570 2298h1.7v1.7h-1.7zM564 2301h1.7v1.7h-1.7zM579 2301h1.7v1.7h-1.7zM576 2302h1.7v1.7h-1.7zM576 2301h1.7v1.7h-1.7zM564 2298h1.7v1.7h-1.7zM583 2304h1.7v1.7h-1.7zM557 2300h1.7v1.7h-1.7zM572 2302h1.7v1.7h-1.7zM598 2315h1.7v1.7h-1.7zM591 2309h1.7v1.7h-1.7zM591 2306h1.7v1.7h-1.7zM582 2305h1.7v1.7h-1.7zM584 2305h1.7v1.7h-1.7zM579 2304h1.7v1.7h-1.7zM586 2306h1.7v1.7h-1.7zM588 2305h1.7v1.7h-1.7zM580 2302h1.7v1.7h-1.7zM597 2310h1.7v1.7h-1.7zM583 2303h1.7v1.7h-1.7zM604 2317h1.7v1.7h-1.7zM600 2317h1.7v1.7h-1.7zM607 2320h1.7v1.7h-1.7zM603 2315h1.7v1.7h-1.7zM621 2322h1.7v1.7h-1.7zM609 2317h1.7v1.7h-1.7zM615 2322h1.7v1.7h-1.7zM619 2323h1.7v1.7h-1.7zM626 2328h1.7v1.7h-1.7zM621 2325h1.7v1.7h-1.7zM624 2324h1.7v1.7h-1.7zM623 2326h1.7v1.7h-1.7zM623 2339h1.7v1.7h-1.7zM623 2337h1.7v1.7h-1.7zM631 2330h1.7v1.7h-1.7zM625 2335h1.7v1.7h-1.7zM625 2337h1.7v1.7h-1.7zM622 2336h1.7v1.7h-1.7zM613 2349h1.7v1.7h-1.7zM613 2351h1.7v1.7h-1.7zM622 2345h1.7v1.7h-1.7zM607 2349h1.7v1.7h-1.7zM610 2349h1.7v1.7h-1.7zM609 2351h1.7v1.7h-1.7zM625 2344h1.7v1.7h-1.7zM616 2346h1.7v1.7h-1.7zM588 2359h1.7v1.7h-1.7zM606 2353h1.7v1.7h-1.7zM603 2355h1.7v1.7h-1.7zM595 2360h1.7v1.7h-1.7zM596 2359h1.7v1.7h-1.7zM594 2358h1.7v1.7h-1.7zM599 2358h1.7v1.7h-1.7zM602 2354h1.7v1.7h-1.7zM588 2361h1.7v1.7h-1.7zM576 2366h1.7v1.7h-1.7zM578 2364h1.7v1.7h-1.7zM572 2367h1.7v1.7h-1.7zM580 2368h1.7v1.7h-1.7zM569 2364h1.7v1.7h-1.7zM581 2366h1.7v1.7h-1.7zM574 2371h1.7v1.7h-1.7zM572 2366h1.7v1.7h-1.7zM577 2366h1.7v1.7h-1.7zM579 2363h1.7v1.7h-1.7zM539 2364h1.7v1.7h-1.7zM559 2370h1.7v1.7h-1.7zM561 2368h1.7v1.7h-1.7zM547 2369h1.7v1.7h-1.7zM549 2369h1.7v1.7h-1.7zM542 2367h1.7v1.7h-1.7zM554 2367h1.7v1.7h-1.7zM542 2369h1.7v1.7h-1.7zM555 2368h1.7v1.7h-1.7zM564 2370h1.7v1.7h-1.7zM537 2366h1.7v1.7h-1.7zM518 2363h1.7v1.7h-1.7zM520 2359h1.7v1.7h-1.7zM525 2365h1.7v1.7h-1.7zM528 2363h1.7v1.7h-1.7zM520 2364h1.7v1.7h-1.7zM511 2362h1.7v1.7h-1.7zM534 2366h1.7v1.7h-1.7zM532 2363h1.7v1.7h-1.7zM519 2362h1.7v1.7h-1.7zM536 2366h1.7v1.7h-1.7zM514 2359h1.7v1.7h-1.7zM499 2354h1.7v1.7h-1.7zM503 2355h1.7v1.7h-1.7zM510 2360h1.7v1.7h-1.7zM505 2357h1.7v1.7h-1.7zM500 2354h1.7v1.7h-1.7zM501 2351h1.7v1.7h-1.7zM495 2345h1.7v1.7h-1.7zM499 2345h1.7v1.7h-1.7zM497 2343h1.7v1.7h-1.7zM497 2352h1.7v1.7h-1.7zM1255 2326h1.7v1.7h-1.7zM1258 2327h1.7v1.7h-1.7zM1261 2327h1.7v1.7h-1.7zM1260 2331h1.7v1.7h-1.7zM1263 2348h1.7v1.7h-1.7zM1258 2331h1.7v1.7h-1.7zM1259 2339h1.7v1.7h-1.7zM1265 2347h1.7v1.7h-1.7zM1263 2343h1.7v1.7h-1.7zM1259 2341h1.7v1.7h-1.7zM1259 2330h1.7v1.7h-1.7zM1268 2353h1.7v1.7h-1.7zM1269 2354h1.7v1.7h-1.7zM1267 2350h1.7v1.7h-1.7zM1265 2349h1.7v1.7h-1.7zM1275 2362h1.7v1.7h-1.7zM1270 2356h1.7v1.7h-1.7zM1270 2356h1.7v1.7h-1.7zM1271 2357h1.7v1.7h-1.7zM1270 2357h1.7v1.7h-1.7zM1283 2376h1.7v1.7h-1.7zM1279 2371h1.7v1.7h-1.7zM1279 2373h1.7v1.7h-1.7zM1282 2365h1.7v1.7h-1.7zM1282 2366h1.7v1.7h-1.7zM1278 2360h1.7v1.7h-1.7zM1279 2368h1.7v1.7h-1.7zM1280 2375h1.7v1.7h-1.7zM1280 2380h1.7v1.7h-1.7zM1279 2386h1.7v1.7h-1.7zM1283 2378h1.7v1.7h-1.7zM1281 2383h1.7v1.7h-1.7zM1276 2385h1.7v1.7h-1.7zM1277 2386h1.7v1.7h-1.7zM1267 2382h1.7v1.7h-1.7zM1269 2384h1.7v1.7h-1.7zM1269 2383h1.7v1.7h-1.7zM1273 2386h1.7v1.7h-1.7zM1263 2373h1.7v1.7h-1.7zM1267 2379h1.7v1.7h-1.7zM1262 2374h1.7v1.7h-1.7zM1264 2366h1.7v1.7h-1.7zM1263 2381h1.7v1.7h-1.7zM1262 2371h1.7v1.7h-1.7zM1260 2353h1.7v1.7h-1.7zM1259 2361h1.7v1.7h-1.7zM1262 2364h1.7v1.7h-1.7zM1259 2361h1.7v1.7h-1.7zM1260 2357h1.7v1.7h-1.7zM1259 2359h1.7v1.7h-1.7zM1260 2361h1.7v1.7h-1.7zM1262 2360h1.7v1.7h-1.7zM1252 2331h1.7v1.7h-1.7zM1254 2339h1.7v1.7h-1.7zM1256 2336h1.7v1.7h-1.7zM1255 2345h1.7v1.7h-1.7zM1255 2324h1.7v1.7h-1.7zM1254 2340h1.7v1.7h-1.7zM1256 2345h1.7v1.7h-1.7zM1253 2325h1.7v1.7h-1.7zM1257 2341h1.7v1.7h-1.7zM1252 2336h1.7v1.7h-1.7zM452 2249h1.7v1.7h-1.7zM453 2248h1.7v1.7h-1.7zM462 2257h1.7v1.7h-1.7zM467 2267h1.7v1.7h-1.7zM460 2256h1.7v1.7h-1.7zM459 2257h1.7v1.7h-1.7zM460 2251h1.7v1.7h-1.7zM460 2252h1.7v1.7h-1.7zM461 2256h1.7v1.7h-1.7zM459 2254h1.7v1.7h-1.7zM473 2280h1.7v1.7h-1.7zM473 2270h1.7v1.7h-1.7zM471 2275h1.7v1.7h-1.7zM469 2278h1.7v1.7h-1.7zM467 2270h1.7v1.7h-1.7zM473 2282h1.7v1.7h-1.7zM475 2279h1.7v1.7h-1.7zM469 2269h1.7v1.7h-1.7zM479 2287h1.7v1.7h-1.7zM480 2291h1.7v1.7h-1.7zM482 2293h1.7v1.7h-1.7zM480 2299h1.7v1.7h-1.7zM481 2298h1.7v1.7h-1.7zM481 2300h1.7v1.7h-1.7zM477 2290h1.7v1.7h-1.7zM479 2299h1.7v1.7h-1.7zM473 2287h1.7v1.7h-1.7zM476 2295h1.7v1.7h-1.7zM478 2287h1.7v1.7h-1.7zM475 2292h1.7v1.7h-1.7zM476 2286h1.7v1.7h-1.7zM465 2270h1.7v1.7h-1.7zM468 2278h1.7v1.7h-1.7zM466 2274h1.7v1.7h-1.7zM466 2272h1.7v1.7h-1.7zM471 2287h1.7v1.7h-1.7zM473 2286h1.7v1.7h-1.7zM462 2269h1.7v1.7h-1.7zM463 2269h1.7v1.7h-1.7zM461 2266h1.7v1.7h-1.7zM461 2265h1.7v1.7h-1.7zM464 2269h1.7v1.7h-1.7zM461 2265h1.7v1.7h-1.7zM454 2255h1.7v1.7h-1.7zM455 2257h1.7v1.7h-1.7zM454 2252h1.7v1.7h-1.7zM451 2249h1.7v1.7h-1.7zM1203 2036h1.7v1.7h-1.7zM1202 2035h1.7v1.7h-1.7zM1208 2043h1.7v1.7h-1.7zM1202 2036h1.7v1.7h-1.7zM1199 2036h1.7v1.7h-1.7zM1208 2039h1.7v1.7h-1.7zM1207 2050h1.7v1.7h-1.7zM1205 2045h1.7v1.7h-1.7zM1203 2049h1.7v1.7h-1.7zM1203 2048h1.7v1.7h-1.7zM1204 2047h1.7v1.7h-1.7zM1201 2041h1.7v1.7h-1.7zM1198 2044h1.7v1.7h-1.7zM1199 2041h1.7v1.7h-1.7zM1198 2036h1.7v1.7h-1.7zM1315 2154h1.7v1.7h-1.7zM1316 2154h1.7v1.7h-1.7zM1317 2151h1.7v1.7h-1.7zM1317 2152h1.7v1.7h-1.7zM1321 2145h1.7v1.7h-1.7zM1323 2140h1.7v1.7h-1.7zM1327 2138h1.7v1.7h-1.7zM1324 2136h1.7v1.7h-1.7zM1316 2144h1.7v1.7h-1.7zM1323 2140h1.7v1.7h-1.7zM1333 2123h1.7v1.7h-1.7zM1328 2132h1.7v1.7h-1.7zM1336 2124h1.7v1.7h-1.7zM1329 2128h1.7v1.7h-1.7zM1328 2136h1.7v1.7h-1.7zM1338 2121h1.7v1.7h-1.7zM1337 2113h1.7v1.7h-1.7zM1337 2119h1.7v1.7h-1.7zM1338 2118h1.7v1.7h-1.7zM1344 2105h1.7v1.7h-1.7zM1339 2115h1.7v1.7h-1.7zM1337 2112h1.7v1.7h-1.7zM1343 2099h1.7v1.7h-1.7zM1349 2094h1.7v1.7h-1.7zM1347 2101h1.7v1.7h-1.7zM1348 2100h1.7v1.7h-1.7zM1350 2094h1.7v1.7h-1.7zM1342 2098h1.7v1.7h-1.7zM1357 2088h1.7v1.7h-1.7zM1361 2081h1.7v1.7h-1.7zM1355 2085h1.7v1.7h-1.7zM1356 2086h1.7v1.7h-1.7zM1352 2087h1.7v1.7h-1.7zM1367 2082h1.7v1.7h-1.7zM1373 2077h1.7v1.7h-1.7zM1370 2081h1.7v1.7h-1.7zM1364 2082h1.7v1.7h-1.7zM1371 2084h1.7v1.7h-1.7zM1375 2084h1.7v1.7h-1.7zM1374 2084h1.7v1.7h-1.7zM1383 2090h1.7v1.7h-1.7zM1375 2089h1.7v1.7h-1.7zM1384 2089h1.7v1.7h-1.7zM1382 2090h1.7v1.7h-1.7zM1380 2088h1.7v1.7h-1.7zM1389 2090h1.7v1.7h-1.7zM1395 2097h1.7v1.7h-1.7zM1393 2100h1.7v1.7h-1.7zM1395 2097h1.7v1.7h-1.7zM1402 2115h1.7v1.7h-1.7zM1400 2110h1.7v1.7h-1.7zM1400 2117h1.7v1.7h-1.7zM1394 2101h1.7v1.7h-1.7zM1396 2103h1.7v1.7h-1.7zM1400 2110h1.7v1.7h-1.7zM1400 2129h1.7v1.7h-1.7zM1402 2130h1.7v1.7h-1.7zM1397 2118h1.7v1.7h-1.7zM1401 2122h1.7v1.7h-1.7zM1401 2128h1.7v1.7h-1.7zM1401 2128h1.7v1.7h-1.7zM1399 2138h1.7v1.7h-1.7zM1401 2142h1.7v1.7h-1.7zM1402 2138h1.7v1.7h-1.7zM1401 2136h1.7v1.7h-1.7zM1397 2140h1.7v1.7h-1.7zM1396 2143h1.7v1.7h-1.7zM1399 2151h1.7v1.7h-1.7zM1398 2155h1.7v1.7h-1.7zM1393 2163h1.7v1.7h-1.7zM1396 2163h1.7v1.7h-1.7zM1398 2155h1.7v1.7h-1.7zM1397 2161h1.7v1.7h-1.7zM1399 2152h1.7v1.7h-1.7zM1397 2165h1.7v1.7h-1.7zM1388 2180h1.7v1.7h-1.7zM1391 2171h1.7v1.7h-1.7zM1393 2174h1.7v1.7h-1.7zM1389 2183h1.7v1.7h-1.7zM1390 2182h1.7v1.7h-1.7zM1391 2172h1.7v1.7h-1.7zM1383 2194h1.7v1.7h-1.7zM1386 2188h1.7v1.7h-1.7zM1387 2186h1.7v1.7h-1.7zM1384 2195h1.7v1.7h-1.7zM1380 2198h1.7v1.7h-1.7zM1383 2194h1.7v1.7h-1.7zM1388 2181h1.7v1.7h-1.7zM1381 2207h1.7v1.7h-1.7zM1379 2208h1.7v1.7h-1.7zM1378 2207h1.7v1.7h-1.7zM1379 2200h1.7v1.7h-1.7zM1381 2205h1.7v1.7h-1.7zM1378 2205h1.7v1.7h-1.7zM1369 2229h1.7v1.7h-1.7zM1367 2231h1.7v1.7h-1.7zM1373 2227h1.7v1.7h-1.7zM1372 2222h1.7v1.7h-1.7zM1372 2222h1.7v1.7h-1.7zM1366 2230h1.7v1.7h-1.7zM1359 2236h1.7v1.7h-1.7zM1365 2233h1.7v1.7h-1.7zM1364 2228h1.7v1.7h-1.7zM1366 2232h1.7v1.7h-1.7zM1349 2236h1.7v1.7h-1.7zM1352 2236h1.7v1.7h-1.7zM1352 2232h1.7v1.7h-1.7zM1351 2237h1.7v1.7h-1.7zM1346 2231h1.7v1.7h-1.7zM1345 2231h1.7v1.7h-1.7zM1340 2228h1.7v1.7h-1.7zM1344 2233h1.7v1.7h-1.7zM1341 2224h1.7v1.7h-1.7zM1338 2218h1.7v1.7h-1.7zM1341 2220h1.7v1.7h-1.7zM1343 2223h1.7v1.7h-1.7zM1332 2217h1.7v1.7h-1.7zM1327 2210h1.7v1.7h-1.7zM1336 2217h1.7v1.7h-1.7zM1333 2213h1.7v1.7h-1.7zM1334 2212h1.7v1.7h-1.7zM1326 2208h1.7v1.7h-1.7zM1325 2201h1.7v1.7h-1.7zM1329 2205h1.7v1.7h-1.7zM1324 2204h1.7v1.7h-1.7zM1323 2197h1.7v1.7h-1.7zM1327 2198h1.7v1.7h-1.7zM1330 2186h1.7v1.7h-1.7zM1328 2197h1.7v1.7h-1.7zM1328 2189h1.7v1.7h-1.7zM1328 2186h1.7v1.7h-1.7zM1323 2183h1.7v1.7h-1.7zM1325 2186h1.7v1.7h-1.7zM1324 2188h1.7v1.7h-1.7zM1320 2170h1.7v1.7h-1.7zM1316 2170h1.7v1.7h-1.7zM1315 2170h1.7v1.7h-1.7zM1321 2175h1.7v1.7h-1.7zM1320 2172h1.7v1.7h-1.7zM1315 2162h1.7v1.7h-1.7zM1315 2160h1.7v1.7h-1.7zM1316 2165h1.7v1.7h-1.7zM1312 2165h1.7v1.7h-1.7zM1317 2157h1.7v1.7h-1.7z" fill="#A6A400"/>
<path d="M213 2310h1.7v1.7h-1.7zM212 2304h1.7v1.7h-1.7zM218 2311h1.7v1.7h-1.7zM211 2306h1.7v1.7h-1.7zM214 2315h1.7v1.7h-1.7zM213 2309h1.7v1.7h-1.7zM214 2306h1.7v1.7h-1.7zM223 2324h1.7v1.7h-1.7zM220 2319h1.7v1.7h-1.7zM222 2324h1.7v1.7h-1.7zM218 2323h1.7v1.7h-1.7zM223 2319h1.7v1.7h-1.7zM222 2325h1.7v1.7h-1.7zM224 2331h1.7v1.7h-1.7zM223 2329h1.7v1.7h-1.7zM231 2343h1.7v1.7h-1.7zM228 2340h1.7v1.7h-1.7zM228 2336h1.7v1.7h-1.7zM229 2338h1.7v1.7h-1.7zM228 2337h1.7v1.7h-1.7zM226 2343h1.7v1.7h-1.7zM230 2351h1.7v1.7h-1.7zM236 2364h1.7v1.7h-1.7zM230 2350h1.7v1.7h-1.7zM235 2362h1.7v1.7h-1.7zM226 2349h1.7v1.7h-1.7zM234 2365h1.7v1.7h-1.7zM232 2355h1.7v1.7h-1.7zM232 2363h1.7v1.7h-1.7zM237 2374h1.7v1.7h-1.7zM236 2368h1.7v1.7h-1.7zM236 2377h1.7v1.7h-1.7zM235 2371h1.7v1.7h-1.7zM238 2379h1.7v1.7h-1.7zM236 2374h1.7v1.7h-1.7zM234 2390h1.7v1.7h-1.7zM235 2396h1.7v1.7h-1.7zM237 2386h1.7v1.7h-1.7zM236 2391h1.7v1.7h-1.7zM238 2391h1.7v1.7h-1.7zM235 2395h1.7v1.7h-1.7zM238 2384h1.7v1.7h-1.7zM232 2399h1.7v1.7h-1.7zM235 2398h1.7v1.7h-1.7zM233 2399h1.7v1.7h-1.7zM235 2396h1.7v1.7h-1.7zM224 2388h1.7v1.7h-1.7zM228 2399h1.7v1.7h-1.7zM228 2396h1.7v1.7h-1.7zM227 2389h1.7v1.7h-1.7zM229 2398h1.7v1.7h-1.7zM225 2387h1.7v1.7h-1.7zM226 2393h1.7v1.7h-1.7zM223 2384h1.7v1.7h-1.7zM218 2369h1.7v1.7h-1.7zM220 2368h1.7v1.7h-1.7zM223 2370h1.7v1.7h-1.7zM225 2383h1.7v1.7h-1.7zM226 2381h1.7v1.7h-1.7zM223 2367h1.7v1.7h-1.7zM219 2373h1.7v1.7h-1.7zM218 2355h1.7v1.7h-1.7zM216 2358h1.7v1.7h-1.7zM215 2352h1.7v1.7h-1.7zM217 2351h1.7v1.7h-1.7zM222 2368h1.7v1.7h-1.7zM217 2361h1.7v1.7h-1.7zM217 2358h1.7v1.7h-1.7zM220 2357h1.7v1.7h-1.7zM215 2347h1.7v1.7h-1.7zM214 2332h1.7v1.7h-1.7zM211 2332h1.7v1.7h-1.7zM213 2340h1.7v1.7h-1.7zM214 2341h1.7v1.7h-1.7zM216 2346h1.7v1.7h-1.7zM214 2337h1.7v1.7h-1.7zM213 2328h1.7v1.7h-1.7zM214 2322h1.7v1.7h-1.7zM212 2323h1.7v1.7h-1.7zM209 2313h1.7v1.7h-1.7zM212 2329h1.7v1.7h-1.7zM208 2312h1.7v1.7h-1.7zM211 2325h1.7v1.7h-1.7zM210 2314h1.7v1.7h-1.7zM209 2321h1.7v1.7h-1.7zM209 2304h1.7v1.7h-1.7zM209 2307h1.7v1.7h-1.7zM208 2311h1.7v1.7h-1.7zM210 2311h1.7v1.7h-1.7zM1140 2385h1.7v1.7h-1.7zM1133 2387h1.7v1.7h-1.7zM1144 2383h1.7v1.7h-1.7zM1133 2389h1.7v1.7h-1.7zM1138 2384h1.7v1.7h-1.7zM1141 2386h1.7v1.7h-1.7zM1139 2383h1.7v1.7h-1.7zM1151 2381h1.7v1.7h-1.7zM1154 2379h1.7v1.7h-1.7zM1148 2385h1.7v1.7h-1.7zM1155 2381h1.7v1.7h-1.7zM1156 2378h1.7v1.7h-1.7zM1156 2377h1.7v1.7h-1.7zM1163 2379h1.7v1.7h-1.7zM1165 2378h1.7v1.7h-1.7zM1166 2379h1.7v1.7h-1.7zM1161 2385h1.7v1.7h-1.7zM1161 2385h1.7v1.7h-1.7zM1154 2388h1.7v1.7h-1.7zM1163 2383h1.7v1.7h-1.7zM1157 2383h1.7v1.7h-1.7zM1162 2385h1.7v1.7h-1.7zM1141 2396h1.7v1.7h-1.7zM1149 2392h1.7v1.7h-1.7zM1147 2394h1.7v1.7h-1.7zM1141 2395h1.7v1.7h-1.7zM1145 2390h1.7v1.7h-1.7zM1142 2397h1.7v1.7h-1.7zM1155 2391h1.7v1.7h-1.7zM1139 2397h1.7v1.7h-1.7zM1133 2398h1.7v1.7h-1.7zM1135 2396h1.7v1.7h-1.7zM1138 2396h1.7v1.7h-1.7zM1137 2398h1.7v1.7h-1.7zM1128 2396h1.7v1.7h-1.7zM1129 2398h1.7v1.7h-1.7zM1132 2391h1.7v1.7h-1.7zM1131 2393h1.7v1.7h-1.7zM1130 2393h1.7v1.7h-1.7z" fill="#AE87FF"/>
<path d="M319 2299h1.7v1.7h-1.7zM315 2299h1.7v1.7h-1.7zM316 2303h1.7v1.7h-1.7zM318 2315h1.7v1.7h-1.7zM319 2299h1.7v1.7h-1.7zM317 2327h1.7v1.7h-1.7zM317 2309h1.7v1.7h-1.7zM317 2330h1.7v1.7h-1.7zM315 2313h1.7v1.7h-1.7zM319 2306h1.7v1.7h-1.7zM321 2322h1.7v1.7h-1.7zM319 2306h1.7v1.7h-1.7zM318 2331h1.7v1.7h-1.7zM319 2314h1.7v1.7h-1.7zM321 2305h1.7v1.7h-1.7zM319 2319h1.7v1.7h-1.7zM315 2312h1.7v1.7h-1.7zM318 2322h1.7v1.7h-1.7zM316 2341h1.7v1.7h-1.7zM317 2343h1.7v1.7h-1.7zM315 2345h1.7v1.7h-1.7zM316 2349h1.7v1.7h-1.7zM315 2352h1.7v1.7h-1.7zM316 2346h1.7v1.7h-1.7zM316 2344h1.7v1.7h-1.7zM316 2339h1.7v1.7h-1.7zM319 2366h1.7v1.7h-1.7zM319 2361h1.7v1.7h-1.7zM318 2363h1.7v1.7h-1.7zM317 2358h1.7v1.7h-1.7zM322 2377h1.7v1.7h-1.7zM319 2377h1.7v1.7h-1.7zM319 2375h1.7v1.7h-1.7zM320 2380h1.7v1.7h-1.7zM319 2378h1.7v1.7h-1.7zM322 2383h1.7v1.7h-1.7zM321 2372h1.7v1.7h-1.7zM322 2378h1.7v1.7h-1.7zM317 2386h1.7v1.7h-1.7zM315 2389h1.7v1.7h-1.7zM317 2387h1.7v1.7h-1.7zM320 2387h1.7v1.7h-1.7zM312 2384h1.7v1.7h-1.7zM312 2385h1.7v1.7h-1.7zM314 2388h1.7v1.7h-1.7zM308 2381h1.7v1.7h-1.7zM311 2386h1.7v1.7h-1.7zM305 2374h1.7v1.7h-1.7zM304 2369h1.7v1.7h-1.7zM309 2361h1.7v1.7h-1.7zM307 2377h1.7v1.7h-1.7zM306 2367h1.7v1.7h-1.7zM307 2362h1.7v1.7h-1.7zM307 2380h1.7v1.7h-1.7zM308 2364h1.7v1.7h-1.7zM309 2354h1.7v1.7h-1.7zM311 2360h1.7v1.7h-1.7zM312 2346h1.7v1.7h-1.7zM311 2349h1.7v1.7h-1.7zM306 2357h1.7v1.7h-1.7zM308 2356h1.7v1.7h-1.7zM313 2322h1.7v1.7h-1.7zM317 2320h1.7v1.7h-1.7zM315 2322h1.7v1.7h-1.7zM315 2333h1.7v1.7h-1.7zM313 2324h1.7v1.7h-1.7zM312 2344h1.7v1.7h-1.7zM315 2323h1.7v1.7h-1.7zM312 2327h1.7v1.7h-1.7zM312 2337h1.7v1.7h-1.7zM313 2320h1.7v1.7h-1.7zM313 2336h1.7v1.7h-1.7zM314 2304h1.7v1.7h-1.7zM312 2320h1.7v1.7h-1.7zM314 2316h1.7v1.7h-1.7zM316 2303h1.7v1.7h-1.7zM315 2318h1.7v1.7h-1.7zM313 2302h1.7v1.7h-1.7zM316 2313h1.7v1.7h-1.7zM312 2315h1.7v1.7h-1.7zM312 2303h1.7v1.7h-1.7zM1184 2256h1.7v1.7h-1.7zM1184 2257h1.7v1.7h-1.7zM1181 2272h1.7v1.7h-1.7zM1183 2263h1.7v1.7h-1.7zM1184 2258h1.7v1.7h-1.7zM1178 2272h1.7v1.7h-1.7zM1178 2267h1.7v1.7h-1.7zM1180 2267h1.7v1.7h-1.7zM1179 2269h1.7v1.7h-1.7zM1181 2284h1.7v1.7h-1.7zM1178 2277h1.7v1.7h-1.7zM1185 2276h1.7v1.7h-1.7zM1182 2279h1.7v1.7h-1.7zM1194 2278h1.7v1.7h-1.7zM1189 2279h1.7v1.7h-1.7zM1185 2285h1.7v1.7h-1.7zM1192 2279h1.7v1.7h-1.7zM1185 2283h1.7v1.7h-1.7zM1194 2280h1.7v1.7h-1.7zM1196 2281h1.7v1.7h-1.7zM1198 2284h1.7v1.7h-1.7zM1201 2281h1.7v1.7h-1.7zM1195 2294h1.7v1.7h-1.7zM1196 2289h1.7v1.7h-1.7zM1192 2292h1.7v1.7h-1.7zM1199 2288h1.7v1.7h-1.7zM1193 2297h1.7v1.7h-1.7zM1192 2294h1.7v1.7h-1.7zM1187 2297h1.7v1.7h-1.7zM1182 2297h1.7v1.7h-1.7zM1187 2296h1.7v1.7h-1.7zM1185 2296h1.7v1.7h-1.7zM1185 2297h1.7v1.7h-1.7zM1179 2290h1.7v1.7h-1.7zM1177 2292h1.7v1.7h-1.7zM1177 2295h1.7v1.7h-1.7zM1177 2290h1.7v1.7h-1.7zM1175 2283h1.7v1.7h-1.7zM1177 2281h1.7v1.7h-1.7zM1180 2292h1.7v1.7h-1.7zM1174 2281h1.7v1.7h-1.7zM1179 2272h1.7v1.7h-1.7zM1176 2276h1.7v1.7h-1.7zM1179 2255h1.7v1.7h-1.7zM1175 2280h1.7v1.7h-1.7zM1181 2258h1.7v1.7h-1.7zM1181 2264h1.7v1.7h-1.7zM1174 2273h1.7v1.7h-1.7zM1176 2266h1.7v1.7h-1.7zM1179 2267h1.7v1.7h-1.7z" fill="#B79F00"/>
<path d="M929 1604h1.7v1.7h-1.7zM941 1594h1.7v1.7h-1.7zM946 1594h1.7v1.7h-1.7zM942 1592h1.7v1.7h-1.7zM927 1605h1.7v1.7h-1.7zM939 1596h1.7v1.7h-1.7zM928 1601h1.7v1.7h-1.7zM934 1598h1.7v1.7h-1.7zM934 1599h1.7v1.7h-1.7zM934 1600h1.7v1.7h-1.7zM942 1594h1.7v1.7h-1.7zM950 1589h1.7v1.7h-1.7zM974 1582h1.7v1.7h-1.7zM954 1589h1.7v1.7h-1.7zM966 1585h1.7v1.7h-1.7zM954 1589h1.7v1.7h-1.7zM946 1589h1.7v1.7h-1.7zM959 1587h1.7v1.7h-1.7zM969 1584h1.7v1.7h-1.7zM945 1587h1.7v1.7h-1.7zM948 1588h1.7v1.7h-1.7zM967 1583h1.7v1.7h-1.7zM979 1587h1.7v1.7h-1.7zM985 1584h1.7v1.7h-1.7zM973 1585h1.7v1.7h-1.7zM975 1583h1.7v1.7h-1.7zM983 1598h1.7v1.7h-1.7zM984 1591h1.7v1.7h-1.7zM983 1593h1.7v1.7h-1.7zM985 1593h1.7v1.7h-1.7zM984 1599h1.7v1.7h-1.7zM982 1590h1.7v1.7h-1.7zM982 1598h1.7v1.7h-1.7zM989 1613h1.7v1.7h-1.7zM985 1605h1.7v1.7h-1.7zM984 1604h1.7v1.7h-1.7zM987 1613h1.7v1.7h-1.7zM987 1600h1.7v1.7h-1.7zM984 1620h1.7v1.7h-1.7zM984 1598h1.7v1.7h-1.7zM986 1603h1.7v1.7h-1.7zM990 1618h1.7v1.7h-1.7zM995 1627h1.7v1.7h-1.7zM991 1623h1.7v1.7h-1.7zM995 1625h1.7v1.7h-1.7zM989 1622h1.7v1.7h-1.7zM996 1627h1.7v1.7h-1.7zM995 1627h1.7v1.7h-1.7zM987 1635h1.7v1.7h-1.7zM987 1638h1.7v1.7h-1.7zM997 1632h1.7v1.7h-1.7zM984 1639h1.7v1.7h-1.7zM988 1637h1.7v1.7h-1.7zM987 1637h1.7v1.7h-1.7zM980 1647h1.7v1.7h-1.7zM974 1651h1.7v1.7h-1.7zM980 1646h1.7v1.7h-1.7zM981 1640h1.7v1.7h-1.7zM978 1647h1.7v1.7h-1.7zM982 1645h1.7v1.7h-1.7zM978 1646h1.7v1.7h-1.7zM971 1658h1.7v1.7h-1.7zM973 1653h1.7v1.7h-1.7zM965 1661h1.7v1.7h-1.7zM970 1660h1.7v1.7h-1.7zM965 1662h1.7v1.7h-1.7zM970 1661h1.7v1.7h-1.7zM973 1654h1.7v1.7h-1.7zM963 1677h1.7v1.7h-1.7zM960 1678h1.7v1.7h-1.7zM965 1669h1.7v1.7h-1.7zM966 1663h1.7v1.7h-1.7zM967 1668h1.7v1.7h-1.7zM962 1667h1.7v1.7h-1.7zM962 1681h1.7v1.7h-1.7zM964 1669h1.7v1.7h-1.7zM947 1677h1.7v1.7h-1.7zM958 1681h1.7v1.7h-1.7zM957 1681h1.7v1.7h-1.7zM961 1684h1.7v1.7h-1.7zM960 1684h1.7v1.7h-1.7zM959 1682h1.7v1.7h-1.7zM947 1683h1.7v1.7h-1.7zM942 1690h1.7v1.7h-1.7zM937 1690h1.7v1.7h-1.7zM943 1685h1.7v1.7h-1.7zM943 1680h1.7v1.7h-1.7zM941 1689h1.7v1.7h-1.7zM941 1685h1.7v1.7h-1.7zM932 1699h1.7v1.7h-1.7zM933 1697h1.7v1.7h-1.7zM934 1700h1.7v1.7h-1.7zM938 1695h1.7v1.7h-1.7zM934 1695h1.7v1.7h-1.7zM936 1701h1.7v1.7h-1.7zM931 1705h1.7v1.7h-1.7zM930 1703h1.7v1.7h-1.7zM929 1700h1.7v1.7h-1.7zM926 1696h1.7v1.7h-1.7zM926 1699h1.7v1.7h-1.7zM927 1699h1.7v1.7h-1.7zM924 1682h1.7v1.7h-1.7zM922 1681h1.7v1.7h-1.7zM920 1687h1.7v1.7h-1.7zM922 1683h1.7v1.7h-1.7zM914 1675h1.7v1.7h-1.7zM921 1682h1.7v1.7h-1.7zM922 1691h1.7v1.7h-1.7zM922 1680h1.7v1.7h-1.7zM918 1653h1.7v1.7h-1.7zM919 1658h1.7v1.7h-1.7zM918 1670h1.7v1.7h-1.7zM921 1662h1.7v1.7h-1.7zM918 1670h1.7v1.7h-1.7zM920 1669h1.7v1.7h-1.7zM920 1657h1.7v1.7h-1.7zM922 1649h1.7v1.7h-1.7zM923 1674h1.7v1.7h-1.7zM918 1661h1.7v1.7h-1.7zM919 1671h1.7v1.7h-1.7zM923 1628h1.7v1.7h-1.7zM918 1635h1.7v1.7h-1.7zM919 1637h1.7v1.7h-1.7zM921 1635h1.7v1.7h-1.7zM924 1628h1.7v1.7h-1.7zM920 1637h1.7v1.7h-1.7zM919 1642h1.7v1.7h-1.7zM921 1635h1.7v1.7h-1.7zM921 1633h1.7v1.7h-1.7zM925 1619h1.7v1.7h-1.7zM923 1620h1.7v1.7h-1.7zM923 1615h1.7v1.7h-1.7zM926 1611h1.7v1.7h-1.7zM922 1617h1.7v1.7h-1.7zM922 1614h1.7v1.7h-1.7zM926 1606h1.7v1.7h-1.7zM927 1606h1.7v1.7h-1.7zM1014 1610h1.7v1.7h-1.7zM1003 1610h1.7v1.7h-1.7zM1005 1610h1.7v1.7h-1.7zM1004 1612h1.7v1.7h-1.7zM1014 1607h1.7v1.7h-1.7zM1023 1610h1.7v1.7h-1.7zM1017 1611h1.7v1.7h-1.7zM1019 1609h1.7v1.7h-1.7zM1015 1610h1.7v1.7h-1.7zM1022 1613h1.7v1.7h-1.7zM1024 1615h1.7v1.7h-1.7zM1019 1617h1.7v1.7h-1.7zM1020 1609h1.7v1.7h-1.7zM1014 1615h1.7v1.7h-1.7zM1011 1616h1.7v1.7h-1.7zM1010 1615h1.7v1.7h-1.7zM1014 1615h1.7v1.7h-1.7zM1006 1612h1.7v1.7h-1.7zM1003 1609h1.7v1.7h-1.7zM458 1592h1.7v1.7h-1.7zM460 1593h1.7v1.7h-1.7zM461 1594h1.7v1.7h-1.7zM459 1594h1.7v1.7h-1.7zM467 1588h1.7v1.7h-1.7zM466 1588h1.7v1.7h-1.7zM467 1589h1.7v1.7h-1.7zM477 1586h1.7v1.7h-1.7zM485 1581h1.7v1.7h-1.7zM479 1583h1.7v1.7h-1.7zM479 1585h1.7v1.7h-1.7zM488 1581h1.7v1.7h-1.7zM483 1584h1.7v1.7h-1.7zM491 1578h1.7v1.7h-1.7zM491 1583h1.7v1.7h-1.7zM495 1581h1.7v1.7h-1.7zM495 1582h1.7v1.7h-1.7zM491 1582h1.7v1.7h-1.7zM502 1582h1.7v1.7h-1.7zM510 1581h1.7v1.7h-1.7zM513 1580h1.7v1.7h-1.7zM501 1577h1.7v1.7h-1.7zM508 1579h1.7v1.7h-1.7zM517 1582h1.7v1.7h-1.7zM514 1583h1.7v1.7h-1.7zM514 1583h1.7v1.7h-1.7zM511 1581h1.7v1.7h-1.7zM529 1593h1.7v1.7h-1.7zM526 1586h1.7v1.7h-1.7zM521 1588h1.7v1.7h-1.7zM524 1591h1.7v1.7h-1.7zM530 1596h1.7v1.7h-1.7zM531 1600h1.7v1.7h-1.7zM531 1596h1.7v1.7h-1.7zM526 1604h1.7v1.7h-1.7zM523 1604h1.7v1.7h-1.7zM525 1608h1.7v1.7h-1.7zM523 1608h1.7v1.7h-1.7zM522 1611h1.7v1.7h-1.7zM522 1610h1.7v1.7h-1.7zM518 1612h1.7v1.7h-1.7zM518 1612h1.7v1.7h-1.7zM511 1614h1.7v1.7h-1.7zM515 1615h1.7v1.7h-1.7zM508 1618h1.7v1.7h-1.7zM510 1618h1.7v1.7h-1.7zM504 1618h1.7v1.7h-1.7zM508 1616h1.7v1.7h-1.7zM499 1614h1.7v1.7h-1.7zM502 1617h1.7v1.7h-1.7zM504 1616h1.7v1.7h-1.7zM494 1615h1.7v1.7h-1.7zM489 1619h1.7v1.7h-1.7zM489 1623h1.7v1.7h-1.7zM493 1629h1.7v1.7h-1.7zM492 1624h1.7v1.7h-1.7zM492 1621h1.7v1.7h-1.7zM493 1623h1.7v1.7h-1.7zM491 1638h1.7v1.7h-1.7zM492 1642h1.7v1.7h-1.7zM493 1639h1.7v1.7h-1.7zM489 1632h1.7v1.7h-1.7zM492 1637h1.7v1.7h-1.7zM493 1642h1.7v1.7h-1.7zM494 1646h1.7v1.7h-1.7zM491 1641h1.7v1.7h-1.7zM491 1647h1.7v1.7h-1.7zM491 1649h1.7v1.7h-1.7zM487 1641h1.7v1.7h-1.7zM487 1649h1.7v1.7h-1.7zM485 1641h1.7v1.7h-1.7zM483 1634h1.7v1.7h-1.7zM488 1639h1.7v1.7h-1.7zM483 1636h1.7v1.7h-1.7zM487 1640h1.7v1.7h-1.7zM478 1626h1.7v1.7h-1.7zM479 1631h1.7v1.7h-1.7zM481 1631h1.7v1.7h-1.7zM478 1624h1.7v1.7h-1.7zM479 1623h1.7v1.7h-1.7zM474 1620h1.7v1.7h-1.7zM475 1619h1.7v1.7h-1.7zM464 1613h1.7v1.7h-1.7zM467 1613h1.7v1.7h-1.7zM463 1612h1.7v1.7h-1.7zM463 1612h1.7v1.7h-1.7zM461 1613h1.7v1.7h-1.7zM458 1610h1.7v1.7h-1.7zM462 1610h1.7v1.7h-1.7zM455 1606h1.7v1.7h-1.7zM457 1610h1.7v1.7h-1.7zM457 1607h1.7v1.7h-1.7zM457 1601h1.7v1.7h-1.7zM454 1601h1.7v1.7h-1.7zM456 1602h1.7v1.7h-1.7zM413 1619h1.7v1.7h-1.7zM413 1618h1.7v1.7h-1.7zM420 1615h1.7v1.7h-1.7zM426 1612h1.7v1.7h-1.7zM414 1618h1.7v1.7h-1.7zM425 1615h1.7v1.7h-1.7zM436 1608h1.7v1.7h-1.7zM436 1608h1.7v1.7h-1.7zM435 1606h1.7v1.7h-1.7zM429 1613h1.7v1.7h-1.7zM431 1610h1.7v1.7h-1.7zM435 1609h1.7v1.7h-1.7zM441 1607h1.7v1.7h-1.7zM442 1608h1.7v1.7h-1.7zM444 1604h1.7v1.7h-1.7zM444 1604h1.7v1.7h-1.7zM451 1599h1.7v1.7h-1.7zM447 1602h1.7v1.7h-1.7zM454 1601h1.7v1.7h-1.7zM456 1605h1.7v1.7h-1.7zM452 1606h1.7v1.7h-1.7zM454 1603h1.7v1.7h-1.7zM455 1605h1.7v1.7h-1.7zM452 1608h1.7v1.7h-1.7zM443 1608h1.7v1.7h-1.7zM447 1608h1.7v1.7h-1.7zM434 1615h1.7v1.7h-1.7zM437 1614h1.7v1.7h-1.7zM435 1613h1.7v1.7h-1.7zM437 1611h1.7v1.7h-1.7zM430 1615h1.7v1.7h-1.7zM420 1618h1.7v1.7h-1.7zM426 1617h1.7v1.7h-1.7zM423 1620h1.7v1.7h-1.7zM424 1619h1.7v1.7h-1.7zM418 1623h1.7v1.7h-1.7zM418 1622h1.7v1.7h-1.7zM1042 1858h1.7v1.7h-1.7zM1042 1854h1.7v1.7h-1.7zM1044 1857h1.7v1.7h-1.7zM1044 1857h1.7v1.7h-1.7zM1038 1860h1.7v1.7h-1.7zM1056 1851h1.7v1.7h-1.7zM1051 1848h1.7v1.7h-1.7zM1054 1852h1.7v1.7h-1.7zM1052 1861h1.7v1.7h-1.7zM1052 1861h1.7v1.7h-1.7zM1049 1863h1.7v1.7h-1.7zM1051 1860h1.7v1.7h-1.7zM1051 1863h1.7v1.7h-1.7zM1054 1855h1.7v1.7h-1.7zM1044 1870h1.7v1.7h-1.7zM1044 1869h1.7v1.7h-1.7zM1042 1872h1.7v1.7h-1.7zM1045 1868h1.7v1.7h-1.7zM1043 1871h1.7v1.7h-1.7zM1040 1873h1.7v1.7h-1.7zM1038 1874h1.7v1.7h-1.7zM1039 1867h1.7v1.7h-1.7zM1039 1865h1.7v1.7h-1.7zM1037 1866h1.7v1.7h-1.7zM1042 1861h1.7v1.7h-1.7zM972 1781h1.7v1.7h-1.7zM977 1780h1.7v1.7h-1.7zM978 1780h1.7v1.7h-1.7zM977 1788h1.7v1.7h-1.7zM976 1780h1.7v1.7h-1.7zM976 1795h1.7v1.7h-1.7zM978 1785h1.7v1.7h-1.7zM978 1801h1.7v1.7h-1.7zM979 1782h1.7v1.7h-1.7zM978 1786h1.7v1.7h-1.7zM977 1798h1.7v1.7h-1.7zM977 1820h1.7v1.7h-1.7zM977 1807h1.7v1.7h-1.7zM978 1808h1.7v1.7h-1.7zM977 1821h1.7v1.7h-1.7zM978 1811h1.7v1.7h-1.7zM979 1823h1.7v1.7h-1.7zM977 1810h1.7v1.7h-1.7zM976 1803h1.7v1.7h-1.7zM977 1821h1.7v1.7h-1.7zM975 1829h1.7v1.7h-1.7zM973 1816h1.7v1.7h-1.7zM973 1825h1.7v1.7h-1.7zM971 1804h1.7v1.7h-1.7zM972 1803h1.7v1.7h-1.7zM971 1803h1.7v1.7h-1.7zM972 1816h1.7v1.7h-1.7zM974 1819h1.7v1.7h-1.7zM974 1820h1.7v1.7h-1.7zM970 1799h1.7v1.7h-1.7zM969 1799h1.7v1.7h-1.7zM970 1797h1.7v1.7h-1.7zM971 1794h1.7v1.7h-1.7zM969 1796h1.7v1.7h-1.7zM971 1792h1.7v1.7h-1.7zM970 1789h1.7v1.7h-1.7zM969 1791h1.7v1.7h-1.7zM515 1641h1.7v1.7h-1.7zM506 1646h1.7v1.7h-1.7zM504 1655h1.7v1.7h-1.7zM516 1642h1.7v1.7h-1.7zM516 1641h1.7v1.7h-1.7zM497 1645h1.7v1.7h-1.7zM515 1639h1.7v1.7h-1.7zM498 1640h1.7v1.7h-1.7zM498 1649h1.7v1.7h-1.7zM495 1650h1.7v1.7h-1.7zM501 1650h1.7v1.7h-1.7zM509 1655h1.7v1.7h-1.7zM501 1658h1.7v1.7h-1.7zM500 1640h1.7v1.7h-1.7zM504 1646h1.7v1.7h-1.7zM512 1658h1.7v1.7h-1.7zM513 1643h1.7v1.7h-1.7zM515 1641h1.7v1.7h-1.7zM504 1657h1.7v1.7h-1.7zM497 1642h1.7v1.7h-1.7zM500 1646h1.7v1.7h-1.7zM507 1651h1.7v1.7h-1.7zM516 1640h1.7v1.7h-1.7zM501 1659h1.7v1.7h-1.7zM495 1649h1.7v1.7h-1.7zM510 1671h1.7v1.7h-1.7zM511 1671h1.7v1.7h-1.7zM512 1678h1.7v1.7h-1.7zM510 1669h1.7v1.7h-1.7zM507 1661h1.7v1.7h-1.7zM509 1671h1.7v1.7h-1.7zM519 1688h1.7v1.7h-1.7zM512 1668h1.7v1.7h-1.7zM515 1682h1.7v1.7h-1.7zM508 1669h1.7v1.7h-1.7zM515 1680h1.7v1.7h-1.7zM507 1668h1.7v1.7h-1.7zM505 1663h1.7v1.7h-1.7zM520 1689h1.7v1.7h-1.7zM476 1643h1.7v1.7h-1.7zM468 1644h1.7v1.7h-1.7zM468 1647h1.7v1.7h-1.7zM469 1639h1.7v1.7h-1.7zM468 1639h1.7v1.7h-1.7zM468 1645h1.7v1.7h-1.7zM472 1638h1.7v1.7h-1.7zM462 1642h1.7v1.7h-1.7zM459 1638h1.7v1.7h-1.7zM467 1643h1.7v1.7h-1.7z" fill="#C77CFF"/>
<path d="M1303 1626h1.7v1.7h-1.7zM1307 1622h1.7v1.7h-1.7zM1300 1625h1.7v1.7h-1.7zM1297 1626h1.7v1.7h-1.7zM1303 1629h1.7v1.7h-1.7zM1304 1622h1.7v1.7h-1.7zM1315 1626h1.7v1.7h-1.7zM1316 1629h1.7v1.7h-1.7zM1320 1631h1.7v1.7h-1.7zM1315 1630h1.7v1.7h-1.7zM1321 1631h1.7v1.7h-1.7zM1317 1631h1.7v1.7h-1.7zM1321 1638h1.7v1.7h-1.7zM1322 1645h1.7v1.7h-1.7zM1324 1639h1.7v1.7h-1.7zM1321 1635h1.7v1.7h-1.7zM1324 1638h1.7v1.7h-1.7zM1326 1649h1.7v1.7h-1.7zM1322 1636h1.7v1.7h-1.7zM1325 1631h1.7v1.7h-1.7zM1328 1660h1.7v1.7h-1.7zM1327 1668h1.7v1.7h-1.7zM1326 1656h1.7v1.7h-1.7zM1324 1671h1.7v1.7h-1.7zM1323 1669h1.7v1.7h-1.7zM1326 1656h1.7v1.7h-1.7zM1323 1663h1.7v1.7h-1.7zM1322 1665h1.7v1.7h-1.7zM1326 1659h1.7v1.7h-1.7zM1323 1690h1.7v1.7h-1.7zM1319 1687h1.7v1.7h-1.7zM1324 1680h1.7v1.7h-1.7zM1321 1678h1.7v1.7h-1.7zM1320 1686h1.7v1.7h-1.7zM1321 1677h1.7v1.7h-1.7zM1321 1682h1.7v1.7h-1.7zM1320 1680h1.7v1.7h-1.7zM1327 1701h1.7v1.7h-1.7zM1326 1707h1.7v1.7h-1.7zM1324 1705h1.7v1.7h-1.7zM1321 1698h1.7v1.7h-1.7zM1324 1698h1.7v1.7h-1.7zM1324 1699h1.7v1.7h-1.7zM1330 1705h1.7v1.7h-1.7zM1328 1707h1.7v1.7h-1.7zM1326 1710h1.7v1.7h-1.7zM1320 1704h1.7v1.7h-1.7zM1325 1707h1.7v1.7h-1.7zM1320 1707h1.7v1.7h-1.7zM1324 1706h1.7v1.7h-1.7zM1315 1706h1.7v1.7h-1.7zM1310 1702h1.7v1.7h-1.7zM1308 1700h1.7v1.7h-1.7zM1309 1704h1.7v1.7h-1.7zM1301 1707h1.7v1.7h-1.7zM1307 1712h1.7v1.7h-1.7zM1305 1711h1.7v1.7h-1.7zM1304 1709h1.7v1.7h-1.7zM1304 1706h1.7v1.7h-1.7zM1304 1706h1.7v1.7h-1.7zM1300 1722h1.7v1.7h-1.7zM1298 1726h1.7v1.7h-1.7zM1295 1735h1.7v1.7h-1.7zM1301 1721h1.7v1.7h-1.7zM1297 1739h1.7v1.7h-1.7zM1299 1734h1.7v1.7h-1.7zM1299 1720h1.7v1.7h-1.7zM1299 1724h1.7v1.7h-1.7zM1301 1727h1.7v1.7h-1.7zM1299 1722h1.7v1.7h-1.7zM1293 1748h1.7v1.7h-1.7zM1295 1746h1.7v1.7h-1.7zM1294 1743h1.7v1.7h-1.7zM1293 1745h1.7v1.7h-1.7zM1296 1738h1.7v1.7h-1.7zM1285 1748h1.7v1.7h-1.7zM1287 1748h1.7v1.7h-1.7zM1288 1748h1.7v1.7h-1.7zM1281 1744h1.7v1.7h-1.7zM1290 1748h1.7v1.7h-1.7zM1279 1737h1.7v1.7h-1.7zM1281 1722h1.7v1.7h-1.7zM1278 1727h1.7v1.7h-1.7zM1281 1728h1.7v1.7h-1.7zM1282 1740h1.7v1.7h-1.7zM1282 1737h1.7v1.7h-1.7zM1281 1730h1.7v1.7h-1.7zM1282 1741h1.7v1.7h-1.7zM1281 1740h1.7v1.7h-1.7zM1282 1702h1.7v1.7h-1.7zM1285 1712h1.7v1.7h-1.7zM1282 1711h1.7v1.7h-1.7zM1281 1710h1.7v1.7h-1.7zM1284 1717h1.7v1.7h-1.7zM1282 1697h1.7v1.7h-1.7zM1282 1707h1.7v1.7h-1.7zM1281 1706h1.7v1.7h-1.7zM1280 1720h1.7v1.7h-1.7zM1282 1703h1.7v1.7h-1.7zM1289 1679h1.7v1.7h-1.7zM1288 1688h1.7v1.7h-1.7zM1288 1696h1.7v1.7h-1.7zM1290 1684h1.7v1.7h-1.7zM1291 1683h1.7v1.7h-1.7zM1287 1685h1.7v1.7h-1.7zM1286 1689h1.7v1.7h-1.7zM1286 1687h1.7v1.7h-1.7zM1285 1699h1.7v1.7h-1.7zM1281 1694h1.7v1.7h-1.7zM1291 1655h1.7v1.7h-1.7zM1290 1649h1.7v1.7h-1.7zM1293 1654h1.7v1.7h-1.7zM1289 1666h1.7v1.7h-1.7zM1289 1651h1.7v1.7h-1.7zM1289 1669h1.7v1.7h-1.7zM1290 1658h1.7v1.7h-1.7zM1292 1664h1.7v1.7h-1.7zM1291 1653h1.7v1.7h-1.7zM1293 1655h1.7v1.7h-1.7zM1292 1669h1.7v1.7h-1.7zM1293 1637h1.7v1.7h-1.7zM1293 1642h1.7v1.7h-1.7zM1290 1644h1.7v1.7h-1.7zM1294 1641h1.7v1.7h-1.7zM1296 1636h1.7v1.7h-1.7zM1294 1635h1.7v1.7h-1.7zM1295 1642h1.7v1.7h-1.7zM1294 1631h1.7v1.7h-1.7zM1296 1634h1.7v1.7h-1.7zM551 1905h1.7v1.7h-1.7zM556 1901h1.7v1.7h-1.7zM550 1905h1.7v1.7h-1.7zM549 1909h1.7v1.7h-1.7zM558 1901h1.7v1.7h-1.7zM556 1901h1.7v1.7h-1.7zM551 1901h1.7v1.7h-1.7zM565 1907h1.7v1.7h-1.7zM563 1907h1.7v1.7h-1.7zM564 1907h1.7v1.7h-1.7zM566 1910h1.7v1.7h-1.7zM565 1915h1.7v1.7h-1.7zM566 1921h1.7v1.7h-1.7zM567 1921h1.7v1.7h-1.7zM564 1916h1.7v1.7h-1.7zM563 1931h1.7v1.7h-1.7zM564 1929h1.7v1.7h-1.7zM568 1927h1.7v1.7h-1.7zM565 1929h1.7v1.7h-1.7zM565 1935h1.7v1.7h-1.7zM563 1940h1.7v1.7h-1.7zM566 1935h1.7v1.7h-1.7zM559 1937h1.7v1.7h-1.7zM558 1944h1.7v1.7h-1.7zM562 1944h1.7v1.7h-1.7zM557 1943h1.7v1.7h-1.7zM558 1946h1.7v1.7h-1.7zM551 1941h1.7v1.7h-1.7zM551 1940h1.7v1.7h-1.7zM555 1946h1.7v1.7h-1.7zM549 1937h1.7v1.7h-1.7zM548 1936h1.7v1.7h-1.7zM552 1935h1.7v1.7h-1.7zM545 1924h1.7v1.7h-1.7zM549 1930h1.7v1.7h-1.7zM548 1930h1.7v1.7h-1.7zM546 1926h1.7v1.7h-1.7zM548 1908h1.7v1.7h-1.7zM546 1920h1.7v1.7h-1.7zM547 1910h1.7v1.7h-1.7zM544 1921h1.7v1.7h-1.7zM546 1918h1.7v1.7h-1.7zM563 1940h1.7v1.7h-1.7zM557 1944h1.7v1.7h-1.7zM562 1948h1.7v1.7h-1.7zM564 1945h1.7v1.7h-1.7zM566 1954h1.7v1.7h-1.7zM563 1945h1.7v1.7h-1.7zM564 1955h1.7v1.7h-1.7zM566 1957h1.7v1.7h-1.7zM572 1967h1.7v1.7h-1.7zM565 1961h1.7v1.7h-1.7zM568 1957h1.7v1.7h-1.7zM571 1976h1.7v1.7h-1.7zM571 1984h1.7v1.7h-1.7zM567 1971h1.7v1.7h-1.7zM570 1986h1.7v1.7h-1.7zM568 1977h1.7v1.7h-1.7zM570 1975h1.7v1.7h-1.7zM570 1982h1.7v1.7h-1.7zM572 2002h1.7v1.7h-1.7zM571 1995h1.7v1.7h-1.7zM570 2004h1.7v1.7h-1.7zM573 1992h1.7v1.7h-1.7zM573 1993h1.7v1.7h-1.7zM570 2000h1.7v1.7h-1.7zM568 2006h1.7v1.7h-1.7zM567 2008h1.7v1.7h-1.7zM567 2011h1.7v1.7h-1.7zM562 2009h1.7v1.7h-1.7zM563 2008h1.7v1.7h-1.7zM565 1995h1.7v1.7h-1.7zM565 2002h1.7v1.7h-1.7zM563 2002h1.7v1.7h-1.7zM563 2003h1.7v1.7h-1.7zM563 2006h1.7v1.7h-1.7zM562 1990h1.7v1.7h-1.7zM565 1989h1.7v1.7h-1.7zM564 1989h1.7v1.7h-1.7zM565 1981h1.7v1.7h-1.7zM562 1983h1.7v1.7h-1.7zM559 1972h1.7v1.7h-1.7zM562 1979h1.7v1.7h-1.7zM561 1971h1.7v1.7h-1.7zM562 1968h1.7v1.7h-1.7zM563 1977h1.7v1.7h-1.7zM556 1962h1.7v1.7h-1.7zM557 1962h1.7v1.7h-1.7zM558 1951h1.7v1.7h-1.7zM557 1954h1.7v1.7h-1.7zM558 1952h1.7v1.7h-1.7zM556 1941h1.7v1.7h-1.7zM558 1942h1.7v1.7h-1.7zM557 1950h1.7v1.7h-1.7zM1281 1729h1.7v1.7h-1.7zM1282 1716h1.7v1.7h-1.7zM1280 1729h1.7v1.7h-1.7zM1283 1724h1.7v1.7h-1.7zM1280 1724h1.7v1.7h-1.7zM1288 1717h1.7v1.7h-1.7zM1286 1716h1.7v1.7h-1.7zM1288 1713h1.7v1.7h-1.7zM1290 1706h1.7v1.7h-1.7zM1291 1710h1.7v1.7h-1.7zM1293 1704h1.7v1.7h-1.7zM1285 1716h1.7v1.7h-1.7zM1290 1709h1.7v1.7h-1.7zM1306 1700h1.7v1.7h-1.7zM1309 1698h1.7v1.7h-1.7zM1304 1700h1.7v1.7h-1.7zM1296 1701h1.7v1.7h-1.7zM1301 1701h1.7v1.7h-1.7zM1292 1698h1.7v1.7h-1.7zM1304 1721h1.7v1.7h-1.7zM1307 1710h1.7v1.7h-1.7zM1311 1706h1.7v1.7h-1.7zM1307 1713h1.7v1.7h-1.7zM1310 1705h1.7v1.7h-1.7zM1308 1707h1.7v1.7h-1.7zM1311 1709h1.7v1.7h-1.7zM1311 1708h1.7v1.7h-1.7zM1303 1739h1.7v1.7h-1.7zM1302 1725h1.7v1.7h-1.7zM1302 1734h1.7v1.7h-1.7zM1299 1740h1.7v1.7h-1.7zM1303 1727h1.7v1.7h-1.7zM1301 1723h1.7v1.7h-1.7zM1303 1725h1.7v1.7h-1.7zM1301 1738h1.7v1.7h-1.7zM1300 1745h1.7v1.7h-1.7zM1299 1743h1.7v1.7h-1.7zM1301 1746h1.7v1.7h-1.7zM1302 1746h1.7v1.7h-1.7zM1298 1756h1.7v1.7h-1.7zM1299 1742h1.7v1.7h-1.7zM1292 1760h1.7v1.7h-1.7zM1289 1762h1.7v1.7h-1.7zM1290 1760h1.7v1.7h-1.7zM1296 1761h1.7v1.7h-1.7zM1281 1759h1.7v1.7h-1.7zM1282 1762h1.7v1.7h-1.7zM1275 1762h1.7v1.7h-1.7zM1273 1760h1.7v1.7h-1.7zM1272 1757h1.7v1.7h-1.7zM1273 1746h1.7v1.7h-1.7zM1276 1748h1.7v1.7h-1.7zM1272 1752h1.7v1.7h-1.7zM1274 1753h1.7v1.7h-1.7zM1274 1753h1.7v1.7h-1.7zM1276 1744h1.7v1.7h-1.7zM1277 1738h1.7v1.7h-1.7zM1276 1730h1.7v1.7h-1.7zM1276 1731h1.7v1.7h-1.7zM1274 1741h1.7v1.7h-1.7zM1277 1733h1.7v1.7h-1.7zM539 1935h1.7v1.7h-1.7zM533 1926h1.7v1.7h-1.7zM533 1911h1.7v1.7h-1.7zM531 1921h1.7v1.7h-1.7zM544 1949h1.7v1.7h-1.7zM542 1925h1.7v1.7h-1.7zM526 1917h1.7v1.7h-1.7zM531 1941h1.7v1.7h-1.7zM546 1923h1.7v1.7h-1.7zM543 1920h1.7v1.7h-1.7zM542 1926h1.7v1.7h-1.7zM534 1930h1.7v1.7h-1.7z" fill="#DB72FB"/>
<path d="M1129 2072h1.7v1.7h-1.7zM1125 2074h1.7v1.7h-1.7zM1132 2071h1.7v1.7h-1.7zM1136 2069h1.7v1.7h-1.7zM1129 2071h1.7v1.7h-1.7zM1126 2071h1.7v1.7h-1.7zM1130 2071h1.7v1.7h-1.7zM1138 2071h1.7v1.7h-1.7zM1149 2067h1.7v1.7h-1.7zM1154 2066h1.7v1.7h-1.7zM1151 2065h1.7v1.7h-1.7zM1148 2063h1.7v1.7h-1.7zM1145 2063h1.7v1.7h-1.7zM1155 2064h1.7v1.7h-1.7zM1164 2056h1.7v1.7h-1.7zM1167 2052h1.7v1.7h-1.7zM1156 2061h1.7v1.7h-1.7zM1155 2059h1.7v1.7h-1.7zM1162 2058h1.7v1.7h-1.7zM1166 2056h1.7v1.7h-1.7zM1155 2060h1.7v1.7h-1.7zM1174 2061h1.7v1.7h-1.7zM1171 2060h1.7v1.7h-1.7zM1166 2055h1.7v1.7h-1.7zM1169 2054h1.7v1.7h-1.7zM1171 2068h1.7v1.7h-1.7zM1171 2068h1.7v1.7h-1.7zM1168 2071h1.7v1.7h-1.7zM1164 2074h1.7v1.7h-1.7zM1164 2074h1.7v1.7h-1.7zM1171 2066h1.7v1.7h-1.7zM1168 2070h1.7v1.7h-1.7zM1169 2067h1.7v1.7h-1.7zM1155 2085h1.7v1.7h-1.7zM1151 2089h1.7v1.7h-1.7zM1161 2084h1.7v1.7h-1.7zM1154 2087h1.7v1.7h-1.7zM1156 2085h1.7v1.7h-1.7zM1159 2082h1.7v1.7h-1.7zM1164 2083h1.7v1.7h-1.7zM1133 2084h1.7v1.7h-1.7zM1134 2085h1.7v1.7h-1.7zM1146 2088h1.7v1.7h-1.7zM1136 2086h1.7v1.7h-1.7zM1147 2091h1.7v1.7h-1.7zM1136 2085h1.7v1.7h-1.7zM1133 2086h1.7v1.7h-1.7zM1145 2092h1.7v1.7h-1.7zM1127 2079h1.7v1.7h-1.7zM1128 2080h1.7v1.7h-1.7zM1122 2076h1.7v1.7h-1.7zM1128 2089h1.7v1.7h-1.7zM1126 2087h1.7v1.7h-1.7zM1125 2077h1.7v1.7h-1.7zM384 2257h1.7v1.7h-1.7zM392 2253h1.7v1.7h-1.7zM385 2255h1.7v1.7h-1.7zM382 2259h1.7v1.7h-1.7zM403 2249h1.7v1.7h-1.7zM396 2249h1.7v1.7h-1.7zM397 2250h1.7v1.7h-1.7zM399 2252h1.7v1.7h-1.7zM395 2250h1.7v1.7h-1.7zM409 2250h1.7v1.7h-1.7zM411 2246h1.7v1.7h-1.7zM411 2249h1.7v1.7h-1.7zM417 2243h1.7v1.7h-1.7zM415 2250h1.7v1.7h-1.7zM427 2245h1.7v1.7h-1.7zM426 2245h1.7v1.7h-1.7zM428 2250h1.7v1.7h-1.7zM423 2245h1.7v1.7h-1.7zM433 2254h1.7v1.7h-1.7zM429 2250h1.7v1.7h-1.7zM433 2256h1.7v1.7h-1.7zM435 2258h1.7v1.7h-1.7zM434 2252h1.7v1.7h-1.7zM433 2263h1.7v1.7h-1.7zM438 2270h1.7v1.7h-1.7zM435 2272h1.7v1.7h-1.7zM434 2269h1.7v1.7h-1.7zM435 2271h1.7v1.7h-1.7zM431 2282h1.7v1.7h-1.7zM437 2275h1.7v1.7h-1.7zM432 2278h1.7v1.7h-1.7zM435 2282h1.7v1.7h-1.7zM438 2273h1.7v1.7h-1.7zM422 2288h1.7v1.7h-1.7zM427 2289h1.7v1.7h-1.7zM423 2291h1.7v1.7h-1.7zM427 2283h1.7v1.7h-1.7zM417 2288h1.7v1.7h-1.7zM420 2290h1.7v1.7h-1.7zM423 2292h1.7v1.7h-1.7zM420 2290h1.7v1.7h-1.7zM409 2292h1.7v1.7h-1.7zM410 2294h1.7v1.7h-1.7zM403 2296h1.7v1.7h-1.7zM412 2294h1.7v1.7h-1.7zM397 2297h1.7v1.7h-1.7zM396 2299h1.7v1.7h-1.7zM395 2299h1.7v1.7h-1.7zM385 2301h1.7v1.7h-1.7zM389 2302h1.7v1.7h-1.7zM383 2300h1.7v1.7h-1.7zM384 2297h1.7v1.7h-1.7zM381 2291h1.7v1.7h-1.7zM382 2302h1.7v1.7h-1.7zM381 2297h1.7v1.7h-1.7zM380 2280h1.7v1.7h-1.7zM384 2276h1.7v1.7h-1.7zM382 2275h1.7v1.7h-1.7zM379 2284h1.7v1.7h-1.7zM381 2280h1.7v1.7h-1.7zM380 2265h1.7v1.7h-1.7zM385 2256h1.7v1.7h-1.7zM381 2266h1.7v1.7h-1.7zM379 2275h1.7v1.7h-1.7zM385 2265h1.7v1.7h-1.7zM387 2263h1.7v1.7h-1.7zM374 2302h1.7v1.7h-1.7zM380 2304h1.7v1.7h-1.7zM386 2300h1.7v1.7h-1.7zM386 2301h1.7v1.7h-1.7zM383 2303h1.7v1.7h-1.7zM397 2303h1.7v1.7h-1.7zM390 2300h1.7v1.7h-1.7zM394 2304h1.7v1.7h-1.7zM392 2303h1.7v1.7h-1.7zM398 2309h1.7v1.7h-1.7zM399 2305h1.7v1.7h-1.7zM398 2306h1.7v1.7h-1.7zM399 2310h1.7v1.7h-1.7zM395 2318h1.7v1.7h-1.7zM397 2327h1.7v1.7h-1.7zM395 2330h1.7v1.7h-1.7zM395 2332h1.7v1.7h-1.7zM396 2329h1.7v1.7h-1.7zM396 2334h1.7v1.7h-1.7zM395 2339h1.7v1.7h-1.7zM397 2338h1.7v1.7h-1.7zM395 2336h1.7v1.7h-1.7zM395 2338h1.7v1.7h-1.7zM392 2336h1.7v1.7h-1.7zM400 2347h1.7v1.7h-1.7zM398 2354h1.7v1.7h-1.7zM400 2353h1.7v1.7h-1.7zM399 2349h1.7v1.7h-1.7zM399 2353h1.7v1.7h-1.7zM399 2364h1.7v1.7h-1.7zM401 2367h1.7v1.7h-1.7zM402 2372h1.7v1.7h-1.7zM398 2367h1.7v1.7h-1.7zM401 2367h1.7v1.7h-1.7zM400 2375h1.7v1.7h-1.7zM401 2375h1.7v1.7h-1.7zM400 2376h1.7v1.7h-1.7zM402 2377h1.7v1.7h-1.7zM390 2388h1.7v1.7h-1.7zM393 2388h1.7v1.7h-1.7zM396 2386h1.7v1.7h-1.7zM391 2387h1.7v1.7h-1.7zM388 2390h1.7v1.7h-1.7zM391 2389h1.7v1.7h-1.7zM387 2374h1.7v1.7h-1.7zM382 2374h1.7v1.7h-1.7zM386 2370h1.7v1.7h-1.7zM384 2375h1.7v1.7h-1.7zM387 2374h1.7v1.7h-1.7zM383 2357h1.7v1.7h-1.7zM385 2364h1.7v1.7h-1.7zM385 2367h1.7v1.7h-1.7zM384 2357h1.7v1.7h-1.7zM390 2365h1.7v1.7h-1.7zM384 2346h1.7v1.7h-1.7zM384 2351h1.7v1.7h-1.7zM381 2344h1.7v1.7h-1.7zM383 2355h1.7v1.7h-1.7zM387 2351h1.7v1.7h-1.7zM384 2337h1.7v1.7h-1.7zM380 2337h1.7v1.7h-1.7zM380 2334h1.7v1.7h-1.7zM380 2329h1.7v1.7h-1.7zM381 2335h1.7v1.7h-1.7zM380 2320h1.7v1.7h-1.7zM377 2317h1.7v1.7h-1.7zM380 2326h1.7v1.7h-1.7zM377 2315h1.7v1.7h-1.7zM376 2311h1.7v1.7h-1.7zM377 2316h1.7v1.7h-1.7zM381 2315h1.7v1.7h-1.7zM375 2311h1.7v1.7h-1.7z" fill="#F564E3"/>
<path d="M1077 2154h1.7v1.7h-1.7zM1072 2156h1.7v1.7h-1.7zM1070 2156h1.7v1.7h-1.7zM1085 2150h1.7v1.7h-1.7zM1081 2155h1.7v1.7h-1.7zM1066 2154h1.7v1.7h-1.7zM1070 2155h1.7v1.7h-1.7zM1075 2154h1.7v1.7h-1.7zM1091 2150h1.7v1.7h-1.7zM1102 2149h1.7v1.7h-1.7zM1102 2148h1.7v1.7h-1.7zM1100 2148h1.7v1.7h-1.7zM1099 2151h1.7v1.7h-1.7zM1105 2145h1.7v1.7h-1.7zM1099 2146h1.7v1.7h-1.7zM1089 2149h1.7v1.7h-1.7zM1113 2143h1.7v1.7h-1.7zM1115 2138h1.7v1.7h-1.7zM1116 2138h1.7v1.7h-1.7zM1113 2141h1.7v1.7h-1.7zM1113 2140h1.7v1.7h-1.7zM1103 2149h1.7v1.7h-1.7zM1105 2143h1.7v1.7h-1.7zM1127 2138h1.7v1.7h-1.7zM1119 2140h1.7v1.7h-1.7zM1130 2138h1.7v1.7h-1.7zM1124 2135h1.7v1.7h-1.7zM1123 2136h1.7v1.7h-1.7zM1129 2139h1.7v1.7h-1.7zM1134 2149h1.7v1.7h-1.7zM1135 2151h1.7v1.7h-1.7zM1130 2139h1.7v1.7h-1.7zM1132 2140h1.7v1.7h-1.7zM1135 2152h1.7v1.7h-1.7zM1131 2149h1.7v1.7h-1.7zM1132 2146h1.7v1.7h-1.7zM1126 2173h1.7v1.7h-1.7zM1135 2155h1.7v1.7h-1.7zM1130 2167h1.7v1.7h-1.7zM1129 2166h1.7v1.7h-1.7zM1125 2170h1.7v1.7h-1.7zM1136 2156h1.7v1.7h-1.7zM1128 2170h1.7v1.7h-1.7zM1130 2163h1.7v1.7h-1.7zM1122 2188h1.7v1.7h-1.7zM1125 2176h1.7v1.7h-1.7zM1124 2174h1.7v1.7h-1.7zM1122 2179h1.7v1.7h-1.7zM1121 2178h1.7v1.7h-1.7zM1123 2184h1.7v1.7h-1.7zM1118 2186h1.7v1.7h-1.7zM1108 2185h1.7v1.7h-1.7zM1115 2185h1.7v1.7h-1.7zM1102 2185h1.7v1.7h-1.7zM1108 2185h1.7v1.7h-1.7zM1109 2187h1.7v1.7h-1.7zM1108 2187h1.7v1.7h-1.7zM1119 2186h1.7v1.7h-1.7zM1102 2177h1.7v1.7h-1.7zM1095 2171h1.7v1.7h-1.7zM1101 2180h1.7v1.7h-1.7zM1095 2178h1.7v1.7h-1.7zM1099 2177h1.7v1.7h-1.7zM1095 2174h1.7v1.7h-1.7zM1097 2178h1.7v1.7h-1.7zM1100 2176h1.7v1.7h-1.7zM1088 2166h1.7v1.7h-1.7zM1083 2164h1.7v1.7h-1.7zM1082 2165h1.7v1.7h-1.7zM1081 2166h1.7v1.7h-1.7zM1083 2169h1.7v1.7h-1.7zM1084 2166h1.7v1.7h-1.7zM1085 2168h1.7v1.7h-1.7zM1079 2163h1.7v1.7h-1.7zM1070 2162h1.7v1.7h-1.7zM1070 2162h1.7v1.7h-1.7zM1075 2162h1.7v1.7h-1.7zM1069 2153h1.7v1.7h-1.7zM1069 2158h1.7v1.7h-1.7z" fill="#5EB300"/>
<path d="M954 2244h1.7v1.7h-1.7zM953 2244h1.7v1.7h-1.7zM961 2248h1.7v1.7h-1.7zM959 2244h1.7v1.7h-1.7zM959 2246h1.7v1.7h-1.7zM964 2251h1.7v1.7h-1.7zM962 2247h1.7v1.7h-1.7zM964 2255h1.7v1.7h-1.7zM966 2259h1.7v1.7h-1.7zM961 2254h1.7v1.7h-1.7zM970 2263h1.7v1.7h-1.7zM971 2269h1.7v1.7h-1.7zM971 2268h1.7v1.7h-1.7zM968 2266h1.7v1.7h-1.7zM972 2270h1.7v1.7h-1.7zM972 2269h1.7v1.7h-1.7zM963 2258h1.7v1.7h-1.7zM983 2276h1.7v1.7h-1.7zM987 2275h1.7v1.7h-1.7zM985 2278h1.7v1.7h-1.7zM987 2277h1.7v1.7h-1.7zM982 2275h1.7v1.7h-1.7zM974 2274h1.7v1.7h-1.7zM985 2280h1.7v1.7h-1.7zM984 2275h1.7v1.7h-1.7zM1007 2282h1.7v1.7h-1.7zM1003 2280h1.7v1.7h-1.7zM1002 2282h1.7v1.7h-1.7zM997 2280h1.7v1.7h-1.7zM994 2279h1.7v1.7h-1.7zM1008 2283h1.7v1.7h-1.7zM999 2282h1.7v1.7h-1.7zM998 2278h1.7v1.7h-1.7zM1029 2288h1.7v1.7h-1.7zM1027 2287h1.7v1.7h-1.7zM1022 2288h1.7v1.7h-1.7zM1014 2284h1.7v1.7h-1.7zM1027 2290h1.7v1.7h-1.7zM1023 2285h1.7v1.7h-1.7zM1029 2287h1.7v1.7h-1.7zM1021 2285h1.7v1.7h-1.7zM1035 2291h1.7v1.7h-1.7zM1034 2292h1.7v1.7h-1.7zM1036 2292h1.7v1.7h-1.7zM1037 2292h1.7v1.7h-1.7zM1038 2296h1.7v1.7h-1.7zM1050 2316h1.7v1.7h-1.7zM1047 2313h1.7v1.7h-1.7zM1045 2310h1.7v1.7h-1.7zM1045 2310h1.7v1.7h-1.7zM1045 2307h1.7v1.7h-1.7zM1042 2296h1.7v1.7h-1.7zM1049 2310h1.7v1.7h-1.7zM1040 2300h1.7v1.7h-1.7zM1053 2326h1.7v1.7h-1.7zM1054 2330h1.7v1.7h-1.7zM1054 2333h1.7v1.7h-1.7zM1051 2329h1.7v1.7h-1.7zM1052 2319h1.7v1.7h-1.7zM1048 2318h1.7v1.7h-1.7zM1050 2317h1.7v1.7h-1.7zM1056 2328h1.7v1.7h-1.7zM1043 2337h1.7v1.7h-1.7zM1046 2337h1.7v1.7h-1.7zM1054 2337h1.7v1.7h-1.7zM1048 2334h1.7v1.7h-1.7zM1049 2335h1.7v1.7h-1.7zM1032 2337h1.7v1.7h-1.7zM1039 2338h1.7v1.7h-1.7zM1043 2338h1.7v1.7h-1.7zM1035 2339h1.7v1.7h-1.7zM1044 2338h1.7v1.7h-1.7zM1031 2336h1.7v1.7h-1.7zM1018 2332h1.7v1.7h-1.7zM1026 2332h1.7v1.7h-1.7zM1011 2333h1.7v1.7h-1.7zM1022 2333h1.7v1.7h-1.7zM1023 2332h1.7v1.7h-1.7zM1023 2332h1.7v1.7h-1.7zM1013 2330h1.7v1.7h-1.7zM1016 2330h1.7v1.7h-1.7zM996 2327h1.7v1.7h-1.7zM998 2325h1.7v1.7h-1.7zM1000 2327h1.7v1.7h-1.7zM993 2327h1.7v1.7h-1.7zM996 2327h1.7v1.7h-1.7zM1004 2329h1.7v1.7h-1.7zM998 2328h1.7v1.7h-1.7zM999 2326h1.7v1.7h-1.7zM985 2327h1.7v1.7h-1.7zM982 2326h1.7v1.7h-1.7zM989 2322h1.7v1.7h-1.7zM979 2323h1.7v1.7h-1.7zM977 2326h1.7v1.7h-1.7zM979 2326h1.7v1.7h-1.7zM988 2324h1.7v1.7h-1.7zM991 2326h1.7v1.7h-1.7zM962 2323h1.7v1.7h-1.7zM972 2327h1.7v1.7h-1.7zM970 2325h1.7v1.7h-1.7zM959 2320h1.7v1.7h-1.7zM966 2326h1.7v1.7h-1.7zM961 2320h1.7v1.7h-1.7zM965 2325h1.7v1.7h-1.7zM971 2323h1.7v1.7h-1.7zM955 2319h1.7v1.7h-1.7zM949 2306h1.7v1.7h-1.7zM954 2313h1.7v1.7h-1.7zM954 2312h1.7v1.7h-1.7zM948 2304h1.7v1.7h-1.7zM952 2314h1.7v1.7h-1.7zM951 2306h1.7v1.7h-1.7zM955 2319h1.7v1.7h-1.7zM954 2311h1.7v1.7h-1.7zM946 2291h1.7v1.7h-1.7zM944 2295h1.7v1.7h-1.7zM941 2285h1.7v1.7h-1.7zM948 2293h1.7v1.7h-1.7zM940 2282h1.7v1.7h-1.7zM947 2290h1.7v1.7h-1.7zM942 2281h1.7v1.7h-1.7zM942 2288h1.7v1.7h-1.7zM944 2284h1.7v1.7h-1.7zM944 2290h1.7v1.7h-1.7zM947 2257h1.7v1.7h-1.7zM945 2266h1.7v1.7h-1.7zM945 2272h1.7v1.7h-1.7zM943 2270h1.7v1.7h-1.7zM945 2275h1.7v1.7h-1.7zM942 2274h1.7v1.7h-1.7zM945 2270h1.7v1.7h-1.7zM942 2254h1.7v1.7h-1.7zM943 2259h1.7v1.7h-1.7zM949 2246h1.7v1.7h-1.7zM949 2247h1.7v1.7h-1.7zM945 2254h1.7v1.7h-1.7zM949 2250h1.7v1.7h-1.7zM945 2251h1.7v1.7h-1.7zM950 2243h1.7v1.7h-1.7zM91 2104h1.7v1.7h-1.7zM94 2103h1.7v1.7h-1.7zM93 2105h1.7v1.7h-1.7zM93 2107h1.7v1.7h-1.7zM93 2096h1.7v1.7h-1.7zM93 2094h1.7v1.7h-1.7zM94 2090h1.7v1.7h-1.7zM95 2105h1.7v1.7h-1.7zM98 2083h1.7v1.7h-1.7zM97 2080h1.7v1.7h-1.7zM96 2083h1.7v1.7h-1.7zM101 2074h1.7v1.7h-1.7zM101 2075h1.7v1.7h-1.7zM94 2083h1.7v1.7h-1.7zM100 2067h1.7v1.7h-1.7zM96 2084h1.7v1.7h-1.7zM100 2061h1.7v1.7h-1.7zM106 2059h1.7v1.7h-1.7zM105 2056h1.7v1.7h-1.7zM103 2059h1.7v1.7h-1.7zM102 2057h1.7v1.7h-1.7zM101 2052h1.7v1.7h-1.7zM106 2046h1.7v1.7h-1.7zM107 2050h1.7v1.7h-1.7zM108 2046h1.7v1.7h-1.7zM115 2035h1.7v1.7h-1.7zM112 2035h1.7v1.7h-1.7zM112 2034h1.7v1.7h-1.7zM112 2033h1.7v1.7h-1.7zM112 2035h1.7v1.7h-1.7zM121 2031h1.7v1.7h-1.7zM119 2030h1.7v1.7h-1.7zM117 2027h1.7v1.7h-1.7zM121 2031h1.7v1.7h-1.7zM123 2027h1.7v1.7h-1.7zM128 2031h1.7v1.7h-1.7zM133 2032h1.7v1.7h-1.7zM135 2030h1.7v1.7h-1.7zM132 2032h1.7v1.7h-1.7zM141 2033h1.7v1.7h-1.7zM137 2035h1.7v1.7h-1.7zM145 2036h1.7v1.7h-1.7zM148 2034h1.7v1.7h-1.7zM154 2035h1.7v1.7h-1.7zM149 2038h1.7v1.7h-1.7zM151 2038h1.7v1.7h-1.7zM161 2036h1.7v1.7h-1.7zM167 2035h1.7v1.7h-1.7zM167 2037h1.7v1.7h-1.7zM161 2035h1.7v1.7h-1.7zM174 2041h1.7v1.7h-1.7zM175 2040h1.7v1.7h-1.7zM175 2040h1.7v1.7h-1.7zM169 2039h1.7v1.7h-1.7zM179 2042h1.7v1.7h-1.7zM184 2038h1.7v1.7h-1.7zM181 2041h1.7v1.7h-1.7zM191 2037h1.7v1.7h-1.7zM188 2038h1.7v1.7h-1.7zM192 2041h1.7v1.7h-1.7zM194 2039h1.7v1.7h-1.7zM206 2053h1.7v1.7h-1.7zM204 2051h1.7v1.7h-1.7zM201 2048h1.7v1.7h-1.7zM198 2045h1.7v1.7h-1.7zM201 2051h1.7v1.7h-1.7zM209 2062h1.7v1.7h-1.7zM212 2061h1.7v1.7h-1.7zM210 2057h1.7v1.7h-1.7zM205 2054h1.7v1.7h-1.7zM206 2054h1.7v1.7h-1.7zM214 2073h1.7v1.7h-1.7zM211 2074h1.7v1.7h-1.7zM213 2080h1.7v1.7h-1.7zM212 2066h1.7v1.7h-1.7zM211 2073h1.7v1.7h-1.7zM213 2084h1.7v1.7h-1.7zM213 2089h1.7v1.7h-1.7zM212 2082h1.7v1.7h-1.7zM211 2089h1.7v1.7h-1.7zM209 2090h1.7v1.7h-1.7zM208 2098h1.7v1.7h-1.7zM207 2095h1.7v1.7h-1.7zM208 2101h1.7v1.7h-1.7zM204 2102h1.7v1.7h-1.7zM211 2102h1.7v1.7h-1.7zM203 2110h1.7v1.7h-1.7zM203 2109h1.7v1.7h-1.7zM207 2104h1.7v1.7h-1.7zM201 2112h1.7v1.7h-1.7zM201 2110h1.7v1.7h-1.7zM199 2103h1.7v1.7h-1.7zM197 2101h1.7v1.7h-1.7zM194 2096h1.7v1.7h-1.7zM197 2089h1.7v1.7h-1.7zM198 2101h1.7v1.7h-1.7zM198 2099h1.7v1.7h-1.7zM191 2085h1.7v1.7h-1.7zM194 2087h1.7v1.7h-1.7zM190 2081h1.7v1.7h-1.7zM187 2078h1.7v1.7h-1.7zM181 2079h1.7v1.7h-1.7zM184 2077h1.7v1.7h-1.7zM187 2080h1.7v1.7h-1.7zM176 2080h1.7v1.7h-1.7zM181 2079h1.7v1.7h-1.7zM174 2084h1.7v1.7h-1.7zM172 2084h1.7v1.7h-1.7zM171 2085h1.7v1.7h-1.7zM167 2089h1.7v1.7h-1.7zM167 2085h1.7v1.7h-1.7zM167 2089h1.7v1.7h-1.7zM163 2092h1.7v1.7h-1.7zM162 2096h1.7v1.7h-1.7zM164 2091h1.7v1.7h-1.7zM162 2097h1.7v1.7h-1.7zM160 2105h1.7v1.7h-1.7zM161 2102h1.7v1.7h-1.7zM161 2104h1.7v1.7h-1.7zM162 2104h1.7v1.7h-1.7zM162 2117h1.7v1.7h-1.7zM164 2118h1.7v1.7h-1.7zM164 2116h1.7v1.7h-1.7zM163 2113h1.7v1.7h-1.7zM158 2122h1.7v1.7h-1.7zM161 2120h1.7v1.7h-1.7zM163 2122h1.7v1.7h-1.7zM161 2119h1.7v1.7h-1.7zM151 2132h1.7v1.7h-1.7zM157 2128h1.7v1.7h-1.7zM154 2127h1.7v1.7h-1.7zM154 2127h1.7v1.7h-1.7zM150 2136h1.7v1.7h-1.7zM151 2134h1.7v1.7h-1.7zM148 2136h1.7v1.7h-1.7zM147 2139h1.7v1.7h-1.7zM140 2138h1.7v1.7h-1.7zM141 2136h1.7v1.7h-1.7zM143 2135h1.7v1.7h-1.7zM137 2129h1.7v1.7h-1.7zM141 2134h1.7v1.7h-1.7zM142 2132h1.7v1.7h-1.7zM131 2127h1.7v1.7h-1.7zM131 2127h1.7v1.7h-1.7zM130 2125h1.7v1.7h-1.7zM135 2127h1.7v1.7h-1.7zM114 2123h1.7v1.7h-1.7zM120 2126h1.7v1.7h-1.7zM116 2125h1.7v1.7h-1.7zM109 2137h1.7v1.7h-1.7zM110 2127h1.7v1.7h-1.7zM111 2132h1.7v1.7h-1.7zM108 2133h1.7v1.7h-1.7zM110 2135h1.7v1.7h-1.7zM103 2134h1.7v1.7h-1.7zM106 2130h1.7v1.7h-1.7zM106 2128h1.7v1.7h-1.7zM110 2135h1.7v1.7h-1.7zM105 2135h1.7v1.7h-1.7zM95 2123h1.7v1.7h-1.7zM101 2125h1.7v1.7h-1.7zM96 2122h1.7v1.7h-1.7zM101 2125h1.7v1.7h-1.7zM95 2120h1.7v1.7h-1.7zM90 2116h1.7v1.7h-1.7zM94 2114h1.7v1.7h-1.7zM93 2113h1.7v1.7h-1.7zM147 2100h1.7v1.7h-1.7zM123 2091h1.7v1.7h-1.7zM142 2099h1.7v1.7h-1.7zM148 2086h1.7v1.7h-1.7zM153 2097h1.7v1.7h-1.7zM137 2091h1.7v1.7h-1.7zM151 2091h1.7v1.7h-1.7zM127 2074h1.7v1.7h-1.7zM117 2085h1.7v1.7h-1.7zM132 2098h1.7v1.7h-1.7zM116 2077h1.7v1.7h-1.7zM127 2069h1.7v1.7h-1.7zM136 2107h1.7v1.7h-1.7zM151 2097h1.7v1.7h-1.7zM137 2106h1.7v1.7h-1.7zM134 2091h1.7v1.7h-1.7zM150 2097h1.7v1.7h-1.7zM133 2067h1.7v1.7h-1.7zM151 2089h1.7v1.7h-1.7zM111 2096h1.7v1.7h-1.7zM141 2094h1.7v1.7h-1.7zM115 2089h1.7v1.7h-1.7zM131 2081h1.7v1.7h-1.7zM142 2107h1.7v1.7h-1.7zM110 2085h1.7v1.7h-1.7zM120 2092h1.7v1.7h-1.7zM127 2101h1.7v1.7h-1.7zM128 2074h1.7v1.7h-1.7zM145 2079h1.7v1.7h-1.7zM128 2104h1.7v1.7h-1.7zM127 2073h1.7v1.7h-1.7zM129 2072h1.7v1.7h-1.7zM118 2106h1.7v1.7h-1.7zM136 2088h1.7v1.7h-1.7zM122 2079h1.7v1.7h-1.7zM144 2085h1.7v1.7h-1.7zM111 2082h1.7v1.7h-1.7zM128 2110h1.7v1.7h-1.7zM125 2095h1.7v1.7h-1.7zM132 2090h1.7v1.7h-1.7zM148 2075h1.7v1.7h-1.7zM116 2077h1.7v1.7h-1.7zM126 2080h1.7v1.7h-1.7zM120 2076h1.7v1.7h-1.7zM137 2084h1.7v1.7h-1.7zM139 2075h1.7v1.7h-1.7zM125 2076h1.7v1.7h-1.7zM148 2079h1.7v1.7h-1.7zM123 2072h1.7v1.7h-1.7zM136 2079h1.7v1.7h-1.7zM141 2085h1.7v1.7h-1.7zM137 2092h1.7v1.7h-1.7zM149 2075h1.7v1.7h-1.7zM135 2099h1.7v1.7h-1.7zM128 2074h1.7v1.7h-1.7zM144 2071h1.7v1.7h-1.7zM129 2075h1.7v1.7h-1.7zM142 2100h1.7v1.7h-1.7zM146 2092h1.7v1.7h-1.7zM138 2110h1.7v1.7h-1.7zM129 2112h1.7v1.7h-1.7zM123 2086h1.7v1.7h-1.7zM130 2101h1.7v1.7h-1.7zM127 2107h1.7v1.7h-1.7zM130 2082h1.7v1.7h-1.7zM121 2103h1.7v1.7h-1.7zM123 2090h1.7v1.7h-1.7zM148 2105h1.7v1.7h-1.7zM145 2074h1.7v1.7h-1.7zM135 2080h1.7v1.7h-1.7zM128 2085h1.7v1.7h-1.7zM148 2103h1.7v1.7h-1.7zM130 2103h1.7v1.7h-1.7zM147 2079h1.7v1.7h-1.7zM118 2091h1.7v1.7h-1.7zM125 2086h1.7v1.7h-1.7zM150 2077h1.7v1.7h-1.7zM136 2068h1.7v1.7h-1.7zM146 2079h1.7v1.7h-1.7zM126 2111h1.7v1.7h-1.7zM113 2083h1.7v1.7h-1.7zM152 2090h1.7v1.7h-1.7zM136 2068h1.7v1.7h-1.7zM116 2079h1.7v1.7h-1.7zM126 2085h1.7v1.7h-1.7zM138 2094h1.7v1.7h-1.7zM118 2087h1.7v1.7h-1.7zM119 2108h1.7v1.7h-1.7zM133 2090h1.7v1.7h-1.7zM127 2109h1.7v1.7h-1.7zM129 2073h1.7v1.7h-1.7zM128 2070h1.7v1.7h-1.7zM124 2079h1.7v1.7h-1.7zM154 2089h1.7v1.7h-1.7zM124 2105h1.7v1.7h-1.7zM128 2109h1.7v1.7h-1.7zM117 2093h1.7v1.7h-1.7zM133 2088h1.7v1.7h-1.7zM137 2112h1.7v1.7h-1.7zM123 2083h1.7v1.7h-1.7zM123 2097h1.7v1.7h-1.7zM118 2091h1.7v1.7h-1.7zM120 2072h1.7v1.7h-1.7zM141 2073h1.7v1.7h-1.7zM126 2087h1.7v1.7h-1.7zM142 2086h1.7v1.7h-1.7zM113 2086h1.7v1.7h-1.7zM141 2096h1.7v1.7h-1.7zM111 2087h1.7v1.7h-1.7zM143 2074h1.7v1.7h-1.7zM126 2105h1.7v1.7h-1.7zM149 2080h1.7v1.7h-1.7zM113 2077h1.7v1.7h-1.7zM145 2103h1.7v1.7h-1.7zM116 2082h1.7v1.7h-1.7zM129 2090h1.7v1.7h-1.7zM125 2068h1.7v1.7h-1.7zM128 2093h1.7v1.7h-1.7zM147 2086h1.7v1.7h-1.7zM119 2105h1.7v1.7h-1.7zM130 2081h1.7v1.7h-1.7zM133 2071h1.7v1.7h-1.7zM121 2085h1.7v1.7h-1.7zM118 2102h1.7v1.7h-1.7zM132 2096h1.7v1.7h-1.7zM129 2077h1.7v1.7h-1.7zM116 2074h1.7v1.7h-1.7zM127 2090h1.7v1.7h-1.7zM111 2087h1.7v1.7h-1.7zM120 2100h1.7v1.7h-1.7zM153 2087h1.7v1.7h-1.7zM112 2094h1.7v1.7h-1.7zM137 2086h1.7v1.7h-1.7zM136 2107h1.7v1.7h-1.7zM120 2084h1.7v1.7h-1.7zM141 2074h1.7v1.7h-1.7zM123 2106h1.7v1.7h-1.7zM145 2086h1.7v1.7h-1.7zM144 2075h1.7v1.7h-1.7zM138 2094h1.7v1.7h-1.7zM134 2078h1.7v1.7h-1.7zM114 2079h1.7v1.7h-1.7zM136 2068h1.7v1.7h-1.7zM153 2100h1.7v1.7h-1.7zM149 2088h1.7v1.7h-1.7zM132 2098h1.7v1.7h-1.7zM120 2080h1.7v1.7h-1.7zM128 2103h1.7v1.7h-1.7zM153 2099h1.7v1.7h-1.7zM116 2105h1.7v1.7h-1.7zM123 2068h1.7v1.7h-1.7zM128 2071h1.7v1.7h-1.7zM121 2070h1.7v1.7h-1.7zM132 2091h1.7v1.7h-1.7zM120 2101h1.7v1.7h-1.7zM122 2076h1.7v1.7h-1.7zM129 2087h1.7v1.7h-1.7zM126 2093h1.7v1.7h-1.7zM152 2094h1.7v1.7h-1.7zM115 2091h1.7v1.7h-1.7zM134 2090h1.7v1.7h-1.7zM121 2085h1.7v1.7h-1.7zM125 2095h1.7v1.7h-1.7zM126 2069h1.7v1.7h-1.7zM116 2078h1.7v1.7h-1.7zM135 2097h1.7v1.7h-1.7zM127 2106h1.7v1.7h-1.7zM155 2084h1.7v1.7h-1.7zM149 2091h1.7v1.7h-1.7zM120 2073h1.7v1.7h-1.7zM132 2099h1.7v1.7h-1.7zM127 2099h1.7v1.7h-1.7zM127 2097h1.7v1.7h-1.7zM140 2082h1.7v1.7h-1.7zM154 2093h1.7v1.7h-1.7zM134 2082h1.7v1.7h-1.7zM122 2079h1.7v1.7h-1.7zM148 2098h1.7v1.7h-1.7zM133 2096h1.7v1.7h-1.7zM111 2086h1.7v1.7h-1.7zM129 2112h1.7v1.7h-1.7zM136 2093h1.7v1.7h-1.7zM130 2099h1.7v1.7h-1.7zM152 2089h1.7v1.7h-1.7zM130 2091h1.7v1.7h-1.7zM136 2105h1.7v1.7h-1.7zM145 2083h1.7v1.7h-1.7zM117 2103h1.7v1.7h-1.7zM134 2078h1.7v1.7h-1.7zM121 2073h1.7v1.7h-1.7zM137 2093h1.7v1.7h-1.7zM114 2093h1.7v1.7h-1.7zM146 2139h1.7v1.7h-1.7zM143 2138h1.7v1.7h-1.7zM140 2137h1.7v1.7h-1.7zM150 2136h1.7v1.7h-1.7zM157 2133h1.7v1.7h-1.7zM152 2131h1.7v1.7h-1.7zM149 2135h1.7v1.7h-1.7zM159 2140h1.7v1.7h-1.7zM165 2139h1.7v1.7h-1.7zM160 2135h1.7v1.7h-1.7zM163 2138h1.7v1.7h-1.7zM164 2151h1.7v1.7h-1.7zM164 2144h1.7v1.7h-1.7zM169 2151h1.7v1.7h-1.7zM164 2144h1.7v1.7h-1.7zM170 2159h1.7v1.7h-1.7zM171 2156h1.7v1.7h-1.7zM168 2156h1.7v1.7h-1.7zM169 2155h1.7v1.7h-1.7zM168 2155h1.7v1.7h-1.7zM176 2165h1.7v1.7h-1.7zM176 2168h1.7v1.7h-1.7zM179 2169h1.7v1.7h-1.7zM181 2174h1.7v1.7h-1.7zM179 2177h1.7v1.7h-1.7zM184 2179h1.7v1.7h-1.7zM181 2171h1.7v1.7h-1.7zM178 2176h1.7v1.7h-1.7zM181 2168h1.7v1.7h-1.7zM186 2195h1.7v1.7h-1.7zM182 2183h1.7v1.7h-1.7zM186 2188h1.7v1.7h-1.7zM187 2193h1.7v1.7h-1.7zM190 2201h1.7v1.7h-1.7zM188 2190h1.7v1.7h-1.7zM187 2198h1.7v1.7h-1.7zM191 2206h1.7v1.7h-1.7zM189 2207h1.7v1.7h-1.7zM190 2211h1.7v1.7h-1.7zM192 2211h1.7v1.7h-1.7zM192 2218h1.7v1.7h-1.7zM187 2225h1.7v1.7h-1.7zM192 2214h1.7v1.7h-1.7zM186 2222h1.7v1.7h-1.7zM180 2227h1.7v1.7h-1.7zM181 2232h1.7v1.7h-1.7zM183 2224h1.7v1.7h-1.7zM188 2227h1.7v1.7h-1.7zM177 2230h1.7v1.7h-1.7zM172 2228h1.7v1.7h-1.7zM167 2233h1.7v1.7h-1.7zM172 2229h1.7v1.7h-1.7zM168 2230h1.7v1.7h-1.7zM161 2228h1.7v1.7h-1.7zM160 2231h1.7v1.7h-1.7zM165 2233h1.7v1.7h-1.7zM155 2231h1.7v1.7h-1.7zM149 2229h1.7v1.7h-1.7zM151 2226h1.7v1.7h-1.7zM150 2229h1.7v1.7h-1.7zM152 2223h1.7v1.7h-1.7zM149 2222h1.7v1.7h-1.7zM148 2219h1.7v1.7h-1.7zM147 2227h1.7v1.7h-1.7zM146 2211h1.7v1.7h-1.7zM146 2204h1.7v1.7h-1.7zM145 2205h1.7v1.7h-1.7zM146 2210h1.7v1.7h-1.7zM145 2205h1.7v1.7h-1.7zM146 2207h1.7v1.7h-1.7zM142 2179h1.7v1.7h-1.7zM143 2177h1.7v1.7h-1.7zM140 2179h1.7v1.7h-1.7zM144 2184h1.7v1.7h-1.7zM145 2194h1.7v1.7h-1.7zM140 2195h1.7v1.7h-1.7zM142 2189h1.7v1.7h-1.7zM145 2167h1.7v1.7h-1.7zM137 2161h1.7v1.7h-1.7zM144 2173h1.7v1.7h-1.7zM145 2167h1.7v1.7h-1.7zM142 2163h1.7v1.7h-1.7zM140 2159h1.7v1.7h-1.7zM141 2169h1.7v1.7h-1.7zM140 2142h1.7v1.7h-1.7zM141 2149h1.7v1.7h-1.7zM141 2158h1.7v1.7h-1.7zM140 2154h1.7v1.7h-1.7zM143 2156h1.7v1.7h-1.7zM143 2148h1.7v1.7h-1.7z" fill="#E88526"/>
<path d="M347 2128h1.7v1.7h-1.7zM348 2124h1.7v1.7h-1.7zM347 2131h1.7v1.7h-1.7zM356 2124h1.7v1.7h-1.7zM356 2125h1.7v1.7h-1.7zM353 2124h1.7v1.7h-1.7zM352 2123h1.7v1.7h-1.7zM366 2122h1.7v1.7h-1.7zM370 2124h1.7v1.7h-1.7zM362 2119h1.7v1.7h-1.7zM370 2126h1.7v1.7h-1.7zM368 2123h1.7v1.7h-1.7zM375 2125h1.7v1.7h-1.7zM374 2125h1.7v1.7h-1.7zM378 2128h1.7v1.7h-1.7zM376 2125h1.7v1.7h-1.7zM379 2124h1.7v1.7h-1.7zM388 2132h1.7v1.7h-1.7zM390 2137h1.7v1.7h-1.7zM391 2139h1.7v1.7h-1.7zM390 2137h1.7v1.7h-1.7zM394 2135h1.7v1.7h-1.7zM403 2141h1.7v1.7h-1.7zM398 2140h1.7v1.7h-1.7zM394 2140h1.7v1.7h-1.7zM401 2139h1.7v1.7h-1.7zM411 2145h1.7v1.7h-1.7zM412 2146h1.7v1.7h-1.7zM408 2139h1.7v1.7h-1.7zM409 2147h1.7v1.7h-1.7zM416 2148h1.7v1.7h-1.7zM414 2159h1.7v1.7h-1.7zM418 2157h1.7v1.7h-1.7zM414 2156h1.7v1.7h-1.7zM412 2160h1.7v1.7h-1.7zM414 2158h1.7v1.7h-1.7zM412 2159h1.7v1.7h-1.7zM409 2164h1.7v1.7h-1.7zM398 2175h1.7v1.7h-1.7zM397 2172h1.7v1.7h-1.7zM401 2175h1.7v1.7h-1.7zM407 2165h1.7v1.7h-1.7zM394 2176h1.7v1.7h-1.7zM396 2180h1.7v1.7h-1.7zM396 2184h1.7v1.7h-1.7zM392 2189h1.7v1.7h-1.7zM393 2188h1.7v1.7h-1.7zM395 2183h1.7v1.7h-1.7zM390 2189h1.7v1.7h-1.7zM388 2188h1.7v1.7h-1.7zM385 2189h1.7v1.7h-1.7zM382 2186h1.7v1.7h-1.7zM382 2184h1.7v1.7h-1.7zM383 2185h1.7v1.7h-1.7zM377 2181h1.7v1.7h-1.7zM372 2181h1.7v1.7h-1.7zM371 2177h1.7v1.7h-1.7zM372 2176h1.7v1.7h-1.7zM365 2167h1.7v1.7h-1.7zM365 2166h1.7v1.7h-1.7zM361 2167h1.7v1.7h-1.7zM363 2171h1.7v1.7h-1.7zM357 2157h1.7v1.7h-1.7zM361 2158h1.7v1.7h-1.7zM360 2160h1.7v1.7h-1.7zM360 2162h1.7v1.7h-1.7zM354 2156h1.7v1.7h-1.7zM355 2159h1.7v1.7h-1.7zM349 2152h1.7v1.7h-1.7zM349 2149h1.7v1.7h-1.7zM349 2150h1.7v1.7h-1.7zM344 2138h1.7v1.7h-1.7zM349 2143h1.7v1.7h-1.7zM343 2137h1.7v1.7h-1.7zM343 2137h1.7v1.7h-1.7zM343 2125h1.7v1.7h-1.7zM343 2129h1.7v1.7h-1.7zM343 2131h1.7v1.7h-1.7zM333 2164h1.7v1.7h-1.7zM327 2161h1.7v1.7h-1.7zM330 2167h1.7v1.7h-1.7zM333 2165h1.7v1.7h-1.7zM335 2165h1.7v1.7h-1.7zM337 2169h1.7v1.7h-1.7zM332 2165h1.7v1.7h-1.7zM352 2182h1.7v1.7h-1.7zM344 2173h1.7v1.7h-1.7zM351 2183h1.7v1.7h-1.7zM345 2174h1.7v1.7h-1.7zM345 2177h1.7v1.7h-1.7zM353 2189h1.7v1.7h-1.7zM353 2191h1.7v1.7h-1.7zM356 2189h1.7v1.7h-1.7zM343 2193h1.7v1.7h-1.7zM350 2191h1.7v1.7h-1.7zM346 2194h1.7v1.7h-1.7zM353 2192h1.7v1.7h-1.7zM337 2186h1.7v1.7h-1.7zM333 2188h1.7v1.7h-1.7zM333 2190h1.7v1.7h-1.7zM334 2191h1.7v1.7h-1.7zM331 2186h1.7v1.7h-1.7zM325 2178h1.7v1.7h-1.7zM325 2183h1.7v1.7h-1.7zM325 2179h1.7v1.7h-1.7zM326 2179h1.7v1.7h-1.7zM325 2183h1.7v1.7h-1.7zM324 2168h1.7v1.7h-1.7zM323 2174h1.7v1.7h-1.7zM322 2167h1.7v1.7h-1.7zM328 2168h1.7v1.7h-1.7zM1195 1996h1.7v1.7h-1.7zM1190 2000h1.7v1.7h-1.7zM1192 1998h1.7v1.7h-1.7zM1193 1997h1.7v1.7h-1.7zM1200 1994h1.7v1.7h-1.7zM1195 1997h1.7v1.7h-1.7zM1196 1993h1.7v1.7h-1.7zM1199 1996h1.7v1.7h-1.7zM1202 1993h1.7v1.7h-1.7zM1207 1995h1.7v1.7h-1.7zM1206 1994h1.7v1.7h-1.7zM1207 2002h1.7v1.7h-1.7zM1210 1992h1.7v1.7h-1.7zM1210 2002h1.7v1.7h-1.7zM1206 2006h1.7v1.7h-1.7zM1203 2006h1.7v1.7h-1.7zM1209 2007h1.7v1.7h-1.7zM1198 2013h1.7v1.7h-1.7zM1203 2012h1.7v1.7h-1.7zM1196 2018h1.7v1.7h-1.7zM1203 2009h1.7v1.7h-1.7zM1195 2021h1.7v1.7h-1.7zM1195 2027h1.7v1.7h-1.7zM1195 2025h1.7v1.7h-1.7zM1188 2022h1.7v1.7h-1.7zM1189 2025h1.7v1.7h-1.7zM1191 2023h1.7v1.7h-1.7zM1185 2020h1.7v1.7h-1.7zM1185 2014h1.7v1.7h-1.7zM1185 2022h1.7v1.7h-1.7zM1183 2011h1.7v1.7h-1.7zM1184 2004h1.7v1.7h-1.7zM1187 2010h1.7v1.7h-1.7zM1184 2005h1.7v1.7h-1.7zM1378 2055h1.7v1.7h-1.7zM1377 2051h1.7v1.7h-1.7zM1377 2053h1.7v1.7h-1.7zM1377 2053h1.7v1.7h-1.7zM1378 2057h1.7v1.7h-1.7zM1380 2061h1.7v1.7h-1.7zM1379 2058h1.7v1.7h-1.7zM1379 2068h1.7v1.7h-1.7zM1382 2057h1.7v1.7h-1.7zM1381 2076h1.7v1.7h-1.7zM1383 2074h1.7v1.7h-1.7zM1385 2074h1.7v1.7h-1.7zM1385 2082h1.7v1.7h-1.7zM1384 2076h1.7v1.7h-1.7zM1381 2089h1.7v1.7h-1.7zM1382 2087h1.7v1.7h-1.7zM1380 2086h1.7v1.7h-1.7zM1378 2088h1.7v1.7h-1.7zM1374 2087h1.7v1.7h-1.7zM1376 2089h1.7v1.7h-1.7zM1371 2074h1.7v1.7h-1.7zM1372 2079h1.7v1.7h-1.7zM1371 2081h1.7v1.7h-1.7zM1372 2083h1.7v1.7h-1.7zM1375 2082h1.7v1.7h-1.7zM1372 2065h1.7v1.7h-1.7zM1371 2071h1.7v1.7h-1.7zM1371 2063h1.7v1.7h-1.7zM1372 2070h1.7v1.7h-1.7zM1372 2063h1.7v1.7h-1.7zM1370 2059h1.7v1.7h-1.7zM1374 2051h1.7v1.7h-1.7zM1373 2054h1.7v1.7h-1.7zM1372 2057h1.7v1.7h-1.7zM1374 2059h1.7v1.7h-1.7zM368 2149h1.7v1.7h-1.7zM392 2139h1.7v1.7h-1.7zM355 2140h1.7v1.7h-1.7zM354 2182h1.7v1.7h-1.7zM332 2180h1.7v1.7h-1.7zM355 2188h1.7v1.7h-1.7zM334 2169h1.7v1.7h-1.7zM375 2156h1.7v1.7h-1.7zM412 2188h1.7v1.7h-1.7zM409 2133h1.7v1.7h-1.7zM355 2184h1.7v1.7h-1.7zM368 2168h1.7v1.7h-1.7zM373 2161h1.7v1.7h-1.7zM388 2178h1.7v1.7h-1.7zM371 2121h1.7v1.7h-1.7zM349 2178h1.7v1.7h-1.7zM413 2160h1.7v1.7h-1.7zM370 2141h1.7v1.7h-1.7zM381 2154h1.7v1.7h-1.7zM366 2124h1.7v1.7h-1.7zM356 2167h1.7v1.7h-1.7zM362 2171h1.7v1.7h-1.7zM357 2180h1.7v1.7h-1.7zM383 2129h1.7v1.7h-1.7zM410 2146h1.7v1.7h-1.7zM410 2146h1.7v1.7h-1.7zM415 2183h1.7v1.7h-1.7zM375 2178h1.7v1.7h-1.7zM392 2168h1.7v1.7h-1.7zM362 2187h1.7v1.7h-1.7zM397 2168h1.7v1.7h-1.7zM394 2137h1.7v1.7h-1.7zM339 2188h1.7v1.7h-1.7zM358 2134h1.7v1.7h-1.7zM406 2166h1.7v1.7h-1.7zM337 2147h1.7v1.7h-1.7zM336 2187h1.7v1.7h-1.7zM339 2138h1.7v1.7h-1.7zM387 2161h1.7v1.7h-1.7zM347 2147h1.7v1.7h-1.7zM363 2163h1.7v1.7h-1.7zM331 2153h1.7v1.7h-1.7zM384 2169h1.7v1.7h-1.7zM383 2164h1.7v1.7h-1.7zM359 2142h1.7v1.7h-1.7zM397 2141h1.7v1.7h-1.7zM386 2162h1.7v1.7h-1.7zM410 2126h1.7v1.7h-1.7zM382 2132h1.7v1.7h-1.7zM385 2130h1.7v1.7h-1.7zM379 2142h1.7v1.7h-1.7zM346 2169h1.7v1.7h-1.7zM362 2161h1.7v1.7h-1.7zM386 2127h1.7v1.7h-1.7zM404 2159h1.7v1.7h-1.7zM366 2119h1.7v1.7h-1.7zM336 2147h1.7v1.7h-1.7zM381 2167h1.7v1.7h-1.7zM363 2150h1.7v1.7h-1.7zM391 2173h1.7v1.7h-1.7zM405 2179h1.7v1.7h-1.7zM357 2163h1.7v1.7h-1.7zM374 2152h1.7v1.7h-1.7zM411 2186h1.7v1.7h-1.7zM377 2176h1.7v1.7h-1.7zM331 2134h1.7v1.7h-1.7zM402 2186h1.7v1.7h-1.7zM399 2188h1.7v1.7h-1.7zM407 2120h1.7v1.7h-1.7zM336 2179h1.7v1.7h-1.7zM414 2144h1.7v1.7h-1.7zM364 2165h1.7v1.7h-1.7zM365 2168h1.7v1.7h-1.7zM348 2176h1.7v1.7h-1.7zM405 2126h1.7v1.7h-1.7zM404 2186h1.7v1.7h-1.7zM394 2180h1.7v1.7h-1.7zM359 2187h1.7v1.7h-1.7zM379 2134h1.7v1.7h-1.7zM347 2188h1.7v1.7h-1.7zM1378 2061h1.7v1.7h-1.7zM1372 2074h1.7v1.7h-1.7zM1378 2076h1.7v1.7h-1.7zM1375 2062h1.7v1.7h-1.7zM1371 2068h1.7v1.7h-1.7zM1377 2058h1.7v1.7h-1.7zM1374 2079h1.7v1.7h-1.7zM1371 2057h1.7v1.7h-1.7zM1370 2051h1.7v1.7h-1.7zM1378 2056h1.7v1.7h-1.7zM1374 2079h1.7v1.7h-1.7zM1372 2060h1.7v1.7h-1.7zM1376 2069h1.7v1.7h-1.7zM1377 2075h1.7v1.7h-1.7zM1371 2052h1.7v1.7h-1.7zM1370 2058h1.7v1.7h-1.7zM1375 2054h1.7v1.7h-1.7zM1376 2069h1.7v1.7h-1.7zM1372 2067h1.7v1.7h-1.7zM1374 2070h1.7v1.7h-1.7z" fill="#2BB600"/>
<path d="M372 2111h1.7v1.7h-1.7zM372 2109h1.7v1.7h-1.7zM375 2110h1.7v1.7h-1.7zM375 2114h1.7v1.7h-1.7zM385 2113h1.7v1.7h-1.7zM389 2113h1.7v1.7h-1.7zM387 2113h1.7v1.7h-1.7zM391 2117h1.7v1.7h-1.7zM384 2127h1.7v1.7h-1.7zM391 2118h1.7v1.7h-1.7zM387 2119h1.7v1.7h-1.7zM387 2128h1.7v1.7h-1.7zM382 2125h1.7v1.7h-1.7zM385 2130h1.7v1.7h-1.7zM372 2128h1.7v1.7h-1.7zM376 2114h1.7v1.7h-1.7zM375 2122h1.7v1.7h-1.7zM375 2120h1.7v1.7h-1.7zM375 2119h1.7v1.7h-1.7zM1123 2161h1.7v1.7h-1.7zM1123 2159h1.7v1.7h-1.7zM1126 2159h1.7v1.7h-1.7zM1127 2165h1.7v1.7h-1.7zM1128 2166h1.7v1.7h-1.7zM1124 2159h1.7v1.7h-1.7zM1131 2173h1.7v1.7h-1.7zM1127 2170h1.7v1.7h-1.7zM1128 2174h1.7v1.7h-1.7zM1130 2175h1.7v1.7h-1.7zM1127 2183h1.7v1.7h-1.7zM1123 2185h1.7v1.7h-1.7zM1123 2181h1.7v1.7h-1.7zM1121 2180h1.7v1.7h-1.7zM1123 2181h1.7v1.7h-1.7zM1120 2179h1.7v1.7h-1.7zM1118 2166h1.7v1.7h-1.7zM1121 2172h1.7v1.7h-1.7zM1118 2163h1.7v1.7h-1.7zM1121 2162h1.7v1.7h-1.7zM1122 2162h1.7v1.7h-1.7zM357 2133h1.7v1.7h-1.7zM398 2187h1.7v1.7h-1.7zM376 2139h1.7v1.7h-1.7zM381 2123h1.7v1.7h-1.7zM365 2130h1.7v1.7h-1.7zM412 2155h1.7v1.7h-1.7zM413 2132h1.7v1.7h-1.7zM374 2162h1.7v1.7h-1.7zM411 2142h1.7v1.7h-1.7zM388 2191h1.7v1.7h-1.7zM398 2174h1.7v1.7h-1.7zM377 2141h1.7v1.7h-1.7zM395 2158h1.7v1.7h-1.7zM354 2157h1.7v1.7h-1.7zM393 2130h1.7v1.7h-1.7zM407 2152h1.7v1.7h-1.7zM398 2198h1.7v1.7h-1.7zM391 2138h1.7v1.7h-1.7zM357 2122h1.7v1.7h-1.7zM382 2137h1.7v1.7h-1.7zM405 2192h1.7v1.7h-1.7zM352 2133h1.7v1.7h-1.7zM385 2150h1.7v1.7h-1.7zM366 2146h1.7v1.7h-1.7zM369 2149h1.7v1.7h-1.7zM409 2138h1.7v1.7h-1.7zM378 2134h1.7v1.7h-1.7zM364 2132h1.7v1.7h-1.7zM376 2133h1.7v1.7h-1.7zM382 2182h1.7v1.7h-1.7zM371 2132h1.7v1.7h-1.7zM406 2155h1.7v1.7h-1.7zM397 2134h1.7v1.7h-1.7zM374 2130h1.7v1.7h-1.7zM395 2135h1.7v1.7h-1.7zM374 2134h1.7v1.7h-1.7zM394 2144h1.7v1.7h-1.7zM386 2138h1.7v1.7h-1.7zM398 2138h1.7v1.7h-1.7zM369 2147h1.7v1.7h-1.7zM395 2145h1.7v1.7h-1.7zM408 2127h1.7v1.7h-1.7zM407 2161h1.7v1.7h-1.7zM374 2176h1.7v1.7h-1.7zM399 2164h1.7v1.7h-1.7zM415 2160h1.7v1.7h-1.7zM362 2152h1.7v1.7h-1.7zM370 2170h1.7v1.7h-1.7zM377 2153h1.7v1.7h-1.7zM400 2178h1.7v1.7h-1.7zM356 2134h1.7v1.7h-1.7zM411 2172h1.7v1.7h-1.7zM403 2168h1.7v1.7h-1.7zM381 2148h1.7v1.7h-1.7zM390 2160h1.7v1.7h-1.7zM375 2137h1.7v1.7h-1.7zM389 2136h1.7v1.7h-1.7zM378 2165h1.7v1.7h-1.7zM376 2127h1.7v1.7h-1.7zM366 2155h1.7v1.7h-1.7zM409 2178h1.7v1.7h-1.7zM401 2154h1.7v1.7h-1.7zM357 2128h1.7v1.7h-1.7zM396 2150h1.7v1.7h-1.7zM384 2148h1.7v1.7h-1.7zM404 2175h1.7v1.7h-1.7zM374 2126h1.7v1.7h-1.7zM356 2118h1.7v1.7h-1.7zM350 2135h1.7v1.7h-1.7zM376 2172h1.7v1.7h-1.7zM388 2134h1.7v1.7h-1.7zM379 2151h1.7v1.7h-1.7zM374 2129h1.7v1.7h-1.7zM398 2157h1.7v1.7h-1.7zM349 2141h1.7v1.7h-1.7zM407 2135h1.7v1.7h-1.7zM377 2165h1.7v1.7h-1.7zM393 2131h1.7v1.7h-1.7zM386 2118h1.7v1.7h-1.7zM399 2165h1.7v1.7h-1.7zM395 2159h1.7v1.7h-1.7zM388 2147h1.7v1.7h-1.7zM391 2135h1.7v1.7h-1.7zM401 2163h1.7v1.7h-1.7zM386 2153h1.7v1.7h-1.7zM354 2120h1.7v1.7h-1.7zM398 2196h1.7v1.7h-1.7zM378 2164h1.7v1.7h-1.7zM364 2123h1.7v1.7h-1.7zM367 2162h1.7v1.7h-1.7zM396 2166h1.7v1.7h-1.7zM401 2129h1.7v1.7h-1.7zM402 2146h1.7v1.7h-1.7zM413 2176h1.7v1.7h-1.7zM389 2171h1.7v1.7h-1.7zM411 2121h1.7v1.7h-1.7zM387 2163h1.7v1.7h-1.7zM411 2138h1.7v1.7h-1.7zM388 2147h1.7v1.7h-1.7zM406 2190h1.7v1.7h-1.7zM382 2184h1.7v1.7h-1.7zM364 2161h1.7v1.7h-1.7zM366 2125h1.7v1.7h-1.7zM401 2158h1.7v1.7h-1.7zM389 2191h1.7v1.7h-1.7zM393 2133h1.7v1.7h-1.7zM365 2146h1.7v1.7h-1.7zM369 2142h1.7v1.7h-1.7zM372 2135h1.7v1.7h-1.7zM380 2139h1.7v1.7h-1.7zM350 2153h1.7v1.7h-1.7zM376 2121h1.7v1.7h-1.7zM379 2172h1.7v1.7h-1.7zM395 2162h1.7v1.7h-1.7zM378 2167h1.7v1.7h-1.7zM386 2125h1.7v1.7h-1.7zM384 2148h1.7v1.7h-1.7zM408 2152h1.7v1.7h-1.7zM407 2145h1.7v1.7h-1.7zM378 2165h1.7v1.7h-1.7zM398 2142h1.7v1.7h-1.7zM360 2140h1.7v1.7h-1.7zM373 2158h1.7v1.7h-1.7zM385 2159h1.7v1.7h-1.7zM388 2162h1.7v1.7h-1.7zM377 2129h1.7v1.7h-1.7zM385 2122h1.7v1.7h-1.7zM360 2130h1.7v1.7h-1.7zM393 2141h1.7v1.7h-1.7zM405 2137h1.7v1.7h-1.7zM411 2131h1.7v1.7h-1.7zM405 2162h1.7v1.7h-1.7zM399 2202h1.7v1.7h-1.7zM403 2169h1.7v1.7h-1.7zM404 2179h1.7v1.7h-1.7zM405 2176h1.7v1.7h-1.7zM372 2136h1.7v1.7h-1.7zM402 2137h1.7v1.7h-1.7zM370 2144h1.7v1.7h-1.7zM366 2145h1.7v1.7h-1.7zM410 2136h1.7v1.7h-1.7zM413 2127h1.7v1.7h-1.7zM406 2169h1.7v1.7h-1.7zM366 2122h1.7v1.7h-1.7zM350 2148h1.7v1.7h-1.7zM365 2163h1.7v1.7h-1.7zM408 2161h1.7v1.7h-1.7zM382 2149h1.7v1.7h-1.7zM402 2177h1.7v1.7h-1.7zM366 2125h1.7v1.7h-1.7zM404 2141h1.7v1.7h-1.7zM378 2155h1.7v1.7h-1.7zM389 2147h1.7v1.7h-1.7zM383 2118h1.7v1.7h-1.7zM387 2169h1.7v1.7h-1.7zM386 2137h1.7v1.7h-1.7zM398 2129h1.7v1.7h-1.7zM363 2134h1.7v1.7h-1.7zM382 2179h1.7v1.7h-1.7zM369 2153h1.7v1.7h-1.7zM397 2168h1.7v1.7h-1.7zM411 2125h1.7v1.7h-1.7zM385 2140h1.7v1.7h-1.7zM407 2163h1.7v1.7h-1.7zM398 2183h1.7v1.7h-1.7zM404 2169h1.7v1.7h-1.7zM368 2142h1.7v1.7h-1.7zM365 2143h1.7v1.7h-1.7zM367 2128h1.7v1.7h-1.7zM385 2172h1.7v1.7h-1.7zM397 2143h1.7v1.7h-1.7zM393 2125h1.7v1.7h-1.7zM390 2162h1.7v1.7h-1.7zM376 2147h1.7v1.7h-1.7zM407 2162h1.7v1.7h-1.7zM382 2164h1.7v1.7h-1.7zM414 2172h1.7v1.7h-1.7zM376 2123h1.7v1.7h-1.7zM400 2155h1.7v1.7h-1.7zM361 2123h1.7v1.7h-1.7zM352 2148h1.7v1.7h-1.7zM395 2190h1.7v1.7h-1.7zM360 2137h1.7v1.7h-1.7zM393 2157h1.7v1.7h-1.7zM390 2137h1.7v1.7h-1.7zM378 2120h1.7v1.7h-1.7zM397 2142h1.7v1.7h-1.7zM392 2149h1.7v1.7h-1.7zM399 2157h1.7v1.7h-1.7zM410 2173h1.7v1.7h-1.7zM360 2119h1.7v1.7h-1.7zM388 2125h1.7v1.7h-1.7zM379 2134h1.7v1.7h-1.7zM412 2141h1.7v1.7h-1.7zM363 2158h1.7v1.7h-1.7zM352 2140h1.7v1.7h-1.7zM409 2147h1.7v1.7h-1.7zM368 2160h1.7v1.7h-1.7zM376 2147h1.7v1.7h-1.7zM365 2141h1.7v1.7h-1.7z" fill="#F8766D"/>
<path d="M561 2031h1.7v1.7h-1.7zM559 2037h1.7v1.7h-1.7zM561 2027h1.7v1.7h-1.7zM560 2042h1.7v1.7h-1.7zM560 2042h1.7v1.7h-1.7zM562 2041h1.7v1.7h-1.7zM563 2032h1.7v1.7h-1.7zM563 2021h1.7v1.7h-1.7zM562 2026h1.7v1.7h-1.7zM564 2014h1.7v1.7h-1.7zM564 2022h1.7v1.7h-1.7zM564 2021h1.7v1.7h-1.7zM564 2013h1.7v1.7h-1.7zM565 2011h1.7v1.7h-1.7zM568 2014h1.7v1.7h-1.7zM580 2021h1.7v1.7h-1.7zM575 2017h1.7v1.7h-1.7zM577 2016h1.7v1.7h-1.7zM578 2018h1.7v1.7h-1.7zM588 2032h1.7v1.7h-1.7zM581 2025h1.7v1.7h-1.7zM580 2021h1.7v1.7h-1.7zM582 2023h1.7v1.7h-1.7zM581 2022h1.7v1.7h-1.7zM586 2033h1.7v1.7h-1.7zM590 2033h1.7v1.7h-1.7zM586 2035h1.7v1.7h-1.7zM599 2033h1.7v1.7h-1.7zM598 2032h1.7v1.7h-1.7zM601 2030h1.7v1.7h-1.7zM602 2033h1.7v1.7h-1.7zM602 2028h1.7v1.7h-1.7zM610 2031h1.7v1.7h-1.7zM606 2030h1.7v1.7h-1.7zM603 2029h1.7v1.7h-1.7zM615 2028h1.7v1.7h-1.7zM616 2035h1.7v1.7h-1.7zM616 2034h1.7v1.7h-1.7zM615 2035h1.7v1.7h-1.7zM621 2039h1.7v1.7h-1.7zM622 2050h1.7v1.7h-1.7zM621 2042h1.7v1.7h-1.7zM623 2051h1.7v1.7h-1.7zM624 2053h1.7v1.7h-1.7zM623 2049h1.7v1.7h-1.7zM621 2049h1.7v1.7h-1.7zM621 2057h1.7v1.7h-1.7zM622 2059h1.7v1.7h-1.7zM620 2064h1.7v1.7h-1.7zM618 2076h1.7v1.7h-1.7zM620 2065h1.7v1.7h-1.7zM619 2067h1.7v1.7h-1.7zM619 2065h1.7v1.7h-1.7zM616 2086h1.7v1.7h-1.7zM617 2077h1.7v1.7h-1.7zM617 2088h1.7v1.7h-1.7zM615 2083h1.7v1.7h-1.7zM614 2082h1.7v1.7h-1.7zM614 2098h1.7v1.7h-1.7zM614 2093h1.7v1.7h-1.7zM606 2106h1.7v1.7h-1.7zM614 2107h1.7v1.7h-1.7zM614 2100h1.7v1.7h-1.7zM608 2108h1.7v1.7h-1.7zM611 2104h1.7v1.7h-1.7zM611 2107h1.7v1.7h-1.7zM604 2123h1.7v1.7h-1.7zM605 2119h1.7v1.7h-1.7zM607 2113h1.7v1.7h-1.7zM610 2114h1.7v1.7h-1.7zM604 2126h1.7v1.7h-1.7zM604 2130h1.7v1.7h-1.7zM605 2126h1.7v1.7h-1.7zM599 2135h1.7v1.7h-1.7zM600 2136h1.7v1.7h-1.7zM599 2134h1.7v1.7h-1.7zM594 2132h1.7v1.7h-1.7zM595 2133h1.7v1.7h-1.7zM594 2132h1.7v1.7h-1.7zM589 2133h1.7v1.7h-1.7zM590 2137h1.7v1.7h-1.7zM582 2119h1.7v1.7h-1.7zM586 2131h1.7v1.7h-1.7zM587 2127h1.7v1.7h-1.7zM585 2128h1.7v1.7h-1.7zM582 2117h1.7v1.7h-1.7zM583 2121h1.7v1.7h-1.7zM577 2108h1.7v1.7h-1.7zM579 2114h1.7v1.7h-1.7zM576 2108h1.7v1.7h-1.7zM578 2105h1.7v1.7h-1.7zM572 2099h1.7v1.7h-1.7zM564 2087h1.7v1.7h-1.7zM575 2098h1.7v1.7h-1.7zM572 2101h1.7v1.7h-1.7zM571 2092h1.7v1.7h-1.7zM576 2103h1.7v1.7h-1.7zM576 2098h1.7v1.7h-1.7zM561 2083h1.7v1.7h-1.7zM561 2085h1.7v1.7h-1.7zM562 2087h1.7v1.7h-1.7zM553 2078h1.7v1.7h-1.7zM562 2084h1.7v1.7h-1.7zM554 2075h1.7v1.7h-1.7zM554 2074h1.7v1.7h-1.7zM553 2079h1.7v1.7h-1.7zM553 2071h1.7v1.7h-1.7zM553 2068h1.7v1.7h-1.7zM551 2072h1.7v1.7h-1.7zM554 2067h1.7v1.7h-1.7zM555 2064h1.7v1.7h-1.7zM552 2056h1.7v1.7h-1.7zM558 2048h1.7v1.7h-1.7zM558 2047h1.7v1.7h-1.7zM557 2051h1.7v1.7h-1.7zM560 2047h1.7v1.7h-1.7zM606 2050h1.7v1.7h-1.7zM575 2053h1.7v1.7h-1.7zM581 2059h1.7v1.7h-1.7zM606 2045h1.7v1.7h-1.7zM594 2053h1.7v1.7h-1.7zM579 2057h1.7v1.7h-1.7zM595 2044h1.7v1.7h-1.7zM581 2053h1.7v1.7h-1.7zM583 2058h1.7v1.7h-1.7zM589 2037h1.7v1.7h-1.7zM592 2061h1.7v1.7h-1.7zM600 2058h1.7v1.7h-1.7zM573 2046h1.7v1.7h-1.7zM588 2055h1.7v1.7h-1.7zM605 2039h1.7v1.7h-1.7zM572 2051h1.7v1.7h-1.7zM592 2065h1.7v1.7h-1.7zM603 2045h1.7v1.7h-1.7zM602 2062h1.7v1.7h-1.7zM591 2039h1.7v1.7h-1.7zM597 2061h1.7v1.7h-1.7zM599 2051h1.7v1.7h-1.7zM578 2056h1.7v1.7h-1.7zM595 2055h1.7v1.7h-1.7zM581 2050h1.7v1.7h-1.7zM577 2039h1.7v1.7h-1.7zM582 2044h1.7v1.7h-1.7zM607 2055h1.7v1.7h-1.7zM575 2042h1.7v1.7h-1.7zM599 2055h1.7v1.7h-1.7zM583 2039h1.7v1.7h-1.7zM578 2055h1.7v1.7h-1.7zM573 2050h1.7v1.7h-1.7zM586 2040h1.7v1.7h-1.7zM587 2040h1.7v1.7h-1.7zM594 2054h1.7v1.7h-1.7zM601 2062h1.7v1.7h-1.7zM577 2043h1.7v1.7h-1.7zM596 2048h1.7v1.7h-1.7zM573 2043h1.7v1.7h-1.7zM585 2050h1.7v1.7h-1.7zM592 2045h1.7v1.7h-1.7zM586 2034h1.7v1.7h-1.7zM598 2038h1.7v1.7h-1.7zM580 2034h1.7v1.7h-1.7zM600 2060h1.7v1.7h-1.7zM605 2047h1.7v1.7h-1.7zM596 2040h1.7v1.7h-1.7zM605 2043h1.7v1.7h-1.7zM579 2046h1.7v1.7h-1.7zM574 2052h1.7v1.7h-1.7zM595 2057h1.7v1.7h-1.7zM585 2052h1.7v1.7h-1.7zM584 2054h1.7v1.7h-1.7zM598 2058h1.7v1.7h-1.7zM591 2047h1.7v1.7h-1.7zM595 2057h1.7v1.7h-1.7zM584 2059h1.7v1.7h-1.7zM580 2044h1.7v1.7h-1.7zM592 2047h1.7v1.7h-1.7zM591 2056h1.7v1.7h-1.7zM591 2049h1.7v1.7h-1.7zM591 2065h1.7v1.7h-1.7zM581 2051h1.7v1.7h-1.7zM582 2057h1.7v1.7h-1.7zM577 2040h1.7v1.7h-1.7zM589 2058h1.7v1.7h-1.7zM608 2048h1.7v1.7h-1.7zM575 2045h1.7v1.7h-1.7zM589 2037h1.7v1.7h-1.7zM573 2034h1.7v1.7h-1.7zM592 2043h1.7v1.7h-1.7zM597 2064h1.7v1.7h-1.7zM572 2046h1.7v1.7h-1.7zM579 2042h1.7v1.7h-1.7zM581 2057h1.7v1.7h-1.7zM579 2038h1.7v1.7h-1.7zM578 2040h1.7v1.7h-1.7zM597 2059h1.7v1.7h-1.7zM593 2066h1.7v1.7h-1.7zM573 2044h1.7v1.7h-1.7zM586 2035h1.7v1.7h-1.7zM588 2057h1.7v1.7h-1.7zM572 2047h1.7v1.7h-1.7zM580 2051h1.7v1.7h-1.7zM602 2057h1.7v1.7h-1.7zM585 2062h1.7v1.7h-1.7zM572 2038h1.7v1.7h-1.7zM577 2054h1.7v1.7h-1.7zM590 2050h1.7v1.7h-1.7zM573 2030h1.7v1.7h-1.7zM601 2052h1.7v1.7h-1.7zM607 2044h1.7v1.7h-1.7zM595 2043h1.7v1.7h-1.7zM606 2038h1.7v1.7h-1.7zM591 2058h1.7v1.7h-1.7zM586 2044h1.7v1.7h-1.7zM591 2045h1.7v1.7h-1.7zM578 2043h1.7v1.7h-1.7zM585 2034h1.7v1.7h-1.7zM585 2040h1.7v1.7h-1.7zM572 2044h1.7v1.7h-1.7zM574 2039h1.7v1.7h-1.7zM600 2059h1.7v1.7h-1.7zM571 2045h1.7v1.7h-1.7zM584 2059h1.7v1.7h-1.7zM574 2053h1.7v1.7h-1.7zM572 2051h1.7v1.7h-1.7zM590 2064h1.7v1.7h-1.7zM599 2041h1.7v1.7h-1.7zM594 2043h1.7v1.7h-1.7zM593 2048h1.7v1.7h-1.7zM606 2039h1.7v1.7h-1.7zM587 2054h1.7v1.7h-1.7zM595 2046h1.7v1.7h-1.7zM575 2044h1.7v1.7h-1.7zM592 2056h1.7v1.7h-1.7zM587 2040h1.7v1.7h-1.7zM579 2061h1.7v1.7h-1.7zM602 2047h1.7v1.7h-1.7zM608 2044h1.7v1.7h-1.7zM573 2042h1.7v1.7h-1.7zM1223 1837h1.7v1.7h-1.7zM1225 1828h1.7v1.7h-1.7zM1220 1838h1.7v1.7h-1.7zM1228 1826h1.7v1.7h-1.7zM1218 1838h1.7v1.7h-1.7zM1227 1829h1.7v1.7h-1.7zM1228 1829h1.7v1.7h-1.7zM1228 1824h1.7v1.7h-1.7zM1229 1819h1.7v1.7h-1.7zM1237 1805h1.7v1.7h-1.7zM1234 1809h1.7v1.7h-1.7zM1232 1819h1.7v1.7h-1.7zM1235 1812h1.7v1.7h-1.7zM1238 1804h1.7v1.7h-1.7zM1237 1808h1.7v1.7h-1.7zM1236 1810h1.7v1.7h-1.7zM1228 1819h1.7v1.7h-1.7zM1252 1784h1.7v1.7h-1.7zM1255 1782h1.7v1.7h-1.7zM1251 1782h1.7v1.7h-1.7zM1248 1787h1.7v1.7h-1.7zM1240 1796h1.7v1.7h-1.7zM1247 1789h1.7v1.7h-1.7zM1248 1787h1.7v1.7h-1.7zM1242 1796h1.7v1.7h-1.7zM1263 1770h1.7v1.7h-1.7zM1258 1778h1.7v1.7h-1.7zM1261 1768h1.7v1.7h-1.7zM1259 1777h1.7v1.7h-1.7zM1257 1776h1.7v1.7h-1.7zM1267 1766h1.7v1.7h-1.7zM1265 1768h1.7v1.7h-1.7zM1264 1771h1.7v1.7h-1.7zM1268 1766h1.7v1.7h-1.7zM1271 1763h1.7v1.7h-1.7zM1277 1766h1.7v1.7h-1.7zM1278 1763h1.7v1.7h-1.7zM1279 1760h1.7v1.7h-1.7zM1275 1763h1.7v1.7h-1.7zM1279 1763h1.7v1.7h-1.7zM1293 1760h1.7v1.7h-1.7zM1297 1765h1.7v1.7h-1.7zM1293 1761h1.7v1.7h-1.7zM1298 1763h1.7v1.7h-1.7zM1302 1776h1.7v1.7h-1.7zM1298 1774h1.7v1.7h-1.7zM1305 1781h1.7v1.7h-1.7zM1303 1780h1.7v1.7h-1.7zM1301 1768h1.7v1.7h-1.7zM1301 1778h1.7v1.7h-1.7zM1303 1768h1.7v1.7h-1.7zM1306 1796h1.7v1.7h-1.7zM1308 1801h1.7v1.7h-1.7zM1305 1788h1.7v1.7h-1.7zM1310 1803h1.7v1.7h-1.7zM1308 1808h1.7v1.7h-1.7zM1309 1801h1.7v1.7h-1.7zM1308 1800h1.7v1.7h-1.7zM1306 1808h1.7v1.7h-1.7zM1313 1823h1.7v1.7h-1.7zM1313 1823h1.7v1.7h-1.7zM1310 1822h1.7v1.7h-1.7zM1313 1814h1.7v1.7h-1.7zM1309 1807h1.7v1.7h-1.7zM1307 1810h1.7v1.7h-1.7zM1312 1817h1.7v1.7h-1.7zM1315 1829h1.7v1.7h-1.7zM1311 1827h1.7v1.7h-1.7zM1317 1839h1.7v1.7h-1.7zM1317 1849h1.7v1.7h-1.7zM1317 1842h1.7v1.7h-1.7zM1316 1836h1.7v1.7h-1.7zM1316 1848h1.7v1.7h-1.7zM1317 1842h1.7v1.7h-1.7zM1317 1867h1.7v1.7h-1.7zM1313 1866h1.7v1.7h-1.7zM1316 1858h1.7v1.7h-1.7zM1316 1866h1.7v1.7h-1.7zM1318 1869h1.7v1.7h-1.7zM1320 1850h1.7v1.7h-1.7zM1315 1864h1.7v1.7h-1.7zM1316 1867h1.7v1.7h-1.7zM1310 1885h1.7v1.7h-1.7zM1315 1877h1.7v1.7h-1.7zM1314 1874h1.7v1.7h-1.7zM1311 1880h1.7v1.7h-1.7zM1314 1869h1.7v1.7h-1.7zM1311 1888h1.7v1.7h-1.7zM1307 1889h1.7v1.7h-1.7zM1311 1885h1.7v1.7h-1.7zM1311 1886h1.7v1.7h-1.7zM1309 1886h1.7v1.7h-1.7zM1305 1888h1.7v1.7h-1.7zM1302 1900h1.7v1.7h-1.7zM1302 1902h1.7v1.7h-1.7zM1306 1907h1.7v1.7h-1.7zM1302 1903h1.7v1.7h-1.7zM1294 1911h1.7v1.7h-1.7zM1296 1909h1.7v1.7h-1.7zM1296 1908h1.7v1.7h-1.7zM1295 1909h1.7v1.7h-1.7zM1298 1906h1.7v1.7h-1.7zM1298 1910h1.7v1.7h-1.7zM1281 1915h1.7v1.7h-1.7zM1278 1916h1.7v1.7h-1.7zM1280 1914h1.7v1.7h-1.7zM1275 1917h1.7v1.7h-1.7zM1282 1913h1.7v1.7h-1.7zM1274 1920h1.7v1.7h-1.7zM1268 1925h1.7v1.7h-1.7zM1265 1928h1.7v1.7h-1.7zM1270 1929h1.7v1.7h-1.7zM1266 1928h1.7v1.7h-1.7zM1267 1926h1.7v1.7h-1.7zM1276 1919h1.7v1.7h-1.7zM1249 1918h1.7v1.7h-1.7zM1257 1923h1.7v1.7h-1.7zM1262 1928h1.7v1.7h-1.7zM1252 1925h1.7v1.7h-1.7zM1253 1922h1.7v1.7h-1.7zM1259 1925h1.7v1.7h-1.7zM1243 1915h1.7v1.7h-1.7zM1251 1914h1.7v1.7h-1.7zM1242 1911h1.7v1.7h-1.7zM1247 1920h1.7v1.7h-1.7zM1243 1912h1.7v1.7h-1.7zM1245 1911h1.7v1.7h-1.7zM1236 1906h1.7v1.7h-1.7zM1232 1900h1.7v1.7h-1.7zM1233 1900h1.7v1.7h-1.7zM1233 1903h1.7v1.7h-1.7zM1231 1901h1.7v1.7h-1.7zM1229 1886h1.7v1.7h-1.7zM1229 1885h1.7v1.7h-1.7zM1227 1896h1.7v1.7h-1.7zM1230 1895h1.7v1.7h-1.7zM1229 1878h1.7v1.7h-1.7zM1226 1882h1.7v1.7h-1.7zM1230 1890h1.7v1.7h-1.7zM1227 1877h1.7v1.7h-1.7zM1223 1860h1.7v1.7h-1.7zM1227 1875h1.7v1.7h-1.7zM1225 1864h1.7v1.7h-1.7zM1224 1857h1.7v1.7h-1.7zM1225 1867h1.7v1.7h-1.7zM1227 1858h1.7v1.7h-1.7zM1224 1858h1.7v1.7h-1.7zM1225 1858h1.7v1.7h-1.7zM1219 1842h1.7v1.7h-1.7zM1223 1850h1.7v1.7h-1.7zM1221 1847h1.7v1.7h-1.7zM1222 1851h1.7v1.7h-1.7zM1221 1850h1.7v1.7h-1.7zM1245 1826h1.7v1.7h-1.7zM1259 1812h1.7v1.7h-1.7zM1282 1800h1.7v1.7h-1.7zM1257 1804h1.7v1.7h-1.7zM1266 1795h1.7v1.7h-1.7zM1279 1824h1.7v1.7h-1.7zM1267 1790h1.7v1.7h-1.7zM1256 1802h1.7v1.7h-1.7zM1276 1833h1.7v1.7h-1.7zM1263 1823h1.7v1.7h-1.7zM1289 1811h1.7v1.7h-1.7zM1273 1789h1.7v1.7h-1.7zM1288 1807h1.7v1.7h-1.7zM1279 1792h1.7v1.7h-1.7zM1281 1804h1.7v1.7h-1.7zM1250 1810h1.7v1.7h-1.7zM1285 1816h1.7v1.7h-1.7zM1261 1841h1.7v1.7h-1.7zM1241 1808h1.7v1.7h-1.7zM1252 1838h1.7v1.7h-1.7zM1262 1808h1.7v1.7h-1.7zM1282 1822h1.7v1.7h-1.7zM1258 1810h1.7v1.7h-1.7zM1246 1814h1.7v1.7h-1.7zM1265 1838h1.7v1.7h-1.7zM1278 1834h1.7v1.7h-1.7zM1264 1804h1.7v1.7h-1.7zM1253 1844h1.7v1.7h-1.7zM1247 1835h1.7v1.7h-1.7zM1253 1844h1.7v1.7h-1.7zM1280 1817h1.7v1.7h-1.7zM1283 1821h1.7v1.7h-1.7zM1269 1803h1.7v1.7h-1.7zM1261 1794h1.7v1.7h-1.7zM1241 1826h1.7v1.7h-1.7zM1291 1796h1.7v1.7h-1.7zM1266 1824h1.7v1.7h-1.7zM1283 1800h1.7v1.7h-1.7zM1260 1813h1.7v1.7h-1.7zM1254 1823h1.7v1.7h-1.7zM1262 1792h1.7v1.7h-1.7zM1259 1792h1.7v1.7h-1.7zM1277 1834h1.7v1.7h-1.7zM1243 1811h1.7v1.7h-1.7zM1290 1822h1.7v1.7h-1.7zM1250 1832h1.7v1.7h-1.7zM1256 1833h1.7v1.7h-1.7zM1263 1818h1.7v1.7h-1.7zM1280 1818h1.7v1.7h-1.7zM1291 1813h1.7v1.7h-1.7zM1248 1810h1.7v1.7h-1.7zM1275 1809h1.7v1.7h-1.7zM1266 1798h1.7v1.7h-1.7zM1273 1789h1.7v1.7h-1.7zM1243 1813h1.7v1.7h-1.7zM1257 1804h1.7v1.7h-1.7zM1243 1815h1.7v1.7h-1.7zM1256 1830h1.7v1.7h-1.7zM1245 1816h1.7v1.7h-1.7zM1247 1806h1.7v1.7h-1.7zM1276 1790h1.7v1.7h-1.7zM1247 1831h1.7v1.7h-1.7zM1265 1828h1.7v1.7h-1.7zM1290 1797h1.7v1.7h-1.7zM1278 1825h1.7v1.7h-1.7zM1251 1839h1.7v1.7h-1.7zM1266 1792h1.7v1.7h-1.7zM1274 1800h1.7v1.7h-1.7zM1246 1809h1.7v1.7h-1.7zM1246 1827h1.7v1.7h-1.7zM1251 1836h1.7v1.7h-1.7zM1269 1830h1.7v1.7h-1.7zM1269 1810h1.7v1.7h-1.7zM1288 1813h1.7v1.7h-1.7zM1255 1817h1.7v1.7h-1.7zM1268 1811h1.7v1.7h-1.7zM1259 1835h1.7v1.7h-1.7zM1249 1804h1.7v1.7h-1.7zM1254 1812h1.7v1.7h-1.7zM1264 1824h1.7v1.7h-1.7zM1274 1802h1.7v1.7h-1.7zM1290 1802h1.7v1.7h-1.7zM1257 1813h1.7v1.7h-1.7zM1274 1805h1.7v1.7h-1.7zM1292 1799h1.7v1.7h-1.7zM1269 1828h1.7v1.7h-1.7zM1263 1833h1.7v1.7h-1.7zM1276 1802h1.7v1.7h-1.7zM1263 1819h1.7v1.7h-1.7zM1254 1845h1.7v1.7h-1.7zM1270 1794h1.7v1.7h-1.7zM1260 1811h1.7v1.7h-1.7zM1253 1796h1.7v1.7h-1.7zM1253 1811h1.7v1.7h-1.7zM1239 1810h1.7v1.7h-1.7zM1258 1817h1.7v1.7h-1.7zM1275 1808h1.7v1.7h-1.7zM1261 1790h1.7v1.7h-1.7zM1272 1797h1.7v1.7h-1.7zM1251 1815h1.7v1.7h-1.7zM1276 1815h1.7v1.7h-1.7zM1270 1823h1.7v1.7h-1.7zM1250 1797h1.7v1.7h-1.7zM1279 1821h1.7v1.7h-1.7zM1262 1829h1.7v1.7h-1.7zM1246 1811h1.7v1.7h-1.7zM1239 1808h1.7v1.7h-1.7zM1278 1816h1.7v1.7h-1.7zM1272 1820h1.7v1.7h-1.7zM1264 1824h1.7v1.7h-1.7zM1252 1822h1.7v1.7h-1.7zM1242 1803h1.7v1.7h-1.7zM1260 1829h1.7v1.7h-1.7zM1247 1809h1.7v1.7h-1.7zM1251 1837h1.7v1.7h-1.7zM1280 1796h1.7v1.7h-1.7zM1273 1830h1.7v1.7h-1.7zM1272 1827h1.7v1.7h-1.7zM1275 1798h1.7v1.7h-1.7zM1255 1834h1.7v1.7h-1.7zM1258 1804h1.7v1.7h-1.7zM1258 1835h1.7v1.7h-1.7zM1274 1827h1.7v1.7h-1.7zM1282 1824h1.7v1.7h-1.7zM1290 1821h1.7v1.7h-1.7zM1251 1832h1.7v1.7h-1.7zM1256 1795h1.7v1.7h-1.7zM1248 1813h1.7v1.7h-1.7zM1294 1808h1.7v1.7h-1.7zM1275 1793h1.7v1.7h-1.7zM1246 1814h1.7v1.7h-1.7zM1262 1805h1.7v1.7h-1.7zM1278 1799h1.7v1.7h-1.7zM1252 1809h1.7v1.7h-1.7zM1279 1809h1.7v1.7h-1.7zM1272 1808h1.7v1.7h-1.7zM1273 1790h1.7v1.7h-1.7zM1285 1826h1.7v1.7h-1.7zM1257 1830h1.7v1.7h-1.7zM1256 1815h1.7v1.7h-1.7zM1277 1797h1.7v1.7h-1.7zM1265 1820h1.7v1.7h-1.7zM1257 1829h1.7v1.7h-1.7zM1244 1814h1.7v1.7h-1.7zM1264 1808h1.7v1.7h-1.7zM1269 1805h1.7v1.7h-1.7zM1248 1823h1.7v1.7h-1.7zM1262 1837h1.7v1.7h-1.7zM1253 1809h1.7v1.7h-1.7zM1253 1806h1.7v1.7h-1.7zM1252 1801h1.7v1.7h-1.7zM1280 1802h1.7v1.7h-1.7zM1286 1814h1.7v1.7h-1.7zM1272 1826h1.7v1.7h-1.7zM1284 1810h1.7v1.7h-1.7zM1240 1813h1.7v1.7h-1.7zM1281 1807h1.7v1.7h-1.7zM1279 1792h1.7v1.7h-1.7zM1281 1825h1.7v1.7h-1.7zM1272 1828h1.7v1.7h-1.7zM1249 1823h1.7v1.7h-1.7zM1268 1819h1.7v1.7h-1.7zM1276 1834h1.7v1.7h-1.7zM1260 1821h1.7v1.7h-1.7zM1254 1793h1.7v1.7h-1.7zM1269 1794h1.7v1.7h-1.7zM1272 1809h1.7v1.7h-1.7zM1249 1822h1.7v1.7h-1.7zM1245 1808h1.7v1.7h-1.7zM1259 1817h1.7v1.7h-1.7zM1244 1825h1.7v1.7h-1.7zM1294 1801h1.7v1.7h-1.7zM1248 1827h1.7v1.7h-1.7zM1248 1821h1.7v1.7h-1.7zM1257 1796h1.7v1.7h-1.7zM1250 1839h1.7v1.7h-1.7zM1262 1800h1.7v1.7h-1.7zM1269 1830h1.7v1.7h-1.7zM1256 1802h1.7v1.7h-1.7zM1264 1804h1.7v1.7h-1.7zM1271 1813h1.7v1.7h-1.7zM1291 1803h1.7v1.7h-1.7zM1277 1798h1.7v1.7h-1.7zM1278 1822h1.7v1.7h-1.7zM1287 1819h1.7v1.7h-1.7zM1279 1802h1.7v1.7h-1.7zM1260 1833h1.7v1.7h-1.7zM1277 1834h1.7v1.7h-1.7zM1255 1806h1.7v1.7h-1.7zM1257 1835h1.7v1.7h-1.7zM1284 1795h1.7v1.7h-1.7zM1276 1831h1.7v1.7h-1.7zM1281 1801h1.7v1.7h-1.7zM1274 1799h1.7v1.7h-1.7zM1254 1831h1.7v1.7h-1.7zM1287 1800h1.7v1.7h-1.7zM1285 1821h1.7v1.7h-1.7zM1266 1809h1.7v1.7h-1.7zM1275 1822h1.7v1.7h-1.7zM1289 1825h1.7v1.7h-1.7zM1273 1828h1.7v1.7h-1.7zM1262 1796h1.7v1.7h-1.7zM1281 1830h1.7v1.7h-1.7zM1244 1832h1.7v1.7h-1.7zM1286 1806h1.7v1.7h-1.7zM1287 1815h1.7v1.7h-1.7zM1248 1810h1.7v1.7h-1.7zM1287 1823h1.7v1.7h-1.7zM1248 1799h1.7v1.7h-1.7zM1278 1818h1.7v1.7h-1.7zM1252 1800h1.7v1.7h-1.7zM1246 1838h1.7v1.7h-1.7zM1281 1791h1.7v1.7h-1.7zM1243 1829h1.7v1.7h-1.7zM1284 1812h1.7v1.7h-1.7zM1241 1824h1.7v1.7h-1.7zM1269 1816h1.7v1.7h-1.7zM1277 1811h1.7v1.7h-1.7zM1246 1830h1.7v1.7h-1.7zM1294 1815h1.7v1.7h-1.7zM1258 1809h1.7v1.7h-1.7zM1267 1814h1.7v1.7h-1.7zM1274 1799h1.7v1.7h-1.7zM1269 1807h1.7v1.7h-1.7zM1263 1808h1.7v1.7h-1.7zM1247 1823h1.7v1.7h-1.7zM1249 1808h1.7v1.7h-1.7zM1294 1816h1.7v1.7h-1.7zM1260 1821h1.7v1.7h-1.7zM1263 1836h1.7v1.7h-1.7zM1296 1807h1.7v1.7h-1.7zM1258 1840h1.7v1.7h-1.7zM1262 1791h1.7v1.7h-1.7zM1257 1829h1.7v1.7h-1.7zM1251 1820h1.7v1.7h-1.7zM1244 1813h1.7v1.7h-1.7zM1277 1791h1.7v1.7h-1.7zM1272 1801h1.7v1.7h-1.7zM1264 1827h1.7v1.7h-1.7zM1239 1813h1.7v1.7h-1.7zM1269 1796h1.7v1.7h-1.7zM1255 1792h1.7v1.7h-1.7zM1242 1813h1.7v1.7h-1.7zM1280 1829h1.7v1.7h-1.7zM1284 1799h1.7v1.7h-1.7zM1268 1804h1.7v1.7h-1.7zM1257 1802h1.7v1.7h-1.7zM1268 1838h1.7v1.7h-1.7zM1280 1826h1.7v1.7h-1.7zM1240 1828h1.7v1.7h-1.7zM1252 1805h1.7v1.7h-1.7zM1283 1828h1.7v1.7h-1.7zM1240 1818h1.7v1.7h-1.7zM1276 1803h1.7v1.7h-1.7zM1271 1789h1.7v1.7h-1.7zM1282 1821h1.7v1.7h-1.7zM1264 1796h1.7v1.7h-1.7zM1246 1809h1.7v1.7h-1.7zM1261 1807h1.7v1.7h-1.7zM1253 1814h1.7v1.7h-1.7zM1256 1827h1.7v1.7h-1.7zM1262 1814h1.7v1.7h-1.7zM1256 1820h1.7v1.7h-1.7zM1281 1814h1.7v1.7h-1.7zM1244 1820h1.7v1.7h-1.7zM555 2018h1.7v1.7h-1.7zM559 2037h1.7v1.7h-1.7zM552 2087h1.7v1.7h-1.7zM554 2039h1.7v1.7h-1.7zM556 2064h1.7v1.7h-1.7zM558 2024h1.7v1.7h-1.7zM554 2082h1.7v1.7h-1.7zM560 2054h1.7v1.7h-1.7zM559 2052h1.7v1.7h-1.7zM555 2068h1.7v1.7h-1.7zM544 2020h1.7v1.7h-1.7zM560 2069h1.7v1.7h-1.7zM558 2037h1.7v1.7h-1.7zM567 2094h1.7v1.7h-1.7zM568 2089h1.7v1.7h-1.7zM558 2011h1.7v1.7h-1.7zM560 2062h1.7v1.7h-1.7zM545 2028h1.7v1.7h-1.7zM550 2038h1.7v1.7h-1.7zM561 2079h1.7v1.7h-1.7zM546 2009h1.7v1.7h-1.7zM546 2017h1.7v1.7h-1.7zM554 2074h1.7v1.7h-1.7zM546 2031h1.7v1.7h-1.7zM557 2058h1.7v1.7h-1.7zM555 2090h1.7v1.7h-1.7zM549 2035h1.7v1.7h-1.7zM550 2057h1.7v1.7h-1.7zM545 2032h1.7v1.7h-1.7zM554 2053h1.7v1.7h-1.7zM549 2056h1.7v1.7h-1.7zM547 2018h1.7v1.7h-1.7zM562 2027h1.7v1.7h-1.7zM558 2027h1.7v1.7h-1.7zM548 2071h1.7v1.7h-1.7zM554 2080h1.7v1.7h-1.7zM561 2076h1.7v1.7h-1.7zM554 2035h1.7v1.7h-1.7zM559 2043h1.7v1.7h-1.7zM549 2009h1.7v1.7h-1.7zM1272 1768h1.7v1.7h-1.7zM1289 1755h1.7v1.7h-1.7zM1297 1761h1.7v1.7h-1.7zM1275 1774h1.7v1.7h-1.7zM1289 1772h1.7v1.7h-1.7zM1269 1757h1.7v1.7h-1.7zM1257 1770h1.7v1.7h-1.7zM1286 1755h1.7v1.7h-1.7zM1273 1776h1.7v1.7h-1.7zM1275 1771h1.7v1.7h-1.7zM1273 1780h1.7v1.7h-1.7zM1260 1770h1.7v1.7h-1.7zM1286 1768h1.7v1.7h-1.7zM1298 1775h1.7v1.7h-1.7zM1281 1769h1.7v1.7h-1.7zM1272 1762h1.7v1.7h-1.7zM1266 1772h1.7v1.7h-1.7zM1279 1773h1.7v1.7h-1.7zM1286 1762h1.7v1.7h-1.7zM1258 1761h1.7v1.7h-1.7zM1278 1767h1.7v1.7h-1.7zM1261 1763h1.7v1.7h-1.7zM1258 1760h1.7v1.7h-1.7zM1294 1755h1.7v1.7h-1.7zM1277 1768h1.7v1.7h-1.7zM1279 1766h1.7v1.7h-1.7zM1296 1754h1.7v1.7h-1.7zM1270 1770h1.7v1.7h-1.7zM1268 1769h1.7v1.7h-1.7zM1257 1784h1.7v1.7h-1.7z" fill="#00BA38"/>
<path d="M614 2013h1.7v1.7h-1.7zM606 2014h1.7v1.7h-1.7zM611 2012h1.7v1.7h-1.7zM610 2014h1.7v1.7h-1.7zM611 2011h1.7v1.7h-1.7zM627 2011h1.7v1.7h-1.7zM622 2011h1.7v1.7h-1.7zM616 2006h1.7v1.7h-1.7zM628 2014h1.7v1.7h-1.7zM632 2011h1.7v1.7h-1.7zM634 2016h1.7v1.7h-1.7zM634 2015h1.7v1.7h-1.7zM637 2017h1.7v1.7h-1.7zM633 2016h1.7v1.7h-1.7zM638 2022h1.7v1.7h-1.7zM638 2020h1.7v1.7h-1.7zM638 2019h1.7v1.7h-1.7zM626 2028h1.7v1.7h-1.7zM630 2028h1.7v1.7h-1.7zM628 2026h1.7v1.7h-1.7zM625 2027h1.7v1.7h-1.7zM617 2032h1.7v1.7h-1.7zM620 2028h1.7v1.7h-1.7zM619 2027h1.7v1.7h-1.7zM618 2029h1.7v1.7h-1.7zM612 2028h1.7v1.7h-1.7zM611 2025h1.7v1.7h-1.7zM608 2029h1.7v1.7h-1.7zM607 2021h1.7v1.7h-1.7zM604 2014h1.7v1.7h-1.7zM607 2017h1.7v1.7h-1.7zM618 1972h1.7v1.7h-1.7zM616 1974h1.7v1.7h-1.7zM619 1970h1.7v1.7h-1.7zM618 1973h1.7v1.7h-1.7zM621 1978h1.7v1.7h-1.7zM623 1978h1.7v1.7h-1.7zM619 1984h1.7v1.7h-1.7zM623 1980h1.7v1.7h-1.7zM622 1984h1.7v1.7h-1.7zM621 1980h1.7v1.7h-1.7zM622 1979h1.7v1.7h-1.7zM619 1995h1.7v1.7h-1.7zM620 1995h1.7v1.7h-1.7zM617 1994h1.7v1.7h-1.7zM613 1996h1.7v1.7h-1.7zM619 2001h1.7v1.7h-1.7zM616 1997h1.7v1.7h-1.7zM613 1992h1.7v1.7h-1.7zM611 1990h1.7v1.7h-1.7zM613 1986h1.7v1.7h-1.7zM612 1976h1.7v1.7h-1.7zM611 1988h1.7v1.7h-1.7zM1205 1750h1.7v1.7h-1.7zM1207 1750h1.7v1.7h-1.7zM1208 1753h1.7v1.7h-1.7zM1214 1759h1.7v1.7h-1.7zM1214 1755h1.7v1.7h-1.7zM1211 1758h1.7v1.7h-1.7zM1213 1756h1.7v1.7h-1.7zM1218 1771h1.7v1.7h-1.7zM1217 1765h1.7v1.7h-1.7zM1216 1767h1.7v1.7h-1.7zM1216 1762h1.7v1.7h-1.7zM1219 1774h1.7v1.7h-1.7zM1226 1778h1.7v1.7h-1.7zM1225 1779h1.7v1.7h-1.7zM1224 1779h1.7v1.7h-1.7zM1219 1772h1.7v1.7h-1.7zM1233 1785h1.7v1.7h-1.7zM1236 1784h1.7v1.7h-1.7zM1231 1788h1.7v1.7h-1.7zM1233 1782h1.7v1.7h-1.7zM1240 1785h1.7v1.7h-1.7zM1243 1784h1.7v1.7h-1.7zM1240 1779h1.7v1.7h-1.7zM1250 1784h1.7v1.7h-1.7zM1248 1783h1.7v1.7h-1.7zM1247 1783h1.7v1.7h-1.7zM1253 1796h1.7v1.7h-1.7zM1254 1787h1.7v1.7h-1.7zM1252 1789h1.7v1.7h-1.7zM1253 1789h1.7v1.7h-1.7zM1244 1799h1.7v1.7h-1.7zM1246 1798h1.7v1.7h-1.7zM1247 1797h1.7v1.7h-1.7zM1242 1801h1.7v1.7h-1.7zM1240 1803h1.7v1.7h-1.7zM1238 1803h1.7v1.7h-1.7zM1239 1803h1.7v1.7h-1.7zM1233 1805h1.7v1.7h-1.7zM1228 1814h1.7v1.7h-1.7zM1232 1810h1.7v1.7h-1.7zM1231 1811h1.7v1.7h-1.7zM1227 1814h1.7v1.7h-1.7zM1229 1817h1.7v1.7h-1.7zM1224 1818h1.7v1.7h-1.7zM1224 1818h1.7v1.7h-1.7zM1223 1819h1.7v1.7h-1.7zM1226 1818h1.7v1.7h-1.7zM1212 1822h1.7v1.7h-1.7zM1213 1821h1.7v1.7h-1.7zM1217 1825h1.7v1.7h-1.7zM1209 1824h1.7v1.7h-1.7zM1202 1820h1.7v1.7h-1.7zM1206 1820h1.7v1.7h-1.7zM1200 1822h1.7v1.7h-1.7zM1208 1821h1.7v1.7h-1.7zM1196 1820h1.7v1.7h-1.7zM1185 1813h1.7v1.7h-1.7zM1183 1818h1.7v1.7h-1.7zM1195 1815h1.7v1.7h-1.7zM1181 1818h1.7v1.7h-1.7zM1175 1814h1.7v1.7h-1.7zM1177 1811h1.7v1.7h-1.7zM1185 1815h1.7v1.7h-1.7zM1176 1815h1.7v1.7h-1.7zM1171 1806h1.7v1.7h-1.7zM1168 1802h1.7v1.7h-1.7zM1172 1812h1.7v1.7h-1.7zM1174 1801h1.7v1.7h-1.7zM1171 1798h1.7v1.7h-1.7zM1167 1800h1.7v1.7h-1.7zM1172 1803h1.7v1.7h-1.7zM1186 1798h1.7v1.7h-1.7zM1179 1797h1.7v1.7h-1.7zM1186 1793h1.7v1.7h-1.7zM1180 1797h1.7v1.7h-1.7zM1194 1801h1.7v1.7h-1.7zM1194 1800h1.7v1.7h-1.7zM1195 1802h1.7v1.7h-1.7zM1185 1799h1.7v1.7h-1.7zM1201 1796h1.7v1.7h-1.7zM1204 1792h1.7v1.7h-1.7zM1204 1790h1.7v1.7h-1.7zM1199 1797h1.7v1.7h-1.7zM1202 1796h1.7v1.7h-1.7zM1205 1781h1.7v1.7h-1.7zM1206 1788h1.7v1.7h-1.7zM1203 1785h1.7v1.7h-1.7zM1205 1777h1.7v1.7h-1.7zM1202 1770h1.7v1.7h-1.7zM1203 1768h1.7v1.7h-1.7zM1201 1771h1.7v1.7h-1.7zM1200 1763h1.7v1.7h-1.7zM1203 1778h1.7v1.7h-1.7zM1199 1752h1.7v1.7h-1.7zM1200 1759h1.7v1.7h-1.7zM1202 1750h1.7v1.7h-1.7zM1203 1762h1.7v1.7h-1.7zM1203 1753h1.7v1.7h-1.7z" fill="#FF64B0"/>
<path d="M614 1989h1.7v1.7h-1.7zM614 1992h1.7v1.7h-1.7zM615 1992h1.7v1.7h-1.7zM614 1985h1.7v1.7h-1.7zM613 1984h1.7v1.7h-1.7zM614 1983h1.7v1.7h-1.7zM619 1976h1.7v1.7h-1.7zM622 1973h1.7v1.7h-1.7zM623 1976h1.7v1.7h-1.7zM620 1984h1.7v1.7h-1.7zM623 1971h1.7v1.7h-1.7zM628 1964h1.7v1.7h-1.7zM627 1965h1.7v1.7h-1.7zM630 1964h1.7v1.7h-1.7zM623 1965h1.7v1.7h-1.7zM627 1967h1.7v1.7h-1.7zM634 1955h1.7v1.7h-1.7zM635 1957h1.7v1.7h-1.7zM635 1956h1.7v1.7h-1.7zM634 1957h1.7v1.7h-1.7zM639 1948h1.7v1.7h-1.7zM641 1949h1.7v1.7h-1.7zM642 1944h1.7v1.7h-1.7zM640 1941h1.7v1.7h-1.7zM645 1936h1.7v1.7h-1.7zM650 1942h1.7v1.7h-1.7zM649 1938h1.7v1.7h-1.7zM651 1940h1.7v1.7h-1.7zM653 1948h1.7v1.7h-1.7zM653 1943h1.7v1.7h-1.7zM653 1947h1.7v1.7h-1.7zM654 1948h1.7v1.7h-1.7zM653 1955h1.7v1.7h-1.7zM655 1956h1.7v1.7h-1.7zM653 1951h1.7v1.7h-1.7zM649 1959h1.7v1.7h-1.7zM650 1957h1.7v1.7h-1.7zM650 1958h1.7v1.7h-1.7zM644 1963h1.7v1.7h-1.7zM645 1960h1.7v1.7h-1.7zM641 1968h1.7v1.7h-1.7zM637 1967h1.7v1.7h-1.7zM635 1972h1.7v1.7h-1.7zM634 1971h1.7v1.7h-1.7zM635 1972h1.7v1.7h-1.7zM637 1969h1.7v1.7h-1.7zM636 1971h1.7v1.7h-1.7zM628 1987h1.7v1.7h-1.7zM629 1984h1.7v1.7h-1.7zM628 1982h1.7v1.7h-1.7zM629 1980h1.7v1.7h-1.7zM627 2002h1.7v1.7h-1.7zM626 1996h1.7v1.7h-1.7zM628 1993h1.7v1.7h-1.7zM628 1995h1.7v1.7h-1.7zM622 2006h1.7v1.7h-1.7zM626 2003h1.7v1.7h-1.7zM623 2002h1.7v1.7h-1.7zM615 2003h1.7v1.7h-1.7zM616 2003h1.7v1.7h-1.7zM618 2002h1.7v1.7h-1.7zM611 1998h1.7v1.7h-1.7zM614 1995h1.7v1.7h-1.7zM611 1995h1.7v1.7h-1.7zM1167 1823h1.7v1.7h-1.7zM1169 1815h1.7v1.7h-1.7zM1168 1815h1.7v1.7h-1.7zM1170 1817h1.7v1.7h-1.7zM1172 1813h1.7v1.7h-1.7zM1178 1813h1.7v1.7h-1.7zM1176 1814h1.7v1.7h-1.7zM1174 1814h1.7v1.7h-1.7zM1183 1812h1.7v1.7h-1.7zM1186 1815h1.7v1.7h-1.7zM1185 1812h1.7v1.7h-1.7zM1184 1815h1.7v1.7h-1.7zM1189 1826h1.7v1.7h-1.7zM1185 1820h1.7v1.7h-1.7zM1183 1834h1.7v1.7h-1.7zM1190 1821h1.7v1.7h-1.7zM1184 1833h1.7v1.7h-1.7zM1179 1837h1.7v1.7h-1.7zM1179 1837h1.7v1.7h-1.7zM1178 1838h1.7v1.7h-1.7zM1176 1837h1.7v1.7h-1.7zM1170 1841h1.7v1.7h-1.7zM1164 1841h1.7v1.7h-1.7zM1167 1841h1.7v1.7h-1.7zM1162 1836h1.7v1.7h-1.7zM1167 1840h1.7v1.7h-1.7zM1165 1837h1.7v1.7h-1.7zM1164 1834h1.7v1.7h-1.7zM1164 1823h1.7v1.7h-1.7zM1164 1822h1.7v1.7h-1.7zM1162 1832h1.7v1.7h-1.7zM1155 1877h1.7v1.7h-1.7zM1155 1873h1.7v1.7h-1.7zM1158 1875h1.7v1.7h-1.7zM1163 1877h1.7v1.7h-1.7zM1164 1876h1.7v1.7h-1.7zM1163 1873h1.7v1.7h-1.7zM1165 1883h1.7v1.7h-1.7zM1168 1880h1.7v1.7h-1.7zM1164 1881h1.7v1.7h-1.7zM1167 1888h1.7v1.7h-1.7zM1171 1889h1.7v1.7h-1.7zM1167 1886h1.7v1.7h-1.7zM1156 1891h1.7v1.7h-1.7zM1159 1891h1.7v1.7h-1.7zM1159 1888h1.7v1.7h-1.7zM1148 1884h1.7v1.7h-1.7zM1151 1878h1.7v1.7h-1.7zM1153 1892h1.7v1.7h-1.7zM1150 1885h1.7v1.7h-1.7zM590 1992h1.7v1.7h-1.7zM596 2000h1.7v1.7h-1.7zM610 1982h1.7v1.7h-1.7zM586 1981h1.7v1.7h-1.7zM595 2002h1.7v1.7h-1.7zM617 1999h1.7v1.7h-1.7zM604 1985h1.7v1.7h-1.7zM628 2004h1.7v1.7h-1.7zM596 1996h1.7v1.7h-1.7zM581 1983h1.7v1.7h-1.7zM612 1992h1.7v1.7h-1.7zM631 1982h1.7v1.7h-1.7zM628 2004h1.7v1.7h-1.7zM598 2006h1.7v1.7h-1.7zM586 1982h1.7v1.7h-1.7zM600 2003h1.7v1.7h-1.7zM608 2006h1.7v1.7h-1.7zM602 1986h1.7v1.7h-1.7zM602 1988h1.7v1.7h-1.7zM602 2002h1.7v1.7h-1.7zM627 2005h1.7v1.7h-1.7zM627 1999h1.7v1.7h-1.7zM582 1986h1.7v1.7h-1.7zM596 1997h1.7v1.7h-1.7zM630 1988h1.7v1.7h-1.7zM621 1995h1.7v1.7h-1.7zM594 1991h1.7v1.7h-1.7zM627 1990h1.7v1.7h-1.7zM608 1980h1.7v1.7h-1.7zM596 1995h1.7v1.7h-1.7zM586 1988h1.7v1.7h-1.7zM634 2003h1.7v1.7h-1.7zM601 2007h1.7v1.7h-1.7zM627 1981h1.7v1.7h-1.7zM579 1981h1.7v1.7h-1.7zM627 1981h1.7v1.7h-1.7zM620 2003h1.7v1.7h-1.7zM633 1994h1.7v1.7h-1.7zM604 1989h1.7v1.7h-1.7zM624 1982h1.7v1.7h-1.7zM1211 1887h1.7v1.7h-1.7zM1163 1886h1.7v1.7h-1.7zM1197 1833h1.7v1.7h-1.7zM1197 1889h1.7v1.7h-1.7zM1158 1827h1.7v1.7h-1.7zM1216 1889h1.7v1.7h-1.7zM1162 1878h1.7v1.7h-1.7zM1193 1879h1.7v1.7h-1.7zM1182 1893h1.7v1.7h-1.7zM1155 1859h1.7v1.7h-1.7zM1167 1873h1.7v1.7h-1.7zM1202 1879h1.7v1.7h-1.7zM1203 1865h1.7v1.7h-1.7zM1149 1868h1.7v1.7h-1.7zM1182 1831h1.7v1.7h-1.7zM1152 1827h1.7v1.7h-1.7zM1175 1883h1.7v1.7h-1.7zM1176 1863h1.7v1.7h-1.7zM1203 1856h1.7v1.7h-1.7zM1152 1835h1.7v1.7h-1.7zM1186 1875h1.7v1.7h-1.7zM1162 1876h1.7v1.7h-1.7zM1180 1874h1.7v1.7h-1.7zM1180 1835h1.7v1.7h-1.7zM1150 1859h1.7v1.7h-1.7zM1155 1816h1.7v1.7h-1.7zM1169 1882h1.7v1.7h-1.7zM1163 1857h1.7v1.7h-1.7zM1152 1887h1.7v1.7h-1.7zM1191 1851h1.7v1.7h-1.7zM1166 1859h1.7v1.7h-1.7zM1163 1837h1.7v1.7h-1.7zM1162 1865h1.7v1.7h-1.7zM1188 1878h1.7v1.7h-1.7zM1170 1878h1.7v1.7h-1.7zM1177 1892h1.7v1.7h-1.7zM1190 1858h1.7v1.7h-1.7zM1154 1843h1.7v1.7h-1.7zM1161 1844h1.7v1.7h-1.7zM1212 1887h1.7v1.7h-1.7zM1160 1884h1.7v1.7h-1.7zM1191 1894h1.7v1.7h-1.7zM1194 1887h1.7v1.7h-1.7zM1170 1892h1.7v1.7h-1.7zM1154 1822h1.7v1.7h-1.7zM1158 1826h1.7v1.7h-1.7zM1190 1868h1.7v1.7h-1.7zM1195 1873h1.7v1.7h-1.7zM1180 1893h1.7v1.7h-1.7zM1172 1838h1.7v1.7h-1.7zM1189 1827h1.7v1.7h-1.7zM1201 1877h1.7v1.7h-1.7zM1150 1836h1.7v1.7h-1.7zM1168 1825h1.7v1.7h-1.7zM1187 1892h1.7v1.7h-1.7zM1161 1869h1.7v1.7h-1.7zM1171 1885h1.7v1.7h-1.7zM1195 1836h1.7v1.7h-1.7zM1158 1873h1.7v1.7h-1.7zM1157 1889h1.7v1.7h-1.7zM1165 1817h1.7v1.7h-1.7zM1158 1882h1.7v1.7h-1.7zM1174 1830h1.7v1.7h-1.7zM1166 1886h1.7v1.7h-1.7zM1187 1824h1.7v1.7h-1.7zM1168 1832h1.7v1.7h-1.7zM1193 1844h1.7v1.7h-1.7zM1170 1835h1.7v1.7h-1.7zM1201 1884h1.7v1.7h-1.7zM1188 1893h1.7v1.7h-1.7z" fill="#00BDD5"/>
<path d="M160 2037h1.7v1.7h-1.7zM170 2033h1.7v1.7h-1.7zM162 2034h1.7v1.7h-1.7zM170 2035h1.7v1.7h-1.7zM179 2041h1.7v1.7h-1.7zM173 2038h1.7v1.7h-1.7zM170 2036h1.7v1.7h-1.7zM175 2038h1.7v1.7h-1.7zM180 2041h1.7v1.7h-1.7zM187 2036h1.7v1.7h-1.7zM187 2038h1.7v1.7h-1.7zM189 2036h1.7v1.7h-1.7zM191 2038h1.7v1.7h-1.7zM193 2038h1.7v1.7h-1.7zM192 2041h1.7v1.7h-1.7zM205 2046h1.7v1.7h-1.7zM205 2052h1.7v1.7h-1.7zM203 2047h1.7v1.7h-1.7zM201 2048h1.7v1.7h-1.7zM201 2049h1.7v1.7h-1.7zM210 2067h1.7v1.7h-1.7zM211 2066h1.7v1.7h-1.7zM207 2054h1.7v1.7h-1.7zM212 2060h1.7v1.7h-1.7zM207 2057h1.7v1.7h-1.7zM209 2072h1.7v1.7h-1.7zM214 2076h1.7v1.7h-1.7zM214 2077h1.7v1.7h-1.7zM213 2073h1.7v1.7h-1.7zM213 2079h1.7v1.7h-1.7zM212 2092h1.7v1.7h-1.7zM212 2086h1.7v1.7h-1.7zM213 2081h1.7v1.7h-1.7zM216 2082h1.7v1.7h-1.7zM213 2083h1.7v1.7h-1.7zM209 2091h1.7v1.7h-1.7zM208 2100h1.7v1.7h-1.7zM209 2098h1.7v1.7h-1.7zM206 2103h1.7v1.7h-1.7zM210 2088h1.7v1.7h-1.7zM208 2106h1.7v1.7h-1.7zM204 2111h1.7v1.7h-1.7zM202 2107h1.7v1.7h-1.7zM202 2104h1.7v1.7h-1.7zM202 2108h1.7v1.7h-1.7zM197 2109h1.7v1.7h-1.7zM204 2109h1.7v1.7h-1.7zM192 2097h1.7v1.7h-1.7zM193 2092h1.7v1.7h-1.7zM194 2098h1.7v1.7h-1.7zM194 2095h1.7v1.7h-1.7zM190 2083h1.7v1.7h-1.7zM189 2080h1.7v1.7h-1.7zM187 2086h1.7v1.7h-1.7zM192 2089h1.7v1.7h-1.7zM189 2080h1.7v1.7h-1.7zM183 2079h1.7v1.7h-1.7zM189 2079h1.7v1.7h-1.7zM177 2080h1.7v1.7h-1.7zM171 2084h1.7v1.7h-1.7zM171 2083h1.7v1.7h-1.7zM173 2084h1.7v1.7h-1.7zM168 2088h1.7v1.7h-1.7zM167 2083h1.7v1.7h-1.7zM164 2091h1.7v1.7h-1.7zM167 2082h1.7v1.7h-1.7zM169 2085h1.7v1.7h-1.7zM160 2079h1.7v1.7h-1.7zM162 2082h1.7v1.7h-1.7zM159 2081h1.7v1.7h-1.7zM159 2081h1.7v1.7h-1.7zM159 2087h1.7v1.7h-1.7zM163 2071h1.7v1.7h-1.7zM159 2076h1.7v1.7h-1.7zM159 2076h1.7v1.7h-1.7zM166 2067h1.7v1.7h-1.7zM162 2074h1.7v1.7h-1.7zM161 2067h1.7v1.7h-1.7zM164 2067h1.7v1.7h-1.7zM158 2058h1.7v1.7h-1.7zM157 2057h1.7v1.7h-1.7zM159 2057h1.7v1.7h-1.7zM160 2044h1.7v1.7h-1.7zM159 2046h1.7v1.7h-1.7zM159 2042h1.7v1.7h-1.7zM160 2051h1.7v1.7h-1.7zM160 2042h1.7v1.7h-1.7zM156 2040h1.7v1.7h-1.7zM159 2043h1.7v1.7h-1.7z" fill="#F17D50"/>
<path d="M1178 1980h1.7v1.7h-1.7zM1180 1975h1.7v1.7h-1.7zM1177 1976h1.7v1.7h-1.7zM1183 1979h1.7v1.7h-1.7zM1180 1978h1.7v1.7h-1.7zM1176 1985h1.7v1.7h-1.7zM1187 1968h1.7v1.7h-1.7zM1182 1975h1.7v1.7h-1.7zM1180 1970h1.7v1.7h-1.7zM1182 1974h1.7v1.7h-1.7zM1189 1961h1.7v1.7h-1.7zM1191 1960h1.7v1.7h-1.7zM1191 1962h1.7v1.7h-1.7zM1191 1963h1.7v1.7h-1.7zM1200 1956h1.7v1.7h-1.7zM1198 1949h1.7v1.7h-1.7zM1200 1948h1.7v1.7h-1.7zM1197 1953h1.7v1.7h-1.7zM1202 1950h1.7v1.7h-1.7zM1201 1949h1.7v1.7h-1.7zM1202 1949h1.7v1.7h-1.7zM1207 1952h1.7v1.7h-1.7zM1213 1964h1.7v1.7h-1.7zM1208 1954h1.7v1.7h-1.7zM1214 1966h1.7v1.7h-1.7zM1207 1957h1.7v1.7h-1.7zM1211 1963h1.7v1.7h-1.7zM1210 1961h1.7v1.7h-1.7zM1214 1971h1.7v1.7h-1.7zM1213 1973h1.7v1.7h-1.7zM1216 1976h1.7v1.7h-1.7zM1216 1971h1.7v1.7h-1.7zM1214 1979h1.7v1.7h-1.7zM1216 1985h1.7v1.7h-1.7zM1211 1992h1.7v1.7h-1.7zM1210 1990h1.7v1.7h-1.7zM1210 1993h1.7v1.7h-1.7zM1209 1990h1.7v1.7h-1.7zM1202 1995h1.7v1.7h-1.7zM1198 1997h1.7v1.7h-1.7zM1197 1996h1.7v1.7h-1.7zM1196 1996h1.7v1.7h-1.7zM1192 1997h1.7v1.7h-1.7zM1188 2000h1.7v1.7h-1.7zM1187 1994h1.7v1.7h-1.7zM1191 1997h1.7v1.7h-1.7zM1181 1998h1.7v1.7h-1.7zM1182 2000h1.7v1.7h-1.7zM1181 1998h1.7v1.7h-1.7zM1177 1991h1.7v1.7h-1.7zM1177 1999h1.7v1.7h-1.7zM1179 1996h1.7v1.7h-1.7zM1180 1990h1.7v1.7h-1.7z" fill="#FC61D4"/>
<path d="M239 2253h1.7v1.7h-1.7zM245 2244h1.7v1.7h-1.7zM262 2264h1.7v1.7h-1.7zM243 2254h1.7v1.7h-1.7zM242 2247h1.7v1.7h-1.7zM242 2246h1.7v1.7h-1.7zM240 2255h1.7v1.7h-1.7zM265 2257h1.7v1.7h-1.7zM261 2263h1.7v1.7h-1.7zM260 2253h1.7v1.7h-1.7zM263 2267h1.7v1.7h-1.7zM256 2253h1.7v1.7h-1.7zM260 2255h1.7v1.7h-1.7zM264 2264h1.7v1.7h-1.7zM264 2248h1.7v1.7h-1.7zM258 2245h1.7v1.7h-1.7zM259 2244h1.7v1.7h-1.7zM258 2261h1.7v1.7h-1.7zM240 2247h1.7v1.7h-1.7zM241 2255h1.7v1.7h-1.7zM243 2254h1.7v1.7h-1.7zM243 2254h1.7v1.7h-1.7zM239 2252h1.7v1.7h-1.7zM259 2257h1.7v1.7h-1.7zM252 2254h1.7v1.7h-1.7z" fill="#00BFC4"/>
<g font-size="16" fill="#111"><text x="452.2" y="1611.6">Neutrophil</text><text x="492.2" y="1636.4">Basophil</text><text x="260.3" y="1758">AM</text><text x="392.6" y="1822.8">iMON</text><text x="654.3" y="1871">Mast</text><text x="291.5" y="1898">IM</text><text x="366.4" y="1901.7">cDC2</text><text x="545.5" y="1932.5">NK</text><text x="632.7" y="1957.7">ILC</text><text x="447.7" y="1985.3">Secretory</text><text x="339.8" y="2000.7">maDC</text><text x="385.7" y="2013">cDC1</text><text x="461.4" y="2026.8">Basal</text><text x="601.5" y="2021.3">Treg</text><text x="158.4" y="2061.7">AF1</text><text x="540.9" y="2070.9">CD8_T</text><text x="569.3" y="2092.5">CD4_T</text><text x="332.9" y="2106.3">Megakaryocyte/Platelet</text><text x="257.1" y="2121.4">VSMC</text><text x="365" y="2122.3">VEC</text><text x="436.2" y="2115.4">LEC</text><text x="137.7" y="2131.5">AF2</text><text x="182.7" y="2146.7">SCMF</text><text x="225.9" y="2143.9">ASMC</text><text x="129.5" y="2157.7">Chondrocyte</text><text x="472.9" y="2153.6">AT1</text><text x="355.8" y="2167.3">CAP1</text><text x="365" y="2167.3">AEC</text><text x="244.3" y="2171.9">Pericyte</text><text x="311.3" y="2183.4">CAP2</text><text x="203.4" y="2251.8">Deuterosomal</text><text x="223.6" y="2258.7">Ciliated</text><text x="376.5" y="2251.8">PNEC</text><text x="378.8" y="2289">PMP</text><text x="280.1" y="2323">AT1/AT2</text><text x="563.8" y="2347.3">B</text><text x="188.2" y="2364.8">Mesothelial</text><text x="297.5" y="2380.8">AT2</text><text x="906.7" y="1641.4">Neutrophil</text><text x="1290.5" y="1684.6">NK</text><text x="904.9" y="1726.4">Basophil</text><text x="1194.1" y="1813.1">Treg</text><text x="971" y="1856.7">iMON</text><text x="1156" y="1851.2">ILC</text><text x="1266.2" y="1859">CD8_T</text><text x="1235.5" y="1888">CD4_T</text><text x="1149.1" y="1894.9">Mast</text><text x="890.6" y="1948.6">cDC1</text><text x="1013.7" y="1955.5">cDC2</text><text x="1074.8" y="1975.2">maDC</text><text x="988.4" y="2023.6">IM</text><text x="793.3" y="2070.4">AM</text><text x="1134.4" y="2081.9">PNEC</text><text x="1111.5" y="2095.7">Deuterosomal</text><text x="1096.3" y="2155.4">CAP1</text><text x="1061.9" y="2163.7">CAP2</text><text x="1356.7" y="2156.8">B</text><text x="998.5" y="2174.2">Ciliated</text><text x="1105.5" y="2189.8">AEC</text><text x="1126.2" y="2200.4">LEC</text><text x="1177.6" y="2207.3">Basal</text><text x="1178.6" y="2207.3">Secretory</text><text x="1064.2" y="2222.4">Megakaryocyte/Platelet</text><text x="993" y="2247.2">Chondrocyte</text><text x="1065.6" y="2247.2">Pericyte</text><text x="1173" y="2251.8">AT1</text><text x="1057.3" y="2273.8">ASMC</text><text x="940.2" y="2283">AF1</text><text x="1090.4" y="2282.1">VSMC</text><text x="988.4" y="2296.8">SCMF</text><text x="998.5" y="2306.9">AF2</text><text x="1170.7" y="2299.1">AT2</text><text x="1100" y="2396.9">Mesothelial</text></g>
<circle cx="1415.1" cy="1429.8" r="5.6" fill="#F8766D"/><circle cx="1415.1" cy="1458.4" r="5.6" fill="#F17D50"/><circle cx="1415.1" cy="1487" r="5.6" fill="#E88526"/><circle cx="1415.1" cy="1515.6" r="5.6" fill="#DE8C00"/><circle cx="1415.1" cy="1544.2" r="5.6" fill="#D39200"/><circle cx="1415.1" cy="1572.8" r="5.6" fill="#C69900"/><circle cx="1415.1" cy="1601.4" r="5.6" fill="#B79F00"/><circle cx="1415.1" cy="1630" r="5.6" fill="#A6A400"/><circle cx="1415.1" cy="1658.6" r="5.6" fill="#93AA00"/><circle cx="1415.1" cy="1687.2" r="5.6" fill="#7CAE00"/><circle cx="1415.1" cy="1715.8" r="5.6" fill="#5EB300"/><circle cx="1415.1" cy="1744.4" r="5.6" fill="#2BB600"/><circle cx="1415.1" cy="1773" r="5.6" fill="#00BA38"/><circle cx="1415.1" cy="1801.6" r="5.6" fill="#00BC5A"/><circle cx="1415.1" cy="1830.2" r="5.6" fill="#00BF74"/><circle cx="1415.1" cy="1858.8" r="5.6" fill="#00C08B"/><circle cx="1415.1" cy="1887.4" r="5.6" fill="#00C19F"/><circle cx="1415.1" cy="1916" r="5.6" fill="#00C0B3"/><circle cx="1415.1" cy="1944.6" r="5.6" fill="#00BFC4"/><circle cx="1415.1" cy="1973.2" r="5.6" fill="#00BDD5"/><circle cx="1415.1" cy="2001.8" r="5.6" fill="#00B9E3"/><circle cx="1415.1" cy="2030.4" r="5.6" fill="#00B4F0"/><circle cx="1415.1" cy="2059" r="5.6" fill="#00ADFA"/><circle cx="1415.1" cy="2087.6" r="5.6" fill="#00A5FF"/><circle cx="1415.1" cy="2116.2" r="5.6" fill="#619CFF"/><circle cx="1415.1" cy="2144.8" r="5.6" fill="#8E92FF"/><circle cx="1415.1" cy="2173.4" r="5.6" fill="#AE87FF"/><circle cx="1415.1" cy="2202" r="5.6" fill="#C77CFF"/><circle cx="1415.1" cy="2230.6" r="5.6" fill="#DB72FB"/><circle cx="1415.1" cy="2259.2" r="5.6" fill="#EA6AF1"/><circle cx="1415.1" cy="2287.8" r="5.6" fill="#F564E3"/><circle cx="1415.1" cy="2316.4" r="5.6" fill="#FC61D4"/><circle cx="1415.1" cy="2345" r="5.6" fill="#FF61C3"/><circle cx="1415.1" cy="2373.6" r="5.6" fill="#FF64B0"/><circle cx="1415.1" cy="2402.2" r="5.6" fill="#FF699C"/><circle cx="1415.1" cy="2430.8" r="5.6" fill="#FD6F86"/>
<g font-size="21.8"><text x="1442.6" y="1438">AEC</text><text x="1442.6" y="1466.6">AF1</text><text x="1442.6" y="1495.2">AF2</text><text x="1442.6" y="1523.8">AM</text><text x="1442.6" y="1552.4">ASMC</text><text x="1442.6" y="1581">AT1</text><text x="1442.6" y="1609.6">AT2</text><text x="1442.6" y="1638.2">B</text><text x="1442.6" y="1666.8">Basal</text><text x="1442.6" y="1695.4">Basophil</text><text x="1442.6" y="1724">CAP1</text><text x="1442.6" y="1752.6">CAP2</text><text x="1442.6" y="1781.2">CD4_T</text><text x="1442.6" y="1809.8">CD8_T</text><text x="1442.6" y="1838.4">cDC1</text><text x="1442.6" y="1867">cDC2</text><text x="1442.6" y="1895.6">Chondrocyte</text><text x="1442.6" y="1924.2">Ciliated</text><text x="1442.6" y="1952.8">Deuterosomal</text><text x="1442.6" y="1981.4">ILC</text><text x="1442.6" y="2010">IM</text><text x="1442.6" y="2038.6">iMON</text><text x="1442.6" y="2067.2">LEC</text><text x="1442.6" y="2095.8">maDC</text><text x="1442.6" y="2124.4">Mast</text><text x="1442.6" y="2153">Megakaryocyte/Platelet</text><text x="1442.6" y="2181.6">Mesothelial</text><text x="1442.6" y="2210.2">Neutrophil</text><text x="1442.6" y="2238.8">NK</text><text x="1442.6" y="2267.4">Pericyte</text><text x="1442.6" y="2296">PNEC</text><text x="1442.6" y="2324.6">SCMF</text><text x="1442.6" y="2353.2">Secretory</text><text x="1442.6" y="2381.8">Treg</text><text x="1442.6" y="2410.4">VEC</text><text x="1442.6" y="2439">VSMC</text></g>
</svg></body></html>
